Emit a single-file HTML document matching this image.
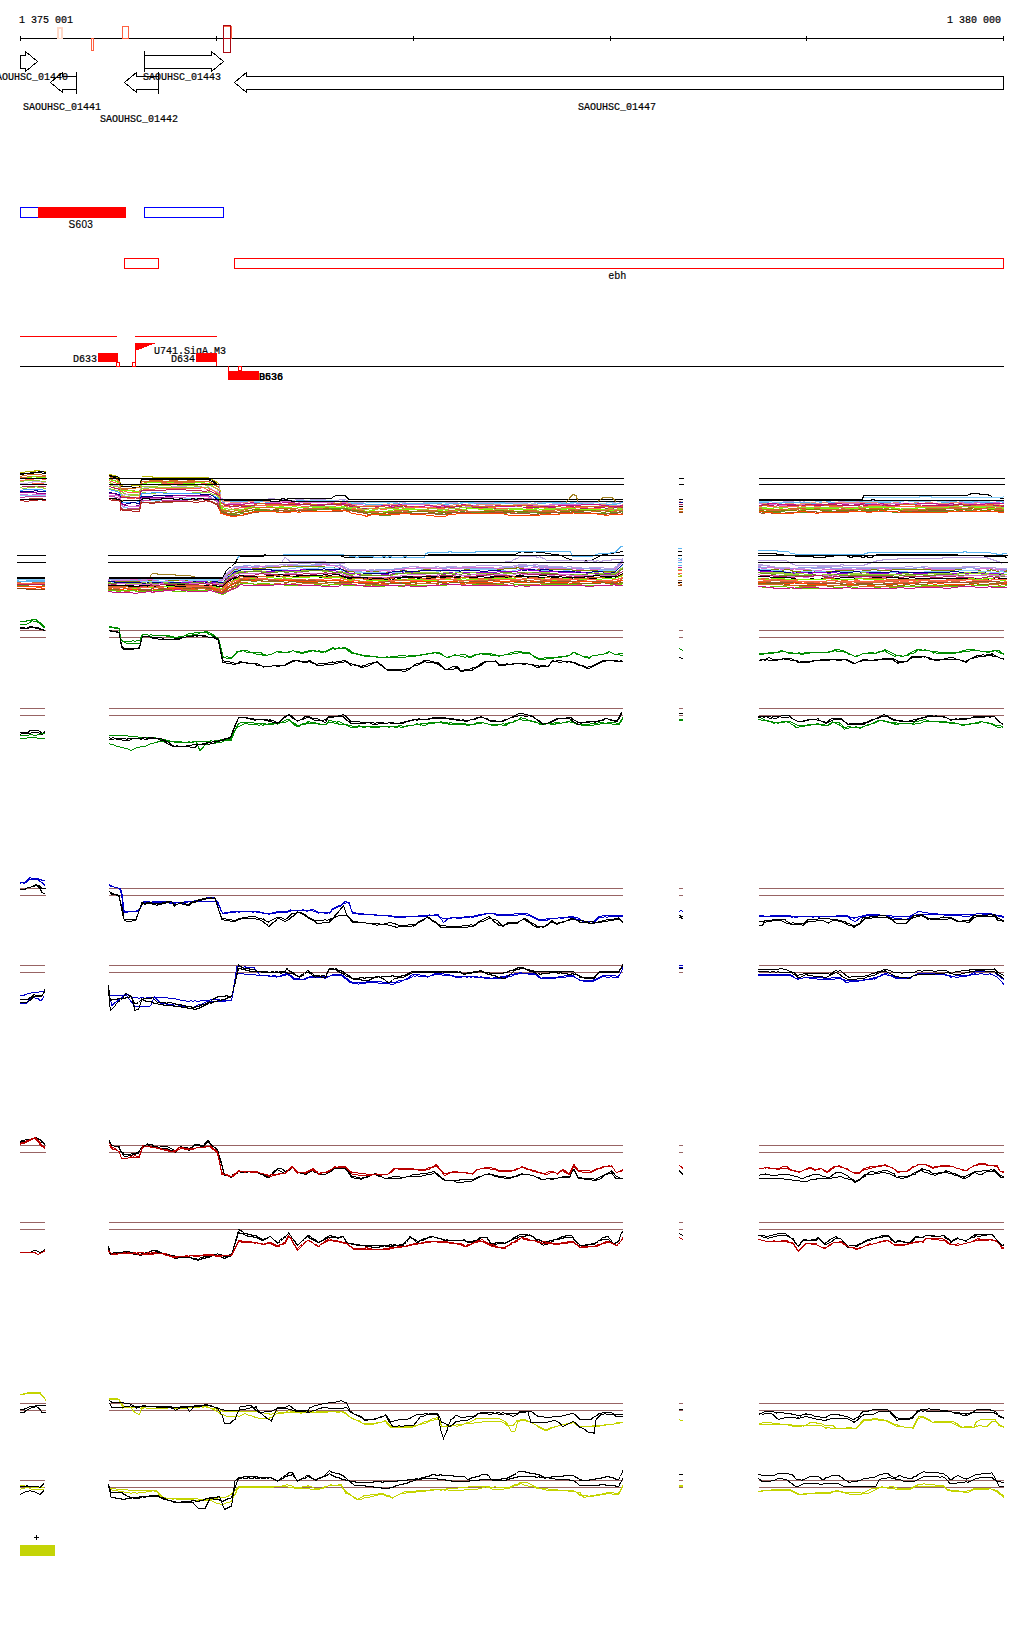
<!DOCTYPE html>
<html><head><meta charset="utf-8"><title>Genome browser</title>
<style>html,body{margin:0;padding:0;background:#fff;overflow:hidden;width:1024px;height:1640px;}svg{display:block;}</style></head>
<body><svg width="1024" height="1640" viewBox="0 0 1024 1640" shape-rendering="crispEdges">
<text x="19" y="23" font-family="Liberation Mono, monospace" font-size="10" stroke="#000" stroke-width="0.2" >1 375 001</text>
<text x="947" y="23" font-family="Liberation Mono, monospace" font-size="10" stroke="#000" stroke-width="0.2" >1 380 000</text>
<line x1="20" y1="38.5" x2="1004" y2="38.5" stroke="#000" stroke-width="1"/>
<line x1="20.5" y1="36" x2="20.5" y2="41" stroke="#000" stroke-width="1"/>
<line x1="216.5" y1="36" x2="216.5" y2="41" stroke="#000" stroke-width="1"/>
<line x1="413.5" y1="36" x2="413.5" y2="41" stroke="#000" stroke-width="1"/>
<line x1="610.5" y1="36" x2="610.5" y2="41" stroke="#000" stroke-width="1"/>
<line x1="806.5" y1="36" x2="806.5" y2="41" stroke="#000" stroke-width="1"/>
<line x1="1003.5" y1="36" x2="1003.5" y2="41" stroke="#000" stroke-width="1"/>
<rect x="57.5" y="27.5" width="5" height="11" fill="none" stroke="#ffd9c8" stroke-width="1"/>
<rect x="58.5" y="28.5" width="3" height="10" fill="none" stroke="#ffd9c8" stroke-width="1"/>
<rect x="91.5" y="38.5" width="2" height="12" fill="none" stroke="#ff6040" stroke-width="1"/>
<rect x="122.5" y="26.5" width="6" height="12" fill="none" stroke="#ff6040" stroke-width="1"/>
<rect x="223.5" y="26.5" width="8" height="12" fill="none" stroke="#ff6040" stroke-width="1"/>
<rect x="223.5" y="25.5" width="7" height="27" fill="none" stroke="#a80812" stroke-width="1"/>
<line x1="223.5" y1="38.5" x2="230.5" y2="38.5" stroke="#a80812" stroke-width="1"/>
<polygon points="20.5,55.5 25.5,55.5 25.5,51.5 37.5,61.5 25.5,71.5 25.5,68.5 20.5,68.5" fill="none" stroke="#000" stroke-width="1"/>
<polygon points="50.5,82.5 62.5,72.5 62.5,76.5 76.5,76.5 76.5,89.5 62.5,89.5 62.5,92.5" fill="none" stroke="#000" stroke-width="1"/>
<line x1="76.5" y1="72" x2="76.5" y2="94" stroke="#000" stroke-width="1"/>
<polygon points="124.5,82.5 136.5,72.5 136.5,76.5 158.5,76.5 158.5,89.5 136.5,89.5 136.5,92.5" fill="none" stroke="#000" stroke-width="1"/>
<line x1="158.5" y1="72" x2="158.5" y2="94" stroke="#000" stroke-width="1"/>
<polygon points="144.5,55.5 211.5,55.5 211.5,51.5 223.5,61.5 211.5,71.5 211.5,68.5 144.5,68.5" fill="none" stroke="#000" stroke-width="1"/>
<line x1="144.5" y1="51" x2="144.5" y2="72" stroke="#000" stroke-width="1"/>
<polygon points="234.5,82.5 246.5,72.5 246.5,76.5 1003.5,76.5 1003.5,89.5 246.5,89.5 246.5,92.5" fill="none" stroke="#000" stroke-width="1"/>
<text x="-10" y="80" font-family="Liberation Mono, monospace" font-size="10" stroke="#000" stroke-width="0.2" >SAOUHSC_01440</text>
<text x="23" y="110" font-family="Liberation Mono, monospace" font-size="10" stroke="#000" stroke-width="0.2" >SAOUHSC_01441</text>
<text x="100" y="122" font-family="Liberation Mono, monospace" font-size="10" stroke="#000" stroke-width="0.2" >SAOUHSC_01442</text>
<text x="143" y="80" font-family="Liberation Mono, monospace" font-size="10" stroke="#000" stroke-width="0.2" >SAOUHSC_01443</text>
<text x="578" y="110" font-family="Liberation Mono, monospace" font-size="10" stroke="#000" stroke-width="0.2" >SAOUHSC_01447</text>
<rect x="20.5" y="207.5" width="105" height="10" fill="none" stroke="#0000ff" stroke-width="1"/>
<rect x="38" y="207" width="88" height="11" fill="#ff0000"/>
<rect x="144.5" y="207.5" width="79" height="10" fill="none" stroke="#0000ff" stroke-width="1"/>
<text x="68.5" y="228" letter-spacing="0.35" font-family="Liberation Sans, Arial, sans-serif" font-size="10" stroke="#000" stroke-width="0.15">S603</text>
<rect x="124.5" y="258.5" width="34" height="10" fill="none" stroke="#ff0000" stroke-width="1"/>
<rect x="234.5" y="258.5" width="769" height="10" fill="none" stroke="#ff0000" stroke-width="1"/>
<text x="608.5" y="279" letter-spacing="0.4" font-family="Liberation Sans, Arial, sans-serif" font-size="10" stroke="#000" stroke-width="0.15">ebh</text>
<line x1="20" y1="336.5" x2="117" y2="336.5" stroke="#ff0000" stroke-width="1"/>
<line x1="135" y1="336.5" x2="217" y2="336.5" stroke="#ff0000" stroke-width="1"/>
<line x1="20" y1="366.5" x2="1004" y2="366.5" stroke="#000" stroke-width="1"/>
<rect x="98" y="353" width="20" height="9" fill="#ff0000"/>
<text x="73" y="362" font-family="Liberation Mono, monospace" font-size="10" stroke="#000" stroke-width="0.2" >D633</text>
<rect x="116.5" y="362.5" width="3" height="4" fill="none" stroke="#ff0000" stroke-width="1"/>
<rect x="132.5" y="362.5" width="3" height="4" fill="none" stroke="#ff0000" stroke-width="1"/>
<line x1="135.5" y1="343" x2="135.5" y2="362" stroke="#ff0000" stroke-width="1"/>
<polygon points="135,343 156,343 135,351" fill="#ff0000"/>
<text x="154" y="354" font-family="Liberation Mono, monospace" font-size="10" stroke="#000" stroke-width="0.2" >U741.SigA.M3</text>
<text x="171" y="362" font-family="Liberation Mono, monospace" font-size="10" stroke="#000" stroke-width="0.2" >D634</text>
<rect x="196" y="353" width="21" height="9" fill="#ff0000"/>
<line x1="216.5" y1="353" x2="216.5" y2="366" stroke="#ff0000" stroke-width="1"/>
<line x1="228.5" y1="366" x2="228.5" y2="371" stroke="#ff0000" stroke-width="1"/>
<rect x="228" y="371" width="31" height="9" fill="#ff0000"/>
<rect x="238.5" y="366.5" width="3" height="4" fill="none" stroke="#ff0000" stroke-width="1"/>
<text x="259" y="380" font-family="Liberation Mono, monospace" font-size="10" stroke="#000" stroke-width="0.2" >D636</text>
<text x="259" y="380" font-family="Liberation Mono, monospace" font-size="10" stroke="#000" stroke-width="0.2" >B536</text>
<path d="M34,1537.5H39M36.5,1535V1540" stroke="#000" stroke-width="1.2" fill="none"/>
<rect x="20" y="1545" width="35" height="11" fill="#c4d406"/>
<polyline points="109,474.5 117,477.5 117.2,477.5 119,477.5 120,482.5 120.5,484.5 121,485.5 124,484.5 125.8,484.5 135.4,485.5 139.5,485.5 140,484.5 141,480.5 141.5,478.5 143.5,478.5 153.0,478.5 156.2,478.5 162.5,478.5 172.1,477.5 179.6,478.5 188.9,478.5 192.7,479.5 199.0,479.5 203.7,478.5 208.7,478.5 210.5,478.5 210.5,478.5 217.5,482.5 217.5,482.5 219,483.5 220.6,494.5 221,497.5" fill="none" stroke="#b4b400" stroke-width="1"/>
<polyline points="109,475.5 114.2,477.5 117,478.5 119,479.5 120,483.5 120.5,485.5 121,486.5 122.9,486.5 124,486.5 129.3,486.5 134.5,487.5 139.5,487.5 140,486.5 140.8,482.5 141,481.5 141.5,478.5 148.8,479.5 152.2,479.5 162.0,479.5 165.2,479.5 173.4,479.5 182.3,479.5 185.5,478.5 194.0,478.5 199.5,477.5 206.6,477.5 208.7,478.5 209.6,480.5 210.5,479.5 213.0,480.5 217.2,484.5 217.5,484.5 219,484.5 221,498.5" fill="none" stroke="#000000" stroke-width="1"/>
<polyline points="109,476.5 117,479.5 117.8,480.5 119,481.5 120,485.5 120.5,487.5 121,488.5 124.0,488.5 124,488.5 129.9,488.5 133.3,488.5 139.5,487.5 140,487.5 141,483.5 141.5,481.5 142.7,481.5 146.0,481.5 152.4,480.5 161.3,480.5 165.2,479.5 173.3,480.5 183.0,481.5 190.4,480.5 198.9,481.5 202.6,481.5 208.7,481.5 208.7,481.5 210.5,482.5 212.7,483.5 217.5,486.5 219,486.5 221,499.5" fill="none" stroke="#d2691e" stroke-width="1"/>
<polyline points="109,478.5 116.8,481.5 117,481.5 119,482.5 120,486.5 120.5,489.5 121,490.5 121.9,489.5 124,489.5 131.5,490.5 139.1,491.5 139.5,490.5 140,490.5 141,485.5 141.5,483.5 146.1,482.5 149.2,482.5 156.0,482.5 160.8,482.5 168.5,482.5 174.7,482.5 183.4,482.5 191.0,482.5 199.6,482.5 205.0,481.5 208.7,481.5 210.5,482.5 212.5,484.5 217.5,486.5 219,487.5 220.7,498.5 221,499.5" fill="none" stroke="#cd6839" stroke-width="1"/>
<polyline points="109,479.5 113.6,480.5 117.0,481.5 117,481.5 119,483.5 120,487.5 120.5,489.5 120.9,490.5 121,490.5 124,490.5 126.1,490.5 130.4,490.5 134.7,491.5 138.0,491.5 139.5,492.5 140,491.5 141,485.5 141.5,484.5 144.3,483.5 149.9,482.5 157.2,482.5 164.3,483.5 169.0,482.5 178.3,483.5 181.3,483.5 187.2,483.5 192.1,483.5 198.0,482.5 201.8,482.5 208.7,483.5 210.5,483.5 210.6,484.5 216.2,488.5 217.5,488.5 219,489.5 219.5,492.5 221,501.5" fill="none" stroke="#7cfc00" stroke-width="1"/>
<polyline points="109,480.5 114.2,482.5 117,483.5 119,483.5 120,487.5 120.5,490.5 121,491.5 124,492.5 124.1,491.5 130.6,492.5 135.6,492.5 139.5,492.5 140,491.5 141,486.5 141.5,484.5 141.9,484.5 145.8,484.5 153.1,484.5 159.2,484.5 164.3,483.5 172.7,483.5 181.5,483.5 184.6,484.5 191.4,485.5 196.3,484.5 205.8,483.5 208.7,484.5 210.5,485.5 214.3,487.5 217.5,489.5 219,490.5 219.0,490.5 221,502.5" fill="none" stroke="#ff6347" stroke-width="1"/>
<polyline points="109,482.5 114.7,484.5 117,484.5 119,484.5 120,488.5 120.5,491.5 121,493.5 123.7,492.5 124,493.5 128.1,494.5 133.2,494.5 139.5,494.5 140,492.5 141,488.5 141.5,485.5 142.0,486.5 145.4,486.5 154.3,486.5 162.1,485.5 168.2,485.5 173.2,486.5 181.6,485.5 191.0,485.5 195.0,485.5 201.4,484.5 208.2,485.5 208.7,484.5 210.5,485.5 214.7,487.5 217.5,488.5 219,490.5 220.0,496.5 221,502.5" fill="none" stroke="#9acd32" stroke-width="1"/>
<polyline points="109,484.5 112.9,485.5 117,485.5 119.0,486.5 119,486.5 120,489.5 120.5,492.5 121,494.5 124,495.5 124.2,494.5 131.4,495.5 137.8,495.5 139.5,494.5 140,494.5 141,488.5 141.5,488.5 147.4,487.5 153.0,487.5 156.4,488.5 164.3,487.5 168.3,487.5 175.7,486.5 182.3,486.5 191.6,487.5 198.5,487.5 205.9,487.5 208.7,486.5 210.5,488.5 210.7,488.5 217.5,492.5 217.6,491.5 219,493.5 221,503.5" fill="none" stroke="#c8a8e8" stroke-width="1"/>
<polyline points="109,484.5 114.3,486.5 117,486.5 119,487.5 120,489.5 120.5,493.5 121,495.5 121.6,495.5 124,496.5 127.1,496.5 132.8,495.5 136.7,495.5 139.5,495.5 140,494.5 141,489.5 141.5,488.5 145.5,488.5 153.1,487.5 161.7,487.5 167.7,487.5 176.7,487.5 183.3,487.5 190.5,487.5 197.5,486.5 205.7,487.5 208.7,487.5 210.5,489.5 211.4,489.5 215.1,491.5 217.5,492.5 218.3,494.5 219,493.5 221,504.5" fill="none" stroke="#9acd32" stroke-width="1"/>
<polyline points="109,486.5 116.7,488.5 117,488.5 119,488.5 120,490.5 120.5,494.5 121,496.5 124,496.5 124.8,497.5 129.0,498.5 133.4,498.5 136.6,497.5 139.5,497.5 140,495.5 141,491.5 141.2,490.5 141.5,490.5 144.7,489.5 150.5,489.5 160.3,488.5 165.9,488.5 171.1,488.5 177.3,488.5 182.3,488.5 190.5,488.5 198.5,488.5 202.6,487.5 207.3,489.5 208.7,488.5 210.5,489.5 215.0,491.5 217.5,493.5 219,494.5 221,504.5" fill="none" stroke="#ff6347" stroke-width="1"/>
<polyline points="109,486.5 115.8,488.5 117,488.5 119,489.5 120,492.5 120.5,495.5 121,497.5 124,497.5 125.2,497.5 132.4,497.5 139.5,498.5 140,497.5 141,491.5 141.4,490.5 141.5,490.5 145.9,490.5 149.1,490.5 155.8,490.5 162.2,490.5 169.2,489.5 174.9,489.5 182.2,489.5 190.3,490.5 199.7,490.5 204.9,491.5 208.7,490.5 210.5,491.5 211.0,491.5 217.5,494.5 219,497.5 219.8,500.5 221,507.5" fill="none" stroke="#b0205a" stroke-width="1"/>
<polyline points="109,488.5 116.9,490.5 117,490.5 119,490.5 120,492.5 120.5,496.5 121,500.5 121.8,500.5 124,500.5 130.5,500.5 136.1,500.5 139.5,501.5 140,499.5 140.1,499.5 141,495.5 141.5,493.5 143.5,492.5 147.7,493.5 152.5,493.5 160.3,492.5 165.3,492.5 168.7,493.5 177.1,493.5 184.0,493.5 187.2,493.5 190.5,493.5 194.4,492.5 199.9,492.5 208.7,492.5 208.9,491.5 210.5,493.5 217.5,495.5 218.6,497.5 219,498.5 221,507.5" fill="none" stroke="#9acd32" stroke-width="1"/>
<polyline points="109,489.5 113.5,490.5 117,491.5 118.4,492.5 119,492.5 120,494.5 120.5,498.5 121,501.5 122.9,502.5 124,502.5 129.8,502.5 135.3,502.5 139.5,501.5 140,500.5 141,495.5 141.5,493.5 143.6,493.5 148.2,493.5 153.7,492.5 158.4,492.5 168.3,493.5 177.2,493.5 186.1,493.5 193.5,493.5 199.3,493.5 203.3,494.5 208.7,494.5 210.5,494.5 212.1,495.5 217.5,497.5 218.5,499.5 219,499.5 221,508.5" fill="none" stroke="#3c9cff" stroke-width="1"/>
<polyline points="109,492.5 115.7,493.5 117,494.5 119,494.5 120,495.5 120.5,499.5 120.6,500.5 121,502.5 124,504.5 124.2,504.5 127.8,503.5 133.3,502.5 139.5,503.5 140,501.5 140.4,499.5 141,497.5 141.5,496.5 148.7,496.5 156.7,495.5 161.8,495.5 171.3,495.5 176.2,495.5 184.3,495.5 187.8,495.5 196.0,495.5 203.7,494.5 208.7,494.5 210.5,494.5 213.4,496.5 217.5,499.5 219,500.5 221,508.5" fill="none" stroke="#000080" stroke-width="1"/>
<polyline points="109,493.5 113.6,493.5 117,494.5 117.0,494.5 119,495.5 120,497.5 120.5,501.5 121,503.5 124.0,504.5 124,505.5 132.8,506.5 139.5,505.5 140,504.5 141,498.5 141.5,498.5 141.9,497.5 150.0,497.5 155.9,497.5 161.9,497.5 168.6,496.5 178.0,495.5 183.1,495.5 188.0,495.5 195.3,495.5 205.0,495.5 208.7,495.5 209.4,496.5 210.5,496.5 212.6,498.5 216.4,500.5 217.5,500.5 219,503.5 221,511.5" fill="none" stroke="#8b008b" stroke-width="1"/>
<polyline points="109,495.5 117,495.5 118.8,496.5 119,496.5 120,497.5 120.5,500.5 121,504.5 122.5,505.5 124,506.5 126.2,507.5 129.7,506.5 134.1,506.5 139.5,506.5 139.7,505.5 140,505.5 141,499.5 141.5,498.5 145.9,498.5 153.7,498.5 161.9,498.5 165.5,497.5 171.3,497.5 178.1,497.5 183.7,497.5 187.6,496.5 194.7,496.5 200.4,496.5 208.1,496.5 208.7,497.5 210.5,497.5 214.6,499.5 217.5,501.5 219,503.5 221,509.5" fill="none" stroke="#da70d6" stroke-width="1"/>
<polyline points="109,496.5 112.0,496.5 117,497.5 119,498.5 120,499.5 120.4,502.5 120.5,502.5 121,505.5 124,507.5 125.9,507.5 129.0,508.5 133.8,508.5 139.5,509.5 140,506.5 140.0,506.5 141,501.5 141.5,501.5 145.7,500.5 152.3,500.5 155.7,500.5 160.2,500.5 170.0,500.5 176.1,499.5 182.4,499.5 186.0,498.5 191.0,498.5 200.7,498.5 208.5,498.5 208.7,498.5 210.5,497.5 215.0,500.5 217.5,501.5 218.4,503.5 219,505.5 221,512.5" fill="none" stroke="#87cefa" stroke-width="1"/>
<polyline points="109,496.5 112.1,496.5 117,497.5 119,498.5 120,498.5 120.5,503.5 120.9,506.5 121,507.5 124,509.5 130.7,508.5 137.8,508.5 139.5,508.5 140,506.5 141,501.5 141.5,500.5 141.8,500.5 146.5,500.5 155.9,499.5 165.5,500.5 168.7,500.5 173.0,500.5 179.0,500.5 183.8,500.5 192.1,499.5 197.7,499.5 206.2,498.5 208.7,498.5 210.2,498.5 210.5,498.5 216.8,501.5 217.5,502.5 219,505.5 221,512.5" fill="none" stroke="#c040a0" stroke-width="1"/>
<polyline points="109,498.5 115.7,499.5 117,499.5 119,499.5 120,500.5 120.5,504.5 121,508.5 123.7,509.5 124,509.5 133.3,509.5 139.5,509.5 140,507.5 141,502.5 141.5,501.5 142.9,502.5 152.8,502.5 157.9,501.5 162.1,502.5 171.6,502.5 175.2,501.5 181.3,501.5 189.5,501.5 196.2,500.5 201.9,501.5 208.7,500.5 210.5,501.5 211.4,501.5 216.5,503.5 217.5,503.5 219,507.5 221,512.5" fill="none" stroke="#a0522d" stroke-width="1"/>
<polyline points="109,499.5 112.3,500.5 117,500.5 119,500.5 120,501.5 120.5,505.5 121,510.5 121.1,509.5 124,510.5 127.5,510.5 136.6,511.5 139.5,511.5 139.9,509.5 140,509.5 141,503.5 141.5,502.5 147.0,502.5 150.9,503.5 158.9,502.5 166.2,501.5 173.5,501.5 178.0,501.5 187.7,501.5 191.4,501.5 194.9,502.5 202.7,501.5 206.3,500.5 208.7,501.5 209.8,501.5 210.5,501.5 216.0,504.5 217.5,505.5 219,508.5 221,512.5" fill="none" stroke="#b22222" stroke-width="1"/>
<polyline points="219,484.5 221,498.5 224.5,499.5 225.8,499.5 231.6,500.5 235.1,499.5 241.9,500.5 242.1,500.5 249.6,499.5 254.4,500.5 255.5,499.5 264.0,499.5 272.9,498.5 277.9,499.5 281.7,499.5 285,499.5 286.5,500.5 292.0,500.5 297.6,499.5 301.2,499.5 306.1,500.5 313.5,499.5 321.0,499.5 330.6,500.5 334.5,500.5 342.9,499.5 345,499.5 346.8,500.5 348.2,501.5 350,501.5 351.9,502.5 359.4,502.5 367.9,501.5 368.3,501.5 375.3,501.5 378.7,502.5 388.5,502.5 389,502.5 394.2,502.5 401.6,501.5 403,502.5 409.7,501.5 414.5,501.5 420.4,501.5 425.7,502.5 429.4,501.5 432.8,502.5 440.8,502.5 445.2,502.5 446.7,502.5 455.8,502.5 459.2,503.5 460,503.5 464.3,502.5 468.6,502.5 478.2,502.5 486.7,502.5 496.0,502.5 502.6,502.5 506.3,502.5 512.2,502.5 516.8,502.5 520.0,502.5 526.9,503.5 532.0,501.5 535.7,502.5 537.9,502.5 542.3,502.5 551.8,502.5 561.4,502.5 567.7,503.5 571.4,503.5 573,502.5 579.8,502.5 583.6,502.5 590.4,502.5 594.0,502.5 603.9,503.5 610.7,502.5 615.2,502.5 616.7,501.5 621.6,502.5 623,502.5" fill="none" stroke="#b8a0e0" stroke-width="1"/>
<polyline points="219,486.5 221,499.5 222.3,499.5 224.5,500.5 229.0,500.5 231.6,500.5 235.4,500.5 239.2,500.5 242.1,501.5 243.7,501.5 253.5,501.5 254.4,501.5 262.4,501.5 267.1,501.5 275.9,501.5 283.5,501.5 285,501.5 289.2,501.5 296.7,501.5 297.6,501.5 301.3,501.5 306.2,501.5 309.3,500.5 316.9,500.5 323.9,500.5 332.1,500.5 338.7,501.5 344.7,500.5 345,501.5 346.8,502.5 349.9,503.5 350,502.5 358.0,503.5 363.6,503.5 367.9,502.5 370.8,502.5 379.1,502.5 385.2,502.5 389,502.5 393.0,502.5 396.4,501.5 401.3,502.5 403,503.5 410.1,503.5 414.2,503.5 417.6,504.5 420.7,503.5 429.0,502.5 432.8,502.5 439.0,502.5 445.1,502.5 445.2,503.5 453.7,503.5 460,503.5 460.0,503.5 466.7,504.5 469.8,503.5 478.4,503.5 486.8,503.5 494.1,503.5 503.0,503.5 510.3,503.5 518.3,503.5 527.3,502.5 534.6,503.5 537.7,502.5 537.9,503.5 546.9,502.5 556.8,503.5 561.2,503.5 564.7,502.5 570.1,503.5 573,503.5 573.8,502.5 579.4,503.5 583.0,503.5 587.5,503.5 590.6,503.5 596.6,502.5 601.7,503.5 609.8,502.5 615.2,503.5 615.5,503.5 619.6,503.5 623,502.5" fill="none" stroke="#87cefa" stroke-width="1"/>
<polyline points="219,487.5 221,500.5 224.5,502.5 225.3,501.5 231.4,501.5 231.6,501.5 235.4,501.5 240.4,501.5 242.1,501.5 246.5,501.5 250.0,501.5 254.4,502.5 257.8,502.5 262.5,501.5 267.5,502.5 271.1,502.5 276.2,501.5 285,501.5 285.8,501.5 290.8,501.5 294.5,501.5 297.6,500.5 299.9,500.5 309.5,501.5 313.1,501.5 318.5,501.5 323.0,501.5 330.8,501.5 337.0,501.5 340.7,501.5 345,501.5 346.8,501.5 349.7,503.5 350,503.5 355.0,503.5 362.8,503.5 367.9,504.5 369.0,504.5 378.1,504.5 381.5,504.5 386.1,504.5 389,503.5 391.1,504.5 395.9,503.5 403,504.5 404.7,503.5 411.2,503.5 416.6,503.5 423.2,503.5 432.1,503.5 439.1,503.5 445.2,504.5 445.3,504.5 452.9,503.5 460,503.5 460.2,502.5 466.0,502.5 472.0,502.5 475.9,503.5 482.0,503.5 491.1,503.5 496.3,502.5 501.8,502.5 509.1,503.5 516.2,504.5 520.4,504.5 526.5,505.5 534.7,505.5 537.9,504.5 538.0,503.5 541.7,503.5 550.0,502.5 559.4,502.5 562.8,503.5 566.4,503.5 573,502.5 573.8,502.5 578.8,503.5 586.4,504.5 589.6,504.5 595.8,504.5 599.9,504.5 605.3,504.5 613.1,504.5 615.2,504.5 619.7,503.5 623,502.5" fill="none" stroke="#5ab4f0" stroke-width="1"/>
<polyline points="219,487.5 221,499.5 224.5,501.5 225.2,501.5 229.0,501.5 231.6,502.5 232.6,502.5 237.3,502.5 242.1,502.5 242.9,502.5 252.6,501.5 254.4,500.5 259.0,500.5 267.9,501.5 276.1,501.5 283.2,501.5 285,501.5 288.5,501.5 294.2,501.5 297.6,501.5 299.5,502.5 306.9,502.5 315.9,502.5 324.4,502.5 329.5,503.5 333.5,502.5 336.6,501.5 343.7,502.5 345,502.5 346.8,502.5 348.3,503.5 350,503.5 351.3,504.5 356.4,504.5 361.0,504.5 365.5,505.5 367.9,505.5 373.1,505.5 380.2,505.5 385.2,504.5 389,504.5 393.3,504.5 397.8,504.5 403,504.5 407.2,504.5 411.0,504.5 418.2,504.5 426.1,504.5 434.2,505.5 440.6,504.5 445.2,505.5 449.7,505.5 457.2,504.5 460,505.5 465.0,504.5 468.5,504.5 472.8,505.5 479.1,504.5 485.9,504.5 489.6,504.5 497.8,504.5 503.2,505.5 509.5,505.5 516.2,504.5 525.1,504.5 530.2,504.5 537.1,504.5 537.9,505.5 544.3,505.5 551.9,505.5 557.1,504.5 562.1,504.5 568.4,504.5 573,505.5 575.6,505.5 583.1,504.5 587.0,504.5 593.1,504.5 600.1,504.5 604.4,504.5 608.1,505.5 615.2,505.5 617.6,505.5 620.8,505.5 623,504.5" fill="none" stroke="#e9967a" stroke-width="1"/>
<polyline points="219,490.5 221,502.5 224.5,503.5 225.9,504.5 229.3,503.5 231.6,503.5 239.0,503.5 242.1,502.5 244.2,503.5 250.7,503.5 254.0,503.5 254.4,503.5 258.3,503.5 267.8,503.5 272.8,502.5 277.9,502.5 285,501.5 286.6,501.5 291.3,501.5 297.6,501.5 298.9,502.5 305.9,502.5 315.2,502.5 321.5,502.5 326.8,502.5 331.6,502.5 337.2,503.5 340.2,503.5 344.0,502.5 345,502.5 346.8,503.5 348.1,504.5 350,504.5 353.3,505.5 361.6,504.5 367.9,506.5 371.2,506.5 376.7,506.5 381.5,505.5 386.5,505.5 389,506.5 393.9,506.5 400.3,505.5 403,504.5 404.1,504.5 410.8,504.5 415.6,504.5 419.6,504.5 428.1,505.5 431.9,506.5 438.0,506.5 445.2,506.5 446.3,505.5 453.1,506.5 460,506.5 462.2,505.5 467.5,506.5 477.1,505.5 480.4,506.5 489.6,505.5 495.6,506.5 498.6,506.5 503.5,506.5 513.4,506.5 521.4,505.5 529.6,505.5 537.9,505.5 538.2,506.5 541.3,506.5 546.4,505.5 552.7,504.5 562.0,504.5 571.4,504.5 573,504.5 575.5,504.5 585.4,504.5 592.2,504.5 597.4,504.5 601.0,505.5 606.9,505.5 613.6,506.5 615.2,506.5 619.8,505.5 623,505.5" fill="none" stroke="#da70d6" stroke-width="1"/>
<polyline points="219,491.5 221,502.5 223.4,503.5 224.5,504.5 231.5,504.5 231.6,504.5 239.8,504.5 242.1,504.5 247.1,503.5 253.5,502.5 254.4,503.5 261.5,503.5 267.5,503.5 271.9,503.5 276.4,503.5 280.2,503.5 283.5,502.5 285,502.5 293.1,502.5 297.6,503.5 302.8,504.5 308.2,503.5 314.1,504.5 319.0,504.5 327.5,504.5 334.0,503.5 338.2,503.5 345,503.5 346.8,504.5 347.3,504.5 350,504.5 356.8,506.5 360.2,506.5 366.4,506.5 367.9,506.5 370.9,506.5 378.4,506.5 383.9,505.5 389.0,505.5 389,506.5 394.1,505.5 401.4,504.5 403,505.5 407.9,506.5 414.3,506.5 422.1,506.5 428.4,505.5 438.0,506.5 444.1,505.5 445.2,506.5 452.6,506.5 460,505.5 462.1,504.5 469.5,505.5 476.6,506.5 485.1,506.5 493.1,506.5 497.5,505.5 503.4,506.5 507.5,506.5 510.6,506.5 518.5,505.5 523.8,505.5 528.5,505.5 531.7,505.5 534.9,506.5 537.9,506.5 542.6,506.5 548.1,506.5 554.1,506.5 561.9,505.5 571.2,505.5 573,505.5 579.1,505.5 583.7,504.5 593.6,504.5 597.9,504.5 604.9,505.5 612.4,506.5 615.2,506.5 617.5,506.5 623,505.5" fill="none" stroke="#c71585" stroke-width="1"/>
<polyline points="219,493.5 221,503.5 224.5,504.5 227.3,505.5 231.6,506.5 235.0,505.5 241.0,505.5 242.1,505.5 250.2,505.5 253.4,505.5 254.4,504.5 260.2,503.5 269.2,504.5 278.3,504.5 282.7,504.5 285,504.5 291.3,503.5 297.6,504.5 298.1,504.5 307.6,503.5 312.9,504.5 320.6,505.5 328.0,504.5 338.0,503.5 343.4,504.5 345,504.5 346.8,504.5 349.1,505.5 350,505.5 353.0,506.5 360.7,506.5 364.2,506.5 367.9,506.5 373.2,506.5 377.2,507.5 381.5,506.5 389,507.5 391.2,507.5 397.7,506.5 403,505.5 406.0,505.5 411.4,507.5 416.1,506.5 421.7,507.5 431.5,508.5 435.9,508.5 445.2,507.5 445.2,507.5 454.4,506.5 460,505.5 462.2,505.5 467.0,505.5 475.1,506.5 484.5,506.5 491.6,506.5 496.2,506.5 503.4,505.5 513.1,505.5 520.3,506.5 524.3,505.5 528.7,506.5 536.1,506.5 537.9,506.5 539.5,506.5 542.5,507.5 548.1,507.5 552.9,507.5 559.3,506.5 562.9,507.5 569.8,506.5 573,507.5 577.5,506.5 582.7,506.5 589.8,506.5 596.5,506.5 605.0,506.5 612.0,507.5 615.2,507.5 619.5,507.5 623,506.5" fill="none" stroke="#d2691e" stroke-width="1"/>
<polyline points="219,495.5 221,505.5 224.5,506.5 224.9,505.5 230.5,506.5 231.6,506.5 237.6,506.5 240.6,505.5 242.1,506.5 246.9,506.5 254.4,505.5 256.1,505.5 265.8,505.5 273.6,505.5 281.4,505.5 285,504.5 288.7,504.5 297.6,504.5 298.7,504.5 307.2,504.5 313.4,505.5 319.9,505.5 329.5,504.5 336.3,504.5 343.5,504.5 345,505.5 346.8,505.5 348.7,505.5 350,506.5 356.3,507.5 362.7,508.5 367.9,508.5 372.3,508.5 382.3,508.5 389,508.5 392.3,507.5 402.0,506.5 403,507.5 405.3,506.5 408.8,507.5 414.1,507.5 422.9,507.5 429.8,507.5 434.6,507.5 438.3,507.5 443.1,508.5 445.2,507.5 447.0,506.5 451.0,507.5 459.2,506.5 460,506.5 463.6,507.5 467.7,508.5 475.1,507.5 479.0,507.5 487.8,507.5 495.4,508.5 504.5,508.5 512.6,508.5 520.7,508.5 525.6,507.5 531.5,507.5 537.2,507.5 537.9,507.5 542.9,506.5 552.3,507.5 558.4,508.5 567.0,507.5 573,506.5 574.4,507.5 578.0,507.5 582.4,508.5 589.5,508.5 598.0,507.5 602.6,507.5 607.4,508.5 613.0,508.5 615.2,507.5 619.2,506.5 623,507.5" fill="none" stroke="#b0205a" stroke-width="1"/>
<polyline points="219,496.5 221,505.5 224.5,506.5 228.5,506.5 231.6,508.5 232.6,509.5 236.3,508.5 242.1,507.5 244.1,507.5 250.1,507.5 254.4,506.5 256.3,505.5 261.0,505.5 269.3,505.5 277.8,505.5 285,505.5 285.9,505.5 291.9,505.5 297.6,505.5 298.3,505.5 304.1,506.5 310.3,506.5 315.6,506.5 321.9,506.5 331.6,506.5 340.2,505.5 344.2,506.5 345,506.5 346.8,506.5 350,507.5 351.9,508.5 360.6,509.5 366.0,509.5 367.9,508.5 375.3,508.5 384.8,509.5 388.3,508.5 389,508.5 395.7,508.5 401.4,507.5 403,508.5 407.6,507.5 414.5,507.5 423.5,507.5 430.9,507.5 440.1,508.5 444.9,508.5 445.2,509.5 453.5,508.5 459.2,508.5 460,507.5 463.5,507.5 472.1,508.5 479.1,508.5 483.7,508.5 493.0,507.5 499.4,508.5 507.1,508.5 517.0,508.5 522.3,509.5 529.1,508.5 535.9,509.5 537.9,508.5 540.9,507.5 547.7,508.5 557.4,508.5 565.3,507.5 570.2,507.5 573,508.5 578.0,507.5 585.3,507.5 590.9,508.5 598.6,508.5 604.2,509.5 612.7,509.5 615.2,510.5 618.4,508.5 623,508.5" fill="none" stroke="#ff6347" stroke-width="1"/>
<polyline points="219,497.5 221,505.5 223.2,507.5 224.5,508.5 231.6,509.5 232.7,509.5 239.7,509.5 242.1,509.5 248.6,507.5 254.4,506.5 255.0,507.5 261.5,507.5 271.2,506.5 275.1,507.5 279.6,507.5 285,507.5 288.6,507.5 295.8,506.5 297.6,507.5 304.2,507.5 314.2,506.5 322.6,506.5 329.9,506.5 338.1,507.5 344.9,507.5 345,506.5 346.8,507.5 349.4,507.5 350,507.5 354.7,507.5 364.1,509.5 367.9,509.5 370.8,508.5 374.0,509.5 381.5,508.5 389,508.5 391.5,508.5 398.9,507.5 403,507.5 405.3,508.5 411.5,508.5 418.9,509.5 426.2,509.5 432.6,508.5 442.0,509.5 445.2,509.5 451.2,508.5 459.7,508.5 460,507.5 467.7,507.5 475.8,508.5 480.1,509.5 486.6,508.5 491.4,508.5 495.9,509.5 505.5,509.5 510.1,508.5 518.9,508.5 527.7,509.5 533.5,509.5 536.7,509.5 537.9,510.5 540.9,509.5 548.5,508.5 556.4,508.5 561.9,508.5 569.1,508.5 573,508.5 573.2,509.5 580.8,509.5 589.3,509.5 597.8,509.5 604.7,509.5 611.7,508.5 614.8,509.5 615.2,509.5 619.6,508.5 623,508.5" fill="none" stroke="#9acd32" stroke-width="1"/>
<polyline points="219,499.5 221,507.5 222.2,508.5 224.5,509.5 227.8,510.5 231.6,511.5 237.5,510.5 242.1,510.5 244.0,509.5 249.6,507.5 254.4,507.5 255.8,508.5 263.7,507.5 270.2,506.5 276.1,507.5 283.1,506.5 285,507.5 288.1,507.5 295.8,506.5 297.6,507.5 301.8,507.5 309.7,508.5 315.2,507.5 322.6,507.5 327.0,507.5 333.4,507.5 339.9,507.5 343.0,506.5 345,506.5 346.8,507.5 346.9,508.5 350,508.5 353.1,509.5 361.4,510.5 367.9,511.5 370.1,510.5 379.0,511.5 387.7,511.5 389,510.5 397.4,509.5 401.8,509.5 403,509.5 405.9,509.5 409.8,509.5 418.4,509.5 422.7,510.5 427.9,510.5 431.9,510.5 441.3,510.5 445.2,511.5 445.7,510.5 450.4,510.5 457.5,510.5 460,509.5 465.4,509.5 468.7,508.5 475.8,508.5 482.5,509.5 489.4,509.5 496.0,510.5 504.6,510.5 513.3,509.5 522.3,509.5 527.7,509.5 530.9,509.5 537.2,508.5 537.9,508.5 540.4,509.5 547.9,509.5 554.2,509.5 562.5,509.5 571.3,508.5 573,508.5 579.4,509.5 587.3,509.5 592.6,509.5 600.7,509.5 608.2,510.5 612.7,510.5 615.2,510.5 621.8,509.5 623,509.5" fill="none" stroke="#7cfc00" stroke-width="1"/>
<polyline points="219,501.5 221,509.5 224.5,510.5 226.0,510.5 230.9,511.5 231.6,511.5 236.7,510.5 240.1,511.5 242.1,510.5 246.0,509.5 254.4,507.5 254.7,507.5 260.4,507.5 266.7,507.5 270.9,507.5 278.9,508.5 284.8,508.5 285,508.5 290.5,508.5 297.6,508.5 298.9,509.5 304.0,509.5 307.5,509.5 315.0,508.5 323.2,508.5 326.5,507.5 332.0,508.5 341.2,508.5 345,508.5 346.8,509.5 347.7,509.5 350,510.5 353.6,509.5 357.5,510.5 362.5,510.5 367.9,512.5 369.6,511.5 379.0,511.5 386.7,512.5 389,512.5 396.4,510.5 402.3,510.5 403,510.5 405.8,510.5 411.2,511.5 416.7,511.5 420.1,510.5 423.7,510.5 433.1,510.5 442.3,511.5 445.2,511.5 446.3,511.5 449.8,510.5 459.7,509.5 460,509.5 463.9,510.5 469.0,511.5 473.6,511.5 478.0,511.5 481.2,511.5 487.5,510.5 495.9,510.5 499.4,511.5 505.8,510.5 509.8,510.5 518.3,511.5 527.6,510.5 536.7,510.5 537.9,511.5 543.5,511.5 547.5,511.5 555.5,511.5 559.0,510.5 567.4,510.5 572.5,510.5 573,510.5 581.7,510.5 586.7,510.5 594.9,511.5 601.4,510.5 606.1,510.5 612.5,511.5 615.2,511.5 618.5,510.5 622.6,510.5 623,510.5" fill="none" stroke="#d2691e" stroke-width="1"/>
<polyline points="219,501.5 221,509.5 224.5,511.5 227.9,511.5 231.6,512.5 232.9,513.5 241.3,512.5 242.1,511.5 247.2,510.5 251.2,510.5 254.4,509.5 261.0,509.5 265.0,509.5 268.7,509.5 271.9,510.5 277.4,510.5 280.6,510.5 284.7,510.5 285,510.5 294.2,509.5 297.6,508.5 299.0,509.5 307.0,508.5 311.5,508.5 314.6,508.5 317.7,508.5 321.5,508.5 331.2,509.5 337.4,509.5 342.1,508.5 345,509.5 345.5,508.5 346.8,508.5 350,509.5 353.0,510.5 358.2,511.5 362.4,512.5 367.9,513.5 368.5,512.5 376.5,512.5 381.9,513.5 388.8,511.5 389,511.5 393.1,511.5 400.0,511.5 403,510.5 403.3,511.5 412.8,511.5 422.3,510.5 429.3,511.5 435.6,511.5 441.4,512.5 445.2,512.5 449.7,511.5 456.7,511.5 460,510.5 464.7,510.5 470.8,511.5 476.6,511.5 484.6,511.5 488.9,511.5 494.3,511.5 499.0,511.5 503.4,511.5 512.5,512.5 517.6,511.5 525.8,511.5 529.1,511.5 537.9,511.5 538.6,511.5 544.9,510.5 553.1,510.5 556.8,509.5 564.1,510.5 572.8,509.5 573,509.5 577.8,509.5 581.4,510.5 587.1,510.5 595.5,510.5 603.8,510.5 607.3,511.5 612.5,511.5 615.2,510.5 622.0,510.5 623,509.5" fill="none" stroke="#cd6839" stroke-width="1"/>
<polyline points="219,503.5 221,510.5 224.5,512.5 228.7,513.5 231.6,513.5 238.5,512.5 241.7,512.5 242.1,512.5 250.6,510.5 254.4,509.5 257.6,509.5 262.1,509.5 271.2,510.5 275.1,509.5 282.5,510.5 285,509.5 290.2,510.5 297.6,510.5 298.1,511.5 302.8,510.5 306.8,510.5 314.3,510.5 319.3,509.5 326.6,508.5 334.7,509.5 338.0,509.5 345,508.5 346.0,509.5 346.8,509.5 350,510.5 355.9,510.5 361.7,511.5 367.9,512.5 368.7,512.5 374.0,513.5 383.2,513.5 387.8,512.5 389,512.5 391.5,512.5 398.0,512.5 403,512.5 404.1,512.5 411.1,511.5 415.5,511.5 425.0,511.5 431.7,512.5 437.5,511.5 445.2,512.5 445.7,513.5 449.0,512.5 458.4,512.5 460,512.5 467.3,512.5 472.1,512.5 478.2,512.5 481.5,511.5 490.0,511.5 499.9,510.5 507.0,511.5 516.9,511.5 523.2,511.5 532.3,512.5 537.9,512.5 541.2,512.5 550.7,512.5 556.9,512.5 563.4,511.5 566.7,511.5 573,510.5 576.3,511.5 579.9,510.5 587.0,510.5 594.2,510.5 598.5,511.5 603.9,512.5 609.0,511.5 612.1,512.5 615.2,512.5 617.9,512.5 623,511.5" fill="none" stroke="#808000" stroke-width="1"/>
<polyline points="219,505.5 221,512.5 224.5,513.5 228.7,515.5 231.6,514.5 237.9,514.5 241.7,513.5 242.1,513.5 245.6,513.5 254.4,511.5 254.6,510.5 260.7,510.5 268.2,510.5 275.4,511.5 282.7,512.5 285,511.5 292.0,511.5 296.1,511.5 297.6,510.5 305.1,510.5 309.9,509.5 313.5,509.5 318.5,509.5 325.1,509.5 333.8,508.5 340.8,508.5 345,508.5 346.8,508.5 350,509.5 350.6,510.5 354.9,511.5 360.6,512.5 367.6,513.5 367.9,514.5 374.7,514.5 382.6,515.5 389,515.5 389.2,515.5 392.9,514.5 401.3,513.5 403,512.5 409.9,512.5 413.4,513.5 422.1,513.5 425.1,513.5 432.9,513.5 440.3,513.5 445.2,514.5 445.4,514.5 449.0,513.5 453.8,512.5 460,512.5 461.2,511.5 467.9,512.5 476.6,512.5 480.8,512.5 488.1,512.5 493.3,512.5 496.6,513.5 500.9,513.5 504.7,513.5 508.8,512.5 512.0,513.5 521.9,512.5 527.4,512.5 535.7,512.5 537.9,513.5 541.6,513.5 548.2,513.5 553.0,512.5 562.6,513.5 567.1,512.5 573,512.5 576.8,512.5 585.2,512.5 594.3,513.5 598.0,513.5 607.9,513.5 615.2,512.5 615.5,512.5 622.5,511.5 623,512.5" fill="none" stroke="#6b8e23" stroke-width="1"/>
<polyline points="219,506.5 221,511.5 224.5,513.5 226.2,513.5 231.6,515.5 232.3,515.5 241.5,515.5 242.1,515.5 249.6,513.5 254.4,512.5 255.2,512.5 262.7,511.5 267.2,511.5 276.8,510.5 280.9,510.5 285,511.5 290.3,511.5 297.1,510.5 297.6,510.5 301.1,510.5 311.0,510.5 315.4,511.5 323.1,511.5 327.9,511.5 331.9,511.5 340.4,511.5 345,510.5 346.8,510.5 349.7,511.5 350,510.5 358.9,512.5 366.6,513.5 367.9,514.5 374.1,514.5 378.2,514.5 388.2,514.5 389,513.5 393.5,513.5 401.0,513.5 403,513.5 404.1,512.5 409.3,513.5 416.0,513.5 422.3,513.5 428.2,513.5 433.9,513.5 437.0,514.5 444.6,514.5 445.2,513.5 450.0,513.5 453.8,512.5 459.4,512.5 460,512.5 467.1,512.5 475.3,513.5 481.2,513.5 485.0,513.5 492.4,512.5 499.6,512.5 506.0,512.5 515.8,513.5 521.3,513.5 528.0,513.5 531.2,514.5 535.1,514.5 537.9,514.5 539.5,513.5 543.8,512.5 548.0,513.5 551.8,512.5 561.2,512.5 568.3,512.5 573,511.5 574.8,511.5 581.7,511.5 586.7,512.5 595.7,513.5 603.9,514.5 609.9,513.5 613.0,513.5 615.2,513.5 616.0,513.5 619.3,512.5 623,513.5" fill="none" stroke="#a0522d" stroke-width="1"/>
<polyline points="219,508.5 221,513.5 224.5,514.5 224.8,514.5 231.6,516.5 232.5,516.5 242.0,515.5 242.1,515.5 245.4,513.5 252.6,512.5 254.4,511.5 260.2,511.5 264.1,511.5 267.8,511.5 273.1,511.5 278.5,512.5 285,512.5 286.4,512.5 296.2,511.5 297.6,512.5 303.8,511.5 309.8,511.5 319.8,511.5 329.3,511.5 335.4,510.5 341.7,510.5 345,510.5 346.8,511.5 348.3,511.5 350,512.5 352.1,513.5 359.6,514.5 367.5,516.5 367.9,515.5 373.9,514.5 381.0,514.5 389,514.5 390.3,514.5 397.7,514.5 403,513.5 405.5,513.5 414.7,514.5 422.8,514.5 429.0,515.5 438.7,516.5 445.2,516.5 448.4,514.5 451.9,514.5 460,513.5 461.9,513.5 466.1,513.5 475.2,513.5 482.7,513.5 491.2,513.5 496.6,513.5 501.6,513.5 505.9,514.5 509.7,515.5 513.5,515.5 517.7,515.5 526.4,515.5 533.2,515.5 537.9,515.5 542.2,514.5 552.1,514.5 558.2,514.5 562.4,513.5 571.7,513.5 573,512.5 575.5,513.5 582.1,513.5 591.0,513.5 594.9,513.5 599.8,514.5 607.3,515.5 611.0,514.5 615.2,514.5 620.1,514.5 623,514.5" fill="none" stroke="#ff4500" stroke-width="1"/>
<polyline points="109,474.5 111,474.5 113,475.5 115,475.5 117,476.5 119,477.5" fill="none" stroke="#b4b400" stroke-width="1"/>
<polyline points="109,475.5 111,475.5 113,476.5 115,476.5 117,476.5 119,477.5" fill="none" stroke="#000000" stroke-width="1"/>
<polyline points="142,476.5 144,476.5 146,476.5 148,476.5 150,476.5 152,476.5 153,477.5 154,477.5 156,477.5 158,477.5 160,477.5 162,477.5 164,477.5 166,477.5 168,477.5 170,477.5 172,477.5 174,477.5 176,477.5 178,477.5 180,477.5 182,477.5 184,477.5 186,477.5 188,477.5 190,477.5 192,477.5 194,477.5 196,477.5 198,477.5 200,477.5 202,477.5 204,477.5 206,477.5 208,477.5 210,478.5 212,479.5 214,480.5 216,481.5 217,482.5" fill="none" stroke="#b4b400" stroke-width="1"/>
<polyline points="142,479.5 144,479.5 146,479.5 148,479.5 150,479.5 152,479.5 154,479.5 156,479.5 158,479.5 160,479.5 162,479.5 164,479.5 166,479.5 168,479.5 170,479.5 172,479.5 174,479.5 176,479.5 178,479.5 180,479.5 182,479.5 184,479.5 186,479.5 188,479.5 190,479.5 192,479.5 194,479.5 196,479.5 198,479.5 200,479.5 202,479.5 204,479.5 206,479.5 208,479.5 210,480.5 212,481.5 214,482.5 216,484.5 217,484.5" fill="none" stroke="#000000" stroke-width="1"/>
<polyline points="142,481.5 144,481.5 146,481.5 148,481.5 150,481.5 152,481.5 154,481.5 156,481.5 158,481.5 160,481.5 162,481.5 164,481.5 166,481.5 168,481.5 170,481.5 172,481.5 174,481.5 176,481.5 178,481.5 180,481.5 182,481.5 184,481.5 186,481.5 188,481.5 190,481.5 192,481.5 194,481.5 196,481.5 198,481.5 200,481.5 202,481.5 204,481.5 206,481.5 208,481.5 210,482.5 212,483.5 214,484.5 216,485.5 217,486.5" fill="none" stroke="#d2691e" stroke-width="1"/>
<polyline points="109,498.5 112,498.5 115,498.5 118,499.5 119,499.5 121,500.5 122,501.5 124,500.5 127,500.5 130,500.5 133,500.5 136,500.5 139,500.5 140,500.5 142,499.5 143,498.5 145,498.5 148,498.5 151,499.5 154,499.5 157,499.5 160,499.5 163,498.5 166,498.5 169,498.5 172,498.5 175,499.5 178,499.5 181,498.5 184,499.5 187,499.5 190,499.5 193,498.5 196,499.5 199,498.5 202,498.5 205,499.5 208,499.5 211,499.5 214,499.5 217,499.5 218,499.5 220,499.5 222,499.5 223,499.5 226,499.5 229,499.5 232,499.5 235,499.5 238,499.5 241,499.5 244,499.5 247,499.5 250,499.5 253,499.5 256,499.5 259,499.5 262,499.5 265,499.5 268,499.5 271,499.5 274,499.5 277,499.5 280,499.5 283,498.5 286,499.5 289,498.5 292,498.5 295,498.5 298,498.5 301,498.5 304,498.5 307,498.5 310,498.5 313,498.5 316,498.5 319,498.5 322,498.5 325,498.5 328,498.5 330,498.5 331,498.5 334,496.5 336,495.5 337,495.5 340,495.5 343,495.5 345,495.5 346,496.5 349,499.5 352,499.5 355,499.5 358,499.5 361,499.5 364,499.5 367,499.5 370,499.5 373,499.5 376,499.5 379,499.5 382,499.5 385,499.5 388,499.5 391,499.5 394,499.5 397,499.5 400,499.5 403,499.5 406,499.5 409,499.5 412,499.5 415,499.5 418,499.5 421,499.5 424,499.5 427,499.5 430,499.5 433,499.5 436,499.5 439,499.5 442,499.5 445,499.5 448,499.5 451,499.5 454,499.5 457,499.5 460,499.5 463,499.5 466,499.5 469,499.5 472,499.5 475,499.5 478,499.5 481,499.5 484,499.5 487,499.5 490,499.5 493,499.5 496,499.5 499,499.5 502,499.5 505,499.5 508,499.5 511,499.5 514,499.5 517,499.5 520,499.5 523,499.5 526,499.5 529,499.5 532,499.5 535,499.5 538,499.5 541,499.5 544,499.5 547,499.5 550,499.5 553,499.5 556,499.5 559,499.5 562,499.5 565,499.5 568,499.5 571,499.5 574,499.5 577,499.5 580,499.5 583,499.5 586,499.5 589,499.5 592,499.5 595,499.5 598,499.5 601,499.5 604,499.5 607,499.5 610,499.5 613,499.5 616,499.5 619,499.5 622,499.5 623,499.5" fill="none" stroke="#000000" stroke-width="1"/>
<polyline points="224,500.5 227,500.5 230,500.5 233,500.5 236,500.5 239,500.5 242,500.5 245,500.5 248,500.5 251,500.5 254,500.5 257,500.5 260,500.5 263,500.5 266,500.5 269,500.5 272,501.5 275,501.5 278,501.5 281,500.5 284,500.5 287,500.5 290,500.5 293,501.5 296,501.5 299,501.5 302,501.5 305,501.5 308,501.5 311,501.5 314,501.5 317,501.5 320,501.5 323,501.5 326,501.5 329,501.5 332,501.5 335,501.5 338,501.5 341,501.5 344,501.5 347,501.5 349,501.5 350,501.5 353,501.5 356,501.5 359,501.5 362,501.5 365,501.5 368,501.5 371,501.5 374,501.5 377,501.5 380,501.5 383,501.5 386,501.5 389,501.5 392,501.5 395,501.5 398,501.5 401,501.5 404,501.5 407,501.5 410,501.5 413,501.5 416,501.5 419,501.5 422,501.5 425,501.5 428,501.5 431,501.5 434,501.5 437,501.5 440,501.5 443,501.5 446,501.5 449,501.5 452,501.5 455,501.5 458,501.5 461,501.5 464,501.5 467,501.5 470,501.5 473,501.5 476,501.5 479,501.5 482,501.5 485,501.5 488,501.5 491,501.5 494,501.5 497,501.5 500,501.5 503,501.5 506,501.5 509,501.5 512,501.5 515,501.5 518,501.5 521,501.5 524,501.5 527,501.5 530,501.5 533,501.5 536,501.5 539,501.5 542,501.5 545,501.5 548,501.5 551,501.5 554,501.5 557,501.5 560,501.5 563,501.5 566,501.5 569,501.5 572,501.5 575,501.5 578,501.5 581,501.5 584,501.5 587,501.5 590,501.5 593,501.5 596,501.5 599,501.5 602,501.5 605,501.5 608,501.5 611,501.5 614,501.5 617,501.5 620,501.5 623,501.5" fill="none" stroke="#000000" stroke-width="1"/>
<polyline points="566,502.5 570,497.5 573,494.5 576,495.5 578,501.5" fill="none" stroke="#a08020" stroke-width="1"/>
<polyline points="598,501.5 603,497.5 612,497.5 616,501.5" fill="none" stroke="#a08020" stroke-width="1"/>
<polyline points="759,500.5 767.9,500.5 771.0,500.5 777.6,500.5 778,500.5 787.4,501.5 790.5,501.5 797.9,502.5 802,500.5 803.5,501.5 807.3,500.5 812.5,500.5 822.2,500.5 826.7,500.5 833.0,500.5 842.1,501.5 845.8,501.5 849.0,501.5 856.2,501.5 862,501.5 863.6,502.5 864,501.5 866.9,501.5 875.7,500.5 884.1,501.5 885,501.5 891.3,500.5 896.0,501.5 901.6,500.5 905.4,500.5 910.0,500.5 920.0,500.5 926.8,500.5 936.2,500.5 943.0,501.5 950.2,501.5 959.8,502.5 960,501.5 965.9,501.5 971.1,501.5 980.9,501.5 990.8,500.5 994.7,500.5 1003.7,501.5 1004,500.5" fill="none" stroke="#b8a0e0" stroke-width="1"/>
<polyline points="759,501.5 768.6,501.5 774.6,502.5 778,502.5 781.3,502.5 784.8,502.5 788.3,502.5 797.3,502.5 802,502.5 804.6,502.5 809.4,502.5 813.8,502.5 817.3,501.5 825.7,502.5 830.6,502.5 834.0,502.5 842.7,502.5 847.9,501.5 852.1,501.5 859.1,502.5 862,501.5 864,501.5 864.6,501.5 871.3,501.5 877.5,501.5 884.3,501.5 885,501.5 889.2,501.5 895.7,501.5 901.6,501.5 905.4,500.5 909.9,501.5 915.8,501.5 922.0,501.5 928.2,501.5 933.6,500.5 941.0,501.5 950.5,502.5 954.6,502.5 960,502.5 960.7,501.5 970.5,501.5 973.5,502.5 981.4,501.5 987.0,501.5 993.5,500.5 1001.6,501.5 1004,502.5" fill="none" stroke="#87cefa" stroke-width="1"/>
<polyline points="759,502.5 764.3,502.5 773.7,503.5 777.4,503.5 778,503.5 785.8,502.5 791.0,502.5 800.4,502.5 802,502.5 805.2,502.5 814.3,503.5 823.2,502.5 828.4,501.5 832.8,502.5 840.3,502.5 843.8,502.5 850.8,502.5 856.0,502.5 862,501.5 863.7,502.5 864,503.5 867.4,503.5 875.2,502.5 880.1,502.5 885,502.5 887.1,502.5 895.2,503.5 899.3,502.5 901.6,503.5 904.6,503.5 912.6,503.5 920.5,503.5 929.7,503.5 932.9,503.5 938.6,503.5 944.1,502.5 953.3,501.5 959.8,502.5 960,501.5 965.1,502.5 969.2,502.5 975.3,501.5 980.7,502.5 983.8,502.5 991.2,502.5 1000.4,501.5 1004,502.5" fill="none" stroke="#5ab4f0" stroke-width="1"/>
<polyline points="759,503.5 766.1,503.5 775.1,503.5 778,503.5 780.3,504.5 789.3,503.5 799.0,504.5 802,503.5 808.0,503.5 814.0,502.5 818.8,503.5 825.3,502.5 831.0,503.5 838.7,502.5 842.3,502.5 847.4,502.5 851.0,502.5 854.9,502.5 860.1,502.5 862,502.5 864,502.5 866.8,502.5 875.4,502.5 881.0,503.5 885,503.5 890.2,503.5 896.7,502.5 901.6,503.5 906.4,503.5 911.7,503.5 917.0,502.5 921.1,503.5 929.7,502.5 936.8,503.5 946.5,503.5 952.9,502.5 960,502.5 961.3,503.5 965.4,503.5 975.0,503.5 978.5,504.5 982.8,504.5 992.7,504.5 996.2,504.5 1004,503.5" fill="none" stroke="#e9967a" stroke-width="1"/>
<polyline points="759,503.5 764.0,504.5 773.6,504.5 778,505.5 783.5,505.5 792.2,505.5 801.9,505.5 802,504.5 809.7,504.5 817.5,504.5 821.2,504.5 829.3,504.5 832.9,503.5 842.2,503.5 850.9,503.5 860.0,503.5 862,504.5 864,504.5 868.2,504.5 873.1,503.5 880.3,504.5 885,504.5 886.8,504.5 895.9,503.5 901.6,503.5 903.1,503.5 909.0,503.5 917.0,504.5 925.4,503.5 932.9,503.5 938.5,504.5 946.1,504.5 953.1,504.5 956.9,504.5 960,503.5 961.8,502.5 965.8,503.5 972.4,503.5 976.2,502.5 984.5,503.5 991.6,503.5 995.6,502.5 1003.5,503.5 1004,503.5" fill="none" stroke="#da70d6" stroke-width="1"/>
<polyline points="759,505.5 764.6,504.5 769.3,503.5 775.9,503.5 778,504.5 785.1,504.5 792.2,504.5 800.5,505.5 802,505.5 809.2,504.5 812.3,504.5 816.0,504.5 824.7,504.5 831.2,503.5 837.1,503.5 846.1,504.5 850.9,505.5 857.3,504.5 862,503.5 864,503.5 865.9,504.5 873.8,504.5 877.3,504.5 882.1,503.5 885,504.5 891.2,505.5 898.4,504.5 901.6,504.5 904.2,503.5 913.5,504.5 920.2,503.5 929.4,503.5 934.3,503.5 941.6,504.5 947.2,504.5 950.2,503.5 957.8,504.5 960,503.5 964.5,504.5 969.7,504.5 974.9,504.5 980.9,504.5 988.3,503.5 998.1,503.5 1004,503.5" fill="none" stroke="#c71585" stroke-width="1"/>
<polyline points="759,505.5 765.4,505.5 769.9,505.5 775.4,506.5 778,507.5 778.5,507.5 788.1,506.5 797.2,505.5 802,505.5 802.3,505.5 812.3,505.5 820.4,505.5 827.0,505.5 832.1,505.5 840.0,505.5 848.8,505.5 857.3,505.5 862,504.5 863.5,504.5 864,505.5 872.6,505.5 877.1,505.5 885,505.5 885.7,505.5 895.5,505.5 898.8,505.5 901.6,504.5 903.0,504.5 910.7,504.5 918.4,505.5 922.4,506.5 925.6,505.5 935.1,506.5 945.0,505.5 954.4,505.5 957.8,505.5 960,504.5 966.0,504.5 972.2,505.5 977.7,505.5 982.8,505.5 990.8,504.5 996.6,505.5 1000.8,505.5 1004.0,505.5 1004,505.5" fill="none" stroke="#d2691e" stroke-width="1"/>
<polyline points="759,505.5 766.4,504.5 771.8,505.5 775.9,506.5 778,505.5 780.0,506.5 783.7,506.5 790.9,505.5 799.3,505.5 802,505.5 803.0,505.5 807.3,504.5 816.1,505.5 820.8,505.5 827.9,504.5 832.2,504.5 840.9,505.5 848.0,505.5 851.6,505.5 857.0,505.5 862,504.5 864,505.5 864.7,505.5 869.4,505.5 873.3,505.5 879.1,506.5 882.2,505.5 885,506.5 885.6,505.5 889.4,505.5 894.5,505.5 901.6,506.5 903.2,506.5 912.5,506.5 918.2,506.5 926.4,505.5 935.2,505.5 945.0,505.5 949.6,505.5 957.5,504.5 960,504.5 966.8,505.5 975.0,506.5 978.3,505.5 987.1,506.5 995.5,505.5 1002.7,506.5 1004,505.5" fill="none" stroke="#b0205a" stroke-width="1"/>
<polyline points="759,506.5 765.0,507.5 768.2,506.5 774.9,506.5 778,507.5 779.6,506.5 789.1,506.5 796.5,506.5 801.5,505.5 802,506.5 810.3,505.5 817.4,506.5 824.8,507.5 833.0,506.5 841.1,506.5 845.6,507.5 854.7,507.5 862,507.5 862.9,507.5 864,506.5 871.2,505.5 879.4,505.5 884.1,506.5 885,506.5 893.9,506.5 901.6,506.5 902.0,506.5 911.4,506.5 916.4,506.5 921.6,506.5 930.7,506.5 940.7,506.5 948.6,506.5 952.6,507.5 957.7,506.5 960,507.5 964.5,506.5 967.5,506.5 972.9,506.5 979.9,505.5 989.3,505.5 997.2,506.5 1004,507.5" fill="none" stroke="#ff6347" stroke-width="1"/>
<polyline points="759,507.5 764.5,507.5 769.8,508.5 776.7,507.5 778,507.5 782.9,507.5 792.9,508.5 800.7,507.5 802,507.5 806.2,507.5 813.2,507.5 819.4,507.5 829.1,507.5 833.4,507.5 842.1,507.5 847.0,508.5 852.8,508.5 856.1,507.5 860.8,506.5 862,507.5 864,507.5 866.1,507.5 870.9,506.5 878.3,506.5 882.2,506.5 885,506.5 887.3,507.5 894.1,508.5 900.9,509.5 901.6,508.5 908.0,508.5 912.2,508.5 917.0,507.5 925.4,507.5 935.3,507.5 939.5,507.5 943.1,507.5 952.3,506.5 960,506.5 962.3,506.5 968.1,506.5 977.8,506.5 985.0,506.5 994.3,506.5 997.6,507.5 1000.7,507.5 1004,507.5" fill="none" stroke="#9acd32" stroke-width="1"/>
<polyline points="759,508.5 763.1,508.5 767.5,508.5 772.1,508.5 775.1,509.5 778,509.5 779.6,508.5 786.9,509.5 794.8,508.5 799.1,508.5 802,509.5 805.7,508.5 813.2,508.5 821.3,508.5 829.1,508.5 837.4,508.5 841.0,509.5 844.9,508.5 853.0,508.5 859.1,508.5 862,508.5 864,508.5 867.1,507.5 875.2,507.5 883.6,507.5 885,507.5 891.6,507.5 897.5,508.5 901.6,509.5 906.8,509.5 914.5,508.5 920.9,507.5 929.7,508.5 935.1,508.5 940.5,508.5 947.6,507.5 957.5,507.5 960,508.5 961.8,508.5 966.9,508.5 970.6,507.5 978.2,507.5 984.5,507.5 990.8,508.5 996.3,508.5 1001.9,508.5 1004,508.5" fill="none" stroke="#7cfc00" stroke-width="1"/>
<polyline points="759,508.5 768.8,510.5 772.1,509.5 778,509.5 779.0,509.5 784.2,509.5 792.8,508.5 802,508.5 802.6,508.5 809.7,509.5 817.7,508.5 822.2,509.5 832.1,509.5 838.3,509.5 847.4,509.5 850.6,509.5 855.9,509.5 862,509.5 863.8,508.5 864,508.5 868.0,509.5 871.0,508.5 876.3,508.5 884.2,509.5 885,508.5 893.2,509.5 897.5,509.5 901.6,510.5 904.7,509.5 913.8,509.5 922.1,509.5 929.6,508.5 936.0,508.5 940.6,508.5 945.5,508.5 952.5,507.5 957.6,507.5 960,508.5 965.5,508.5 970.3,507.5 977.6,508.5 982.1,508.5 989.9,507.5 999.1,508.5 1004,509.5" fill="none" stroke="#d2691e" stroke-width="1"/>
<polyline points="759,509.5 767.5,509.5 773.3,510.5 778,510.5 778.1,510.5 785.8,510.5 794.9,509.5 802,510.5 803.1,509.5 807.1,509.5 817.1,509.5 826.5,509.5 834.3,509.5 838.8,509.5 843.0,508.5 846.8,509.5 855.3,509.5 862,508.5 862.2,508.5 864,509.5 872.1,509.5 876.3,509.5 881.8,508.5 885,509.5 886.8,509.5 895.7,509.5 901.6,510.5 904.1,510.5 912.2,510.5 918.7,510.5 923.5,509.5 929.3,510.5 933.1,509.5 941.1,508.5 948.3,508.5 955.1,508.5 960,508.5 964.2,508.5 968.2,509.5 975.6,510.5 979.3,509.5 984.1,508.5 991.7,509.5 998.2,509.5 1004,509.5" fill="none" stroke="#cd6839" stroke-width="1"/>
<polyline points="759,510.5 768.9,511.5 778,511.5 778.4,511.5 784.0,510.5 791.9,510.5 801.7,511.5 802,510.5 809.3,509.5 815.2,509.5 824.8,510.5 831.9,511.5 839.6,510.5 848.9,510.5 852.3,509.5 856.0,510.5 859.5,509.5 862,510.5 864,510.5 864.4,509.5 874.2,509.5 882.3,509.5 885,509.5 887.8,509.5 895.0,509.5 901.1,510.5 901.6,511.5 907.5,511.5 912.9,511.5 922.4,510.5 930.6,509.5 934.0,509.5 941.3,509.5 950.9,510.5 956.6,509.5 960,509.5 960.5,509.5 963.8,509.5 970.6,508.5 976.2,509.5 983.0,510.5 990.8,509.5 996.8,510.5 1004,510.5" fill="none" stroke="#808000" stroke-width="1"/>
<polyline points="759,511.5 764.2,512.5 767.6,512.5 777.5,512.5 778,512.5 783.0,511.5 786.3,512.5 790.8,512.5 796.2,512.5 802,512.5 805.0,512.5 814.8,511.5 819.7,512.5 823.5,511.5 827.4,510.5 837.3,511.5 843.6,511.5 847.5,511.5 852.7,511.5 859.3,511.5 862,511.5 864,510.5 866.7,510.5 873.4,510.5 881.8,511.5 885,510.5 887.9,511.5 896.8,512.5 901.6,512.5 904.6,512.5 911.9,511.5 915.5,511.5 920.8,511.5 925.7,511.5 934.8,511.5 943.9,511.5 951.8,511.5 959.6,510.5 960,510.5 963.6,509.5 966.7,510.5 970.2,510.5 976.4,511.5 981.4,511.5 991.3,511.5 995.0,511.5 1002.4,511.5 1004,511.5" fill="none" stroke="#6b8e23" stroke-width="1"/>
<polyline points="759,512.5 762.1,513.5 767.6,512.5 774.9,513.5 778,513.5 779.8,513.5 783.7,513.5 790.0,512.5 793.9,512.5 798.4,512.5 802,511.5 804.9,511.5 813.0,511.5 818.4,512.5 826.2,511.5 831.4,512.5 835.4,511.5 843.9,511.5 851.5,510.5 859.1,511.5 862,511.5 864,511.5 867.3,511.5 873.9,511.5 877.3,511.5 881.4,510.5 885,511.5 888.2,511.5 895.8,511.5 899.0,512.5 901.6,511.5 907.2,512.5 916.6,511.5 923.8,511.5 933.0,510.5 939.4,510.5 947.7,510.5 950.8,511.5 957.6,511.5 960,511.5 965.8,511.5 974.3,511.5 983.8,511.5 989.6,511.5 993.0,511.5 1001.2,511.5 1004,511.5" fill="none" stroke="#a0522d" stroke-width="1"/>
<polyline points="759,511.5 768.8,512.5 777.7,513.5 778,513.5 786.2,513.5 789.2,513.5 798.6,512.5 802,511.5 802.5,511.5 811.8,512.5 817.4,513.5 820.6,512.5 828.9,512.5 832.0,512.5 840.8,512.5 844.7,512.5 853.5,511.5 856.9,511.5 860.7,511.5 862,511.5 864,511.5 868.5,512.5 875.8,511.5 883.9,510.5 885,511.5 887.7,511.5 894.7,511.5 901.6,512.5 903.6,512.5 912.3,512.5 921.3,512.5 929.2,512.5 937.9,512.5 944.4,512.5 950.8,511.5 958.0,511.5 960,510.5 966.7,511.5 971.0,511.5 975.9,511.5 984.8,511.5 989.4,510.5 993.3,511.5 1001.9,512.5 1004,512.5" fill="none" stroke="#ff4500" stroke-width="1"/>
<polyline points="759,499.5 762,499.5 765,499.5 768,499.5 771,499.5 774,499.5 777,499.5 780,499.5 783,499.5 786,499.5 789,499.5 792,499.5 795,499.5 798,499.5 801,499.5 804,499.5 807,499.5 810,499.5 813,499.5 816,499.5 819,499.5 822,499.5 825,499.5 828,499.5 831,499.5 834,499.5 837,499.5 840,499.5 843,499.5 846,499.5 849,499.5 852,499.5 855,499.5 858,499.5 861,499.5 862,499.5 864,495.5 867,495.5 870,495.5 873,495.5 876,495.5 879,495.5 882,495.5 885,495.5 888,495.5 891,495.5 894,495.5 897,495.5 900,495.5 903,495.5 906,495.5 909,495.5 912,495.5 915,495.5 918,495.5 921,495.5 924,495.5 927,495.5 930,495.5 933,495.5 936,495.5 939,495.5 942,495.5 945,495.5 948,495.5 951,495.5 954,495.5 957,495.5 960,495.5 963,495.5 966,495.5 967,495.5 969,494.5 972,493.5 975,493.5 978,493.5 981,494.5 984,494.5 985,494.5 987,494.5 990,495.5 993,497.5 995,497.5 996,497.5 999,497.5 1002,498.5 1004,498.5" fill="none" stroke="#000000" stroke-width="1"/>
<polyline points="864,497.5 867,497.5 870,497.5 873,497.5 876,497.5 879,497.5 882,497.5 885,497.5 888,497.5 891,497.5 894,497.5 897,497.5 900,497.5 903,497.5 906,497.5 909,497.5 912,497.5 915,497.5 918,497.5 921,496.5 924,496.5 927,496.5 930,496.5 933,497.5 936,497.5 939,497.5 942,497.5 945,497.5 948,497.5 951,497.5 954,497.5 957,497.5 960,497.5 963,497.5 966,497.5 969,497.5 972,497.5 975,497.5 978,497.5 981,497.5 984,497.5 987,497.5 990,497.5 993,497.5 996,497.5 999,497.5 1002,497.5 1004,496.5" fill="none" stroke="#87cefa" stroke-width="1"/>
<polyline points="759,500.5 762,500.5 765,500.5 768,500.5 771,500.5 774,500.5 777,500.5 780,500.5 783,500.5 786,500.5 789,500.5 792,500.5 795,500.5 798,500.5 801,500.5 804,500.5 807,500.5 810,500.5 813,500.5 816,500.5 819,500.5 822,500.5 825,500.5 828,500.5 831,500.5 834,500.5 837,500.5 840,500.5 843,500.5 846,500.5 849,500.5 852,500.5 855,500.5 858,500.5 861,500.5 864,500.5 867,500.5 870,500.5 873,499.5 876,500.5 879,500.5 882,500.5 885,500.5 888,500.5 891,500.5 894,500.5 897,500.5 900,500.5 903,500.5 906,500.5 909,500.5 912,500.5 915,500.5 918,500.5 921,500.5 924,500.5 927,500.5 930,500.5 933,500.5 936,500.5 939,500.5 942,500.5 945,500.5 948,500.5 951,500.5 954,500.5 957,500.5 960,500.5 963,500.5 966,500.5 969,500.5 972,500.5 975,500.5 978,500.5 981,500.5 984,500.5 987,500.5 990,500.5 993,500.5 996,500.5 999,500.5 1002,500.5 1004,500.5" fill="none" stroke="#000000" stroke-width="1"/>
<polyline points="20,472.5 29.8,471.5 30,471.5 34.3,471.5 38,470.5 40.4,471.5 46,471.5" fill="none" stroke="#b4b400" stroke-width="1"/>
<polyline points="20,474.5 28.1,473.5 30,473.5 38,472.5 38.0,472.5 46,473.5" fill="none" stroke="#000000" stroke-width="1"/>
<polyline points="20,476.5 23.7,475.5 30,474.5 30.9,474.5 38,474.5 38.4,474.5 46,475.5" fill="none" stroke="#d2691e" stroke-width="1"/>
<polyline points="20,477.5 24.3,477.5 29.6,476.5 30,476.5 37.2,476.5 38,476.5 42.6,476.5 46,476.5" fill="none" stroke="#cd6839" stroke-width="1"/>
<polyline points="20,478.5 24.6,478.5 28.7,477.5 30,477.5 34.7,476.5 38,477.5 41.8,477.5 46,477.5" fill="none" stroke="#7cfc00" stroke-width="1"/>
<polyline points="20,480.5 29.1,479.5 30,479.5 38,478.5 38.1,478.5 46,479.5" fill="none" stroke="#ff6347" stroke-width="1"/>
<polyline points="20,481.5 28.9,480.5 30,480.5 32.4,480.5 36.6,480.5 38,480.5 41.3,481.5 46,481.5" fill="none" stroke="#9acd32" stroke-width="1"/>
<polyline points="20,483.5 26.0,483.5 30,482.5 35.0,481.5 38,481.5 44.6,482.5 46,482.5" fill="none" stroke="#c8a8e8" stroke-width="1"/>
<polyline points="20,484.5 26.9,484.5 30,484.5 35.4,483.5 38,483.5 40.9,483.5 46,484.5" fill="none" stroke="#9acd32" stroke-width="1"/>
<polyline points="20,484.5 26.6,484.5 30,484.5 34.1,483.5 38,483.5 42.1,483.5 46,484.5" fill="none" stroke="#ff6347" stroke-width="1"/>
<polyline points="20,487.5 23.7,486.5 27.8,486.5 30,486.5 33.1,486.5 38,486.5 38.3,486.5 44.7,486.5 46,486.5" fill="none" stroke="#b0205a" stroke-width="1"/>
<polyline points="20,487.5 24.7,488.5 30,487.5 31.9,487.5 37.4,486.5 38,487.5 41.0,487.5 46,488.5" fill="none" stroke="#9acd32" stroke-width="1"/>
<polyline points="20,490.5 25.8,489.5 30,489.5 32.6,489.5 38,489.5 39.3,489.5 46,490.5" fill="none" stroke="#3c9cff" stroke-width="1"/>
<polyline points="20,491.5 29.6,491.5 30,491.5 37.8,490.5 38,491.5 44.9,491.5 46,491.5" fill="none" stroke="#000080" stroke-width="1"/>
<polyline points="20,492.5 24.1,492.5 28.4,492.5 30,492.5 34.9,492.5 38,493.5 44.4,493.5 46,493.5" fill="none" stroke="#8b008b" stroke-width="1"/>
<polyline points="20,494.5 25.6,494.5 30,495.5 34.3,494.5 38,494.5 41.4,494.5 45.1,494.5 46,494.5" fill="none" stroke="#da70d6" stroke-width="1"/>
<polyline points="20,495.5 24.5,495.5 28.1,495.5 30,495.5 35.2,495.5 38,495.5 42.9,495.5 46,495.5" fill="none" stroke="#87cefa" stroke-width="1"/>
<polyline points="20,497.5 29.9,496.5 30,496.5 34.8,496.5 38,496.5 40.8,496.5 44.9,496.5 46,496.5" fill="none" stroke="#c040a0" stroke-width="1"/>
<polyline points="20,499.5 29.3,499.5 30,498.5 38,498.5 39.1,498.5 46,499.5" fill="none" stroke="#a0522d" stroke-width="1"/>
<polyline points="20,500.5 28.2,501.5 30,500.5 36.8,500.5 38,499.5 45.6,500.5 46,499.5" fill="none" stroke="#b22222" stroke-width="1"/>
<polyline points="20,473.5 30,473.5 31,472.5 38,472.5 39,471.5 42,471.5 46,472.5" fill="none" stroke="#000000" stroke-width="1"/>
<polyline points="20,472.5 30,471.5 38,470.5 40,470.5" fill="none" stroke="#b4b400" stroke-width="1"/>
<polyline points="20,499.5 46,499.5" fill="none" stroke="#000000" stroke-width="1"/>
<polyline points="679,499.5 683,499.5" fill="none" stroke="#b8a0e0" stroke-width="1"/>
<polyline points="679,501.5 682.5,502.5 683,502.5" fill="none" stroke="#e9967a" stroke-width="1"/>
<polyline points="679,502.5 683,502.5" fill="none" stroke="#000080" stroke-width="1"/>
<polyline points="679,504.5 683,504.5" fill="none" stroke="#b0205a" stroke-width="1"/>
<polyline points="679,506.5 683,506.5" fill="none" stroke="#000000" stroke-width="1"/>
<polyline points="679,508.5 683,508.5" fill="none" stroke="#ff6347" stroke-width="1"/>
<polyline points="679,509.5 683,509.5" fill="none" stroke="#808000" stroke-width="1"/>
<polyline points="679,511.5 683,511.5" fill="none" stroke="#d2691e" stroke-width="1"/>
<polyline points="679,512.5 683,512.5" fill="none" stroke="#8b4513" stroke-width="1"/>
<polyline points="679,499.5 683,499.5" fill="none" stroke="#000000" stroke-width="1"/>
<polyline points="108,579.5 108.5,579.5 116.5,578.5 119.6,578.5 126.7,578.5 132.1,578.5 140.2,579.5 141.4,579.5 150.1,578.5 150.7,578.5 152.5,578.5 155.8,578.5 160.6,578.5 163.8,578.5 169.8,578.5 174.0,578.5 182.4,578.5 189.0,578.5 195.5,579.5 199.2,578.5 203.1,578.5 207.4,578.5 210.5,579.5 211.6,578.5 215.4,579.5 220.7,578.5 222.8,578.5 227.5,572.5 228,572.5 234.1,567.5 235.1,566.5 236.8,566.5 240.0,566.5 240.3,566.5 246.5,566.5 249.9,567.5 255.8,565.5 263.4,566.5 266.5,565.5 274.2,565.5 283.6,564.5 285,564.5 293.4,564.5 303.2,563.5 308.4,563.5 313.6,564.5 317.1,563.5 320.6,563.5 325.7,563.5 328.2,563.5 334.6,563.5 337.9,563.5 340,564.5 346.0,567.5 350.3,569.5 354.9,569.5 362.3,569.5 367.9,570.5 368.1,570.5 373.5,570.5 376.8,569.5 381.6,570.5 389,570.5 391.5,569.5 400.5,568.5 403,567.5 404.6,567.5 413.7,566.5 416.8,566.5 421.1,567.5 426.7,567.5 431.0,567.5 438.2,566.5 439.7,567.5 448.2,567.5 456.6,567.5 460,567.5 463.9,566.5 471.4,566.5 480.8,565.5 489.5,565.5 497.1,565.5 507.1,566.5 510.2,566.5 515,565.5 516.2,565.5 520.3,564.5 522.8,564.5 531.1,565.5 535.0,564.5 541.2,565.5 547.9,565.5 548,566.5 555.3,567.5 563.8,567.5 570.1,566.5 573,567.5 579.8,567.5 584.1,568.5 593.1,567.5 600.2,567.5 608.6,568.5 615,568.5 617.9,564.5 623,558.5" fill="none" stroke="#b8a0e0" stroke-width="1"/>
<polyline points="108,579.5 108.5,579.5 113.1,580.5 122.6,579.5 131.5,579.5 137.6,578.5 140.2,579.5 142.1,580.5 145.3,579.5 150.7,578.5 152.0,579.5 152.5,579.5 160.1,579.5 163.7,578.5 169.7,579.5 175.3,579.5 181.6,580.5 188.8,580.5 194.9,579.5 202.8,579.5 207.4,579.5 210.5,580.5 215.5,579.5 221.9,579.5 222.8,579.5 228,573.5 229.0,571.5 235.1,566.5 236.3,567.5 236.8,567.5 240.3,566.5 245.6,565.5 255.5,566.5 258.6,566.5 266.5,566.5 273.3,565.5 280.7,566.5 285,565.5 285.4,566.5 291.5,566.5 297.4,566.5 303.2,565.5 312.7,565.5 317.8,565.5 323.9,564.5 325.7,564.5 327.2,564.5 332.5,565.5 337.3,565.5 340,565.5 343.0,567.5 347.1,569.5 350.3,569.5 352.2,570.5 357.6,569.5 363.8,569.5 367.9,570.5 370.1,569.5 377.5,570.5 385.0,569.5 389,570.5 391.4,569.5 397.3,568.5 403,568.5 403.9,567.5 411.5,568.5 417.0,568.5 426.9,568.5 435.5,567.5 438.2,568.5 444.4,567.5 448.4,566.5 453.0,566.5 460,567.5 460.3,568.5 469.4,568.5 475.5,567.5 484.2,567.5 491.4,568.5 494.5,568.5 504.3,567.5 513.7,567.5 515,566.5 519.3,565.5 520.3,565.5 528.0,565.5 532.4,565.5 540.0,566.5 547.4,566.5 548,566.5 553.2,566.5 562.1,566.5 566.0,568.5 570.3,569.5 573,568.5 577.3,567.5 585.4,568.5 588.5,568.5 596.3,568.5 600.8,569.5 607.5,568.5 614.0,568.5 615,567.5 622.1,561.5 623,559.5" fill="none" stroke="#b8a0e0" stroke-width="1"/>
<polyline points="108,579.5 108.5,579.5 117.4,579.5 121.6,580.5 126.9,580.5 136.0,580.5 140.2,579.5 140.8,580.5 145.3,580.5 150.7,581.5 152.5,580.5 154.5,580.5 163.9,579.5 169.4,580.5 177.1,579.5 184.4,579.5 192.8,579.5 200.5,579.5 204.4,579.5 210.5,578.5 212.3,579.5 216.4,580.5 222.8,580.5 225.2,577.5 228,573.5 228.7,573.5 233.0,569.5 235.1,567.5 236.8,566.5 239.5,566.5 240.3,566.5 248.3,565.5 253.8,566.5 259.5,566.5 263.6,567.5 271.4,566.5 276.6,566.5 281.8,566.5 284.9,566.5 285,566.5 289.7,565.5 293.8,565.5 297.6,565.5 302.1,565.5 310.9,565.5 317.5,564.5 325.7,564.5 326.9,564.5 333.8,565.5 340,565.5 340.2,565.5 347.2,569.5 350.3,570.5 355.1,571.5 359.6,571.5 364.4,570.5 367.9,571.5 371.9,570.5 379.5,569.5 386.0,569.5 389,569.5 392.1,569.5 400.9,568.5 403,567.5 404.9,567.5 408.7,568.5 416.3,568.5 424.8,569.5 430.1,568.5 438.2,568.5 439.9,568.5 444.9,568.5 449.7,567.5 457.3,568.5 460,568.5 464.3,567.5 467.5,568.5 471.0,568.5 474.8,568.5 480.3,568.5 483.4,568.5 491.7,568.5 499.2,568.5 506.1,567.5 511.0,567.5 515,567.5 515.1,567.5 520.3,566.5 524.6,566.5 530.8,565.5 535.9,566.5 542.1,567.5 548,568.5 548.9,567.5 558.1,567.5 564.8,567.5 569.7,568.5 573,568.5 573.3,568.5 582.3,568.5 591.0,568.5 598.9,568.5 603.4,569.5 612.6,569.5 615,569.5 619.1,564.5 623,560.5" fill="none" stroke="#8fa0e8" stroke-width="1"/>
<polyline points="108,579.5 108.5,580.5 111.2,581.5 115.4,580.5 120.1,580.5 125.9,580.5 134.7,579.5 140.2,580.5 143.8,580.5 150.7,579.5 152.5,579.5 152.8,580.5 160.3,579.5 170.1,580.5 179.8,580.5 184.7,580.5 190.4,581.5 200.3,581.5 210.2,580.5 210.5,580.5 215.6,580.5 220.4,580.5 222.8,580.5 228,574.5 229.0,573.5 232.5,570.5 235.1,569.5 236.8,568.5 240.3,567.5 242.3,567.5 246.8,567.5 255.3,567.5 262.6,566.5 268.8,567.5 277.9,566.5 282.6,566.5 285,566.5 290.6,565.5 295.2,566.5 303.6,566.5 311.0,566.5 318.6,565.5 325.7,564.5 327.2,565.5 333.4,565.5 340,567.5 341.0,566.5 349.7,571.5 350.3,571.5 359.1,570.5 366.5,570.5 367.9,570.5 369.9,571.5 376.2,571.5 385.4,570.5 389,571.5 393.3,570.5 397.5,569.5 403,569.5 405.9,568.5 414.1,568.5 417.9,567.5 421.9,567.5 428.9,568.5 433.5,568.5 436.6,568.5 438.2,568.5 445.5,569.5 455.0,568.5 460,568.5 464.7,567.5 469.5,567.5 479.2,567.5 482.7,567.5 491.1,567.5 496.5,568.5 503.1,568.5 512.9,568.5 515,567.5 520.3,567.5 521.0,567.5 526.5,568.5 534.7,567.5 540.6,568.5 547.3,567.5 548,568.5 550.7,568.5 560.6,568.5 564.0,568.5 567.0,569.5 571.7,569.5 573,568.5 579.6,569.5 587.8,570.5 591.6,569.5 596.7,569.5 603.3,570.5 612.7,570.5 615,569.5 617.3,567.5 621.4,563.5 623,561.5" fill="none" stroke="#da70d6" stroke-width="1"/>
<polyline points="108,581.5 108.5,581.5 116.9,581.5 123.1,581.5 132.2,581.5 135.3,581.5 140.2,581.5 144.7,581.5 150.7,580.5 152.5,581.5 152.8,582.5 162.3,582.5 166.5,581.5 170.4,580.5 176.8,580.5 181.2,579.5 188.9,580.5 196.5,580.5 206.2,581.5 210.5,580.5 210.9,581.5 217.8,582.5 222.8,582.5 227.6,576.5 228,575.5 235.1,569.5 235.3,570.5 236.8,569.5 240.0,569.5 240.3,569.5 249.1,569.5 255.2,568.5 263.2,568.5 268.4,567.5 276.5,567.5 285,566.5 286.4,566.5 295.4,566.5 302.5,566.5 307.8,566.5 311.9,566.5 318.8,566.5 323.6,566.5 325.7,567.5 332.7,567.5 337.3,568.5 340,568.5 342.7,569.5 348.4,571.5 350.3,571.5 357.5,572.5 364.4,572.5 367.9,571.5 368.3,571.5 371.4,572.5 375.8,571.5 382.8,572.5 389,572.5 390.1,572.5 396.9,571.5 403,570.5 404.6,570.5 409.7,571.5 416.0,571.5 425.7,569.5 435.1,570.5 438.2,571.5 443.9,570.5 448.8,570.5 458.6,570.5 460,570.5 468.3,569.5 471.3,570.5 474.7,569.5 479.5,569.5 488.6,569.5 494.9,569.5 501.9,569.5 506.6,568.5 510.6,568.5 515,568.5 518.0,567.5 520.3,568.5 526.9,569.5 534.7,569.5 543.1,569.5 546.2,569.5 548,569.5 551.6,569.5 561.3,569.5 570.7,569.5 573,570.5 577.4,570.5 583.8,570.5 592.7,570.5 596.9,570.5 606.9,571.5 615,571.5 615.2,571.5 622.7,564.5 623,564.5" fill="none" stroke="#808000" stroke-width="1"/>
<polyline points="108,581.5 108.5,581.5 114.6,582.5 119.5,582.5 127.9,583.5 133.6,582.5 137.2,582.5 140.2,582.5 140.8,581.5 150.3,581.5 150.7,582.5 152.5,581.5 153.5,581.5 163.0,581.5 169.3,581.5 178.9,582.5 184.6,581.5 191.0,580.5 196.9,580.5 201.6,580.5 209.0,580.5 210.5,580.5 214.5,580.5 220.8,581.5 222.8,582.5 224.6,580.5 228,576.5 233.0,572.5 235.1,570.5 236.1,570.5 236.8,570.5 240.3,568.5 244.2,568.5 248.9,568.5 252.2,569.5 258.6,569.5 267.9,569.5 274.1,569.5 277.6,569.5 283.3,569.5 285,569.5 291.3,568.5 301.3,567.5 304.9,568.5 311.9,568.5 315.5,568.5 321.5,567.5 325.7,567.5 330.5,567.5 337.9,568.5 340,569.5 345.4,571.5 350.3,573.5 351.1,573.5 359.1,572.5 366.3,572.5 367.9,572.5 373.2,572.5 382.7,572.5 389,573.5 389.5,572.5 394.8,572.5 399.7,572.5 403,571.5 405.4,571.5 414.9,572.5 420.8,572.5 424.1,572.5 433.6,572.5 438.2,571.5 441.9,570.5 450.9,570.5 458.9,571.5 460,570.5 468.2,570.5 472.2,569.5 481.2,569.5 484.4,569.5 494.2,569.5 498.8,570.5 502.8,570.5 509.2,571.5 515,570.5 516.8,569.5 520.3,569.5 525.7,569.5 532.3,569.5 541.5,570.5 546.3,570.5 548,570.5 549.6,571.5 554.6,571.5 559.2,571.5 566.2,570.5 573,571.5 575.6,571.5 584.3,572.5 591.4,572.5 594.9,571.5 602.1,570.5 610.0,570.5 615,570.5 618.0,568.5 621.3,566.5 623,565.5" fill="none" stroke="#87cefa" stroke-width="1"/>
<polyline points="108,582.5 108.5,581.5 112.1,581.5 116.8,582.5 121.4,582.5 125.2,582.5 128.6,582.5 137.8,582.5 140.2,582.5 143.5,583.5 150.7,582.5 150.9,582.5 152.5,582.5 160.1,582.5 169.8,582.5 178.0,582.5 184.3,582.5 190.7,582.5 195.0,581.5 200.4,581.5 210.2,582.5 210.5,582.5 213.6,581.5 222.8,582.5 223.4,582.5 227.8,577.5 228,577.5 235.1,571.5 236.1,571.5 236.8,571.5 240.3,570.5 241.7,569.5 251.3,569.5 257.0,569.5 264.0,569.5 268.2,569.5 274.7,570.5 278.8,570.5 285,570.5 286.7,570.5 293.9,570.5 297.2,570.5 300.9,570.5 310.2,569.5 317.3,569.5 321.2,569.5 324.6,568.5 325.7,569.5 329.6,569.5 339.1,569.5 340,568.5 343.6,570.5 350.3,573.5 352.7,573.5 361.5,574.5 364.9,573.5 367.9,573.5 371.5,573.5 375.9,573.5 379.0,573.5 388.0,573.5 389,572.5 394.7,571.5 397.9,571.5 402.0,571.5 403,570.5 407.3,571.5 415.8,571.5 424.4,570.5 430.0,570.5 435.6,570.5 438.2,570.5 441.4,570.5 447.0,570.5 452.1,570.5 458.9,570.5 460,571.5 462.8,570.5 471.2,570.5 474.7,570.5 484.7,571.5 491.2,570.5 497.8,570.5 503.9,571.5 508.3,571.5 512.4,571.5 515,571.5 515.9,571.5 520.3,570.5 520.6,569.5 524.2,570.5 530.8,569.5 538.9,570.5 542.1,569.5 548,569.5 550.5,570.5 555.8,571.5 565.7,571.5 572.0,571.5 573,571.5 577.5,572.5 580.7,572.5 589.3,572.5 594.4,571.5 601.1,571.5 604.2,572.5 612.0,572.5 615,572.5 615.8,571.5 619.8,567.5 622.8,564.5 623,564.5" fill="none" stroke="#000080" stroke-width="1"/>
<polyline points="108,583.5 108.5,583.5 116.3,583.5 124.9,583.5 132.2,583.5 140.2,583.5 141.6,582.5 150.5,583.5 150.7,582.5 152.5,583.5 155.5,583.5 159.4,583.5 162.5,582.5 167.8,582.5 171.9,583.5 178.7,583.5 183.4,582.5 190.5,582.5 194.1,582.5 198.8,581.5 204.0,581.5 210.5,582.5 212.6,582.5 220.0,583.5 222.8,583.5 228,577.5 229.5,576.5 235.1,572.5 236.8,573.5 237.6,573.5 240.3,572.5 247.2,571.5 253.5,571.5 258.0,571.5 262.5,571.5 272.1,571.5 280.1,571.5 285,570.5 287.0,570.5 295.4,570.5 304.0,569.5 307.3,570.5 311.3,570.5 314.8,570.5 320.7,570.5 324.7,571.5 325.7,570.5 332.7,570.5 338.6,571.5 340,571.5 346.8,572.5 350.3,573.5 354.7,573.5 359.9,574.5 367.9,575.5 369.2,574.5 375.4,575.5 378.6,575.5 384.3,574.5 388.0,574.5 389,575.5 392.8,573.5 400.9,573.5 403,572.5 404.1,573.5 413.3,572.5 422.5,573.5 429.0,573.5 436.7,573.5 438.2,573.5 444.5,573.5 450.9,572.5 455.0,573.5 460,572.5 464.1,572.5 472.1,572.5 477.4,572.5 487.3,572.5 495.5,572.5 498.9,571.5 503.1,571.5 512.2,571.5 515,571.5 520.3,570.5 520.3,569.5 525.7,569.5 530.2,570.5 536.2,570.5 541.3,571.5 547.9,571.5 548,571.5 552.2,571.5 556.1,571.5 559.5,572.5 567.6,572.5 573,572.5 574.1,572.5 578.0,571.5 583.7,572.5 588.3,573.5 593.6,573.5 601.8,573.5 607.3,573.5 615,573.5 615.8,573.5 622.5,567.5 623,567.5" fill="none" stroke="#9400d3" stroke-width="1"/>
<polyline points="108,582.5 108.5,582.5 113.8,583.5 121.8,583.5 130.2,583.5 137.3,583.5 140.2,583.5 144.4,582.5 147.8,583.5 150.7,582.5 151.4,582.5 152.5,583.5 154.5,583.5 160.3,583.5 165.3,582.5 169.6,583.5 174.4,583.5 177.9,583.5 181.7,584.5 188.2,583.5 197.6,583.5 205.3,583.5 210.5,583.5 213.5,583.5 216.7,583.5 222.8,583.5 223.3,583.5 228,578.5 233.1,574.5 235.1,573.5 236.8,572.5 240.3,571.5 242.2,571.5 245.5,572.5 250.6,571.5 255.4,570.5 259.7,570.5 263.9,571.5 268.5,572.5 272.4,572.5 277.7,571.5 285,571.5 287.4,571.5 296.6,571.5 305.0,570.5 314.1,570.5 318.9,570.5 325.7,571.5 325.8,571.5 330.7,571.5 336.0,572.5 339.3,571.5 340,571.5 347.3,573.5 350.3,574.5 353.0,574.5 357.4,573.5 364.0,574.5 367.9,574.5 369.6,574.5 374.0,575.5 383.9,575.5 389,575.5 391.3,575.5 395.5,574.5 399.5,573.5 403,573.5 408.4,573.5 418.3,572.5 422.5,572.5 429.3,572.5 434.7,572.5 438.2,572.5 438.9,573.5 446.4,572.5 451.4,573.5 458.9,572.5 460,572.5 466.2,573.5 473.2,572.5 479.2,573.5 482.7,573.5 492.4,573.5 495.7,573.5 499.7,574.5 505.6,573.5 515,573.5 515.1,573.5 520.3,573.5 521.9,572.5 527.2,572.5 530.8,572.5 535.4,573.5 542.9,572.5 548,572.5 552.8,573.5 562.5,574.5 571.9,574.5 573,574.5 581.6,574.5 586.6,574.5 590.0,573.5 597.7,572.5 600.8,573.5 607.3,572.5 615,573.5 616.1,572.5 621.0,568.5 623,567.5" fill="none" stroke="#9acd32" stroke-width="1"/>
<polyline points="108,583.5 108.5,583.5 115.7,583.5 121.8,583.5 129.2,584.5 137.9,584.5 140.2,584.5 143.3,584.5 150.7,583.5 151.7,584.5 152.5,583.5 158.2,583.5 167.3,583.5 171.6,583.5 178.2,583.5 187.9,583.5 195.2,582.5 201.7,582.5 206.2,583.5 210.5,582.5 211.4,583.5 215.4,583.5 221.3,584.5 222.8,584.5 228,578.5 228.0,579.5 232.3,576.5 235.1,574.5 235.4,574.5 236.8,573.5 240.3,572.5 242.6,572.5 249.4,571.5 255.2,571.5 258.9,571.5 262.6,572.5 267.5,572.5 276.6,572.5 280.3,571.5 284.0,571.5 285,572.5 287.6,572.5 290.9,571.5 297.8,572.5 304.6,571.5 313.4,570.5 322.3,570.5 325.7,570.5 327.0,570.5 333.2,572.5 340,572.5 341.7,572.5 347.9,574.5 350.3,575.5 354.8,576.5 357.9,576.5 361.1,575.5 366.6,575.5 367.9,575.5 370.9,575.5 377.0,575.5 381.7,575.5 388.7,575.5 389,575.5 393.2,574.5 397.3,573.5 403,573.5 406.4,572.5 415.5,573.5 422.2,573.5 427.7,573.5 434.0,573.5 438.2,573.5 443.1,574.5 449.2,573.5 454.3,574.5 460,574.5 464.3,573.5 469.5,574.5 473.1,574.5 476.1,574.5 482.6,574.5 490.4,574.5 495.4,573.5 505.3,572.5 509.4,572.5 515,573.5 519.3,572.5 520.3,572.5 529.2,573.5 534.4,572.5 544.3,573.5 548.0,573.5 548,573.5 553.5,573.5 559.9,574.5 567.7,574.5 573,574.5 574.7,575.5 578.2,575.5 585.5,574.5 590.9,575.5 599.5,574.5 605.8,574.5 615,574.5 615.4,574.5 623,568.5" fill="none" stroke="#6b8e23" stroke-width="1"/>
<polyline points="108,584.5 108.5,584.5 112.1,584.5 121.8,583.5 130.6,584.5 133.6,584.5 138.5,584.5 140.2,584.5 141.9,584.5 149.4,584.5 150.7,583.5 152.5,584.5 157.2,584.5 160.9,583.5 167.6,584.5 173.8,584.5 178.0,584.5 184.0,584.5 193.9,583.5 198.4,583.5 202.1,583.5 209.7,583.5 210.5,583.5 215.1,583.5 222.2,584.5 222.8,585.5 225.3,582.5 228,579.5 233.3,576.5 235.1,574.5 236.8,575.5 240.3,573.5 241.2,573.5 247.8,573.5 257.2,573.5 266.6,573.5 275.9,574.5 285,574.5 285.9,573.5 295.2,573.5 298.7,572.5 306.9,573.5 316.5,573.5 325.7,573.5 326.4,573.5 331.3,573.5 340,573.5 340.7,573.5 350.3,576.5 350.3,576.5 357.7,576.5 365.0,577.5 367.9,577.5 371.1,577.5 376.6,577.5 382.0,577.5 389,577.5 390.6,576.5 398.1,576.5 403,575.5 403.6,575.5 411.4,574.5 419.5,574.5 423.9,574.5 428.0,575.5 437.0,575.5 438.2,574.5 440.9,575.5 445.3,575.5 453.7,575.5 458.2,574.5 460,575.5 466.1,575.5 475.6,574.5 482.3,574.5 488.7,575.5 493.2,574.5 502.7,574.5 511.2,575.5 515,574.5 516.5,573.5 520.3,573.5 523.3,574.5 532.5,573.5 538.5,573.5 543.9,574.5 548,574.5 550.5,575.5 559.2,574.5 567.5,574.5 571.5,575.5 573,575.5 577.9,575.5 586.9,575.5 594.6,575.5 604.4,575.5 612.2,575.5 615,575.5 618.4,573.5 622.8,571.5 623,571.5" fill="none" stroke="#da70d6" stroke-width="1"/>
<polyline points="108,584.5 108.5,585.5 112.8,584.5 119.1,585.5 126.8,585.5 134.7,586.5 140.2,586.5 142.1,586.5 150.3,585.5 150.7,584.5 152.5,585.5 157.0,585.5 163.1,584.5 166.1,584.5 170.5,584.5 177.3,584.5 186.0,584.5 195.4,584.5 202.4,583.5 209.3,584.5 210.5,583.5 214.5,584.5 222.8,585.5 223.2,584.5 228,580.5 228.4,579.5 235.1,576.5 236.4,576.5 236.8,577.5 240.3,575.5 242.1,575.5 246.0,575.5 252.6,575.5 257.2,574.5 260.2,573.5 267.3,574.5 274.4,574.5 279.7,574.5 285,574.5 289.2,574.5 298.1,574.5 307.6,573.5 312.8,574.5 322.0,573.5 325.7,572.5 327.7,573.5 333.1,573.5 337.9,574.5 340,575.5 346.9,576.5 350.3,577.5 351.6,576.5 357.2,577.5 365.7,578.5 367.9,578.5 369.0,577.5 378.4,577.5 385.8,578.5 389,577.5 392.6,577.5 398.5,577.5 403.0,577.5 403,576.5 412.6,576.5 417.3,576.5 423.9,576.5 429.0,575.5 433.2,576.5 438.2,576.5 439.8,575.5 447.8,575.5 451.6,575.5 455.5,576.5 460,576.5 462.3,577.5 466.5,576.5 473.7,576.5 479.3,575.5 482.9,575.5 491.5,574.5 496.4,575.5 505.9,575.5 514.7,576.5 515,576.5 520.3,574.5 521.8,573.5 531.3,574.5 536.5,574.5 544.6,574.5 548,574.5 550.4,574.5 555.9,574.5 561.5,575.5 570.4,576.5 573,577.5 574.6,576.5 582.5,576.5 591.8,577.5 599.6,577.5 608.7,577.5 615,576.5 615.9,575.5 623,571.5" fill="none" stroke="#b0205a" stroke-width="1"/>
<polyline points="108,585.5 108.5,585.5 116.9,585.5 123.8,585.5 130.7,585.5 138.1,586.5 140.2,585.5 144.4,585.5 149.0,585.5 150.7,586.5 152.1,586.5 152.5,586.5 161.2,586.5 170.7,585.5 173.9,585.5 180.9,584.5 188.6,585.5 196.4,585.5 205.2,585.5 210.5,585.5 211.6,586.5 216.7,586.5 222.8,586.5 223.6,585.5 228,581.5 233.2,578.5 235.1,577.5 236.8,577.5 237.5,577.5 240.3,575.5 242.5,575.5 245.8,576.5 251.1,576.5 260.5,576.5 264.1,576.5 268.6,575.5 273.9,575.5 281.4,574.5 285,575.5 286.2,575.5 293.8,576.5 298.2,575.5 302.7,575.5 311.3,575.5 320.6,575.5 325.7,574.5 330.2,575.5 334.1,574.5 339.4,574.5 340,575.5 343.5,576.5 347.9,577.5 350.3,577.5 356.6,577.5 362.4,577.5 367.6,577.5 367.9,578.5 376.7,578.5 382.6,579.5 389,579.5 392.2,578.5 397.0,577.5 402.6,577.5 403,576.5 409.5,576.5 417.3,577.5 426.3,576.5 434.7,576.5 438.2,577.5 438.8,577.5 444.3,577.5 452.6,577.5 460,576.5 462.3,577.5 467.9,577.5 475.9,577.5 480.5,578.5 490.1,577.5 495.7,577.5 505.2,577.5 512.0,576.5 515,576.5 520.3,576.5 521.2,576.5 525.5,576.5 535.5,576.5 541.8,575.5 545.4,575.5 548,576.5 551.2,576.5 557.2,576.5 566.2,577.5 573,577.5 575.0,577.5 580.2,577.5 587.6,576.5 590.9,576.5 596.1,575.5 604.2,576.5 609.5,576.5 615,576.5 615.6,577.5 618.7,575.5 623,573.5" fill="none" stroke="#000000" stroke-width="1"/>
<polyline points="108,586.5 108.5,585.5 117.5,586.5 125.2,586.5 130.1,586.5 139.3,586.5 140.2,587.5 147.2,586.5 150.7,586.5 152.5,586.5 155.7,586.5 160.6,586.5 164.7,586.5 170.1,587.5 174.2,586.5 183.5,586.5 187.9,585.5 194.5,585.5 203.1,585.5 209.9,585.5 210.5,585.5 213.4,585.5 220.2,586.5 222.8,586.5 223.4,585.5 228,582.5 231.4,581.5 235.1,578.5 236.8,577.5 237.6,577.5 240.3,575.5 245.5,576.5 255.1,577.5 261.5,576.5 267.1,576.5 271.6,575.5 280.4,576.5 285,576.5 288.9,576.5 298.1,576.5 306.7,576.5 311.6,576.5 316.2,576.5 322.4,577.5 325.7,576.5 331.0,577.5 336.6,576.5 340,576.5 344.9,577.5 349.2,578.5 350.3,578.5 355.5,578.5 360.9,578.5 367.9,579.5 369.4,579.5 374.7,579.5 383.7,578.5 387.9,578.5 389,578.5 394.6,579.5 403,577.5 404.5,577.5 408.7,577.5 414.2,577.5 420.1,578.5 426.1,578.5 435.0,577.5 438.2,577.5 442.4,576.5 449.8,576.5 455.4,577.5 459.4,577.5 460,577.5 465.5,577.5 473.9,577.5 480.5,576.5 487.9,577.5 491.6,576.5 500.4,576.5 509.5,576.5 514.7,576.5 515,576.5 517.8,575.5 520.3,575.5 521.7,575.5 525.7,576.5 529.4,577.5 538.9,577.5 548,577.5 548.3,576.5 554.0,577.5 563.4,578.5 571.7,578.5 573,577.5 576.9,578.5 583.1,577.5 586.6,578.5 594.9,578.5 599.5,577.5 605.6,577.5 609.6,577.5 615,578.5 618.3,576.5 623,574.5" fill="none" stroke="#000000" stroke-width="1"/>
<polyline points="108,586.5 108.5,586.5 116.8,586.5 122.7,586.5 132.6,587.5 140.2,587.5 141.0,587.5 144.9,586.5 148.8,587.5 150.7,586.5 152.5,586.5 153.7,585.5 157.7,586.5 166.6,586.5 171.1,586.5 179.3,585.5 188.8,585.5 195.1,585.5 200.5,585.5 207.6,586.5 210.5,585.5 217.6,587.5 222.8,588.5 223.0,587.5 228,582.5 228.8,582.5 235.1,579.5 236.6,578.5 236.8,578.5 240.3,576.5 245.9,577.5 254.3,577.5 258.9,576.5 262.8,576.5 272.0,576.5 275.9,575.5 283.7,576.5 285,576.5 288.1,576.5 297.3,577.5 301.5,576.5 311.3,576.5 317.5,576.5 322.6,576.5 325.7,576.5 325.7,575.5 331.1,576.5 338.7,576.5 340,576.5 342.5,577.5 346.3,579.5 350.3,579.5 354.2,578.5 358.9,578.5 366.1,579.5 367.9,579.5 369.4,578.5 375.2,579.5 380.0,579.5 388.0,578.5 389,579.5 391.5,578.5 396.5,579.5 403,579.5 405.2,579.5 411.8,578.5 417.6,579.5 422.4,578.5 429.2,577.5 433.1,578.5 438.2,577.5 438.4,577.5 441.5,578.5 449.9,577.5 457.4,578.5 460,578.5 460.5,577.5 465.0,577.5 473.1,578.5 478.2,578.5 483.7,578.5 492.1,578.5 496.3,577.5 503.4,577.5 506.7,576.5 510.2,577.5 514.8,576.5 515,577.5 520.3,577.5 524.5,578.5 534.2,577.5 541.9,578.5 548,577.5 551.5,578.5 558.6,578.5 561.8,578.5 565.5,578.5 570.1,578.5 573,579.5 575.8,578.5 581.4,578.5 584.9,578.5 592.8,577.5 601.7,577.5 608.0,578.5 615,579.5 615.5,578.5 619.0,576.5 623,574.5" fill="none" stroke="#d2691e" stroke-width="1"/>
<polyline points="108,587.5 108.5,587.5 117.9,588.5 122.8,587.5 126.7,588.5 131.2,588.5 136.7,588.5 140.0,588.5 140.2,587.5 147.3,587.5 150.7,587.5 152.5,587.5 156.0,587.5 159.5,587.5 168.9,586.5 178.2,587.5 185.1,587.5 190.1,586.5 195.4,586.5 200.2,586.5 206.3,586.5 210.5,586.5 214.6,586.5 220.8,588.5 222.8,589.5 226.2,586.5 228,584.5 230.8,583.5 235.1,579.5 236.8,579.5 239.5,578.5 240.3,578.5 247.8,578.5 256.1,578.5 263.4,578.5 269.5,577.5 278.9,578.5 285,577.5 285.5,578.5 289.8,578.5 294.7,577.5 299.4,577.5 306.1,577.5 313.7,576.5 318.4,576.5 325.7,577.5 326.1,577.5 334.9,577.5 340,577.5 344.8,578.5 350.3,580.5 353.8,579.5 356.8,580.5 363.6,581.5 367.9,580.5 372.3,580.5 375.8,580.5 384.9,580.5 389,580.5 391.7,580.5 401.6,579.5 403,580.5 410.2,579.5 419.2,579.5 426.9,580.5 435.4,580.5 438.2,579.5 439.4,579.5 448.1,579.5 457.4,579.5 460,579.5 463.7,578.5 467.8,579.5 476.2,579.5 482.8,579.5 488.3,579.5 495.7,578.5 498.9,578.5 506.5,578.5 513.9,578.5 515,578.5 517.4,579.5 520.3,579.5 522.1,579.5 531.7,578.5 539.3,578.5 548,579.5 549.0,580.5 555.0,580.5 560.5,579.5 565.4,578.5 573,579.5 575.3,579.5 583.8,579.5 587.6,579.5 593.5,579.5 599.2,579.5 604.4,578.5 613.7,578.5 615,578.5 620.6,576.5 623,575.5" fill="none" stroke="#7cfc00" stroke-width="1"/>
<polyline points="108,587.5 108.5,587.5 115.0,587.5 124.2,587.5 128.6,588.5 134.5,589.5 139.0,588.5 140.2,587.5 146.4,587.5 150.7,586.5 150.7,586.5 152.5,586.5 156.0,587.5 161.6,587.5 165.9,588.5 171.0,587.5 178.9,587.5 182.6,587.5 190.0,586.5 194.0,586.5 197.2,586.5 204.1,586.5 210.5,586.5 211.6,586.5 217.4,588.5 221.9,589.5 222.8,590.5 225.0,587.5 228,584.5 233.9,581.5 235.1,580.5 236.8,580.5 237.8,580.5 240.3,578.5 241.7,578.5 247.3,578.5 252.6,579.5 257.0,578.5 265.3,578.5 270.4,579.5 273.8,579.5 280.6,579.5 285,578.5 285.1,579.5 289.1,579.5 296.7,579.5 301.3,579.5 311.3,580.5 317.9,579.5 322.5,579.5 325.7,578.5 327.9,578.5 335.7,579.5 340,579.5 340.3,578.5 345.7,579.5 350.3,581.5 353.9,580.5 363.6,581.5 367.9,581.5 371.1,581.5 375.2,582.5 380.0,581.5 384.5,581.5 388.2,581.5 389,580.5 396.8,580.5 403,580.5 405.9,580.5 413.1,580.5 418.3,580.5 427.1,579.5 433.9,579.5 438.2,579.5 441.9,579.5 447.5,578.5 455.0,579.5 458.8,580.5 460,581.5 467.2,580.5 470.4,580.5 476.3,580.5 480.7,579.5 487.6,580.5 495.9,579.5 505.3,579.5 514.0,579.5 515,579.5 520.3,579.5 522.0,579.5 530.6,578.5 539.2,578.5 543.6,579.5 548,579.5 549.6,579.5 555.9,579.5 565.2,579.5 573,579.5 574.1,579.5 584.0,580.5 590.6,579.5 600.6,580.5 607.1,580.5 611.3,580.5 615,579.5 617.0,579.5 623,577.5" fill="none" stroke="#ff6347" stroke-width="1"/>
<polyline points="108,587.5 108.5,587.5 116.7,588.5 123.0,587.5 127.5,588.5 132.9,589.5 138.0,589.5 140.2,589.5 145.0,589.5 150.7,589.5 152.5,588.5 154.5,587.5 161.3,588.5 170.7,588.5 175.2,588.5 183.7,587.5 191.3,587.5 198.5,587.5 201.5,588.5 210.5,588.5 211.0,587.5 214.3,588.5 222.1,589.5 222.8,590.5 225.4,588.5 228,586.5 228.4,586.5 232.4,583.5 235.1,582.5 236.8,581.5 237.8,581.5 240.3,578.5 241.9,578.5 248.2,579.5 253.2,579.5 258.8,579.5 263.1,579.5 272.0,579.5 280.0,580.5 285,579.5 289.2,580.5 295.3,579.5 300.9,579.5 304.3,580.5 311.6,579.5 319.1,580.5 325.7,580.5 326.1,580.5 335.1,580.5 340,580.5 342.7,581.5 350.3,582.5 350.5,581.5 356.2,582.5 360.1,581.5 367.1,582.5 367.9,583.5 376.4,582.5 381.4,581.5 389,581.5 391.4,581.5 399.4,580.5 403,580.5 407.1,580.5 412.6,581.5 421.2,581.5 431.2,581.5 435.2,581.5 438.2,580.5 438.6,581.5 443.3,581.5 450.2,581.5 456.0,580.5 460,580.5 464.2,580.5 472.8,581.5 475.8,580.5 483.9,580.5 491.4,579.5 496.0,580.5 504.1,581.5 507.7,581.5 512.9,580.5 515,580.5 520.0,580.5 520.3,581.5 523.7,581.5 531.1,580.5 536.5,579.5 544.4,580.5 548,580.5 548.2,580.5 555.5,581.5 559.3,580.5 565.3,580.5 569.5,580.5 573,581.5 575.5,582.5 584.0,581.5 588.2,581.5 593.5,581.5 601.5,581.5 606.6,581.5 611.5,581.5 615,581.5 618.6,580.5 623,578.5" fill="none" stroke="#cd6839" stroke-width="1"/>
<polyline points="108,589.5 108.5,589.5 113.5,590.5 120.7,590.5 130.4,590.5 139.1,589.5 140.2,589.5 144.1,589.5 148.6,589.5 150.7,589.5 152.5,588.5 156.3,589.5 161.3,588.5 171.1,589.5 174.2,589.5 183.3,588.5 187.6,588.5 195.7,587.5 203.5,587.5 208.1,587.5 210.5,587.5 214.3,589.5 222.8,591.5 224.3,590.5 228,586.5 228.4,586.5 235.1,582.5 235.2,583.5 236.8,583.5 240.3,579.5 240.8,579.5 247.7,579.5 251.1,579.5 259.2,580.5 263.7,581.5 271.6,580.5 276.1,580.5 282.4,580.5 285,580.5 291.0,580.5 296.5,580.5 305.9,580.5 313.5,580.5 319.0,581.5 323.5,581.5 325.7,581.5 329.0,580.5 337.3,580.5 340,581.5 341.6,582.5 349.2,582.5 350.3,582.5 354.9,582.5 360.7,583.5 367.9,583.5 369.6,583.5 377.1,583.5 381.6,582.5 389,581.5 391.0,582.5 398.5,582.5 403,582.5 404.8,583.5 412.7,582.5 421.1,581.5 430.6,581.5 436.1,581.5 438.2,581.5 439.7,581.5 443.8,582.5 450.6,581.5 455.9,581.5 460,582.5 460.3,582.5 464.9,582.5 472.9,581.5 480.9,581.5 484.9,581.5 491.2,580.5 497.9,581.5 502.6,582.5 510.1,581.5 515,581.5 518.5,581.5 520.3,581.5 527.1,580.5 534.6,581.5 540.7,581.5 546.0,580.5 548,581.5 555.4,581.5 562.3,581.5 571.8,581.5 573,581.5 581.0,580.5 587.8,581.5 591.0,581.5 595.0,581.5 599.6,581.5 606.0,582.5 613.1,582.5 615,582.5 616.5,582.5 619.9,581.5 623,580.5" fill="none" stroke="#a0522d" stroke-width="1"/>
<polyline points="108,589.5 108.5,588.5 114.5,589.5 121.9,589.5 125.2,588.5 128.8,589.5 135.4,589.5 140.2,590.5 142.6,590.5 148.7,590.5 150.7,590.5 152.5,590.5 154.6,589.5 164.4,589.5 168.9,588.5 177.7,588.5 180.8,588.5 187.8,588.5 193.0,588.5 196.4,588.5 202.9,588.5 209.7,588.5 210.5,587.5 215.9,589.5 222.8,591.5 223.4,590.5 228,587.5 232.6,584.5 235.1,583.5 236.8,582.5 237.8,582.5 240.3,580.5 245.1,579.5 250.2,580.5 257.6,580.5 267.1,581.5 274.8,581.5 283.0,580.5 285,580.5 286.3,580.5 291.2,580.5 300.2,581.5 306.8,581.5 310.8,581.5 317.1,581.5 325.7,580.5 326.9,580.5 334.9,580.5 338.3,580.5 340,580.5 347.8,581.5 350.3,581.5 357.8,582.5 362.1,582.5 367.9,582.5 369.0,582.5 377.9,582.5 385.0,583.5 389,583.5 394.2,582.5 402.9,583.5 403,582.5 408.7,582.5 413.1,581.5 417.7,581.5 423.3,581.5 429.7,581.5 436.3,581.5 438.2,582.5 443.4,582.5 450.7,581.5 456.2,581.5 460,582.5 461.2,583.5 469.6,582.5 473.9,582.5 478.5,582.5 488.0,582.5 497.7,581.5 505.0,581.5 513.5,581.5 515,581.5 519.4,582.5 520.3,582.5 526.3,582.5 534.2,581.5 538.9,582.5 547.7,581.5 548,581.5 552.4,582.5 561.6,582.5 564.7,582.5 572.8,583.5 573,582.5 579.7,581.5 589.7,581.5 594.5,582.5 599.1,582.5 605.0,582.5 608.1,582.5 613.2,583.5 615,582.5 616.9,581.5 623,580.5" fill="none" stroke="#ff4500" stroke-width="1"/>
<polyline points="108,588.5 108.5,589.5 115.9,589.5 122.9,590.5 129.1,590.5 134.3,590.5 140.2,591.5 141.1,590.5 150.2,590.5 150.7,589.5 152.5,590.5 153.8,590.5 161.0,589.5 170.5,589.5 178.5,589.5 188.4,588.5 192.6,589.5 198.3,588.5 201.8,587.5 210.5,588.5 211.2,589.5 216.9,591.5 222.8,592.5 226.1,590.5 228,588.5 235.1,585.5 235.3,584.5 236.8,583.5 240.0,581.5 240.3,580.5 247.9,580.5 253.7,581.5 261.1,580.5 264.2,581.5 273.7,581.5 282.5,581.5 285,582.5 292.2,581.5 299.1,582.5 307.9,582.5 316.4,582.5 319.4,581.5 323.8,581.5 325.7,582.5 331.7,582.5 340,582.5 341.1,583.5 344.2,582.5 350.1,583.5 350.3,584.5 359.8,585.5 367.0,585.5 367.9,584.5 376.1,584.5 383.0,584.5 389,583.5 389.3,583.5 398.3,583.5 403,583.5 408.1,583.5 412.9,582.5 417.4,583.5 422.8,583.5 429.6,582.5 433.2,583.5 438.2,583.5 438.2,582.5 445.8,583.5 451.5,582.5 458.0,582.5 460,582.5 464.9,582.5 472.0,583.5 481.0,583.5 487.8,583.5 495.9,583.5 501.0,583.5 506.5,582.5 513.6,583.5 515,582.5 520.3,581.5 523.6,581.5 529.8,582.5 537.0,582.5 541.1,582.5 548,583.5 548.1,583.5 556.8,583.5 560.0,583.5 564.8,583.5 570.7,584.5 573,583.5 579.6,583.5 586.1,583.5 592.8,583.5 598.3,583.5 602.9,582.5 606.7,583.5 615,583.5 616.0,583.5 623,582.5" fill="none" stroke="#8b6914" stroke-width="1"/>
<polyline points="108,589.5 108.5,590.5 113.8,590.5 118.0,590.5 121.4,590.5 126.6,591.5 134.3,590.5 140.0,592.5 140.2,591.5 149.9,591.5 150.7,591.5 152.5,592.5 157.8,591.5 161.3,591.5 167.4,590.5 176.2,589.5 183.8,589.5 190.3,589.5 193.6,589.5 202.9,588.5 208.1,589.5 210.5,589.5 212.5,589.5 215.8,590.5 218.8,590.5 222.8,593.5 228.0,590.5 228,590.5 235.1,586.5 236.8,585.5 236.8,585.5 240.3,581.5 240.7,582.5 246.2,582.5 250.2,583.5 258.3,584.5 265.8,584.5 270.8,584.5 277.5,583.5 284.2,584.5 285,583.5 287.9,584.5 293.7,583.5 298.8,584.5 305.5,583.5 314.5,583.5 322.6,583.5 325.7,583.5 330.1,584.5 338.4,583.5 340,583.5 342.0,583.5 345.8,583.5 350.3,583.5 353.4,584.5 361.4,585.5 367.9,584.5 369.6,584.5 373.7,585.5 380.6,584.5 388.3,584.5 389,585.5 391.7,585.5 399.1,585.5 403,585.5 403.1,585.5 407.9,584.5 414.8,584.5 418.5,583.5 424.9,583.5 433.5,583.5 438.2,584.5 439.5,585.5 445.1,584.5 450.1,584.5 459.7,584.5 460,584.5 464.6,584.5 467.7,583.5 473.2,583.5 478.4,584.5 488.3,584.5 492.8,584.5 501.7,583.5 504.8,584.5 510.6,585.5 515,584.5 517.5,584.5 520.3,584.5 526.4,584.5 529.9,584.5 536.2,584.5 544.3,583.5 548,584.5 553.2,584.5 563.1,584.5 567.1,584.5 573,584.5 574.9,584.5 579.6,584.5 583.9,585.5 593.5,585.5 600.6,585.5 608.6,585.5 613.5,584.5 615,584.5 622.2,583.5 623,583.5" fill="none" stroke="#d2691e" stroke-width="1"/>
<polyline points="108,590.5 108.5,590.5 113.1,590.5 118.2,591.5 122.8,590.5 129.3,590.5 133.6,590.5 137.2,591.5 140.2,591.5 147.0,591.5 150.7,591.5 151.3,591.5 152.5,590.5 158.1,590.5 162.0,590.5 168.9,590.5 174.5,591.5 181.9,591.5 191.0,590.5 197.3,590.5 205.6,590.5 210.2,590.5 210.5,590.5 216.9,592.5 222.6,594.5 222.8,594.5 228,591.5 230.2,590.5 234.5,588.5 235.1,587.5 236.8,586.5 238.1,585.5 240.3,583.5 247.2,583.5 251.6,583.5 255.1,584.5 258.1,583.5 265.7,583.5 273.9,584.5 283.5,584.5 285,585.5 291.7,585.5 300.5,585.5 308.8,585.5 318.5,584.5 325.7,585.5 328.1,585.5 331.3,584.5 339.8,584.5 340,584.5 345.8,585.5 350.3,585.5 352.9,585.5 361.4,585.5 365.3,586.5 367.9,585.5 373.6,586.5 376.9,585.5 382.1,586.5 387.6,585.5 389,585.5 394.5,585.5 400.8,586.5 403,585.5 410.7,585.5 418.8,585.5 427.7,585.5 436.8,585.5 438.2,585.5 442.3,585.5 451.6,584.5 458.5,584.5 460,584.5 463.4,585.5 468.1,585.5 476.7,584.5 480.7,585.5 488.8,585.5 492.3,585.5 499.2,584.5 506.8,585.5 514.0,585.5 515,584.5 517.7,584.5 520.3,584.5 526.0,585.5 534.4,585.5 538.8,585.5 543.6,584.5 548,584.5 549.5,584.5 557.9,584.5 562.6,584.5 571.6,584.5 573,584.5 580.8,585.5 590.1,585.5 595.0,585.5 600.7,585.5 605.8,585.5 615,584.5 615.4,585.5 620.0,584.5 623,583.5" fill="none" stroke="#66cd00" stroke-width="1"/>
<polyline points="108,591.5 108.5,591.5 115.1,592.5 123.9,592.5 130.9,592.5 135.9,593.5 140.2,592.5 141.2,592.5 150.7,591.5 150.7,591.5 152.5,592.5 154.7,591.5 159.9,591.5 166.0,590.5 171.9,590.5 177.2,589.5 184.1,590.5 189.2,591.5 194.9,591.5 204.8,591.5 210.5,590.5 213.2,591.5 222.6,593.5 222.8,593.5 227.5,591.5 228,591.5 233.5,588.5 235.1,588.5 236.8,587.5 237.9,586.5 240.3,584.5 241.5,584.5 245.3,585.5 255.1,585.5 264.7,585.5 269.8,585.5 277.7,584.5 285,584.5 285.8,584.5 290.2,584.5 295.9,584.5 300.9,585.5 308.9,585.5 317.1,585.5 324.8,586.5 325.7,586.5 329.9,586.5 337.6,586.5 340,585.5 341.5,584.5 350.3,584.5 350.8,584.5 359.8,585.5 367.9,586.5 368.8,586.5 375.5,586.5 383.7,585.5 389,585.5 392.6,585.5 401.4,585.5 403,586.5 407.4,585.5 413.3,586.5 422.9,586.5 430.9,585.5 436.6,585.5 438.2,585.5 442.1,584.5 448.8,584.5 457.1,584.5 460,584.5 462.4,585.5 468.3,585.5 474.1,585.5 478.8,585.5 486.4,585.5 492.0,585.5 498.4,585.5 508.0,585.5 512.4,585.5 515,586.5 520.3,585.5 522.2,585.5 525.9,586.5 534.0,585.5 540.1,585.5 544.6,585.5 548,585.5 553.3,585.5 557.5,585.5 563.9,585.5 568.5,585.5 573,585.5 574.0,585.5 579.6,585.5 589.6,586.5 598.6,585.5 606.9,585.5 611.5,585.5 615,584.5 615.5,585.5 623,585.5" fill="none" stroke="#c71585" stroke-width="1"/>
<polyline points="108.5,577.5 111.5,577.5 114.5,577.5 117.5,577.5 120.5,577.5 123.5,577.5 126.5,577.5 129.5,577.5 132.5,577.5 135.5,577.5 138.5,577.5 141.5,577.5 144.5,577.5 147.5,577.5 150.5,577.5 153.5,577.5 156.5,577.5 159.5,577.5 162.5,577.5 165.5,577.5 168.5,577.5 171.5,577.5 174.5,577.5 177.5,577.5 180.5,577.5 183.5,577.5 186.5,577.5 189.5,577.5 192.5,577.5 195.5,577.5 198.5,577.5 201.5,577.5 204.5,577.5 207.5,577.5 210.5,577.5 213.5,577.5 216.5,577.5 219.5,577.5 222.5,577.5 222.8,577.5 225.5,572.5 226.3,570.5 228.5,568.5 231.5,566.5 234.5,563.5 235.1,563.5 237.5,558.5 238.6,556.5 240.5,556.5 243.5,556.5 246.5,556.5 249.5,556.5 252.5,556.5 255.5,556.5 258.5,556.5 261.5,556.5 263.2,556.5 264.5,555.5 265,554.5 267.5,555.5 270.5,555.5 273.5,555.5 276.5,555.5 279.5,555.5 282.5,555.5 285.5,555.5 288.5,555.5 291.5,555.5 294.5,555.5 297.5,555.5 300.5,555.5 303.5,555.5 306.5,555.5 309.5,555.5 312.5,555.5 315.5,555.5 318.5,555.5 321.5,555.5 324.5,555.5 327.5,555.5 330.5,555.5 333.5,555.5 336.5,555.5 339.5,555.5 339.8,555.5 342.5,556.5 345,557.5 345.5,557.5 348.5,557.5 351.5,557.5 354.5,557.5 357.5,557.5 360.5,557.5 363.5,557.5 366.5,557.5 369.5,557.5 372.5,557.5 375.5,557.5 378.5,557.5 381.5,557.5 384.5,557.5 387.5,557.5 390.5,557.5 393.5,557.5 396.5,557.5 399.5,557.5 402.5,557.5 405.5,557.5 408.5,557.5 411.5,557.5 414.5,557.5 417.5,557.5 420.5,557.5 423.5,557.5 424,557.5 426,553.5 426.5,553.5 429.5,554.5 432.5,554.5 435.5,554.5 438.5,554.5 441.5,554.5 444.5,554.5 447.5,554.5 450.5,554.5 453.5,554.5 456.5,554.5 459.5,554.5 460,554.5 462.5,554.5 465.5,554.5 468.5,554.5 471.5,554.5 474.5,554.5 477.5,554.5 480.5,554.5 483.5,554.5 486.5,554.5 489.5,554.5 492.5,554.5 495.5,554.5 498.5,554.5 501.5,554.5 504.5,554.5 507.5,554.5 510.5,554.5 513.5,554.5 515,554.5 516.5,553.5 519.5,552.5 520,552.5 522.5,551.5 525.5,552.5 528.5,552.5 531.5,552.5 534.5,551.5 535,551.5 537.5,552.5 540.5,552.5 543.5,552.5 546.5,553.5 549.5,553.5 552.5,554.5 555.5,554.5 558.5,554.5 560,555.5 561.5,555.5 564.5,557.5 567.5,558.5 570.5,559.5 573,560.5 573.5,560.5 576.5,560.5 579.5,560.5 582.5,560.5 585.5,560.5 588.5,560.5 591.5,560.5 592,560.5 594.5,558.5 597.5,557.5 600.5,555.5 601.2,555.5 603.5,554.5 606.5,554.5 609.5,553.5 612.5,553.5 615.5,552.5 618.5,552.5 621.5,551.5 623,551.5" fill="none" stroke="#000000" stroke-width="1"/>
<polyline points="108.5,578.5 111.5,578.5 114.5,578.5 117.5,578.5 120.5,578.5 123.5,578.5 126.5,578.5 129.5,578.5 132.5,578.5 135.5,578.5 138.5,578.5 141.5,578.5 144.5,578.5 147.5,578.5 150.5,578.5 153.5,578.5 156.5,578.5 159.5,578.5 162.5,578.5 165.5,578.5 168.5,578.5 171.5,578.5 174.5,578.5 177.5,578.5 180.5,578.5 183.5,578.5 186.5,578.5 189.5,578.5 192.5,578.5 195.5,578.5 198.5,578.5 201.5,578.5 204.5,578.5 207.5,578.5 210.5,578.5 213.5,578.5 216.5,578.5 219.5,578.5 222.5,578.5 222.8,578.5" fill="none" stroke="#000000" stroke-width="1"/>
<polyline points="237,558.5 240,555.5 243,555.5 246,555.5 249,555.5 252,555.5 255,555.5 258,555.5 261,555.5 264,555.5 267,555.5 270,555.5 273,555.5 276,555.5 279,555.5 282,555.5 285,554.5 288,554.5 291,554.5 294,554.5 297,554.5 300,554.5 303,554.5 306,554.5 309,554.5 312,554.5 315,554.5 318,554.5 321,554.5 324,554.5 327,554.5 330,554.5 333,554.5 336,554.5 339,554.5 339.8,554.5 342,554.5 345,555.5 348,555.5 351,556.5 354,556.5 357,557.5 360,556.5 363,556.5 366,556.5 369,556.5 372,556.5 375,557.5 378,557.5 381,557.5 384,556.5 387,557.5 390,556.5 393,557.5 396,557.5 399,557.5 402,557.5 405,556.5 408,557.5 411,557.5 414,557.5 417,557.5 420,557.5 423,557.5 424,557.5 426,553.5 429,552.5 432,552.5 435,552.5 438,552.5 441,552.5 444,552.5 447,552.5 450,551.5 453,552.5 456,552.5 459,552.5 460,552.5 462,552.5 465,552.5 468,552.5 471,552.5 474,552.5 477,551.5 480,551.5 483,551.5 486,551.5 489,551.5 492,551.5 495,551.5 498,551.5 501,551.5 504,551.5 507,551.5 510,551.5 513,551.5 515,551.5 516,551.5 519,551.5 520,551.5 522,551.5 525,551.5 528,551.5 531,551.5 534,551.5 537,551.5 540,551.5 543,551.5 546,551.5 549,551.5 552,551.5 555,551.5 558,551.5 561,551.5 564,551.5 567,551.5 570,551.5 573,556.5 576,556.5 579,556.5 582,556.5 585,556.5 588,556.5 590.6,556.5 591,556.5 594,555.5 597,554.5 599.4,553.5 600,553.5 603,553.5 606,553.5 609,553.5 612,552.5 615,552.5 618,549.5 621,546.5 621.4,546.5 623,546.5" fill="none" stroke="#5ab4f0" stroke-width="1"/>
<polyline points="150,576.5 152.5,573.5 153,573.5 156,573.5 159,574.5 162,574.5 165,574.5 168,574.5 171,574.5 174,574.5 177,575.5 180,575.5 183,575.5 186,575.5 189,575.5 189.4,575.5 192,576.5 195,576.5" fill="none" stroke="#a08020" stroke-width="1"/>
<polyline points="152.5,579.5 155.5,579.5 158.5,579.5 161.5,579.5 164.5,579.5 167.5,579.5 170.5,579.5 173.5,579.5 176.5,579.5 179.5,579.5 182.5,579.5 185.5,579.5 188.5,579.5 191.5,579.5 194.5,579.5 197.5,579.5 200.5,579.5 203.5,579.5 206.5,579.5 209.5,579.5 212.5,579.5 215.5,579.5 218.5,579.5 219,579.5" fill="none" stroke="#87cefa" stroke-width="1"/>
<polyline points="282,561.5 285,557.5 288,559.5 290,561.5 291,561.5 294,561.5 297,561.5 300,561.5 303,561.5 306,561.5 309,561.5 312,561.5 315,561.5 318,561.5 321,561.5 324,561.5 325,561.5 327,562.5 330,562.5 333,562.5 336,562.5 339,563.5 342,563.5 345,563.5" fill="none" stroke="#b8a0e0" stroke-width="1"/>
<polyline points="505,561.5 508,561.5 509.8,561.5 511,561.5 514,559.5 517,558.5 520,556.5 520.3,556.5 523,556.5 526,556.5 529,556.5 532,556.5 535,556.5 538,557.5 540,556.5 541,557.5 544,558.5 547,560.5 548.4,560.5 550,560.5 553,560.5 556,560.5 559,560.5 562,560.5 565,560.5 568,560.5 571,560.5 573,560.5 574,560.5 577,560.5 580,560.5 583,560.5 586,561.5 589,560.5 592,560.5 595,561.5 598,560.5 600,561.5 601,561.5 604,560.5 607,560.5 610,560.5 613,559.5 616,559.5 619,559.5 622,559.5 623,559.5" fill="none" stroke="#b8a0e0" stroke-width="1"/>
<polyline points="758,565.5 761.8,565.5 771.4,566.5 779.1,567.5 787.1,567.5 793,568.5 793.9,568.5 801.8,568.5 808.8,567.5 812.4,567.5 813,567.5 821.8,566.5 827.4,566.5 832.7,566.5 840.5,566.5 846.2,567.5 852.4,567.5 858.1,567.5 864.9,567.5 874.6,567.5 878.2,567.5 881.9,567.5 886.5,568.5 894.6,568.5 900.5,567.5 909.7,566.5 916.2,567.5 925.2,566.5 931.3,567.5 941.2,567.5 948.8,567.5 958.3,567.5 965.9,566.5 975.1,566.5 984.1,567.5 990,567.5 991.7,567.5 999,568.5 999.8,568.5 1007,568.5" fill="none" stroke="#b8a0e0" stroke-width="1"/>
<polyline points="758,564.5 767.5,565.5 777.2,567.5 785.9,567.5 790.6,568.5 793,568.5 797.5,569.5 801.1,569.5 808.2,569.5 813,568.5 813.2,568.5 818.6,568.5 822.4,568.5 827.8,567.5 832.2,568.5 837.2,568.5 841.5,568.5 847.2,568.5 856.5,567.5 863.2,567.5 869.5,567.5 878.3,568.5 887.1,567.5 894.3,567.5 899.2,567.5 909.0,568.5 918.8,567.5 927.8,568.5 934.4,568.5 943.6,567.5 948.7,568.5 956.7,567.5 963.9,567.5 970.1,567.5 979.0,568.5 986.2,567.5 990,567.5 993.4,567.5 999,568.5 1002.4,568.5 1007,569.5" fill="none" stroke="#b8a0e0" stroke-width="1"/>
<polyline points="758,566.5 764.2,567.5 771.6,567.5 778.3,568.5 782.1,568.5 785.4,568.5 789.2,568.5 792.9,568.5 793,568.5 802.2,567.5 806.3,567.5 813,567.5 813.9,568.5 819.6,567.5 827.5,567.5 837.2,568.5 846.6,567.5 851.8,567.5 859.4,568.5 865.8,568.5 875.7,568.5 884.2,567.5 893.9,568.5 898.9,568.5 903.0,568.5 911.9,568.5 921.9,567.5 927.3,568.5 935.5,568.5 938.9,568.5 943.6,568.5 953.2,568.5 960.8,568.5 970.5,567.5 974.7,568.5 979.1,568.5 983.9,568.5 988.1,569.5 990,568.5 991.3,569.5 999,569.5 1000.8,570.5 1004.6,569.5 1007,569.5" fill="none" stroke="#8fa0e8" stroke-width="1"/>
<polyline points="758,567.5 763.2,568.5 771.1,567.5 777.3,568.5 783.2,569.5 787.4,568.5 793,569.5 793.9,568.5 797.9,569.5 806.7,569.5 811.5,570.5 813,570.5 817.9,570.5 826.7,569.5 834.5,569.5 842.6,569.5 846.7,569.5 856.2,569.5 862.7,569.5 865.8,569.5 875.6,569.5 881.9,568.5 888.9,569.5 894.5,569.5 904.0,569.5 912.2,569.5 921.4,569.5 928.1,568.5 934.8,569.5 943.4,569.5 947.4,569.5 955.3,569.5 964.1,570.5 972.8,570.5 978.2,569.5 982.4,568.5 990,568.5 991.5,568.5 998.6,570.5 999,569.5 1007,570.5" fill="none" stroke="#da70d6" stroke-width="1"/>
<polyline points="758,568.5 762.2,569.5 769.2,569.5 777.1,569.5 781.2,570.5 787.6,569.5 792.6,570.5 793,571.5 800.2,571.5 806.7,570.5 813,570.5 814.8,571.5 820.1,571.5 823.9,571.5 831.0,571.5 839.4,570.5 844.7,570.5 850.1,570.5 858.2,571.5 866.9,570.5 874.4,569.5 879.1,570.5 888.7,570.5 894.9,569.5 900.4,569.5 908.1,569.5 916.7,569.5 922.5,569.5 927.0,569.5 935.6,570.5 938.9,570.5 942.7,570.5 951.1,570.5 959.8,569.5 964.1,570.5 967.5,570.5 976.1,570.5 985.1,571.5 990,570.5 990.6,569.5 997.3,571.5 999,571.5 1006.9,571.5 1007,570.5" fill="none" stroke="#808000" stroke-width="1"/>
<polyline points="758,568.5 761.0,569.5 766.6,569.5 775.7,570.5 779.6,570.5 788.5,572.5 793,572.5 798.1,572.5 803.6,571.5 810.7,571.5 813,570.5 816.3,571.5 822.6,571.5 828.8,572.5 834.6,571.5 843.6,571.5 849.5,571.5 853.7,571.5 863.3,571.5 869.5,571.5 877.9,571.5 883.4,572.5 888.2,572.5 893.9,572.5 900.3,571.5 904.5,571.5 911.8,572.5 920.2,572.5 928.4,571.5 932.3,571.5 942.2,571.5 948.6,571.5 954.4,571.5 962.7,570.5 968.3,570.5 973.6,570.5 983.3,571.5 987.4,571.5 990,571.5 990.9,572.5 999,572.5 999.9,571.5 1007,572.5" fill="none" stroke="#87cefa" stroke-width="1"/>
<polyline points="758,569.5 761.9,570.5 768.3,570.5 773.3,571.5 779.7,571.5 788.6,572.5 793,573.5 798.3,572.5 802.9,572.5 811.4,572.5 813,572.5 820.8,572.5 828.4,572.5 835.5,571.5 843.5,572.5 849.6,572.5 856.7,571.5 863.6,572.5 872.3,572.5 876.7,572.5 885.9,572.5 894.1,571.5 902.8,572.5 906.9,572.5 911.1,572.5 918.4,572.5 923.4,572.5 931.8,572.5 936.7,572.5 945.4,572.5 953.9,571.5 963.9,572.5 972.8,572.5 979.2,572.5 982.6,572.5 989.3,573.5 990,573.5 997.6,573.5 999,574.5 1007,574.5" fill="none" stroke="#000080" stroke-width="1"/>
<polyline points="758,570.5 762.1,571.5 769.0,571.5 776.0,572.5 780.8,573.5 790.3,573.5 793,572.5 793.5,573.5 800.0,572.5 803.4,572.5 812.7,573.5 813,572.5 818.7,572.5 824.9,572.5 829.2,573.5 833.7,572.5 839.9,573.5 849.7,573.5 859.1,573.5 864.4,572.5 873.6,573.5 881.5,573.5 885.7,573.5 891.5,574.5 901.4,573.5 908.9,574.5 917.4,573.5 925.8,573.5 931.6,573.5 938.4,573.5 941.6,574.5 950.1,573.5 954.4,573.5 961.7,573.5 968.9,573.5 977.6,573.5 984.0,573.5 987.8,573.5 990,573.5 995.3,573.5 999,573.5 1000.4,573.5 1007,574.5" fill="none" stroke="#9400d3" stroke-width="1"/>
<polyline points="758,572.5 761.6,572.5 766.5,572.5 771.4,572.5 781.3,572.5 787.2,573.5 792.0,573.5 793,574.5 797.7,573.5 800.7,573.5 807.9,574.5 813,574.5 815.4,575.5 819.6,575.5 824.0,575.5 831.6,574.5 834.8,574.5 837.9,574.5 846.3,574.5 849.7,573.5 858.7,573.5 863.9,572.5 870.7,574.5 877.2,574.5 886.8,574.5 893.9,574.5 897.9,574.5 906.3,573.5 910.8,574.5 920.6,574.5 925.7,574.5 931.1,573.5 937.3,573.5 944.8,573.5 950.1,573.5 954.4,574.5 959.5,573.5 968.2,572.5 973.8,573.5 982.5,572.5 986.9,573.5 990,574.5 991.2,574.5 999,574.5 999.1,573.5 1003.4,574.5 1007,574.5" fill="none" stroke="#9acd32" stroke-width="1"/>
<polyline points="758,572.5 761.7,573.5 765.1,572.5 772.6,573.5 779.1,573.5 788.9,574.5 793,574.5 797.1,574.5 800.3,575.5 807.3,576.5 812.3,576.5 813,575.5 818.6,575.5 826.3,574.5 829.7,574.5 839.7,574.5 847.0,575.5 853.4,574.5 859.7,574.5 867.9,574.5 874.6,574.5 878.8,574.5 884.1,575.5 894.0,574.5 903.8,575.5 911.1,575.5 920.5,574.5 926.0,575.5 931.4,575.5 936.6,574.5 946.0,574.5 955.4,574.5 963.0,573.5 966.3,574.5 971.2,573.5 977.4,573.5 985.3,574.5 990,574.5 994.9,575.5 999,575.5 1003.6,575.5 1007,574.5" fill="none" stroke="#9acd32" stroke-width="1"/>
<polyline points="758,572.5 763.5,573.5 768.6,573.5 778.5,575.5 784.4,575.5 792.7,575.5 793,575.5 802.6,575.5 811.0,575.5 813,574.5 819.0,575.5 825.0,576.5 830.6,575.5 837.6,574.5 840.9,575.5 848.0,575.5 854.0,575.5 858.5,575.5 864.6,575.5 872.6,575.5 881.3,575.5 890.8,575.5 896.9,576.5 901.4,575.5 909.7,574.5 918.9,574.5 928.0,575.5 934.0,575.5 938.2,574.5 947.9,574.5 952.0,574.5 955.5,575.5 963.9,575.5 967.3,575.5 975.8,575.5 984.6,575.5 990,576.5 990.4,575.5 999,576.5 999.1,576.5 1006.6,576.5 1007,576.5" fill="none" stroke="#6b8e23" stroke-width="1"/>
<polyline points="758,574.5 761.6,575.5 764.9,575.5 774.1,575.5 784.0,576.5 791.2,576.5 793,576.5 799.2,576.5 807.1,577.5 811.7,576.5 813,575.5 817.4,575.5 826.5,575.5 830.5,576.5 833.8,575.5 841.0,576.5 847.1,576.5 852.6,577.5 859.2,577.5 865.2,576.5 873.1,577.5 881.2,577.5 886.3,577.5 895.1,577.5 899.1,577.5 906.6,576.5 913.0,576.5 922.7,576.5 926.0,576.5 931.6,576.5 939.7,575.5 948.7,575.5 955.8,575.5 960.3,576.5 968.1,575.5 978.0,575.5 985.4,575.5 988.7,574.5 990,575.5 993.2,575.5 999.0,575.5 999,576.5 1002.8,575.5 1007,576.5" fill="none" stroke="#da70d6" stroke-width="1"/>
<polyline points="758,576.5 761.2,575.5 770.8,575.5 775.7,576.5 783.8,576.5 790.3,577.5 793,577.5 796.2,576.5 799.2,576.5 805.2,576.5 813,576.5 813.7,575.5 818.0,575.5 821.8,575.5 825.5,577.5 831.6,577.5 835.5,576.5 845.0,577.5 851.1,576.5 859.7,576.5 864.3,576.5 870.9,576.5 880.8,576.5 884.1,576.5 891.3,576.5 894.7,577.5 901.2,577.5 906.5,576.5 916.3,576.5 925.2,576.5 933.9,577.5 940.4,577.5 944.8,576.5 951.9,576.5 960.8,577.5 970.4,577.5 977.7,578.5 986.1,577.5 989.2,576.5 990,576.5 995.8,577.5 999,577.5 1001.8,578.5 1007,578.5" fill="none" stroke="#b0205a" stroke-width="1"/>
<polyline points="758,576.5 765.2,576.5 774.4,577.5 781.8,577.5 789.8,577.5 793,578.5 798.9,579.5 808.0,579.5 813,578.5 815.2,579.5 818.5,579.5 824.0,578.5 832.0,578.5 837.4,578.5 843.5,577.5 850.5,577.5 858.2,578.5 862.5,578.5 868.1,578.5 875.3,577.5 879.2,577.5 884.4,578.5 887.9,577.5 895.2,577.5 901.7,578.5 906.5,578.5 912.1,577.5 917.6,578.5 925.2,578.5 931.3,578.5 936.4,578.5 943.8,578.5 949.8,578.5 953.7,578.5 961.5,578.5 967.4,578.5 972.3,578.5 979.7,579.5 988.5,579.5 990,578.5 992.6,578.5 997.1,579.5 999,578.5 1004.6,578.5 1007,578.5" fill="none" stroke="#000000" stroke-width="1"/>
<polyline points="758,578.5 766.6,578.5 771.6,579.5 781.1,579.5 790.5,579.5 793,579.5 796.5,579.5 805.9,579.5 813,579.5 814.8,579.5 821.7,579.5 825.4,578.5 832.8,578.5 837.2,579.5 845.5,580.5 849.8,579.5 855.2,579.5 861.7,578.5 865.1,578.5 869.3,578.5 878.3,578.5 884.2,578.5 888.7,579.5 898.2,579.5 905.6,579.5 915.4,579.5 925.3,579.5 934.3,580.5 942.1,580.5 949.3,579.5 953.0,579.5 959.1,579.5 964.4,579.5 971.3,579.5 975.7,579.5 985.6,579.5 990,578.5 990.3,578.5 998.0,579.5 999,579.5 1002.4,579.5 1007,579.5" fill="none" stroke="#d2691e" stroke-width="1"/>
<polyline points="758,578.5 762.9,579.5 768.5,579.5 773.2,578.5 782.1,578.5 787.4,579.5 793,579.5 795.0,580.5 801.0,579.5 807.9,579.5 813,579.5 815.4,579.5 823.9,579.5 827.4,580.5 834.4,579.5 842.2,579.5 847.5,579.5 852.1,579.5 858.2,578.5 867.5,579.5 874.3,579.5 879.1,579.5 888.0,580.5 897.9,580.5 901.1,580.5 907.9,580.5 913.0,580.5 916.8,580.5 921.2,580.5 924.5,580.5 928.0,580.5 933.4,580.5 943.2,580.5 949.3,580.5 957.8,580.5 961.8,580.5 965.3,579.5 970.5,578.5 979.3,579.5 985.9,578.5 990,578.5 995.9,579.5 999,579.5 1000.9,580.5 1004.2,580.5 1007,579.5" fill="none" stroke="#7cfc00" stroke-width="1"/>
<polyline points="758,579.5 761.9,579.5 767.1,580.5 771.2,580.5 780.3,580.5 787.2,580.5 791.8,580.5 793,580.5 801.8,581.5 806.6,582.5 811.9,581.5 813,581.5 818.0,581.5 823.8,581.5 830.5,580.5 836.5,580.5 840.2,581.5 843.8,581.5 847.9,581.5 851.3,581.5 857.0,580.5 863.5,581.5 872.4,581.5 875.6,580.5 883.6,580.5 891.6,580.5 901.0,580.5 910.8,580.5 916.0,581.5 920.4,580.5 930.1,580.5 938.4,580.5 945.7,580.5 952.2,579.5 960.3,580.5 967.7,579.5 977.0,580.5 980.6,580.5 987.1,580.5 990,580.5 991.9,579.5 999,579.5 999.6,579.5 1003.0,579.5 1007,579.5" fill="none" stroke="#ff6347" stroke-width="1"/>
<polyline points="758,579.5 767.4,580.5 770.9,579.5 775.0,579.5 778.8,580.5 786.3,580.5 791.8,581.5 793,581.5 796.7,581.5 805.8,581.5 813,582.5 813.3,582.5 817.6,582.5 821.7,581.5 830.3,582.5 839.8,581.5 849.0,582.5 855.9,581.5 862.7,581.5 866.4,582.5 872.3,581.5 876.7,581.5 882.5,581.5 889.8,581.5 895.3,582.5 904.8,581.5 913.7,580.5 917.4,581.5 924.7,580.5 928.3,580.5 934.4,581.5 944.3,581.5 952.2,580.5 958.1,580.5 963.0,580.5 969.2,581.5 974.4,581.5 984.1,582.5 990,580.5 993.3,581.5 999,581.5 1001.2,582.5 1006.6,581.5 1007,582.5" fill="none" stroke="#ff6347" stroke-width="1"/>
<polyline points="758,581.5 767.1,581.5 775.3,580.5 785.2,581.5 791.4,581.5 793,581.5 799.7,582.5 804.2,583.5 807.8,582.5 811.2,582.5 813,582.5 815.0,583.5 819.1,583.5 825.9,582.5 833.9,582.5 837.4,581.5 841.7,582.5 849.5,583.5 858.6,582.5 865.8,582.5 873.2,582.5 881.1,582.5 888.1,581.5 897.0,581.5 900.1,582.5 906.8,582.5 913.8,582.5 923.2,582.5 932.8,581.5 938.2,582.5 941.5,582.5 947.3,582.5 955.5,581.5 964.9,582.5 968.6,582.5 976.8,582.5 981.8,582.5 987.5,582.5 990,581.5 992.3,581.5 999,582.5 1000.2,582.5 1006.5,582.5 1007,582.5" fill="none" stroke="#cd6839" stroke-width="1"/>
<polyline points="758,582.5 761.0,582.5 769.0,582.5 776.4,582.5 779.8,582.5 789.2,582.5 793,582.5 797.9,583.5 802.3,583.5 810.8,583.5 813,583.5 818.8,583.5 823.0,583.5 833.0,583.5 839.1,583.5 847.6,584.5 852.3,584.5 859.6,583.5 868.4,583.5 877.9,584.5 887.6,583.5 895.0,583.5 903.2,583.5 910.3,583.5 915.5,583.5 923.2,582.5 930.1,582.5 933.6,582.5 941.0,582.5 946.3,582.5 953.3,582.5 961.4,582.5 968.6,582.5 976.3,581.5 984.1,581.5 987.2,581.5 990,581.5 991.5,581.5 999,581.5 1001.5,582.5 1006.5,583.5 1007,582.5" fill="none" stroke="#a0522d" stroke-width="1"/>
<polyline points="758,582.5 761.1,582.5 770.2,583.5 778.8,583.5 781.8,583.5 789.9,583.5 793,583.5 794.3,582.5 803.6,583.5 810.7,584.5 813,584.5 816.8,584.5 822.3,584.5 831.4,585.5 837.2,585.5 842.3,585.5 850.8,584.5 856.1,584.5 863.7,584.5 870.1,585.5 879.6,584.5 885.5,584.5 893.9,584.5 901.4,583.5 905.0,584.5 911.2,583.5 917.9,584.5 922.3,584.5 931.0,583.5 935.6,584.5 938.9,583.5 948.7,584.5 957.9,584.5 963.6,584.5 971.8,584.5 976.9,583.5 980.2,584.5 984.8,584.5 990,584.5 990.1,583.5 993.9,584.5 998.8,583.5 999,583.5 1003.3,583.5 1007,583.5" fill="none" stroke="#ff4500" stroke-width="1"/>
<polyline points="758,583.5 768.0,583.5 773.6,583.5 778.4,583.5 781.8,583.5 786.8,584.5 793,585.5 793.8,585.5 802.9,585.5 811.4,585.5 813,585.5 815.4,585.5 822.9,585.5 831.1,586.5 837.3,585.5 843.7,584.5 850.6,585.5 857.0,584.5 866.9,584.5 874.6,584.5 883.4,584.5 889.4,585.5 895.8,584.5 899.0,585.5 902.8,585.5 907.4,584.5 912.3,585.5 918.4,584.5 923.3,584.5 932.1,585.5 935.2,585.5 940.1,585.5 947.9,585.5 957.5,585.5 963.7,585.5 967.0,584.5 972.1,583.5 982.0,584.5 989.9,584.5 990,583.5 999,583.5 999.1,583.5 1007,584.5" fill="none" stroke="#8b6914" stroke-width="1"/>
<polyline points="758,584.5 763.8,584.5 768.1,584.5 773.4,584.5 777.6,584.5 787.6,585.5 793,585.5 797.3,585.5 800.3,586.5 809.9,586.5 813,586.5 819.2,585.5 825.4,585.5 831.5,585.5 840.3,585.5 846.8,585.5 854.8,585.5 862.8,586.5 871.3,586.5 879.4,586.5 886.7,586.5 890.0,586.5 900.0,586.5 908.3,586.5 915.7,586.5 922.0,586.5 931.9,586.5 935.0,586.5 941.2,586.5 949.6,586.5 958.5,586.5 967.9,586.5 975.9,585.5 982.1,585.5 985.3,585.5 990,584.5 990.8,584.5 997.7,584.5 999,585.5 1002.9,584.5 1007,585.5" fill="none" stroke="#d2691e" stroke-width="1"/>
<polyline points="758,586.5 765.3,587.5 775.0,586.5 782.5,586.5 792.1,587.5 793,588.5 797.9,587.5 806.7,588.5 813,588.5 813.9,588.5 820.6,588.5 829.4,588.5 837.4,587.5 844.5,587.5 850.6,586.5 853.9,587.5 862.1,588.5 871.2,588.5 876.7,587.5 886.1,588.5 892.9,587.5 900.4,586.5 903.5,586.5 909.2,586.5 919.1,586.5 923.9,585.5 930.2,585.5 937.6,585.5 940.7,586.5 944.8,585.5 952.6,586.5 955.6,586.5 959.6,586.5 966.4,586.5 974.8,585.5 984.7,585.5 987.9,585.5 990,586.5 997.3,586.5 999,586.5 1003.0,586.5 1007,585.5" fill="none" stroke="#66cd00" stroke-width="1"/>
<polyline points="758,586.5 762.8,586.5 770.0,587.5 776.9,588.5 784.5,588.5 787.6,588.5 793.0,587.5 793,588.5 798.4,588.5 806.0,587.5 813,587.5 813.2,587.5 816.5,587.5 822.1,588.5 829.8,588.5 838.5,588.5 847.4,587.5 854.4,588.5 861.5,588.5 869.3,588.5 875.1,588.5 880.5,588.5 888.8,588.5 895.1,588.5 898.2,587.5 902.0,587.5 905.9,588.5 910.7,588.5 920.1,587.5 930.0,587.5 933.1,587.5 938.7,587.5 947.3,588.5 955.0,587.5 961.4,586.5 966.2,586.5 972.2,586.5 977.2,587.5 985.7,587.5 990,586.5 993.0,587.5 996.3,587.5 999,587.5 1003.2,587.5 1007,587.5" fill="none" stroke="#c71585" stroke-width="1"/>
<polyline points="758,550.5 761,550.5 764,550.5 767,550.5 770,550.5 773,550.5 776,550.5 779,551.5 782,551.5 785,551.5 786.7,551.5 788,551.5 791,553.5 794,553.5 795.6,554.5 797,554.5 800,554.5 803,554.5 806,554.5 809,554.5 812,554.5 815,554.5 818,554.5 821,554.5 824,554.5 827,554.5 830,554.5 833,554.5 836,554.5 839,554.5 842,554.5 845,554.5 848,554.5 851,554.5 854,554.5 857,554.5 860,554.5 862.9,554.5 863,554.5 866,553.5 869,552.5 872,552.5 873.1,552.5 875,552.5 878,552.5 881,552.5 884,552.5 887,552.5 890,552.5 893,552.5 896,552.5 899,552.5 902,552.5 905,552.5 908,552.5 911,552.5 914,552.5 917,552.5 920,552.5 923,552.5 926,552.5 929,552.5 932,552.5 935,552.5 938,552.5 941,552.5 944,552.5 947,552.5 950,552.5 953,552.5 956,552.5 959,552.5 962,552.5 965,551.5 968,552.5 971,552.5 974,552.5 977,552.5 980,552.5 983,552.5 986,552.5 989,552.5 990,552.5 992,553.5 995,553.5 998,554.5 1001,554.5 1004,553.5 1007,553.5" fill="none" stroke="#5ab4f0" stroke-width="1"/>
<polyline points="758,553.5 761,553.5 764,553.5 767,553.5 770,553.5 773,553.5 776,553.5 777,554.5 779,554.5 782,554.5 785,555.5 788,555.5 791,555.5 793,555.5 794,555.5 795.6,556.5 797,556.5 800,556.5 803,556.5 806,556.5 809,556.5 812,556.5 815,557.5 818,557.5 821,557.5 824,557.5 827,556.5 830,556.5 833,556.5 835,555.5 836,555.5 839,555.5 842,555.5 845,555.5 846,555.5 848,556.5 851,557.5 854,556.5 857,556.5 860,556.5 863,557.5 866,556.5 869,557.5 872,557.5 874.3,555.5 875,555.5 878,554.5 881,554.5 884,554.5 887,554.5 890,554.5 893,554.5 896,554.5 899,554.5 902,554.5 905,554.5 908,554.5 911,554.5 914,554.5 917,554.5 920,554.5 923,554.5 926,554.5 929,554.5 932,554.5 935,554.5 938,554.5 940,554.5 941,554.5 944,554.5 947,554.5 950,554.5 953,554.5 956,554.5 959,555.5 962,555.5 965,555.5 968,555.5 971,555.5 974,555.5 977,555.5 980,555.5 983,555.5 986,556.5 989,556.5 992,556.5 995,556.5 998,556.5 999,556.5 1001,556.5 1004,556.5 1007,557.5" fill="none" stroke="#000000" stroke-width="1"/>
<polyline points="758,560.5 761,560.5 764,560.5 767,560.5 770,560.5 773,560.5 776,560.5 779,560.5 782,560.5 785,560.5 786,560.5 788,561.5 791,563.5 794,564.5 795.6,565.5 797,565.5 800,565.5 803,565.5 806,565.5 809,565.5 812,565.5 815,565.5 818,565.5 821,565.5 824,565.5 827,565.5 830,565.5 833,565.5 836,565.5 839,565.5 842,564.5 845,565.5 848,565.5 851,565.5 854,565.5 857,565.5 860,565.5 862.9,565.5 863,565.5 866,564.5 869,563.5 872,562.5 875,561.5 878,560.5 881,560.5 884,559.5 885,559.5 887,559.5 890,559.5 893,559.5 896,559.5 899,558.5 902,558.5 905,558.5 908,558.5 911,558.5 914,558.5 917,558.5 920,558.5 923,558.5 926,558.5 929,558.5 932,558.5 935,558.5 938,558.5 941,558.5 944,557.5 947,557.5 950,557.5 953,557.5 956,557.5 959,557.5 962,557.5 965,557.5 968,557.5 971,557.5 974,557.5 977,557.5 980,557.5 983,557.5 985,557.5 986,557.5 989,558.5 992,559.5 995,560.5 998,561.5 999.3,561.5 1001,562.5 1002,563.5" fill="none" stroke="#b8a0e0" stroke-width="1"/>
<polyline points="17,579.5 25.6,579.5 35.6,579.5 44.7,579.5 45,580.5" fill="none" stroke="#87cefa" stroke-width="1"/>
<polyline points="17,580.5 21.6,581.5 30.4,580.5 38.1,580.5 45,580.5" fill="none" stroke="#5ab4f0" stroke-width="1"/>
<polyline points="17,581.5 26.8,581.5 35.9,581.5 42.4,581.5 45,581.5" fill="none" stroke="#5ab4f0" stroke-width="1"/>
<polyline points="17,582.5 24.5,583.5 28.8,583.5 35.0,582.5 43.1,582.5 45,582.5" fill="none" stroke="#cd6839" stroke-width="1"/>
<polyline points="17,583.5 21.9,583.5 31.9,583.5 39.2,583.5 45,583.5" fill="none" stroke="#ff6347" stroke-width="1"/>
<polyline points="17,584.5 26.3,584.5 32.3,584.5 37.5,584.5 42.7,584.5 45,584.5" fill="none" stroke="#b0205a" stroke-width="1"/>
<polyline points="17,585.5 26.7,585.5 30.5,586.5 36.4,586.5 39.5,586.5 43.9,585.5 45,585.5" fill="none" stroke="#6b8e23" stroke-width="1"/>
<polyline points="17,586.5 20.2,586.5 30.0,586.5 39.3,586.5 45,586.5" fill="none" stroke="#ff4500" stroke-width="1"/>
<polyline points="17,588.5 25.8,588.5 32.8,588.5 38.4,587.5 44.6,588.5 45,588.5" fill="none" stroke="#ff4500" stroke-width="1"/>
<polyline points="17,588.5 21.7,588.5 30.1,589.5 39.9,589.5 45,589.5" fill="none" stroke="#8b4513" stroke-width="1"/>
<polyline points="17,577.5 45,577.5" fill="none" stroke="#000000" stroke-width="1"/>
<polyline points="17,578.5 45,578.5" fill="none" stroke="#000000" stroke-width="1"/>
<polyline points="678,558.5 681.4,559.5 682,558.5" fill="none" stroke="#5ab4f0" stroke-width="1"/>
<polyline points="678,560.5 682.0,560.5 682,560.5" fill="none" stroke="#b8a0e0" stroke-width="1"/>
<polyline points="678,562.5 682,562.5" fill="none" stroke="#5ab4f0" stroke-width="1"/>
<polyline points="678,565.5 682,565.5" fill="none" stroke="#5ab4f0" stroke-width="1"/>
<polyline points="678,567.5 682,567.5" fill="none" stroke="#c71585" stroke-width="1"/>
<polyline points="678,569.5 682,569.5" fill="none" stroke="#9acd32" stroke-width="1"/>
<polyline points="678,570.5 681.5,570.5 682,570.5" fill="none" stroke="#ff6347" stroke-width="1"/>
<polyline points="678,573.5 682,573.5" fill="none" stroke="#ff6347" stroke-width="1"/>
<polyline points="678,574.5 682,575.5" fill="none" stroke="#9acd32" stroke-width="1"/>
<polyline points="678,576.5 682,576.5" fill="none" stroke="#b4b400" stroke-width="1"/>
<polyline points="678,580.5 682,580.5" fill="none" stroke="#a0522d" stroke-width="1"/>
<polyline points="678,582.5 682,582.5" fill="none" stroke="#000000" stroke-width="1"/>
<polyline points="678,583.5 682,584.5" fill="none" stroke="#d2691e" stroke-width="1"/>
<polyline points="678,585.5 682,585.5" fill="none" stroke="#8b4513" stroke-width="1"/>
<polyline points="678,548.5 682,548.5" fill="none" stroke="#5ab4f0" stroke-width="1"/>
<polyline points="678,551.5 682,551.5" fill="none" stroke="#000000" stroke-width="1"/>
<polyline points="678,555.5 682,555.5" fill="none" stroke="#000000" stroke-width="1"/>
<line x1="20" y1="478.5" x2="47" y2="478.5" stroke="#000000" stroke-width="1"/>
<line x1="109" y1="478.5" x2="624" y2="478.5" stroke="#000000" stroke-width="1"/>
<line x1="679" y1="478.5" x2="684" y2="478.5" stroke="#000000" stroke-width="1"/>
<line x1="759" y1="478.5" x2="1005" y2="478.5" stroke="#000000" stroke-width="1"/>
<line x1="20" y1="484.5" x2="47" y2="484.5" stroke="#000000" stroke-width="1"/>
<line x1="109" y1="484.5" x2="624" y2="484.5" stroke="#000000" stroke-width="1"/>
<line x1="679" y1="484.5" x2="684" y2="484.5" stroke="#000000" stroke-width="1"/>
<line x1="759" y1="484.5" x2="1005" y2="484.5" stroke="#000000" stroke-width="1"/>
<line x1="17" y1="555.5" x2="46" y2="555.5" stroke="#000000" stroke-width="1"/>
<line x1="108" y1="555.5" x2="624" y2="555.5" stroke="#000000" stroke-width="1"/>
<line x1="758" y1="555.5" x2="1008" y2="555.5" stroke="#000000" stroke-width="1"/>
<line x1="17" y1="562.5" x2="46" y2="562.5" stroke="#000000" stroke-width="1"/>
<line x1="108" y1="562.5" x2="624" y2="562.5" stroke="#000000" stroke-width="1"/>
<line x1="758" y1="562.5" x2="1008" y2="562.5" stroke="#000000" stroke-width="1"/>
<line x1="20" y1="630.5" x2="46" y2="630.5" stroke="#986464" stroke-width="1"/>
<line x1="20" y1="637.5" x2="46" y2="637.5" stroke="#986464" stroke-width="1"/>
<line x1="109" y1="630.5" x2="623" y2="630.5" stroke="#986464" stroke-width="1"/>
<line x1="109" y1="637.5" x2="623" y2="637.5" stroke="#986464" stroke-width="1"/>
<line x1="679" y1="630.5" x2="683" y2="630.5" stroke="#986464" stroke-width="1"/>
<line x1="679" y1="637.5" x2="683" y2="637.5" stroke="#986464" stroke-width="1"/>
<line x1="759" y1="630.5" x2="1004" y2="630.5" stroke="#986464" stroke-width="1"/>
<line x1="759" y1="637.5" x2="1004" y2="637.5" stroke="#986464" stroke-width="1"/>
<line x1="20" y1="708.5" x2="45" y2="708.5" stroke="#986464" stroke-width="1"/>
<line x1="20" y1="715.5" x2="45" y2="715.5" stroke="#986464" stroke-width="1"/>
<line x1="109" y1="708.5" x2="623" y2="708.5" stroke="#986464" stroke-width="1"/>
<line x1="109" y1="715.5" x2="623" y2="715.5" stroke="#986464" stroke-width="1"/>
<line x1="679" y1="708.5" x2="683" y2="708.5" stroke="#986464" stroke-width="1"/>
<line x1="679" y1="715.5" x2="683" y2="715.5" stroke="#986464" stroke-width="1"/>
<line x1="759" y1="708.5" x2="1004" y2="708.5" stroke="#986464" stroke-width="1"/>
<line x1="759" y1="715.5" x2="1004" y2="715.5" stroke="#986464" stroke-width="1"/>
<polyline points="109,626.5 111,626.5 113,627.5 115,628.5 117,628.5 119,628.5 121,639.5 123,641.5 125,641.5 127,641.5 129,641.5 131,641.5 133,640.5 135,641.5 137,640.5 139,640.5 140,640.5 141,637.5 142.5,634.5 143,634.5 145,634.5 147,634.5 149,635.5 151,634.5 153,635.5 155,635.5 157,635.5 159,635.5 161,635.5 163,635.5 165,635.5 167,635.5 168,635.5 169,635.5 171,636.5 173,636.5 175,637.5 177,637.5 179,637.5 181,636.5 183,636.5 185,635.5 187,635.5 189,635.5 191,635.5 193,634.5 195,634.5 197,634.5 199,633.5 201,632.5 203,632.5 205,632.5 207,632.5 209,634.5 211,634.5 213,636.5 214,636.5 215,637.5 217,638.5 218.5,639.5 219,642.5 221,649.5 223,657.5 225,657.5 227,656.5 229,657.5 231,657.5 231.5,658.5 233,656.5 235,654.5 237,652.5 239,651.5 241,651.5 242,650.5 243,650.5 245,651.5 247,652.5 249,652.5 251,652.5 253,652.5 254,653.5 255,653.5 257,654.5 259,654.5 261,654.5 263,655.5 265,655.5 267,655.5 269,654.5 271,654.5 273,653.5 275,652.5 277,651.5 279,651.5 281,651.5 283,652.5 285,652.5 287,652.5 289,651.5 291,651.5 293,650.5 295,651.5 297,651.5 299,651.5 301,652.5 303,652.5 305,651.5 307,651.5 309,650.5 311,650.5 311.6,651.5 313,650.5 315,651.5 317,651.5 319,651.5 321,652.5 323,652.5 325,651.5 325.7,652.5 327,651.5 329,650.5 331,649.5 332.7,648.5 333,648.5 335,649.5 337,648.5 339,648.5 341,648.5 343,647.5 345,647.5 347,648.5 349,649.5 351,651.5 352,652.5 353,652.5 355,653.5 357,653.5 359,654.5 361,654.5 363,655.5 365,655.5 367,655.5 369,655.5 371,656.5 373,656.5 375,656.5 377,656.5 379,657.5 381,657.5 383,657.5 385,657.5 385.5,657.5 387,657.5 389,657.5 391,656.5 393,656.5 395,656.5 397,656.5 399,655.5 401,655.5 403,655.5 405,655.5 407,656.5 409,655.5 411,655.5 413,655.5 415,655.5 417,655.5 419,655.5 420.6,655.5 421,654.5 423,654.5 425,654.5 427,654.5 429,653.5 431,653.5 433,652.5 435,652.5 437,652.5 439,652.5 440,653.5 441,653.5 443,655.5 445,656.5 447,657.5 449,657.5 451,656.5 453,655.5 455,655.5 455.8,655.5 457,655.5 459,655.5 461,656.5 463,656.5 465,657.5 467,656.5 469,657.5 471,657.5 473,656.5 475,655.5 477,654.5 479,654.5 480,653.5 481,653.5 483,653.5 485,653.5 487,653.5 489,653.5 490,653.5 491,653.5 493,654.5 495,654.5 497,655.5 499,655.5 501,655.5 503,655.5 505,654.5 507,654.5 509,654.5 511,654.5 513,653.5 515,653.5 517,653.5 519,652.5 520,652.5 521,652.5 523,653.5 525,653.5 527,653.5 529,653.5 531,654.5 533,655.5 535,657.5 537,658.5 539,659.5 539.6,659.5 541,659.5 543,659.5 545,659.5 547,658.5 549,658.5 551,658.5 553,658.5 555,657.5 555.5,657.5 557,657.5 559,656.5 561,656.5 563,656.5 565,656.5 567,655.5 569,655.5 569.5,655.5 571,654.5 573,652.5 574,652.5 575,652.5 577,653.5 578,654.5 579,654.5 581,655.5 583,656.5 585,656.5 587,656.5 589,657.5 591,656.5 593,655.5 595,655.5 597,655.5 599,654.5 601,654.5 603,654.5 605,653.5 607,652.5 609,651.5 611,652.5 613,653.5 615,654.5 617,654.5 619,653.5 621,653.5 623,653.5" fill="none" stroke="#008c00" stroke-width="1"/>
<polyline points="109,627.5 111,627.5 113,627.5 115,627.5 117,627.5 119,628.5 121,639.5 123,641.5 125,642.5 127,643.5 129,643.5 131,643.5 133,643.5 135,643.5 137,643.5 139,643.5 140,643.5 141,640.5 142.5,636.5 143,636.5 145,636.5 147,636.5 149,636.5 151,636.5 153,635.5 155,635.5 157,635.5 159,635.5 161,635.5 163,635.5 165,635.5 167,636.5 168,636.5 169,636.5 171,637.5 173,637.5 175,637.5 177,637.5 179,636.5 181,636.5 183,636.5 185,635.5 187,634.5 189,633.5 191,633.5 193,633.5 195,632.5 197,632.5 199,632.5 201,632.5 203,632.5 205,631.5 207,631.5 209,632.5 211,633.5 213,634.5 214,635.5 215,636.5 217,637.5 218.5,638.5 219,640.5 221,648.5 223,656.5 225,657.5 227,658.5 229,658.5 231,658.5 231.5,657.5 233,656.5 235,654.5 237,651.5 239,651.5 241,650.5 242,650.5 243,650.5 245,650.5 247,650.5 249,651.5 251,652.5 253,652.5 254,652.5 255,652.5 257,652.5 259,652.5 261,652.5 263,654.5 265,654.5 267,655.5 269,654.5 271,654.5 273,653.5 275,652.5 277,651.5 279,652.5 281,652.5 283,652.5 285,652.5 287,652.5 289,652.5 291,651.5 293,650.5 295,651.5 297,652.5 299,652.5 301,653.5 303,653.5 305,652.5 307,652.5 309,651.5 311,651.5 311.6,650.5 313,650.5 315,650.5 317,651.5 319,650.5 321,651.5 323,651.5 325,651.5 325.7,651.5 327,650.5 329,649.5 331,648.5 332.7,648.5 333,647.5 335,648.5 337,648.5 339,647.5 341,648.5 343,648.5 345,648.5 347,649.5 349,651.5 351,652.5 352,653.5 353,653.5 355,653.5 357,654.5 359,654.5 361,655.5 363,655.5 365,656.5 367,656.5 369,656.5 371,656.5 373,656.5 375,656.5 377,657.5 379,657.5 381,657.5 383,657.5 385,657.5 385.5,657.5 387,656.5 389,657.5 391,657.5 393,657.5 395,657.5 397,657.5 399,657.5 401,657.5 403,657.5 405,657.5 407,656.5 409,656.5 411,656.5 413,656.5 415,656.5 417,655.5 419,655.5 420.6,655.5 421,655.5 423,654.5 425,654.5 427,653.5 429,653.5 431,653.5 433,653.5 435,652.5 437,653.5 439,653.5 440,653.5 441,654.5 443,655.5 445,656.5 447,657.5 449,656.5 451,656.5 453,655.5 455,654.5 455.8,655.5 457,655.5 459,655.5 461,654.5 463,654.5 465,654.5 467,655.5 469,656.5 471,656.5 473,655.5 475,654.5 477,654.5 479,654.5 480,653.5 481,653.5 483,654.5 485,654.5 487,654.5 489,654.5 490,654.5 491,655.5 493,655.5 495,655.5 497,655.5 499,656.5 501,655.5 503,655.5 505,654.5 507,654.5 509,653.5 511,652.5 513,652.5 515,651.5 517,651.5 519,651.5 520,651.5 521,651.5 523,652.5 525,652.5 527,652.5 529,652.5 531,654.5 533,655.5 535,656.5 537,657.5 539,658.5 539.6,659.5 541,658.5 543,658.5 545,657.5 547,657.5 549,657.5 551,657.5 553,657.5 555,657.5 555.5,657.5 557,657.5 559,657.5 561,657.5 563,656.5 565,656.5 567,656.5 569,655.5 569.5,655.5 571,654.5 573,652.5 574,652.5 575,652.5 577,654.5 578,654.5 579,654.5 581,655.5 583,656.5 585,657.5 587,657.5 589,658.5 591,656.5 593,655.5 595,655.5 597,655.5 599,654.5 601,654.5 603,654.5 605,653.5 607,653.5 609,651.5 611,652.5 613,653.5 615,654.5 617,654.5 619,654.5 621,655.5 623,655.5" fill="none" stroke="#008c00" stroke-width="1"/>
<polyline points="109,630.5 111,630.5 113,631.5 115,631.5 117,631.5 119,632.5 121,642.5 121.7,646.5 123,647.5 124.3,648.5 125,648.5 127,648.5 129,648.5 131,648.5 133,648.5 135,648.5 137,648.5 139,648.5 139.3,648.5 141,641.5 142.3,636.5 143,636.5 145,636.5 147,636.5 149,636.5 151,637.5 153,637.5 155,637.5 157,637.5 159,637.5 161,637.5 163,638.5 165,639.5 167,639.5 169,639.5 171,639.5 171.8,639.5 173,639.5 175,638.5 177,638.5 179,638.5 181,637.5 183,637.5 185,637.5 187,636.5 189,636.5 191,636.5 192.9,635.5 193,636.5 195,635.5 197,636.5 199,635.5 201,635.5 203,636.5 205,636.5 207,636.5 209,637.5 211,637.5 213,637.5 214,636.5 215,637.5 217,638.5 218.4,639.5 219,642.5 221,652.5 222.8,660.5 223,660.5 225,661.5 227,661.5 229,661.5 231,662.5 233,662.5 235,663.5 237,663.5 239,662.5 240.3,661.5 241,661.5 243,662.5 245,662.5 247,663.5 249,663.5 251,663.5 253,663.5 254.4,663.5 255,663.5 257,663.5 259,664.5 261,665.5 263,666.5 263.2,666.5 265,666.5 267,666.5 269,666.5 271,666.5 273,665.5 275,665.5 277,666.5 279,666.5 281,665.5 283,665.5 285,665.5 287,664.5 289,663.5 291,662.5 293,661.5 294,661.5 295,660.5 297,660.5 299,660.5 301,661.5 303,661.5 305,661.5 307,661.5 309,660.5 310,660.5 311,661.5 313,662.5 315,663.5 317,664.5 319,663.5 321,663.5 323,663.5 325,663.5 327,663.5 329,662.5 331,662.5 332.7,661.5 333,662.5 335,662.5 337,661.5 339,661.5 341,661.5 343,660.5 345,660.5 347,661.5 349,663.5 350.3,663.5 351,663.5 353,664.5 355,664.5 357,665.5 359,665.5 361,666.5 362.6,666.5 363,665.5 365,665.5 367,664.5 369,663.5 371,663.5 373,662.5 375,662.5 376.7,661.5 377,662.5 379,663.5 381,665.5 383,666.5 385,668.5 387,669.5 387.2,669.5 389,669.5 391,669.5 393,669.5 395,669.5 397,669.5 399,669.5 401,669.5 403,669.5 405,669.5 406.6,669.5 407,668.5 409,668.5 411,667.5 413,666.5 415,665.5 417,665.5 419,664.5 421,663.5 423,662.5 424.1,661.5 425,661.5 427,662.5 429,662.5 431,662.5 433,662.5 435,663.5 437,663.5 438.2,664.5 439,664.5 441,666.5 443,667.5 445,669.5 445.2,669.5 447,669.5 449,668.5 451,667.5 453,666.5 455,666.5 455.8,666.5 457,666.5 459,668.5 460.5,670.5 461,670.5 463,670.5 465,669.5 467,669.5 469,669.5 471,668.5 472.9,668.5 473,667.5 475,667.5 477,666.5 479,665.5 481,663.5 483,662.5 485,661.5 485.2,661.5 487,661.5 489,661.5 491,661.5 493,661.5 495,661.5 495.7,661.5 497,662.5 499,665.5 499.2,665.5 501,665.5 503,665.5 505,665.5 507,664.5 509,664.5 511,664.5 511.5,664.5 513,664.5 515,663.5 517,663.5 519,663.5 521,663.5 522.1,663.5 523,664.5 525,664.5 527,663.5 529,664.5 531,664.5 533,664.5 535,665.5 537,665.5 537.9,665.5 539,666.5 541,665.5 543,665.5 545,666.5 547,666.5 548.4,666.5 549,665.5 551,662.5 552,661.5 553,661.5 555,661.5 557,661.5 559,662.5 561,662.5 563,661.5 565,661.5 567,662.5 569,661.5 571,661.5 571.3,661.5 573,662.5 575,662.5 577,663.5 579,664.5 581,665.5 583,665.5 585,666.5 587,667.5 587.1,667.5 589,666.5 591,666.5 593,665.5 595,664.5 597,663.5 599,662.5 601,661.5 602.9,660.5 603,660.5 605,660.5 607,660.5 609,660.5 611,660.5 613,660.5 615,661.5 617,661.5 619,661.5 621,660.5 623,661.5" fill="none" stroke="#000000" stroke-width="1"/>
<polyline points="109,630.5 111,631.5 113,631.5 115,631.5 117,632.5 119,632.5 121,643.5 121.7,647.5 123,648.5 124.3,649.5 125,649.5 127,649.5 129,649.5 131,649.5 133,649.5 135,648.5 137,648.5 139,647.5 139.3,647.5 141,641.5 142.3,636.5 143,636.5 145,636.5 147,636.5 149,636.5 151,637.5 153,638.5 155,638.5 157,638.5 159,639.5 161,639.5 163,639.5 165,639.5 167,639.5 169,639.5 171,639.5 171.8,639.5 173,639.5 175,639.5 177,639.5 179,639.5 181,638.5 183,637.5 185,637.5 187,636.5 189,636.5 191,636.5 192.9,635.5 193,635.5 195,635.5 197,635.5 199,635.5 201,635.5 203,635.5 205,635.5 207,636.5 209,637.5 211,637.5 213,637.5 214,637.5 215,638.5 217,639.5 218.4,640.5 219,643.5 221,653.5 222.8,662.5 223,662.5 225,662.5 227,663.5 229,663.5 231,663.5 233,664.5 235,664.5 237,663.5 239,663.5 240.3,662.5 241,662.5 243,662.5 245,662.5 247,662.5 249,663.5 251,663.5 253,663.5 254.4,663.5 255,663.5 257,665.5 259,665.5 261,665.5 263,666.5 263.2,667.5 265,666.5 267,666.5 269,666.5 271,666.5 273,665.5 275,665.5 277,665.5 279,665.5 281,665.5 283,665.5 285,665.5 287,663.5 289,662.5 291,661.5 293,660.5 294,660.5 295,660.5 297,660.5 299,661.5 301,661.5 303,662.5 305,662.5 307,662.5 309,661.5 310,661.5 311,662.5 313,663.5 315,663.5 317,665.5 319,665.5 321,665.5 323,665.5 325,664.5 327,664.5 329,664.5 331,664.5 332.7,664.5 333,664.5 335,663.5 337,663.5 339,662.5 341,662.5 343,662.5 345,661.5 347,662.5 349,663.5 350.3,664.5 351,665.5 353,664.5 355,665.5 357,665.5 359,666.5 361,667.5 362.6,667.5 363,667.5 365,666.5 367,666.5 369,665.5 371,664.5 373,663.5 375,662.5 376.7,661.5 377,661.5 379,663.5 381,664.5 383,666.5 385,668.5 387,669.5 387.2,670.5 389,670.5 391,670.5 393,670.5 395,670.5 397,670.5 399,670.5 401,670.5 403,671.5 405,671.5 406.6,670.5 407,670.5 409,669.5 411,667.5 413,666.5 415,664.5 417,663.5 419,663.5 421,662.5 423,661.5 424.1,660.5 425,660.5 427,660.5 429,660.5 431,661.5 433,661.5 435,662.5 437,662.5 438.2,662.5 439,663.5 441,665.5 443,667.5 445,669.5 445.2,669.5 447,669.5 449,669.5 451,669.5 453,669.5 455,668.5 455.8,667.5 457,668.5 459,669.5 460.5,671.5 461,671.5 463,671.5 465,670.5 467,670.5 469,670.5 471,670.5 472.9,670.5 473,669.5 475,668.5 477,667.5 479,666.5 481,665.5 483,663.5 485,662.5 485.2,661.5 487,661.5 489,661.5 491,661.5 493,661.5 495,661.5 495.7,660.5 497,662.5 499,664.5 499.2,664.5 501,664.5 503,664.5 505,664.5 507,663.5 509,664.5 511,664.5 511.5,664.5 513,663.5 515,663.5 517,663.5 519,663.5 521,663.5 522.1,663.5 523,663.5 525,663.5 527,663.5 529,664.5 531,664.5 533,665.5 535,666.5 537,667.5 537.9,667.5 539,667.5 541,666.5 543,666.5 545,665.5 547,666.5 548.4,666.5 549,665.5 551,662.5 552,661.5 553,660.5 555,661.5 557,660.5 559,660.5 561,660.5 563,661.5 565,661.5 567,661.5 569,661.5 571,662.5 571.3,661.5 573,662.5 575,663.5 577,664.5 579,665.5 581,665.5 583,666.5 585,667.5 587,668.5 587.1,668.5 589,668.5 591,667.5 593,666.5 595,665.5 597,664.5 599,663.5 601,662.5 602.9,661.5 603,661.5 605,661.5 607,660.5 609,660.5 611,660.5 613,660.5 615,660.5 617,660.5 619,661.5 621,661.5 623,661.5" fill="none" stroke="#000000" stroke-width="1"/>
<polyline points="109,735.5 111,735.5 113,735.5 115,735.5 117,735.5 119,735.5 121,735.5 123,735.5 125,735.5 126,735.5 127,735.5 129,736.5 131,736.5 133,736.5 135,736.5 137,736.5 139,737.5 141,737.5 143,737.5 145,737.5 147,737.5 149,737.5 151,737.5 153,737.5 155,737.5 156,738.5 157,738.5 159,739.5 161,739.5 163,740.5 165,739.5 167,740.5 169,740.5 171,741.5 173,741.5 175,742.5 175.3,742.5 177,742.5 179,742.5 181,742.5 183,742.5 185,742.5 187,742.5 189,742.5 191,742.5 193,741.5 195,741.5 197,741.5 199,741.5 201,741.5 203,741.5 205,741.5 207,741.5 209,741.5 210.5,741.5 211,740.5 213,741.5 215,740.5 217,740.5 219,740.5 221,739.5 223,739.5 225,739.5 227,739.5 229,739.5 230.7,739.5 231,738.5 233,734.5 235,730.5 237,726.5 238.6,723.5 239,723.5 241,722.5 243,722.5 245,722.5 245.6,722.5 247,722.5 249,722.5 251,722.5 253,722.5 255,723.5 257,723.5 259,723.5 261,723.5 263,723.5 263.2,724.5 265,723.5 267,724.5 269,723.5 271,723.5 273,724.5 275,723.5 277,723.5 277.3,724.5 279,723.5 281,722.5 283,721.5 285,720.5 287,719.5 288.8,719.5 289,719.5 291,721.5 293,723.5 295,725.5 297,726.5 297.6,726.5 299,726.5 301,724.5 303,724.5 305,723.5 307,722.5 308.1,721.5 309,721.5 311,722.5 313,722.5 315,722.5 317,723.5 319,723.5 321,724.5 323,724.5 325,724.5 325.7,724.5 327,723.5 329,720.5 329.2,720.5 331,720.5 333,721.5 335,721.5 337,722.5 338,721.5 339,721.5 341,722.5 343,723.5 345,724.5 347,725.5 349,726.5 351,727.5 353,727.5 353.8,727.5 355,727.5 357,727.5 359,726.5 361,726.5 363,727.5 365,727.5 367,726.5 369,726.5 371,727.5 373,727.5 375,727.5 377,727.5 379,727.5 381,726.5 383,726.5 385,726.5 387,726.5 389,727.5 391,726.5 393,726.5 395,727.5 397,727.5 399,726.5 401,727.5 403,727.5 405,726.5 407,726.5 409,725.5 411,725.5 413,725.5 415,724.5 417,723.5 419,724.5 420.6,723.5 421,723.5 423,723.5 425,723.5 427,723.5 429,722.5 431,722.5 433,722.5 434.7,722.5 435,722.5 437,722.5 439,722.5 441,721.5 443,722.5 445,722.5 447,722.5 449,723.5 450,722.5 451,722.5 453,723.5 455,723.5 457,723.5 459,724.5 461,724.5 463,724.5 465,724.5 467,725.5 467.6,725.5 469,725.5 471,724.5 473,724.5 475,724.5 477,723.5 479,723.5 481,723.5 481.6,722.5 483,722.5 485,723.5 487,723.5 489,724.5 491,724.5 492.2,725.5 493,725.5 495,725.5 497,725.5 499,724.5 501,724.5 503,725.5 505,725.5 506.2,725.5 507,724.5 509,723.5 511,722.5 513,722.5 515,720.5 517,720.5 519,719.5 520.3,718.5 521,717.5 523,718.5 525,718.5 527,719.5 529,720.5 530.9,720.5 531,720.5 533,721.5 535,721.5 537,722.5 539,723.5 539.6,724.5 541,724.5 543,724.5 545,724.5 547,723.5 549,723.5 551,724.5 553,724.5 555,724.5 555.5,723.5 557,723.5 559,723.5 561,723.5 563,722.5 565,722.5 567,721.5 569,721.5 571,720.5 571.3,721.5 573,721.5 575,722.5 577,724.5 579,724.5 581,724.5 581.8,725.5 583,725.5 585,725.5 587,725.5 589,725.5 591,725.5 593,725.5 595,724.5 597,724.5 599,724.5 601,723.5 603,723.5 605,723.5 607,723.5 608.2,723.5 609,723.5 611,723.5 613,724.5 615,724.5 617,724.5 618.7,724.5 619,724.5 621,721.5 623,717.5" fill="none" stroke="#008c00" stroke-width="1"/>
<polyline points="109,743.5 111,744.5 113,744.5 115,745.5 117,746.5 119,746.5 121,747.5 123,747.5 125,748.5 127,748.5 129,749.5 131,750.5 131.4,750.5 133,749.5 135,748.5 137,747.5 139,747.5 141,746.5 143,746.5 145,746.5 147,745.5 149,744.5 151,743.5 153,743.5 155,742.5 157,742.5 157.7,741.5 159,741.5 161,741.5 163,741.5 165,742.5 167,741.5 169,741.5 171,741.5 173,741.5 175,741.5 177,741.5 179,741.5 181,741.5 183,742.5 185,742.5 187,742.5 189,741.5 191,742.5 193,742.5 195,741.5 196.4,742.5 197,743.5 199,748.5 199.9,750.5 201,749.5 203,747.5 205,744.5 205.2,744.5 207,744.5 209,744.5 211,743.5 213,743.5 215,743.5 217,742.5 219,742.5 221,742.5 223,741.5 225,740.5 227,740.5 229,740.5 230.7,740.5 231,740.5 233,735.5 235,730.5 236.8,727.5 237,727.5 239,726.5 241,725.5 243,724.5 245,723.5 245.6,722.5 247,723.5 249,724.5 251,724.5 253,724.5 255,724.5 257,724.5 259,725.5 261,724.5 263,725.5 263.2,724.5 265,724.5 267,724.5 269,724.5 271,724.5 273,723.5 275,723.5 277,722.5 277.3,722.5 279,723.5 281,722.5 283,722.5 285,722.5 287,721.5 288.8,720.5 289,720.5 291,721.5 293,722.5 295,723.5 297,725.5 297.6,725.5 299,725.5 301,724.5 303,723.5 305,724.5 307,723.5 308.1,722.5 309,723.5 311,723.5 313,723.5 315,723.5 317,723.5 319,724.5 321,724.5 323,724.5 325,724.5 325.7,724.5 327,723.5 329,722.5 329.2,722.5 331,722.5 333,722.5 335,723.5 337,723.5 338,723.5 339,724.5 341,724.5 343,724.5 345,724.5 347,724.5 349,725.5 351,725.5 353,726.5 353.8,726.5 355,726.5 357,726.5 359,725.5 361,726.5 363,726.5 365,726.5 367,726.5 369,726.5 371,726.5 373,726.5 375,726.5 377,726.5 379,726.5 381,726.5 383,726.5 385,726.5 387,726.5 389,726.5 391,726.5 393,726.5 395,726.5 397,726.5 399,725.5 401,725.5 403,726.5 405,726.5 407,725.5 409,725.5 411,725.5 413,725.5 415,724.5 417,724.5 419,724.5 420.6,725.5 421,724.5 423,725.5 425,725.5 427,724.5 429,723.5 431,723.5 433,723.5 434.7,723.5 435,722.5 437,722.5 439,722.5 441,722.5 443,723.5 445,723.5 447,723.5 449,724.5 450,724.5 451,724.5 453,724.5 455,724.5 457,724.5 459,723.5 461,723.5 463,723.5 465,723.5 467,724.5 467.6,724.5 469,724.5 471,724.5 473,724.5 475,723.5 477,722.5 479,722.5 481,722.5 481.6,722.5 483,722.5 485,723.5 487,723.5 489,724.5 491,724.5 492.2,724.5 493,724.5 495,724.5 497,724.5 499,724.5 501,724.5 503,723.5 505,724.5 506.2,723.5 507,723.5 509,722.5 511,722.5 513,722.5 515,721.5 517,720.5 519,719.5 520.3,719.5 521,719.5 523,720.5 525,720.5 527,720.5 529,720.5 530.9,721.5 531,721.5 533,721.5 535,722.5 537,722.5 539,723.5 539.6,722.5 541,723.5 543,723.5 545,723.5 547,723.5 549,723.5 551,723.5 553,723.5 555,722.5 555.5,722.5 557,722.5 559,722.5 561,723.5 563,722.5 565,722.5 567,722.5 569,721.5 571,722.5 571.3,722.5 573,722.5 575,723.5 577,723.5 579,724.5 581,724.5 581.8,724.5 583,724.5 585,724.5 587,724.5 589,724.5 591,723.5 593,723.5 595,723.5 597,723.5 599,722.5 601,722.5 603,722.5 605,723.5 607,723.5 608.2,722.5 609,722.5 611,722.5 613,722.5 615,722.5 617,723.5 618.7,723.5 619,723.5 621,720.5 623,717.5" fill="none" stroke="#008c00" stroke-width="1"/>
<polyline points="109,737.5 111,738.5 113,737.5 115,738.5 117,738.5 119,738.5 121,738.5 123,738.5 125,738.5 127,739.5 128,738.5 129,738.5 131,738.5 133,738.5 135,738.5 137,738.5 139,738.5 141,739.5 143,738.5 145,739.5 147,739.5 149,738.5 151,738.5 153,738.5 154.2,738.5 155,738.5 157,738.5 159,739.5 161,740.5 163,740.5 165,741.5 167,743.5 169,744.5 171,745.5 173,746.5 173.6,746.5 175,746.5 177,746.5 179,746.5 181,746.5 183,746.5 185,746.5 187,745.5 187.6,746.5 189,745.5 191,745.5 193,744.5 195,744.5 197,744.5 199,744.5 201,744.5 203,744.5 205,744.5 207,743.5 209,744.5 210.5,743.5 211,743.5 213,743.5 215,742.5 217,741.5 219,740.5 221,740.5 223,739.5 225,738.5 227,738.5 229,737.5 230.7,737.5 231,736.5 233,731.5 235,726.5 237,721.5 238.6,717.5 239,717.5 241,717.5 243,717.5 245,717.5 247,718.5 249,718.5 251,718.5 253,718.5 255,719.5 257,719.5 257.9,719.5 259,719.5 261,719.5 263,719.5 265,719.5 267,719.5 269,720.5 270.2,719.5 271,720.5 273,720.5 275,721.5 277,722.5 279,722.5 281,720.5 283,718.5 285,717.5 287,715.5 288.8,715.5 289,715.5 291,716.5 293,718.5 295,719.5 297,720.5 297.6,721.5 299,720.5 301,719.5 303,719.5 305,718.5 307,717.5 308.1,717.5 309,717.5 311,718.5 313,719.5 315,720.5 315.2,720.5 317,720.5 319,720.5 321,720.5 323,720.5 325,719.5 325.7,720.5 327,718.5 328.3,716.5 329,716.5 331,716.5 333,716.5 335,716.5 337,716.5 339,716.5 341,716.5 343,716.5 343.3,716.5 345,718.5 347,720.5 349,721.5 351,723.5 352.1,723.5 353,723.5 355,723.5 357,723.5 359,723.5 361,723.5 363,723.5 365,723.5 367,722.5 369,722.5 371,722.5 373,722.5 375,723.5 377,722.5 379,722.5 381,722.5 383,722.5 385,723.5 387,723.5 389,722.5 391,723.5 393,723.5 395,723.5 397,723.5 399,723.5 401,723.5 403,723.5 405,722.5 407,721.5 409,720.5 410,720.5 411,720.5 413,719.5 415,719.5 417,719.5 419,718.5 421,719.5 423,719.5 425,719.5 427,719.5 429,718.5 431,718.5 431.2,718.5 433,717.5 435,718.5 437,718.5 439,718.5 441,718.5 443,718.5 445,718.5 447,718.5 449,718.5 450,719.5 451,719.5 453,719.5 455,719.5 457,719.5 459,719.5 461,720.5 463,719.5 465,720.5 467,720.5 467.6,721.5 469,720.5 471,719.5 473,719.5 475,719.5 477,718.5 479,717.5 481,716.5 481.6,716.5 483,717.5 485,718.5 487,719.5 489,720.5 490.4,721.5 491,721.5 493,721.5 495,721.5 497,721.5 499,721.5 501,721.5 502.7,721.5 503,721.5 505,720.5 507,719.5 509,718.5 511,717.5 513,717.5 515,716.5 517,716.5 519,715.5 520.3,715.5 521,715.5 523,715.5 525,716.5 527,716.5 529,715.5 531,716.5 532.6,716.5 533,716.5 535,718.5 537,719.5 539,720.5 541,722.5 543,724.5 543.2,724.5 545,723.5 547,723.5 549,722.5 551,722.5 553,721.5 555,720.5 555.5,720.5 557,719.5 559,718.5 561,718.5 563,718.5 565,718.5 567,717.5 569,717.5 569.5,717.5 571,717.5 573,719.5 575,720.5 577,721.5 578.3,722.5 579,722.5 581,722.5 583,722.5 585,722.5 587,722.5 589,722.5 591,721.5 593,721.5 595,722.5 595.9,721.5 597,721.5 599,721.5 601,720.5 603,719.5 605,718.5 606.4,718.5 607,718.5 609,719.5 611,720.5 613,720.5 615,721.5 617,721.5 619,718.5 621,714.5 622.3,712.5" fill="none" stroke="#000000" stroke-width="1"/>
<polyline points="109,739.5 111,739.5 113,739.5 115,738.5 117,739.5 119,739.5 121,739.5 123,740.5 125,740.5 127,740.5 128,740.5 129,740.5 131,739.5 133,738.5 135,738.5 137,738.5 139,738.5 141,738.5 143,737.5 145,737.5 147,738.5 149,737.5 151,737.5 153,737.5 154.2,738.5 155,738.5 157,738.5 159,738.5 161,738.5 163,739.5 165,740.5 167,741.5 169,742.5 171,744.5 173,745.5 173.6,745.5 175,746.5 177,745.5 179,746.5 181,746.5 183,746.5 185,746.5 187,746.5 187.6,746.5 189,746.5 191,747.5 193,747.5 195,747.5 197,745.5 199,744.5 201,744.5 203,743.5 205,743.5 207,742.5 209,742.5 210.5,742.5 211,742.5 213,741.5 215,741.5 217,741.5 219,741.5 221,740.5 223,740.5 225,739.5 227,738.5 229,738.5 230.7,737.5 231,736.5 233,730.5 235,725.5 237,721.5 238.6,717.5 239,717.5 241,717.5 243,717.5 245,717.5 247,717.5 249,718.5 251,719.5 253,719.5 255,720.5 257,719.5 257.9,719.5 259,719.5 261,719.5 263,719.5 265,720.5 267,720.5 269,721.5 270.2,721.5 271,721.5 273,722.5 275,722.5 277,723.5 279,722.5 281,720.5 283,718.5 285,716.5 287,715.5 288.8,714.5 289,714.5 291,715.5 293,717.5 295,719.5 297,720.5 297.6,721.5 299,720.5 301,719.5 303,718.5 305,716.5 307,716.5 308.1,716.5 309,716.5 311,717.5 313,718.5 315,718.5 315.2,718.5 317,718.5 319,719.5 321,720.5 323,721.5 325,722.5 325.7,722.5 327,719.5 328.3,717.5 329,717.5 331,717.5 333,717.5 335,716.5 337,716.5 339,715.5 341,715.5 343,714.5 343.3,714.5 345,715.5 347,717.5 349,719.5 351,721.5 352.1,721.5 353,721.5 355,721.5 357,721.5 359,721.5 361,722.5 363,722.5 365,722.5 367,722.5 369,722.5 371,723.5 373,724.5 375,724.5 377,724.5 379,723.5 381,723.5 383,723.5 385,723.5 387,723.5 389,722.5 391,722.5 393,722.5 395,723.5 397,723.5 399,723.5 401,722.5 403,722.5 405,721.5 407,721.5 409,721.5 410,720.5 411,720.5 413,720.5 415,719.5 417,720.5 419,719.5 421,719.5 423,719.5 425,719.5 427,719.5 429,719.5 431,718.5 431.2,718.5 433,718.5 435,717.5 437,717.5 439,717.5 441,717.5 443,717.5 445,717.5 447,718.5 449,718.5 450,718.5 451,718.5 453,718.5 455,719.5 457,720.5 459,720.5 461,720.5 463,720.5 465,721.5 467,721.5 467.6,721.5 469,720.5 471,719.5 473,719.5 475,718.5 477,717.5 479,717.5 481,717.5 481.6,716.5 483,717.5 485,718.5 487,718.5 489,720.5 490.4,720.5 491,720.5 493,720.5 495,720.5 497,721.5 499,721.5 501,721.5 502.7,720.5 503,720.5 505,719.5 507,719.5 509,718.5 511,717.5 513,716.5 515,715.5 517,714.5 519,713.5 520.3,713.5 521,713.5 523,713.5 525,714.5 527,714.5 529,715.5 531,715.5 532.6,716.5 533,716.5 535,718.5 537,719.5 539,721.5 541,722.5 543,724.5 543.2,724.5 545,723.5 547,723.5 549,722.5 551,721.5 553,720.5 555,719.5 555.5,719.5 557,718.5 559,718.5 561,718.5 563,718.5 565,718.5 567,718.5 569,718.5 569.5,718.5 571,719.5 573,721.5 575,722.5 577,723.5 578.3,724.5 579,724.5 581,723.5 583,722.5 585,722.5 587,721.5 589,721.5 591,721.5 593,721.5 595,721.5 595.9,721.5 597,721.5 599,720.5 601,720.5 603,720.5 605,718.5 606.4,718.5 607,718.5 609,719.5 611,719.5 613,720.5 615,720.5 617,720.5 619,717.5 621,713.5 622.3,712.5" fill="none" stroke="#000000" stroke-width="1"/>
<polyline points="759,653.5 761,653.5 763,653.5 765,653.5 767,653.5 769,652.5 771,652.5 771.5,652.5 773,652.5 775,652.5 777,652.5 779,652.5 781,651.5 781.7,651.5 783,651.5 785,651.5 787,652.5 789,652.5 791,652.5 791.8,652.5 793,653.5 795,653.5 797,653.5 799,652.5 801,653.5 803,653.5 805,652.5 805.8,652.5 807,652.5 809,652.5 811,652.5 813,652.5 815,652.5 817,652.5 819,652.5 821,652.5 823,652.5 824.8,652.5 825,652.5 827,652.5 829,652.5 831,651.5 833,651.5 835,650.5 836.2,650.5 837,651.5 839,651.5 841,651.5 843,651.5 843.9,651.5 845,652.5 847,652.5 849,654.5 851,654.5 853,655.5 855,656.5 855.3,656.5 857,655.5 859,655.5 861,654.5 863,653.5 864.2,653.5 865,653.5 867,653.5 869,653.5 871,652.5 873,652.5 875,653.5 876.9,652.5 877,652.5 879,651.5 881,651.5 883,650.5 885,649.5 887,650.5 889,651.5 891,652.5 893,653.5 895,654.5 895.2,655.5 897,655.5 899,655.5 901,655.5 903,656.5 905,655.5 907,655.5 907.9,655.5 909,654.5 911,653.5 913,653.5 915,652.5 917,650.5 919,649.5 919.4,650.5 921,650.5 923,650.5 925,650.5 927,650.5 929,650.5 931,651.5 933,651.5 933.3,651.5 935,651.5 937,651.5 939,652.5 941,652.5 943,652.5 945,652.5 947,652.5 949,652.5 951,652.5 953,652.5 955,652.5 957,652.5 959,652.5 960,651.5 961,652.5 963,651.5 965,651.5 967,651.5 969,651.5 971,650.5 973,650.5 974,650.5 975,650.5 977,650.5 979,650.5 981,651.5 983,651.5 985,651.5 987,651.5 989,651.5 991,651.5 993,650.5 994.3,650.5 995,650.5 997,651.5 999,652.5 1001,653.5 1003,653.5 1003.8,654.5" fill="none" stroke="#008c00" stroke-width="1"/>
<polyline points="759,654.5 761,654.5 763,654.5 765,653.5 767,653.5 769,653.5 771,653.5 771.5,653.5 773,653.5 775,652.5 777,652.5 779,651.5 781,650.5 781.7,650.5 783,651.5 785,651.5 787,652.5 789,653.5 791,653.5 791.8,653.5 793,653.5 795,653.5 797,653.5 799,653.5 801,654.5 803,654.5 805,653.5 805.8,653.5 807,653.5 809,653.5 811,652.5 813,652.5 815,652.5 817,652.5 819,652.5 821,652.5 823,652.5 824.8,652.5 825,652.5 827,652.5 829,651.5 831,651.5 833,650.5 835,649.5 836.2,649.5 837,649.5 839,649.5 841,650.5 843,650.5 843.9,651.5 845,651.5 847,652.5 849,653.5 851,654.5 853,655.5 855,656.5 855.3,656.5 857,656.5 859,655.5 861,654.5 863,653.5 864.2,653.5 865,653.5 867,653.5 869,652.5 871,653.5 873,653.5 875,653.5 876.9,653.5 877,652.5 879,652.5 881,651.5 883,651.5 885,650.5 887,652.5 889,653.5 891,654.5 893,655.5 895,656.5 895.2,655.5 897,655.5 899,655.5 901,656.5 903,656.5 905,655.5 907,655.5 907.9,654.5 909,653.5 911,652.5 913,651.5 915,650.5 917,649.5 919,649.5 919.4,649.5 921,649.5 923,650.5 925,649.5 927,650.5 929,650.5 931,651.5 933,652.5 933.3,653.5 935,652.5 937,653.5 939,653.5 941,653.5 943,653.5 945,653.5 947,653.5 949,653.5 951,653.5 953,653.5 955,653.5 957,652.5 959,652.5 960,652.5 961,651.5 963,650.5 965,650.5 967,649.5 969,649.5 971,649.5 973,649.5 974,649.5 975,650.5 977,650.5 979,650.5 981,651.5 983,651.5 985,651.5 987,652.5 989,652.5 991,651.5 993,651.5 994.3,650.5 995,650.5 997,650.5 999,650.5 1001,652.5 1003,653.5 1003.8,653.5" fill="none" stroke="#008c00" stroke-width="1"/>
<polyline points="759,660.5 761,660.5 763,659.5 765,660.5 767,659.5 769,660.5 771,660.5 771.5,660.5 773,660.5 775,660.5 777,660.5 779,659.5 781,659.5 782.9,658.5 783,658.5 785,658.5 787,659.5 789,659.5 791,660.5 793,660.5 795,660.5 797,661.5 798.2,662.5 799,662.5 801,661.5 803,661.5 805,661.5 807,661.5 809,661.5 811,661.5 813,661.5 815,660.5 817,660.5 819,660.5 821,660.5 823,660.5 825,660.5 827,660.5 829,660.5 831,659.5 831.2,659.5 833,659.5 835,659.5 837,660.5 839,660.5 841,659.5 843,659.5 845,659.5 846.4,659.5 847,659.5 849,660.5 851,661.5 853,662.5 854,663.5 855,663.5 857,662.5 859,661.5 861,661.5 863,660.5 865,660.5 866,659.5 867,659.5 869,660.5 871,660.5 873,660.5 875,659.5 877,659.5 879,659.5 881,659.5 883,659.5 885,659.5 887,659.5 889,659.5 891,659.5 892.7,659.5 893,659.5 895,661.5 897,662.5 897.8,663.5 899,662.5 901,662.5 903,662.5 905,661.5 906.7,661.5 907,661.5 909,659.5 911,657.5 911.7,656.5 913,656.5 915,656.5 917,656.5 919,656.5 921,656.5 923,656.5 924.4,656.5 925,656.5 927,657.5 929,657.5 929.5,657.5 931,658.5 933,659.5 935,659.5 937,659.5 939,659.5 941,659.5 943,659.5 945,659.5 947,659.5 949,659.5 951,659.5 953,659.5 955,659.5 956.2,659.5 957,659.5 959,659.5 961,660.5 963,660.5 965,661.5 966,661.5 967,660.5 969,659.5 971,658.5 971.4,658.5 973,658.5 975,657.5 976.5,657.5 977,657.5 979,656.5 981,656.5 983,656.5 985,656.5 987,655.5 989,655.5 991,655.5 991.7,655.5 993,656.5 995,656.5 997,656.5 999,657.5 1001,658.5 1003,658.5 1003.8,659.5" fill="none" stroke="#000000" stroke-width="1"/>
<polyline points="759,660.5 761,659.5 763,659.5 765,659.5 767,658.5 769,657.5 771,658.5 771.5,658.5 773,659.5 775,659.5 777,659.5 779,659.5 781,659.5 782.9,659.5 783,658.5 785,659.5 787,658.5 789,658.5 791,658.5 793,659.5 795,660.5 797,660.5 798.2,661.5 799,662.5 801,662.5 803,662.5 805,662.5 807,662.5 809,662.5 811,661.5 813,660.5 815,660.5 817,660.5 819,660.5 821,659.5 823,659.5 825,659.5 827,659.5 829,659.5 831,659.5 831.2,659.5 833,659.5 835,659.5 837,659.5 839,659.5 841,660.5 843,659.5 845,659.5 846.4,659.5 847,660.5 849,661.5 851,662.5 853,663.5 854,663.5 855,663.5 857,662.5 859,661.5 861,660.5 863,659.5 865,659.5 866,660.5 867,660.5 869,660.5 871,660.5 873,660.5 875,660.5 877,660.5 879,659.5 881,659.5 883,658.5 885,658.5 887,658.5 889,658.5 891,658.5 892.7,658.5 893,658.5 895,659.5 897,660.5 897.8,661.5 899,661.5 901,661.5 903,661.5 905,661.5 906.7,661.5 907,661.5 909,659.5 911,658.5 911.7,657.5 913,657.5 915,657.5 917,657.5 919,657.5 921,657.5 923,656.5 924.4,657.5 925,656.5 927,657.5 929,658.5 929.5,659.5 931,659.5 933,659.5 935,660.5 937,660.5 939,660.5 941,659.5 943,659.5 945,658.5 947,658.5 949,657.5 951,657.5 953,657.5 955,658.5 956.2,659.5 957,659.5 959,659.5 961,660.5 963,661.5 965,661.5 966,662.5 967,661.5 969,659.5 971,658.5 971.4,658.5 973,657.5 975,656.5 976.5,656.5 977,655.5 979,655.5 981,655.5 983,654.5 985,655.5 987,654.5 989,654.5 991,654.5 991.7,653.5 993,654.5 995,655.5 997,656.5 999,657.5 1001,658.5 1003,658.5 1003.8,659.5" fill="none" stroke="#000000" stroke-width="1"/>
<polyline points="758.2,719.5 760.2,719.5 762.2,720.5 764.2,720.5 766.2,720.5 768.2,721.5 770.2,721.5 772.2,721.5 774,722.5 774.2,722.5 776.2,722.5 778.2,722.5 780.2,722.5 782.2,721.5 784.2,721.5 786.2,721.5 788.2,721.5 789.3,721.5 790.2,721.5 792.2,722.5 794.2,723.5 796.2,724.5 798.2,725.5 800.2,725.5 802.2,725.5 804.2,725.5 806.2,725.5 808.2,724.5 810.2,725.5 812.2,724.5 814.2,724.5 816.2,724.5 817.2,723.5 818.2,724.5 820.2,724.5 822.2,724.5 824.2,724.5 826.2,725.5 827.4,725.5 828.2,725.5 830.2,723.5 832.2,722.5 832.4,721.5 834.2,722.5 836.2,722.5 838.2,722.5 838.8,722.5 840.2,723.5 842.2,725.5 843.9,727.5 844.2,727.5 846.2,727.5 848.2,726.5 850.2,726.5 852.2,727.5 854.2,727.5 856.2,726.5 858.2,727.5 860.2,727.5 861.6,727.5 862.2,726.5 864.2,726.5 866.2,725.5 868.2,724.5 870.2,724.5 872.2,723.5 874.2,723.5 876.2,722.5 878.2,721.5 880.2,720.5 882,720.5 882.2,720.5 884.2,721.5 886.2,721.5 888.2,721.5 890.2,722.5 892.2,722.5 894.2,722.5 895.2,723.5 896.2,722.5 898.2,723.5 900.2,723.5 902.2,723.5 904.2,723.5 906.2,723.5 908.2,723.5 910.2,723.5 912.2,723.5 913,723.5 914.2,722.5 916.2,721.5 918.2,721.5 920.2,720.5 922.2,720.5 924.2,719.5 925.7,719.5 926.2,720.5 928.2,720.5 930.2,721.5 932.2,721.5 934.2,721.5 936.2,721.5 938.2,721.5 940.2,722.5 942.2,722.5 944.2,722.5 946.2,722.5 948.2,722.5 950.2,723.5 951.1,723.5 952.2,723.5 954.2,723.5 956.2,723.5 958.2,723.5 960.2,724.5 962.2,724.5 964.2,724.5 966.2,724.5 968.2,724.5 968.9,724.5 970.2,723.5 972.2,723.5 974.2,723.5 976.2,722.5 978.2,722.5 980.2,721.5 981.6,721.5 982.2,721.5 984.2,722.5 986.2,722.5 988.2,722.5 990.2,723.5 992.2,723.5 994.2,724.5 996.2,725.5 998.2,725.5 1000.2,725.5 1002.2,726.5 1003.1,727.5" fill="none" stroke="#008c00" stroke-width="1"/>
<polyline points="758.2,717.5 760.2,717.5 762.2,718.5 764.2,719.5 766.2,720.5 768.2,720.5 770.2,721.5 772.2,722.5 774,723.5 774.2,722.5 776.2,722.5 778.2,723.5 780.2,722.5 782.2,722.5 784.2,722.5 786.2,721.5 788.2,722.5 789.3,722.5 790.2,723.5 792.2,724.5 794.2,725.5 796.2,727.5 798.2,727.5 800.2,726.5 802.2,726.5 804.2,726.5 806.2,725.5 808.2,725.5 810.2,724.5 812.2,724.5 814.2,724.5 816.2,724.5 817.2,723.5 818.2,723.5 820.2,724.5 822.2,725.5 824.2,725.5 826.2,725.5 827.4,725.5 828.2,725.5 830.2,724.5 832.2,722.5 832.4,722.5 834.2,722.5 836.2,723.5 838.2,724.5 838.8,724.5 840.2,725.5 842.2,727.5 843.9,728.5 844.2,729.5 846.2,728.5 848.2,728.5 850.2,727.5 852.2,727.5 854.2,727.5 856.2,727.5 858.2,727.5 860.2,728.5 861.6,727.5 862.2,727.5 864.2,726.5 866.2,725.5 868.2,725.5 870.2,724.5 872.2,723.5 874.2,722.5 876.2,721.5 878.2,720.5 880.2,720.5 882,720.5 882.2,720.5 884.2,720.5 886.2,721.5 888.2,722.5 890.2,722.5 892.2,723.5 894.2,723.5 895.2,724.5 896.2,724.5 898.2,724.5 900.2,723.5 902.2,723.5 904.2,723.5 906.2,723.5 908.2,723.5 910.2,723.5 912.2,723.5 913,724.5 914.2,724.5 916.2,723.5 918.2,723.5 920.2,723.5 922.2,722.5 924.2,721.5 925.7,721.5 926.2,721.5 928.2,721.5 930.2,721.5 932.2,721.5 934.2,721.5 936.2,721.5 938.2,721.5 940.2,721.5 942.2,721.5 944.2,721.5 946.2,721.5 948.2,722.5 950.2,722.5 951.1,723.5 952.2,722.5 954.2,722.5 956.2,723.5 958.2,723.5 960.2,724.5 962.2,725.5 964.2,725.5 966.2,724.5 968.2,724.5 968.9,724.5 970.2,724.5 972.2,723.5 974.2,723.5 976.2,723.5 978.2,723.5 980.2,722.5 981.6,721.5 982.2,721.5 984.2,722.5 986.2,722.5 988.2,723.5 990.2,723.5 992.2,724.5 994.2,725.5 996.2,726.5 998.2,727.5 1000.2,727.5 1002.2,726.5 1003.1,726.5" fill="none" stroke="#008c00" stroke-width="1"/>
<polyline points="758.2,716.5 760.2,716.5 762.2,716.5 764.2,716.5 766.2,716.5 768.2,717.5 770.2,718.5 771.5,718.5 772.2,717.5 774.2,718.5 776.2,718.5 778.2,717.5 780.2,716.5 782.2,717.5 784.2,717.5 786.2,717.5 788.2,717.5 789.3,716.5 790.2,717.5 792.2,718.5 794.2,719.5 796.2,720.5 798.2,721.5 800.2,721.5 802.2,721.5 804.2,721.5 806.2,720.5 808.2,720.5 808.3,719.5 810.2,719.5 812.2,719.5 814.2,719.5 816.2,719.5 818.2,718.5 818.5,719.5 820.2,720.5 822.2,721.5 824.2,721.5 826.1,722.5 826.2,722.5 828.2,721.5 830.2,719.5 832.2,718.5 832.4,718.5 834.2,718.5 836.2,718.5 838.2,718.5 840.2,718.5 841.3,718.5 842.2,719.5 844.2,721.5 846.2,722.5 847.7,723.5 848.2,724.5 850.2,723.5 852.2,723.5 854.2,723.5 856.2,723.5 858.2,723.5 860.2,723.5 862.2,723.5 862.9,723.5 864.2,722.5 866.2,722.5 868.2,721.5 870.2,720.5 872.2,719.5 874.2,719.5 876.2,718.5 878.2,718.5 880.2,717.5 882,716.5 882.2,716.5 884.2,716.5 886.2,716.5 887.6,716.5 888.2,717.5 890.2,718.5 892.2,719.5 894.2,720.5 895.2,720.5 896.2,720.5 898.2,720.5 900.2,720.5 902.2,720.5 904.2,721.5 906.2,721.5 908.2,721.5 910.2,720.5 911.7,720.5 912.2,720.5 914.2,719.5 916.2,719.5 918.2,718.5 920.2,718.5 922.2,717.5 923.2,717.5 924.2,717.5 926.2,717.5 928.2,716.5 930.2,716.5 932.2,716.5 934.2,716.5 936.2,716.5 938.2,716.5 940.2,716.5 942.2,716.5 944.2,716.5 946.2,717.5 948.2,718.5 950.2,719.5 951.1,719.5 952.2,719.5 954.2,719.5 956.2,719.5 958.2,719.5 960.2,719.5 962.2,719.5 964.2,719.5 966.2,719.5 968.2,718.5 968.9,718.5 970.2,718.5 972.2,717.5 974.2,716.5 975.2,716.5 976.2,716.5 978.2,716.5 980.2,716.5 982.2,716.5 984.2,716.5 986.2,716.5 988.2,716.5 990.2,716.5 992.2,716.5 994.2,716.5 994.3,716.5 996.2,718.5 998.2,720.5 1000.2,722.5 1002.2,723.5 1003.1,724.5" fill="none" stroke="#000000" stroke-width="1"/>
<polyline points="758.2,717.5 760.2,717.5 762.2,716.5 764.2,717.5 766.2,716.5 768.2,716.5 770.2,716.5 771.5,717.5 772.2,716.5 774.2,716.5 776.2,716.5 778.2,716.5 780.2,716.5 782.2,715.5 784.2,715.5 786.2,715.5 788.2,715.5 789.3,715.5 790.2,716.5 792.2,718.5 794.2,719.5 796.2,720.5 798.2,721.5 800.2,721.5 802.2,721.5 804.2,720.5 806.2,720.5 808.2,719.5 808.3,719.5 810.2,719.5 812.2,719.5 814.2,719.5 816.2,719.5 818.2,720.5 818.5,720.5 820.2,720.5 822.2,721.5 824.2,722.5 826.1,723.5 826.2,723.5 828.2,722.5 830.2,721.5 832.2,720.5 832.4,720.5 834.2,719.5 836.2,719.5 838.2,719.5 840.2,719.5 841.3,719.5 842.2,719.5 844.2,721.5 846.2,723.5 847.7,724.5 848.2,724.5 850.2,724.5 852.2,724.5 854.2,724.5 856.2,724.5 858.2,724.5 860.2,724.5 862.2,724.5 862.9,724.5 864.2,724.5 866.2,722.5 868.2,722.5 870.2,721.5 872.2,720.5 874.2,719.5 876.2,718.5 878.2,717.5 880.2,716.5 882,715.5 882.2,715.5 884.2,714.5 886.2,715.5 887.6,715.5 888.2,716.5 890.2,717.5 892.2,718.5 894.2,719.5 895.2,719.5 896.2,720.5 898.2,720.5 900.2,721.5 902.2,721.5 904.2,721.5 906.2,721.5 908.2,721.5 910.2,721.5 911.7,721.5 912.2,721.5 914.2,721.5 916.2,720.5 918.2,719.5 920.2,718.5 922.2,718.5 923.2,717.5 924.2,717.5 926.2,716.5 928.2,715.5 930.2,715.5 932.2,715.5 934.2,716.5 936.2,715.5 938.2,716.5 940.2,716.5 942.2,716.5 944.2,717.5 946.2,717.5 948.2,718.5 950.2,719.5 951.1,720.5 952.2,719.5 954.2,719.5 956.2,718.5 958.2,719.5 960.2,718.5 962.2,718.5 964.2,718.5 966.2,718.5 968.2,718.5 968.9,718.5 970.2,718.5 972.2,717.5 974.2,717.5 975.2,717.5 976.2,717.5 978.2,717.5 980.2,717.5 982.2,717.5 984.2,717.5 986.2,716.5 988.2,716.5 990.2,717.5 992.2,716.5 994.2,716.5 994.3,716.5 996.2,718.5 998.2,720.5 1000.2,722.5 1002.2,723.5 1003.1,724.5" fill="none" stroke="#000000" stroke-width="1"/>
<polyline points="20,621.5 22,621.5 24,621.5 26,621.5 27,620.5 28,620.5 30,620.5 32,619.5 34,619.5 36,619.5 38,621.5 40,622.5 42,624.5 44,626.5 45.5,627.5" fill="none" stroke="#008c00" stroke-width="1"/>
<polyline points="20,624.5 22,624.5 24,624.5 26,624.5 28,623.5 30,622.5 32,620.5 34,621.5 36,621.5 38,622.5 40,623.5 42,625.5 44,627.5 45.5,628.5" fill="none" stroke="#008c00" stroke-width="1"/>
<polyline points="20,627.5 22,627.5 24,627.5 26,628.5 27,628.5 28,627.5 30,626.5 32,626.5 34,627.5 36,627.5 38,627.5 40,628.5 42,629.5 43,629.5 44,630.5 45.5,631.5" fill="none" stroke="#000000" stroke-width="1"/>
<polyline points="20,628.5 22,628.5 24,628.5 26,628.5 27,628.5 28,628.5 30,627.5 32,627.5 34,627.5 36,628.5 38,628.5 40,629.5 42,629.5 43,629.5 44,630.5 45.5,631.5" fill="none" stroke="#000000" stroke-width="1"/>
<polyline points="20,732.5 22,732.5 24,732.5 26,732.5 28,732.5 30,730.5 32,730.5 34,730.5 36,730.5 38,730.5 40,731.5 42,733.5 44,732.5 45,732.5" fill="none" stroke="#000000" stroke-width="1"/>
<polyline points="20,734.5 22,733.5 24,733.5 26,733.5 28,733.5 30,733.5 32,732.5 34,732.5 36,732.5 38,732.5 40,733.5 42,734.5 44,732.5 45,731.5" fill="none" stroke="#000000" stroke-width="1"/>
<polyline points="20,735.5 22,735.5 24,735.5 26,735.5 28,735.5 30,734.5 32,734.5 34,735.5 35,735.5 36,735.5 38,734.5 40,734.5 42,733.5 44,733.5 45,733.5" fill="none" stroke="#008c00" stroke-width="1"/>
<polyline points="20,738.5 22,738.5 24,738.5 26,738.5 28,737.5 30,737.5 32,737.5 33,737.5 34,737.5 36,737.5 38,738.5 40,738.5 42,738.5 44,738.5 45,738.5" fill="none" stroke="#008c00" stroke-width="1"/>
<polyline points="679,648.5 681,649.5 683,650.5" fill="none" stroke="#008c00" stroke-width="1"/>
<polyline points="679,657.5 683,658.5" fill="none" stroke="#000000" stroke-width="1"/>
<polyline points="679,713.5 683,713.5" fill="none" stroke="#000000" stroke-width="1"/>
<polyline points="679,719.5 683,719.5" fill="none" stroke="#008c00" stroke-width="1"/>
<polyline points="679,720.5 683,720.5" fill="none" stroke="#008c00" stroke-width="1"/>
<line x1="20" y1="888.5" x2="46" y2="888.5" stroke="#986464" stroke-width="1"/>
<line x1="20" y1="895.5" x2="46" y2="895.5" stroke="#986464" stroke-width="1"/>
<line x1="109" y1="888.5" x2="623" y2="888.5" stroke="#986464" stroke-width="1"/>
<line x1="109" y1="895.5" x2="623" y2="895.5" stroke="#986464" stroke-width="1"/>
<line x1="679" y1="888.5" x2="683" y2="888.5" stroke="#986464" stroke-width="1"/>
<line x1="679" y1="895.5" x2="683" y2="895.5" stroke="#986464" stroke-width="1"/>
<line x1="759" y1="888.5" x2="1004" y2="888.5" stroke="#986464" stroke-width="1"/>
<line x1="759" y1="895.5" x2="1004" y2="895.5" stroke="#986464" stroke-width="1"/>
<line x1="20" y1="965.5" x2="45" y2="965.5" stroke="#986464" stroke-width="1"/>
<line x1="20" y1="972.5" x2="45" y2="972.5" stroke="#986464" stroke-width="1"/>
<line x1="109" y1="965.5" x2="623" y2="965.5" stroke="#986464" stroke-width="1"/>
<line x1="109" y1="972.5" x2="623" y2="972.5" stroke="#986464" stroke-width="1"/>
<line x1="679" y1="965.5" x2="683" y2="965.5" stroke="#986464" stroke-width="1"/>
<line x1="679" y1="972.5" x2="683" y2="972.5" stroke="#986464" stroke-width="1"/>
<line x1="759" y1="965.5" x2="1004" y2="965.5" stroke="#986464" stroke-width="1"/>
<line x1="759" y1="972.5" x2="1004" y2="972.5" stroke="#986464" stroke-width="1"/>
<polyline points="108.9,884.5 110.9,885.5 112.9,886.5 114.9,887.5 116.4,887.5 116.9,887.5 118.9,888.5 120,889.5 120.9,892.5 121.7,895.5 122.9,906.5 123.5,911.5 124.9,911.5 126.9,911.5 128.9,911.5 130.9,911.5 132.9,911.5 134.9,911.5 136.6,911.5 136.9,911.5 138.9,909.5 140.2,908.5 140.9,907.5 142.9,903.5 143.7,901.5 144.9,901.5 146.9,901.5 148.9,901.5 150.9,902.5 152.9,901.5 154.9,901.5 156.9,901.5 158.9,901.5 160.9,901.5 162.9,901.5 163,901.5 164.9,901.5 166.9,901.5 168.9,902.5 170,902.5 170.9,902.5 172.9,902.5 174.9,902.5 176.9,902.5 178.9,902.5 180.9,902.5 182.9,902.5 184.1,902.5 184.9,901.5 186.9,901.5 188.9,901.5 190.9,901.5 192.9,901.5 194.9,900.5 196.9,900.5 198.9,899.5 200.9,899.5 202.9,898.5 204.9,898.5 206.9,897.5 207,897.5 208.9,897.5 210.9,897.5 212.9,897.5 214.9,897.5 216.9,901.5 218.9,905.5 220.9,910.5 222.8,913.5 222.9,913.5 224.9,913.5 226.9,913.5 228.9,912.5 230.9,912.5 232.9,912.5 234.9,912.5 236.9,911.5 238.6,911.5 238.9,912.5 240.9,911.5 242.9,911.5 244.9,911.5 246.9,911.5 248.9,911.5 250.9,911.5 252.9,911.5 254.9,911.5 256.9,911.5 258.9,911.5 259.7,911.5 260.9,912.5 262.9,912.5 264.9,913.5 266.9,913.5 268.5,913.5 268.9,913.5 270.9,913.5 272.9,912.5 274.9,912.5 276.9,911.5 277.3,911.5 278.9,911.5 280.9,911.5 282.9,911.5 284.9,911.5 285,911.5 286.9,911.5 288.9,910.5 290.5,909.5 290.9,910.5 292.9,910.5 294.9,910.5 296.9,910.5 298.9,910.5 300.9,910.5 302.9,909.5 304.9,910.5 306.9,910.5 308.9,910.5 310.9,909.5 312.9,909.5 313.4,909.5 314.9,910.5 316.9,911.5 318.7,912.5 318.9,912.5 320.9,912.5 322.9,912.5 324.9,912.5 326.9,912.5 328.9,912.5 329.2,913.5 330.9,911.5 332.7,908.5 332.9,908.5 334.9,907.5 336.9,907.5 338.9,906.5 339.8,906.5 340.9,905.5 342.9,903.5 344.9,901.5 345.9,901.5 346.9,902.5 348.9,903.5 349.4,903.5 350.9,908.5 352.1,912.5 352.9,913.5 354.9,913.5 356.9,913.5 358.9,914.5 360.9,914.5 362.9,914.5 364.9,914.5 366.9,914.5 368.9,914.5 370.9,914.5 372.9,914.5 374.9,914.5 376.7,914.5 376.9,915.5 378.9,915.5 380.9,915.5 382.9,915.5 384.9,915.5 386.9,915.5 388.9,915.5 390.9,915.5 392.9,916.5 394.9,916.5 396.9,916.5 398.9,916.5 400.9,916.5 402.9,916.5 403,916.5 404.9,916.5 406.9,916.5 408.9,916.5 410.9,916.5 412.9,916.5 414.9,916.5 416.9,916.5 418.9,915.5 420.9,915.5 422.9,915.5 424.9,915.5 426.9,915.5 428.9,915.5 429.4,914.5 430.9,915.5 432.9,915.5 434.9,914.5 436.9,914.5 438.2,914.5 438.9,916.5 440.9,918.5 442.9,921.5 443.5,922.5 444.9,921.5 446.9,919.5 448.9,918.5 450.5,917.5 450.9,917.5 452.9,917.5 454.9,917.5 456.9,917.5 458.8,917.5 458.9,917.5 460.9,917.5 462.9,917.5 464.9,916.5 466.9,916.5 468.9,916.5 470.9,916.5 471.1,916.5 472.9,916.5 474.9,915.5 476.9,915.5 478.9,914.5 480.9,914.5 482.9,914.5 484.9,913.5 486.9,913.5 488.7,913.5 488.9,913.5 490.9,913.5 492.9,913.5 494.9,913.5 496.9,914.5 498.9,914.5 500.9,914.5 502.7,914.5 502.9,914.5 504.9,914.5 506.9,914.5 508.9,914.5 510.9,914.5 512.9,914.5 514.9,913.5 516.9,913.5 518.9,913.5 520.3,913.5 520.9,913.5 522.9,913.5 524.9,913.5 526.9,913.5 527.3,913.5 528.9,914.5 530.9,915.5 532.9,916.5 534.9,917.5 536.9,918.5 538.9,919.5 539.6,919.5 540.9,919.5 542.9,919.5 544.9,919.5 546.9,918.5 548.4,918.5 548.9,918.5 550.9,918.5 552.9,918.5 554.9,918.5 556.9,918.5 558.9,917.5 560.9,917.5 562.9,917.5 564.9,917.5 566.9,917.5 568.9,916.5 570.9,916.5 572.9,916.5 573,916.5 574.9,917.5 576.9,917.5 578.9,918.5 580.9,920.5 582.9,921.5 583.6,921.5 584.9,921.5 586.9,921.5 588.9,921.5 590.9,921.5 592.4,921.5 592.9,921.5 594.9,920.5 596.9,918.5 598.9,916.5 599.4,916.5 600.9,916.5 602.9,915.5 604.9,915.5 606.9,915.5 608.9,915.5 610.9,915.5 612.9,915.5 614.9,915.5 616.9,915.5 618.9,915.5 620.9,915.5 622.9,915.5 623,915.5" fill="none" stroke="#0000c8" stroke-width="1"/>
<polyline points="108.9,885.5 110.9,886.5 112.9,886.5 114.9,887.5 116.4,887.5 116.9,887.5 118.9,888.5 120,888.5 120.9,890.5 121.7,891.5 122.9,901.5 124.3,912.5 124.9,912.5 126.9,912.5 128.9,911.5 130.9,911.5 132.9,911.5 134.9,911.5 136.9,910.5 138.4,910.5 138.9,909.5 140.9,906.5 142.9,903.5 143.7,902.5 144.9,902.5 146.9,902.5 148.9,901.5 150.9,902.5 152.9,902.5 154.9,902.5 156.9,902.5 158.9,902.5 160.9,902.5 162.9,902.5 163,901.5 164.9,901.5 166.9,902.5 168.9,902.5 170,903.5 170.9,903.5 172.9,903.5 174.9,903.5 176.9,902.5 178.9,903.5 180.9,903.5 182.9,903.5 184.1,902.5 184.9,902.5 186.9,902.5 188.9,901.5 190.9,901.5 192.9,901.5 194.9,901.5 196.9,901.5 198.9,901.5 200.9,901.5 202.9,901.5 204.9,901.5 206.9,901.5 208.9,901.5 210.5,901.5 210.9,901.5 212.9,901.5 214.9,901.5 216.9,900.5 217.5,901.5 218.9,904.5 220.9,909.5 222.8,913.5 222.9,913.5 224.9,912.5 226.9,912.5 228.9,912.5 230.9,911.5 232.9,911.5 234.9,911.5 236.9,911.5 238.6,911.5 238.9,911.5 240.9,911.5 242.9,911.5 244.9,911.5 246.9,911.5 248.9,911.5 250.9,911.5 252.9,912.5 254.9,911.5 256.9,912.5 258.9,912.5 259.7,912.5 260.9,912.5 262.9,913.5 264.9,913.5 266.9,913.5 268.5,914.5 268.9,914.5 270.9,913.5 272.9,913.5 274.9,913.5 276.9,912.5 277.3,912.5 278.9,912.5 280.9,912.5 282.9,912.5 284.9,912.5 285,912.5 286.9,912.5 288.9,911.5 290.5,911.5 290.9,910.5 292.9,910.5 294.9,910.5 296.9,910.5 298.9,910.5 300.9,910.5 302.9,910.5 304.9,910.5 306.9,911.5 308.9,910.5 310.9,910.5 312.9,910.5 313.4,911.5 314.9,911.5 316.9,912.5 318.7,913.5 318.9,912.5 320.9,912.5 322.9,912.5 324.9,913.5 326.9,913.5 328.9,912.5 329.2,912.5 330.9,911.5 332.7,909.5 332.9,909.5 334.9,908.5 336.9,906.5 338.9,905.5 340.9,905.5 342.9,904.5 343.3,903.5 344.9,903.5 346.9,902.5 348.9,902.5 349,902.5 350.9,908.5 352.1,911.5 352.9,912.5 354.9,912.5 356.9,913.5 358.9,913.5 360.9,913.5 362.9,913.5 364.9,914.5 366.9,914.5 368.9,914.5 370.9,914.5 372.9,914.5 374.9,915.5 376.7,915.5 376.9,915.5 378.9,915.5 380.9,915.5 382.9,915.5 384.9,915.5 386.9,915.5 388.9,916.5 390.9,916.5 392.9,916.5 394.9,917.5 396.9,917.5 398.9,917.5 400.9,917.5 402.9,917.5 403,917.5 404.9,917.5 406.9,916.5 408.9,916.5 410.9,916.5 412.9,916.5 414.9,916.5 416.9,916.5 418.9,916.5 420.9,916.5 422.9,916.5 424.9,916.5 426.9,916.5 428.9,915.5 429.4,915.5 430.9,915.5 432.9,915.5 434.9,915.5 436.9,915.5 438.2,915.5 438.9,916.5 440.9,917.5 442.9,918.5 443.5,918.5 444.9,918.5 446.9,918.5 448.9,918.5 450.5,917.5 450.9,918.5 452.9,917.5 454.9,917.5 456.9,918.5 458.8,918.5 458.9,918.5 460.9,918.5 462.9,917.5 464.9,917.5 466.9,917.5 468.9,917.5 470.9,916.5 471.1,917.5 472.9,917.5 474.9,916.5 476.9,916.5 478.9,915.5 480.9,915.5 482.9,914.5 484.9,914.5 486.9,913.5 488.7,913.5 488.9,913.5 490.9,913.5 492.9,913.5 494.9,914.5 496.9,915.5 498.9,915.5 500.9,915.5 502.7,915.5 502.9,915.5 504.9,915.5 506.9,915.5 508.9,915.5 510.9,915.5 512.9,915.5 514.9,915.5 516.9,915.5 518.9,914.5 520.3,914.5 520.9,914.5 522.9,914.5 524.9,914.5 526.9,915.5 527.3,915.5 528.9,915.5 530.9,916.5 532.9,917.5 534.9,918.5 536.9,919.5 538.9,920.5 539.6,920.5 540.9,920.5 542.9,920.5 544.9,920.5 546.9,920.5 548.4,919.5 548.9,919.5 550.9,918.5 552.9,918.5 554.9,918.5 556.9,918.5 558.9,917.5 560.9,918.5 562.9,918.5 564.9,917.5 566.9,917.5 568.9,917.5 570.9,917.5 572.9,916.5 573,917.5 574.9,918.5 576.9,919.5 578.9,919.5 580.9,920.5 582.9,921.5 583.6,922.5 584.9,922.5 586.9,922.5 588.9,922.5 590.9,923.5 592.4,923.5 592.9,922.5 594.9,921.5 596.9,919.5 598.9,917.5 599.4,917.5 600.9,917.5 602.9,917.5 604.9,916.5 606.9,917.5 608.9,916.5 610.9,916.5 612.9,916.5 614.9,916.5 616.9,916.5 618.9,916.5 620.9,916.5 622.9,916.5 623,916.5" fill="none" stroke="#0000c8" stroke-width="1"/>
<polyline points="108.9,890.5 110.9,893.5 112,894.5 112.9,894.5 114.9,894.5 116.9,895.5 118.9,896.5 119,895.5 120.9,903.5 122.6,909.5 122.9,911.5 124.3,920.5 124.9,920.5 126.9,921.5 128.9,921.5 130.9,921.5 132.9,920.5 134.9,920.5 135.8,920.5 136.9,917.5 138.9,911.5 140.9,905.5 141.9,902.5 142.9,902.5 144.9,903.5 146.9,902.5 148.9,902.5 150.7,902.5 150.9,902.5 152.9,903.5 154.9,903.5 156.9,903.5 157.7,903.5 158.9,903.5 160.9,903.5 162.9,902.5 164.9,902.5 166.9,901.5 168.9,901.5 170.9,901.5 171.8,901.5 172.9,903.5 174.4,906.5 174.9,905.5 176.9,904.5 178.9,903.5 180.6,902.5 180.9,902.5 182.9,902.5 184.9,903.5 186.9,904.5 188.5,904.5 188.9,904.5 190.9,902.5 192.9,901.5 194.9,901.5 196.9,900.5 198.9,899.5 200.9,899.5 202.9,898.5 204.9,898.5 206.9,897.5 207,898.5 208.9,898.5 210.9,897.5 212.9,898.5 214.9,897.5 216.9,903.5 218.9,910.5 220.9,916.5 221.9,919.5 222.9,919.5 224.9,920.5 226.9,920.5 228.9,920.5 230.9,921.5 232.9,921.5 233.3,921.5 234.9,921.5 236.9,920.5 238.9,919.5 240.3,919.5 240.9,918.5 242.9,918.5 244.9,918.5 246.9,918.5 248.9,918.5 250.9,918.5 252.7,918.5 252.9,918.5 254.9,918.5 256.9,919.5 258.9,919.5 260.9,920.5 262.9,921.5 263.2,921.5 264.9,923.5 266.9,924.5 268.5,926.5 268.9,926.5 270.9,924.5 272.9,922.5 274.9,921.5 276.9,919.5 277.3,918.5 278.9,918.5 280.9,919.5 282.9,920.5 284.9,921.5 285,921.5 286.9,920.5 287,920.5 288.9,919.5 290.9,917.5 292.3,916.5 292.9,916.5 294.9,914.5 296.9,912.5 297.6,911.5 298.9,912.5 300.9,912.5 302.9,913.5 304.9,914.5 306.4,915.5 306.9,916.5 308.9,917.5 310.9,918.5 312.9,919.5 314.9,920.5 315.2,920.5 316.9,920.5 318.9,920.5 320.9,920.5 322.9,920.5 324.9,919.5 326.9,920.5 328.9,919.5 329.2,920.5 330.9,918.5 332.9,918.5 334.9,917.5 336.2,916.5 336.9,916.5 338.9,915.5 340.9,915.5 342.9,915.5 344.9,915.5 346.8,915.5 346.9,915.5 348.9,917.5 350.9,920.5 352.1,922.5 352.9,922.5 354.9,922.5 356.9,922.5 358.9,922.5 360.9,922.5 362.9,922.5 364.9,922.5 366.9,923.5 368.9,923.5 370.9,923.5 372.9,923.5 374.9,923.5 376.9,923.5 378.9,923.5 380.9,924.5 382.9,924.5 384.9,924.5 386.9,924.5 388.9,925.5 390.9,925.5 392.9,926.5 394.9,926.5 396,927.5 396.9,927.5 398.9,926.5 400.9,926.5 402.9,926.5 404.9,926.5 406.9,926.5 408.9,926.5 410.9,926.5 412.9,925.5 413.6,926.5 414.9,925.5 416.9,923.5 418.9,922.5 420.9,921.5 422.9,920.5 424.9,918.5 426.9,917.5 427.7,916.5 428.9,917.5 430.9,919.5 432.9,921.5 434.7,922.5 434.9,922.5 436.9,923.5 438.9,925.5 440.9,927.5 441.7,927.5 442.9,927.5 444.9,927.5 446.9,927.5 448.9,927.5 450.9,927.5 452.9,927.5 454.9,927.5 456.9,927.5 458.9,927.5 460,927.5 460.9,927.5 462.9,927.5 464.9,927.5 466.9,927.5 468.9,926.5 470.9,926.5 472.9,926.5 474.6,925.5 474.9,925.5 476.9,923.5 478.1,922.5 478.9,921.5 480.9,920.5 482.9,919.5 484.9,918.5 486.9,917.5 488.7,916.5 488.9,916.5 490.9,918.5 492.9,919.5 494.9,919.5 496.9,920.5 497.5,920.5 498.9,922.5 500.9,924.5 502.7,926.5 502.9,926.5 504.9,924.5 506.9,923.5 508,922.5 508.9,922.5 510.9,922.5 512.9,922.5 514.9,922.5 516.8,922.5 516.9,922.5 518.9,921.5 520.9,920.5 522.9,919.5 523.8,918.5 524.9,918.5 526.9,919.5 528.9,921.5 530.9,922.5 532.9,923.5 534.9,924.5 536.9,926.5 537.9,926.5 538.9,926.5 540.9,926.5 542.9,927.5 544.9,926.5 546.9,925.5 548.9,923.5 550.9,921.5 552,920.5 552.9,921.5 554.9,922.5 556.9,923.5 557.2,923.5 558.9,922.5 560.9,922.5 562.9,921.5 564.9,921.5 566.9,920.5 568.9,919.5 570.9,918.5 572.9,918.5 573,918.5 574.9,919.5 576.9,920.5 578.9,921.5 580.1,922.5 580.9,922.5 582.9,922.5 584.9,922.5 586.9,922.5 588.9,923.5 590.9,923.5 592.9,923.5 594.1,923.5 594.9,922.5 596.9,922.5 598.9,921.5 600.9,921.5 602.9,920.5 604.9,920.5 606.9,919.5 608.9,919.5 610.9,919.5 612.9,919.5 614.9,918.5 616.9,918.5 618.7,917.5 618.9,918.5 620.9,920.5 622.9,922.5 623.1,922.5" fill="none" stroke="#000000" stroke-width="1"/>
<polyline points="108.9,891.5 110.9,892.5 112,893.5 112.9,893.5 114.9,894.5 116.9,894.5 118.9,895.5 119,895.5 120.9,905.5 122.6,914.5 122.9,915.5 124.3,919.5 124.9,919.5 126.9,919.5 128.9,919.5 130.9,919.5 132.9,919.5 134.9,919.5 135.8,919.5 136.9,916.5 138.9,911.5 140.9,906.5 141.9,904.5 142.9,903.5 144.9,904.5 146.9,903.5 148.9,903.5 150.7,903.5 150.9,903.5 152.9,904.5 154.9,904.5 156.9,905.5 157.7,904.5 158.9,904.5 160.9,904.5 162.9,903.5 164.9,903.5 166.9,902.5 168.9,902.5 170.9,901.5 171.8,901.5 172.9,903.5 174.4,905.5 174.9,904.5 176.9,904.5 178.9,903.5 180.6,903.5 180.9,903.5 182.9,904.5 184.9,904.5 186.9,905.5 188.5,905.5 188.9,905.5 190.9,903.5 192.9,902.5 194.9,902.5 196.9,901.5 198.9,900.5 200.9,900.5 202.9,899.5 204.9,899.5 206.9,898.5 207,898.5 208.9,898.5 210.9,898.5 212.9,898.5 214.9,898.5 216.9,904.5 218.9,910.5 220.9,915.5 221.9,918.5 222.9,918.5 224.9,918.5 226.9,919.5 228.9,919.5 230.9,919.5 232.9,920.5 233.3,920.5 234.9,920.5 236.9,919.5 238.9,918.5 240.3,918.5 240.9,918.5 242.9,917.5 244.9,917.5 246.9,917.5 248.9,916.5 250.9,916.5 252.7,916.5 252.9,916.5 254.9,916.5 256.9,917.5 258.9,918.5 260.9,918.5 262.9,919.5 263.2,918.5 264.9,920.5 266.9,921.5 268.5,922.5 268.9,921.5 270.9,920.5 272.9,919.5 274.9,918.5 276.9,917.5 277.3,917.5 278.9,917.5 280.9,917.5 282.9,918.5 284.9,919.5 285,919.5 286.9,918.5 288.9,916.5 290.9,914.5 292.3,913.5 292.9,913.5 294.9,913.5 296.9,912.5 297.6,912.5 298.9,912.5 300.9,913.5 302.9,914.5 304.9,915.5 306.4,916.5 306.9,916.5 308.9,918.5 310.9,919.5 312.9,920.5 314.9,921.5 316.9,923.5 318.9,923.5 320.9,923.5 322.9,922.5 324.9,922.5 326.9,922.5 328.9,922.5 329.2,922.5 330.9,920.5 332.9,918.5 334.9,915.5 336.9,913.5 338.9,911.5 340.9,908.5 342.9,906.5 343.3,905.5 344.9,909.5 346.8,915.5 346.9,915.5 348.9,917.5 350.9,919.5 352.1,920.5 352.9,921.5 354.9,921.5 356.9,921.5 358.9,922.5 360.9,922.5 362.9,922.5 364.9,922.5 366.9,923.5 368.9,923.5 370.9,923.5 372.9,924.5 374.9,924.5 376.7,925.5 376.9,925.5 378.9,924.5 380.9,924.5 382.9,924.5 384.9,923.5 386.9,923.5 388.9,922.5 390.7,922.5 390.9,922.5 392.9,923.5 394.9,923.5 396,924.5 396.9,924.5 398.9,925.5 400.9,925.5 402.9,925.5 404.9,925.5 406.9,925.5 408.9,924.5 410.9,924.5 412.9,924.5 413.6,924.5 414.9,924.5 416.9,923.5 418.9,921.5 420.9,920.5 422.9,919.5 424.9,918.5 426.9,917.5 427.7,917.5 428.9,918.5 430.9,919.5 432.9,920.5 434.7,921.5 434.9,921.5 436.9,923.5 438.9,924.5 440.9,925.5 441.7,925.5 442.9,925.5 444.9,925.5 446.9,926.5 448.9,926.5 450.9,926.5 452.9,926.5 454.9,926.5 456.9,926.5 458.9,926.5 460,926.5 460.9,926.5 462.9,925.5 464.9,925.5 466.9,925.5 468.9,925.5 470.9,924.5 472.9,925.5 474.6,924.5 474.9,924.5 476.9,923.5 478.9,922.5 480.9,921.5 481.6,921.5 482.9,921.5 484.9,920.5 486.9,919.5 488.9,918.5 490.4,917.5 490.9,917.5 492.9,920.5 494.9,922.5 496.9,923.5 498.9,925.5 499.2,925.5 500.9,925.5 502.9,925.5 504.9,924.5 506.9,924.5 508,923.5 508.9,923.5 510.9,923.5 512.9,923.5 514.9,923.5 516.8,923.5 516.9,923.5 518.9,921.5 520.9,920.5 522.9,919.5 523.8,918.5 524.9,919.5 526.9,921.5 528.9,922.5 530.9,923.5 532.9,925.5 534.9,926.5 536.9,927.5 537.9,927.5 538.9,927.5 540.9,926.5 542.9,926.5 544.9,926.5 546.9,924.5 548.9,923.5 550.9,922.5 552,922.5 552.9,922.5 554.9,923.5 556.9,924.5 557.2,924.5 558.9,923.5 560.9,922.5 562.9,922.5 564.9,921.5 566.9,920.5 568.9,920.5 570.9,919.5 572.9,919.5 573,919.5 574.9,919.5 576.9,920.5 578.9,920.5 580.1,920.5 580.9,920.5 582.9,920.5 584.9,921.5 586.9,921.5 588.9,922.5 590.9,921.5 592.9,921.5 594.1,922.5 594.9,922.5 596.9,922.5 598.9,922.5 600.9,922.5 602.9,921.5 604.9,921.5 606.9,921.5 608.9,920.5 610.9,920.5 612.9,920.5 614.9,919.5 616.9,919.5 618.7,918.5 618.9,919.5 620.9,920.5 622.9,921.5 623.1,921.5" fill="none" stroke="#000000" stroke-width="1"/>
<polyline points="108.9,995.5 110.9,995.5 112.9,995.5 114.9,995.5 116.9,995.5 118.9,995.5 120.9,995.5 122.6,995.5 122.9,995.5 124.9,994.5 126.9,994.5 127.9,994.5 128.9,995.5 130.9,996.5 132.9,997.5 133.1,997.5 134.9,997.5 136.9,997.5 138.9,998.5 140.9,997.5 142.9,997.5 144.9,998.5 146.9,997.5 148.9,997.5 150.9,997.5 152.9,997.5 154.2,997.5 154.9,997.5 156.9,997.5 158.9,997.5 160.9,997.5 162.9,997.5 164.9,997.5 166.5,997.5 166.9,997.5 168.9,998.5 170.9,998.5 172.9,998.5 174.9,998.5 176.9,999.5 178.9,999.5 180.9,1000.5 182.9,1000.5 184.1,1000.5 184.9,1000.5 186.9,1001.5 188.9,1001.5 190.9,1000.5 192.9,1001.5 194.9,1000.5 196.9,1001.5 198.9,1001.5 200.9,1000.5 202.9,1000.5 203.4,1000.5 204.9,1000.5 206.9,1000.5 208.9,1000.5 210.9,999.5 212.9,999.5 214.9,999.5 216.9,999.5 217.5,999.5 218.9,999.5 220.9,1000.5 222.9,1000.5 224.9,1000.5 226.9,1000.5 228.9,1000.5 230.9,1000.5 231.6,1000.5 232.9,993.5 234.9,982.5 236.8,973.5 236.9,973.5 238.9,973.5 240.9,973.5 242.9,973.5 244.9,974.5 246.9,974.5 248.9,974.5 250.9,974.5 252.9,974.5 254.9,974.5 256.9,975.5 257.9,975.5 258.9,975.5 260.9,975.5 262.9,975.5 264.9,975.5 266.9,975.5 268.9,975.5 270.9,976.5 272.9,975.5 274.9,975.5 276.9,976.5 278.9,976.5 279,976.5 280.9,975.5 282.9,974.5 284.9,974.5 285,974.5 286.9,972.5 287,972.5 288.9,974.5 290.9,975.5 292.9,977.5 294.1,978.5 294.9,978.5 296.9,978.5 298.9,978.5 300.9,979.5 302.9,979.5 304.6,979.5 304.9,978.5 306.9,977.5 308.9,977.5 309.9,976.5 310.9,976.5 312.9,976.5 314.9,976.5 316.9,977.5 318.9,976.5 320.9,976.5 322.9,976.5 324.9,976.5 325.7,976.5 326.9,976.5 328.9,976.5 330.9,975.5 332.7,974.5 332.9,974.5 334.9,974.5 336.9,974.5 338.9,974.5 340.9,974.5 341.5,974.5 342.9,975.5 344.9,977.5 346.9,978.5 348.9,980.5 350.3,981.5 350.9,981.5 352.9,982.5 354.9,982.5 356.9,982.5 357.3,982.5 358.9,982.5 360.9,982.5 362.9,982.5 364.9,982.5 366.9,981.5 368.9,981.5 370.9,981.5 371.4,981.5 372.9,981.5 374.9,981.5 376.9,981.5 378.9,981.5 380.9,981.5 382.9,982.5 384.9,982.5 386.9,982.5 388.9,982.5 390.9,982.5 392.5,982.5 392.9,982.5 394.9,982.5 396.9,981.5 398.9,980.5 400.9,980.5 402.9,980.5 404.9,979.5 406.6,979.5 406.9,978.5 408.9,977.5 410.9,975.5 412.9,974.5 413.6,974.5 414.9,974.5 416.9,974.5 418.9,974.5 420.9,975.5 422.9,975.5 424.9,975.5 426.9,976.5 427.7,976.5 428.9,976.5 430.9,975.5 432.9,974.5 434.7,973.5 434.9,973.5 436.9,973.5 438.9,973.5 440.9,973.5 442.9,973.5 444.9,974.5 446.9,974.5 448.7,974.5 448.9,974.5 450.9,975.5 452.9,975.5 454.9,976.5 455.8,976.5 456.9,976.5 458.9,976.5 460.9,976.5 462.9,976.5 464.9,976.5 466.9,976.5 468.9,976.5 470.9,976.5 471.1,976.5 472.9,976.5 474.9,976.5 476.9,976.5 478.9,977.5 480.9,976.5 482.9,977.5 484.9,977.5 486.9,977.5 488.9,977.5 490.9,978.5 492.9,978.5 494,977.5 494.9,977.5 496.9,977.5 498.9,977.5 500.9,976.5 502.9,976.5 504.9,976.5 506.2,976.5 506.9,975.5 508.9,975.5 510.9,974.5 512.9,974.5 514.9,973.5 516.9,973.5 518.9,973.5 520.3,972.5 520.9,972.5 522.9,973.5 524.9,973.5 526.9,973.5 528.9,973.5 530.9,973.5 532.9,973.5 534.4,973.5 534.9,973.5 536.9,974.5 538.9,976.5 540.9,977.5 541.4,978.5 542.9,977.5 544.9,977.5 546.9,977.5 548.9,977.5 550.9,977.5 552.9,977.5 554.9,977.5 555.5,977.5 556.9,977.5 558.9,976.5 560.9,976.5 562.9,976.5 564.9,975.5 566.9,975.5 568.9,975.5 570.9,975.5 572.9,975.5 573,975.5 574.9,977.5 576.9,978.5 578.9,979.5 580.1,980.5 580.9,980.5 582.9,980.5 584.9,980.5 586.9,980.5 588.9,980.5 590.9,980.5 592.9,980.5 594.1,979.5 594.9,979.5 596.9,978.5 598.9,977.5 600.9,976.5 602.9,975.5 604.9,975.5 606.9,975.5 608.9,975.5 610.9,975.5 612.9,975.5 614.9,975.5 616.9,976.5 618.7,976.5 618.9,975.5 620.9,972.5 622.9,968.5 623.1,968.5" fill="none" stroke="#0000c8" stroke-width="1"/>
<polyline points="108.9,996.5 110.9,1001.5 112,1005.5 112.9,1004.5 114.9,1002.5 116.9,1001.5 118.9,999.5 120.9,998.5 122.9,996.5 124.9,995.5 126.1,994.5 126.9,995.5 128.9,998.5 130.9,1001.5 132.9,1003.5 134.9,1006.5 136.9,1006.5 138.9,1006.5 140.9,1006.5 142.9,1006.5 144.9,1006.5 146.9,1006.5 148.9,1006.5 150.7,1005.5 150.9,1005.5 152.9,1000.5 154.2,996.5 154.9,997.5 156.9,999.5 158.9,1001.5 160.9,1003.5 161.2,1003.5 162.9,1003.5 164.9,1003.5 166.9,1004.5 168.9,1004.5 170.9,1004.5 172.9,1004.5 174.9,1005.5 175.3,1004.5 176.9,1004.5 178.9,1005.5 180.9,1005.5 182.9,1006.5 184.9,1006.5 186.9,1006.5 188.9,1006.5 190.9,1006.5 192.9,1007.5 194.9,1006.5 196.9,1005.5 198.9,1004.5 200.9,1004.5 202.9,1003.5 204.9,1002.5 206.9,1001.5 207,1001.5 208.9,1001.5 210.9,1001.5 212.9,1001.5 214.9,1001.5 216.9,1001.5 218.9,1001.5 220.9,1001.5 222.9,1001.5 224.9,1001.5 226.9,1000.5 228.9,1000.5 230.9,1000.5 231.6,1000.5 232.9,991.5 234.9,979.5 236.8,966.5 236.9,966.5 238.9,966.5 240.9,966.5 242.9,967.5 244.9,966.5 245.6,967.5 246.9,967.5 248.9,967.5 250.9,967.5 252.9,967.5 254.4,967.5 254.9,968.5 256.9,971.5 258.9,973.5 259.7,975.5 260.9,975.5 262.9,975.5 264.9,975.5 266.9,975.5 268.9,976.5 270.9,976.5 272.9,976.5 274.9,976.5 276.9,977.5 277.3,976.5 278.9,976.5 280.9,976.5 282.9,975.5 284.9,974.5 285,975.5 286.9,973.5 287,973.5 288.9,975.5 290.9,976.5 292.9,978.5 294.1,979.5 294.9,979.5 296.9,979.5 298.9,979.5 300.9,979.5 302.9,979.5 304.6,979.5 304.9,979.5 306.9,978.5 308.9,977.5 309.9,976.5 310.9,977.5 312.9,977.5 314.9,977.5 316.9,977.5 318.9,977.5 320.9,977.5 322.9,977.5 324.9,978.5 325.7,978.5 326.9,977.5 328.9,976.5 330.9,975.5 332.7,975.5 332.9,975.5 334.9,975.5 336.9,975.5 338.9,975.5 340.9,975.5 341.5,975.5 342.9,976.5 344.9,978.5 346.9,979.5 348.9,981.5 350.3,982.5 350.9,982.5 352.9,983.5 354.9,983.5 356.9,983.5 358.9,984.5 359.1,983.5 360.9,983.5 362.9,983.5 364.9,983.5 366.9,982.5 368.9,982.5 370.9,982.5 371.4,982.5 372.9,982.5 374.9,982.5 376.9,982.5 378.9,983.5 380.9,983.5 382.9,983.5 384.9,983.5 386.9,983.5 388.9,983.5 390.9,984.5 392.5,984.5 392.9,984.5 394.9,983.5 396.9,982.5 398.9,982.5 400.9,981.5 402.9,980.5 404.9,979.5 406.6,979.5 406.9,979.5 408.9,978.5 410.9,977.5 412.9,976.5 413.6,975.5 414.9,976.5 416.9,975.5 418.9,976.5 420.9,976.5 422.9,976.5 424.9,976.5 426.9,976.5 427.7,977.5 428.9,976.5 430.9,975.5 432.9,975.5 434.7,974.5 434.9,974.5 436.9,974.5 438.9,974.5 440.9,974.5 442.9,975.5 444.9,975.5 446.9,975.5 448.7,975.5 448.9,975.5 450.9,975.5 452.9,976.5 454.9,976.5 455.8,977.5 456.9,977.5 458.9,977.5 460.9,977.5 462.9,976.5 464.9,976.5 466.9,977.5 468.9,976.5 470.9,977.5 471.1,977.5 472.9,976.5 474.9,977.5 476.9,977.5 478.9,977.5 480.9,977.5 482.9,977.5 484.9,978.5 486.9,978.5 488.9,978.5 490.9,978.5 492.9,978.5 494,978.5 494.9,978.5 496.9,978.5 498.9,978.5 500.9,978.5 502.9,977.5 504.9,977.5 506.2,977.5 506.9,977.5 508.9,976.5 510.9,976.5 512.9,975.5 514.9,974.5 516.9,974.5 518.9,973.5 520.3,973.5 520.9,973.5 522.9,973.5 524.9,973.5 526.9,973.5 528.9,974.5 530.9,974.5 532.9,974.5 534.4,974.5 534.9,974.5 536.9,975.5 538.9,977.5 540.9,978.5 541.4,978.5 542.9,978.5 544.9,978.5 546.9,978.5 548.9,978.5 550.9,978.5 552.9,978.5 554.9,978.5 555.5,978.5 556.9,977.5 558.9,977.5 560.9,977.5 562.9,977.5 564.9,977.5 566.9,976.5 568.9,976.5 570.9,976.5 572.9,976.5 573,976.5 574.9,977.5 576.9,978.5 578.9,979.5 580.9,980.5 582.9,980.5 583.6,981.5 584.9,981.5 586.9,981.5 588.9,981.5 590.9,981.5 592.9,981.5 594.1,980.5 594.9,980.5 596.9,979.5 598.9,978.5 600.9,977.5 602.9,976.5 604.9,976.5 606.9,977.5 608.9,977.5 610.9,976.5 612.9,977.5 614.9,977.5 616.9,977.5 618.7,977.5 618.9,976.5 620.9,972.5 622.9,967.5 623.1,967.5" fill="none" stroke="#0000c8" stroke-width="1"/>
<polyline points="108.5,985.5 110.3,1000.5 110.5,1000.5 112.5,999.5 114.5,999.5 116.5,999.5 118.5,998.5 120.5,998.5 122.5,998.5 122.6,998.5 124.5,995.5 126.1,993.5 126.5,993.5 128.5,995.5 130.5,995.5 131.4,996.5 132.5,1000.5 134.5,1008.5 134.9,1010.5 136.5,1009.5 138.4,1009.5 138.5,1009.5 140.5,1003.5 141.9,998.5 142.5,999.5 144.5,998.5 146.5,998.5 148.5,998.5 150.5,998.5 152.5,997.5 154.5,999.5 156.5,1001.5 157.7,1002.5 158.5,1002.5 160.5,1002.5 162.5,1002.5 164.5,1002.5 166.5,1003.5 168.5,1002.5 170.5,1002.5 171.8,1002.5 172.5,1003.5 174.5,1003.5 176.5,1004.5 178.5,1004.5 178.8,1004.5 180.5,1004.5 182.5,1005.5 184.5,1005.5 186.5,1006.5 188.5,1006.5 190.5,1006.5 192.5,1007.5 192.9,1007.5 194.5,1007.5 196.5,1006.5 198.5,1006.5 200.5,1005.5 202.5,1004.5 203.4,1004.5 204.5,1004.5 206.5,1003.5 208.5,1002.5 210.5,1001.5 212.5,999.5 214.5,998.5 216.5,997.5 218.5,996.5 219.3,996.5 220.5,996.5 222.5,996.5 224.5,996.5 226.5,995.5 228.5,996.5 230.5,996.5 231.6,996.5 232.5,993.5 234.5,985.5 235.1,983.5 236.5,975.5 238.5,964.5 238.6,964.5 240.5,966.5 242.5,967.5 243.9,968.5 244.5,968.5 246.5,968.5 248.5,968.5 250.5,969.5 252.5,969.5 254.5,969.5 256.2,970.5 256.5,971.5 258.5,971.5 260.5,971.5 262.5,972.5 263.2,972.5 264.5,972.5 266.5,972.5 268.5,972.5 270.5,972.5 272.5,972.5 274.5,972.5 276.5,971.5 278.5,972.5 280.5,971.5 282.5,971.5 284.5,971.5 285,971.5 286.5,969.5 287,968.5 288.5,970.5 290.5,971.5 292.3,972.5 292.5,972.5 294.5,973.5 296.5,975.5 298.5,976.5 299.3,976.5 300.5,975.5 302.5,974.5 304.5,973.5 306.5,971.5 308.1,970.5 308.5,971.5 310.5,972.5 312.5,973.5 314.5,975.5 315.2,975.5 316.5,975.5 318.5,975.5 320.5,976.5 322.5,975.5 324.5,975.5 325.7,976.5 326.5,974.5 328.5,970.5 329.2,968.5 330.5,968.5 332.5,968.5 334.5,969.5 336.2,968.5 336.5,968.5 338.5,970.5 340.5,970.5 342.5,971.5 344.5,972.5 345,973.5 346.5,974.5 348.5,975.5 350.5,976.5 352.5,978.5 353.8,978.5 354.5,978.5 356.5,978.5 358.5,978.5 360.5,977.5 362.5,977.5 364.5,978.5 366.5,977.5 367.9,977.5 368.5,977.5 370.5,977.5 372.5,977.5 374.5,977.5 376.5,977.5 378.5,976.5 380.5,977.5 382.5,976.5 384.5,976.5 385.5,976.5 386.5,976.5 388.5,976.5 390.5,976.5 392.5,975.5 394.5,976.5 396.5,976.5 398.5,976.5 400.5,976.5 402.5,975.5 403,975.5 404.5,975.5 406.5,974.5 408.5,973.5 410.5,972.5 411.8,971.5 412.5,971.5 414.5,971.5 416.5,971.5 418.5,971.5 420.5,971.5 422.5,971.5 424.5,971.5 426.5,971.5 428.5,971.5 430.5,971.5 431.2,971.5 432.5,971.5 434.5,971.5 436.5,971.5 438.5,971.5 440.5,971.5 442.5,971.5 444.5,971.5 445.2,971.5 446.5,971.5 448.5,971.5 450.5,971.5 452.5,971.5 454.5,971.5 456.5,971.5 458.5,972.5 460,971.5 460.5,972.5 462.5,973.5 464.1,973.5 464.5,973.5 466.5,973.5 468.5,972.5 470.5,972.5 472.5,972.5 474.5,971.5 476.5,971.5 478.5,971.5 480.5,970.5 481.6,970.5 482.5,971.5 484.5,972.5 486.5,972.5 488.5,972.5 490.5,973.5 492.2,973.5 492.5,973.5 494.5,973.5 496.5,973.5 498.5,973.5 500.5,973.5 502.5,973.5 502.7,973.5 504.5,972.5 506.5,972.5 508.5,971.5 510.5,970.5 512.5,970.5 514.5,969.5 516.5,968.5 518.5,967.5 520.3,967.5 520.5,967.5 522.5,967.5 524.5,968.5 526.5,969.5 528.5,969.5 530.5,970.5 532.5,970.5 534.4,971.5 534.5,971.5 536.5,971.5 538.5,971.5 540.5,971.5 542.5,971.5 544.5,971.5 546.5,971.5 548.5,971.5 550.5,971.5 552.5,971.5 554.5,971.5 555.5,971.5 556.5,971.5 558.5,971.5 560.5,971.5 562.5,971.5 564.5,971.5 566.5,971.5 568.5,971.5 570.5,971.5 572.5,971.5 573,971.5 574.5,972.5 576.5,974.5 578.5,975.5 580.1,977.5 580.5,976.5 582.5,977.5 584.5,977.5 586.5,977.5 588.5,977.5 590.5,977.5 592.5,977.5 594.1,977.5 594.5,976.5 596.5,974.5 598.5,972.5 599.4,971.5 600.5,971.5 602.5,971.5 604.5,971.5 606.5,971.5 608.5,971.5 610.5,971.5 612.5,971.5 614.5,971.5 616.5,971.5 618.5,971.5 618.7,971.5 620.5,968.5 622.5,965.5 623.1,964.5" fill="none" stroke="#000000" stroke-width="1"/>
<polyline points="108.5,990.5 110.3,1010.5 110.5,1010.5 112.5,1008.5 114.5,1006.5 116.5,1003.5 118.5,1001.5 120.5,1000.5 122.5,998.5 122.6,998.5 124.5,998.5 126.5,997.5 128.5,997.5 130.5,996.5 131.4,997.5 132.5,999.5 134.5,1003.5 134.9,1003.5 136.5,1003.5 138.5,1002.5 140.5,1000.5 141.9,999.5 142.5,999.5 144.5,1000.5 146.5,1001.5 148.5,1001.5 150.5,1001.5 152.5,1002.5 154.5,1003.5 156.5,1003.5 157.7,1003.5 158.5,1004.5 160.5,1004.5 162.5,1004.5 164.5,1005.5 166.5,1005.5 168.5,1005.5 170.5,1005.5 172.5,1005.5 174.5,1006.5 175.3,1006.5 176.5,1006.5 178.5,1006.5 180.5,1006.5 182.5,1007.5 184.5,1007.5 186.5,1007.5 188.5,1008.5 190.5,1008.5 192.5,1008.5 194.5,1009.5 196.4,1009.5 196.5,1008.5 198.5,1008.5 200.5,1007.5 202.5,1006.5 204.5,1005.5 206.5,1004.5 208.5,1003.5 210,1002.5 210.5,1003.5 212.5,1002.5 214.5,1001.5 216.5,1001.5 218.5,1000.5 220.5,1000.5 222.5,999.5 224.5,999.5 226.5,998.5 228.5,997.5 230.5,997.5 231.6,996.5 232.5,993.5 234.5,985.5 236.5,976.5 238.5,968.5 238.6,968.5 240.5,968.5 242.5,969.5 244.5,969.5 246.5,970.5 248.5,970.5 250.5,971.5 252.5,971.5 254.4,971.5 254.5,971.5 256.5,971.5 258.5,971.5 260.5,971.5 262.5,971.5 264.5,971.5 266.5,971.5 268.5,972.5 270.5,972.5 272.5,971.5 274.5,972.5 276.5,972.5 278.5,972.5 280.5,972.5 280.8,973.5 282.5,972.5 284.5,972.5 285,972.5 286.5,972.5 288.5,973.5 290.5,973.5 292.3,973.5 292.5,973.5 294.5,974.5 296.5,975.5 298.5,976.5 299.3,977.5 300.5,976.5 302.5,975.5 304.5,974.5 306.5,972.5 308.1,972.5 308.5,972.5 310.5,973.5 312.5,975.5 314.5,976.5 315.2,977.5 316.5,976.5 318.5,976.5 320.5,976.5 322.5,977.5 324.5,977.5 325.7,977.5 326.5,975.5 328.5,970.5 329.2,969.5 330.5,969.5 332.5,969.5 334.5,969.5 336.2,969.5 336.5,970.5 338.5,971.5 340.5,972.5 342.5,973.5 344.5,974.5 346.5,976.5 346.8,976.5 348.5,976.5 350.5,977.5 352.5,978.5 353.8,979.5 354.5,979.5 356.5,979.5 358.5,979.5 360.5,979.5 362.5,980.5 364.5,980.5 366.5,980.5 367.9,980.5 368.5,980.5 370.5,979.5 372.5,978.5 374.5,977.5 376.5,976.5 378.4,976.5 378.5,976.5 380.5,977.5 382.5,978.5 384.5,979.5 386.5,981.5 388.5,982.5 389,982.5 390.5,981.5 392.5,980.5 394.5,978.5 395,978.5 396.5,978.5 398.5,977.5 400.5,977.5 402.5,977.5 403,977.5 404.5,976.5 406.5,975.5 408.5,974.5 410.5,973.5 411.8,973.5 412.5,972.5 414.5,972.5 416.5,972.5 418.5,972.5 420.5,972.5 422.5,972.5 424.5,972.5 426.5,972.5 428.5,972.5 430.5,972.5 431.2,972.5 432.5,972.5 434.5,972.5 436.5,972.5 438.5,972.5 440.5,972.5 442.5,971.5 444.5,972.5 445.2,972.5 446.5,972.5 448.5,972.5 450.5,972.5 452.5,972.5 454.5,972.5 456.5,972.5 458.5,972.5 460,972.5 460.5,972.5 462.5,973.5 464.1,974.5 464.5,974.5 466.5,973.5 468.5,973.5 470.5,973.5 472.5,972.5 474.5,972.5 476.5,972.5 478.5,971.5 480.5,971.5 481.6,971.5 482.5,972.5 484.5,972.5 486.5,973.5 488.5,974.5 490.5,974.5 492.5,975.5 494,975.5 494.5,975.5 496.5,976.5 498.5,977.5 500.5,977.5 502.5,978.5 504.5,978.5 506.5,977.5 508.5,975.5 510.5,974.5 512.5,972.5 514.5,970.5 516.5,969.5 516.8,969.5 518.5,969.5 520.5,968.5 522.5,968.5 524,968.5 524.5,968.5 526.5,969.5 528.5,970.5 530.5,971.5 532.5,971.5 534.5,972.5 536.5,973.5 537.9,974.5 538.5,973.5 540.5,974.5 542.5,973.5 544.5,973.5 546.5,973.5 548.5,973.5 550.5,972.5 552.5,972.5 554.5,972.5 555.5,972.5 556.5,972.5 558.5,973.5 560.5,972.5 562.5,973.5 564.5,973.5 566.5,973.5 568.5,974.5 570.5,974.5 572.5,973.5 574.5,974.5 576.5,974.5 576.6,974.5 578.5,975.5 580.5,976.5 582.5,977.5 583.6,977.5 584.5,978.5 586.5,978.5 588.5,978.5 590.5,978.5 592.5,978.5 594.1,978.5 594.5,978.5 596.5,975.5 598.5,973.5 599.4,972.5 600.5,972.5 602.5,972.5 604.5,972.5 606.5,972.5 608.5,972.5 610.5,972.5 612.5,972.5 614.5,972.5 616.5,972.5 618.5,972.5 618.7,972.5 620.5,969.5 622.5,966.5 623.1,965.5" fill="none" stroke="#000000" stroke-width="1"/>
<polyline points="759,915.5 761,915.5 763,915.5 765,916.5 767,916.5 769,916.5 771,915.5 773,915.5 775,915.5 777,915.5 779,915.5 781,915.5 783,915.5 785,915.5 787,915.5 789,915.5 790.5,915.5 791,916.5 791.8,917.5 793,916.5 795,917.5 797,917.5 799,916.5 801,916.5 803,916.5 805,916.5 807,916.5 809,916.5 811,916.5 813,917.5 815,916.5 817,916.5 819,917.5 821,916.5 823,916.5 824.8,916.5 825,916.5 827,916.5 829,916.5 831,916.5 831.2,916.5 833,916.5 835,916.5 837,915.5 839,915.5 841,915.5 843,915.5 845,915.5 846.4,915.5 847,915.5 849,916.5 851,917.5 853,917.5 854,918.5 855,917.5 857,917.5 859,916.5 860.4,916.5 861,916.5 863,915.5 865,915.5 867,914.5 869,914.5 869.3,914.5 871,914.5 873,914.5 875,914.5 877,914.5 879,914.5 881,915.5 883,915.5 885,915.5 887,915.5 889,915.5 891,915.5 893,916.5 895,916.5 895.2,916.5 897,916.5 899,916.5 901,916.5 903,916.5 905,916.5 907,916.5 907.9,916.5 909,916.5 911,915.5 913,914.5 915,913.5 917,912.5 918.1,911.5 919,911.5 921,911.5 923,912.5 925,912.5 925.7,912.5 927,912.5 929,913.5 930.8,913.5 931,913.5 933,913.5 935,913.5 937,913.5 939,914.5 941,914.5 943,914.5 945,914.5 947,914.5 949,914.5 951,914.5 953,914.5 955,914.5 957,914.5 959,914.5 961,914.5 963,914.5 965,914.5 967,914.5 968.9,914.5 969,914.5 971,914.5 973,914.5 975,914.5 976.5,913.5 977,913.5 979,913.5 981,913.5 983,913.5 985,913.5 987,913.5 989,913.5 990.4,913.5 991,913.5 993,914.5 995,914.5 997,915.5 999,915.5 1001,915.5 1003,916.5 1003.8,916.5" fill="none" stroke="#0000c8" stroke-width="1"/>
<polyline points="759,916.5 761,916.5 763,916.5 765,916.5 767,916.5 769,916.5 771,916.5 773,916.5 775,916.5 777,916.5 779,916.5 781,916.5 783,916.5 785,916.5 787,916.5 789,916.5 791,916.5 793,916.5 795,916.5 797,916.5 799,916.5 801,916.5 803,916.5 805,916.5 807,916.5 809,916.5 811,916.5 813,916.5 815,916.5 817,916.5 819,916.5 821,916.5 823,916.5 825,916.5 827,916.5 829,916.5 831,916.5 831.2,916.5 833,916.5 835,916.5 837,916.5 839,916.5 841,916.5 843,916.5 845,916.5 847,916.5 847.7,916.5 849,917.5 851,919.5 853,920.5 855,921.5 855.3,921.5 857,920.5 859,918.5 860.4,917.5 861,917.5 863,916.5 865,916.5 867,915.5 869,915.5 869.3,915.5 871,915.5 873,915.5 875,915.5 877,915.5 879,915.5 881,915.5 883,915.5 885,915.5 887,916.5 889,916.5 891,917.5 893,917.5 895,918.5 895.2,918.5 897,918.5 899,918.5 901,918.5 903,919.5 905,919.5 907,919.5 907.9,918.5 909,918.5 911,916.5 913,915.5 915,915.5 917,914.5 919,914.5 921,914.5 923,914.5 923.2,914.5 925,914.5 927,914.5 929,914.5 931,914.5 933,914.5 935,914.5 937,914.5 939,914.5 941,914.5 943,914.5 945,915.5 947,915.5 949,915.5 951,915.5 953,915.5 955,915.5 956.2,915.5 957,915.5 959,915.5 961,915.5 963,916.5 965,916.5 967,916.5 968.9,916.5 969,916.5 971,915.5 973,915.5 975,915.5 977,915.5 979,915.5 981,915.5 983,914.5 985,914.5 987,914.5 989,914.5 990.4,914.5 991,914.5 993,915.5 995,915.5 997,915.5 999,916.5 1001,916.5 1003,917.5 1003.8,917.5" fill="none" stroke="#0000c8" stroke-width="1"/>
<polyline points="759,921.5 761,921.5 763,921.5 763.9,921.5 765,920.5 765.2,920.5 767,920.5 769,920.5 771,920.5 773,919.5 775,919.5 777,919.5 779,919.5 780.4,919.5 781,919.5 783,919.5 785,919.5 785.5,920.5 787,921.5 789,922.5 790.5,923.5 791,923.5 793,922.5 795,923.5 797,923.5 799,923.5 801,923.5 803,923.5 803.2,923.5 805,922.5 807,920.5 808.3,919.5 809,919.5 811,919.5 813,919.5 815,919.5 817,919.5 819,918.5 821,918.5 823,918.5 825,918.5 827,918.5 829,918.5 831,919.5 833,919.5 833.7,919.5 835,919.5 837,919.5 839,920.5 841,920.5 841.3,920.5 843,921.5 845,921.5 847,923.5 849,923.5 851,924.5 851.5,925.5 853,925.5 855,925.5 856.6,925.5 857,924.5 859,923.5 860.4,922.5 861,921.5 862.9,917.5 863,917.5 865,917.5 867,917.5 869,917.5 869.3,916.5 871,916.5 873,916.5 875,916.5 877,916.5 879,915.5 881,915.5 883,915.5 885,915.5 887,916.5 887.6,917.5 889,917.5 891,918.5 893,919.5 895,919.5 896.5,919.5 897,919.5 899,919.5 901,919.5 903,919.5 905,919.5 907,919.5 907.9,919.5 909,919.5 911,918.5 913,916.5 914.3,915.5 915,915.5 917,915.5 919,915.5 921,914.5 921.9,914.5 923,915.5 925,916.5 927,917.5 928.2,918.5 929,918.5 931,918.5 933,918.5 935,918.5 937,918.5 938.4,918.5 939,918.5 941,917.5 943,917.5 943.5,916.5 945,917.5 947,917.5 949,917.5 951,917.5 951.1,917.5 953,918.5 955,919.5 957,920.5 958.7,921.5 959,921.5 961,921.5 963,920.5 965,920.5 967,920.5 968.9,920.5 969,920.5 971,918.5 973,916.5 973.9,915.5 975,915.5 977,915.5 979,915.5 981,915.5 983,915.5 985,915.5 987,915.5 989,914.5 991,914.5 993,915.5 994.3,914.5 995,915.5 997,917.5 998.1,918.5 999,918.5 1001,919.5 1003,920.5 1003.8,920.5" fill="none" stroke="#000000" stroke-width="1"/>
<polyline points="759,925.5 761,925.5 762.6,925.5 763,924.5 763.9,922.5 765,922.5 767,921.5 769,921.5 771,921.5 773,920.5 775,920.5 777,920.5 779,920.5 780.4,920.5 781,920.5 783,921.5 785,922.5 787,923.5 789,923.5 790.5,923.5 791,924.5 793,924.5 795,924.5 797,924.5 799,924.5 801,924.5 803,925.5 803.2,925.5 805,923.5 807,922.5 808.3,921.5 809,921.5 811,921.5 813,921.5 815,921.5 817,920.5 819,920.5 821,920.5 823,920.5 823.6,920.5 825,921.5 827,922.5 828.6,923.5 829,922.5 831,921.5 833,920.5 833.7,920.5 835,920.5 837,920.5 839,921.5 841,921.5 841.3,921.5 843,922.5 845,923.5 847,924.5 849,925.5 851,925.5 853,926.5 854,927.5 855,926.5 857,925.5 859,924.5 860.4,923.5 861,922.5 863,920.5 865,918.5 867,918.5 869,918.5 871,918.5 873,917.5 875,917.5 876.9,917.5 877,917.5 879,917.5 881,917.5 883,917.5 885,917.5 887,917.5 887.6,917.5 889,918.5 891,919.5 893,920.5 895,922.5 896.5,923.5 897,923.5 899,923.5 901,923.5 903,923.5 905,923.5 906.7,923.5 907,922.5 909,920.5 911,918.5 911.7,918.5 913,917.5 915,917.5 917,916.5 919,916.5 921,915.5 921.9,915.5 923,916.5 925,917.5 927,918.5 928.2,919.5 929,918.5 931,919.5 933,919.5 935,919.5 937,919.5 938.4,919.5 939,919.5 941,919.5 943,919.5 945,919.5 947,919.5 949,918.5 951,918.5 951.1,918.5 953,919.5 955,920.5 957,921.5 958.7,921.5 959,921.5 961,921.5 963,921.5 965,921.5 967,922.5 968.9,922.5 969,922.5 971,920.5 973,918.5 973.9,917.5 975,917.5 977,916.5 979,916.5 981,916.5 983,916.5 985,916.5 987,916.5 989,916.5 991,916.5 993,916.5 994.3,916.5 995,916.5 997,919.5 998.1,920.5 999,920.5 1001,920.5 1003,921.5 1003.8,921.5" fill="none" stroke="#000000" stroke-width="1"/>
<polyline points="758.2,974.5 760.2,974.5 762.2,974.5 764.2,974.5 766.2,974.5 768.2,974.5 770.2,974.5 772.2,974.5 774.2,974.5 776.2,974.5 778.2,974.5 780.2,974.5 782.2,974.5 784.2,974.5 786.2,974.5 788.2,974.5 789.3,974.5 790.2,974.5 792.2,975.5 794.2,977.5 796.2,978.5 798.2,979.5 800.2,978.5 802.2,978.5 804.2,977.5 806.2,977.5 807.1,977.5 808.2,977.5 810.2,977.5 812.2,977.5 814.2,977.5 816.2,977.5 818.2,977.5 818.5,977.5 820.2,977.5 822.2,977.5 824.2,978.5 826.2,978.5 827.4,978.5 828.2,978.5 830.2,978.5 832.2,977.5 833.7,977.5 834.2,977.5 836.2,977.5 838.2,977.5 840.1,977.5 840.2,977.5 842.2,979.5 844.2,980.5 846.2,982.5 846.4,982.5 848.2,982.5 850.2,981.5 852.2,981.5 854.2,981.5 856.2,981.5 856.6,981.5 858.2,981.5 860.2,980.5 862.2,980.5 864.2,980.5 866.2,979.5 868.2,979.5 870.2,979.5 872.2,979.5 874.2,978.5 874.3,979.5 876.2,978.5 878.2,976.5 880.2,976.5 882.2,974.5 884.2,974.5 885,973.5 886.2,973.5 887.6,973.5 888.2,974.5 890.2,975.5 892.2,975.5 894.2,976.5 895.2,977.5 896.2,977.5 898.2,977.5 900.2,977.5 902.2,977.5 904.2,977.5 906.2,977.5 908.2,977.5 909.2,977.5 910.2,977.5 912.2,976.5 914.2,975.5 916.2,974.5 916.8,974.5 918.2,973.5 920.2,973.5 922.2,973.5 924.2,973.5 926.2,973.5 928.2,973.5 930.2,973.5 932.2,973.5 934.2,973.5 936.2,973.5 938.2,973.5 940.2,973.5 942.2,973.5 943.5,973.5 944.2,973.5 946.2,974.5 948.2,975.5 950.2,975.5 951.1,976.5 952.2,976.5 954.2,976.5 956.2,975.5 958.2,975.5 960.2,975.5 962.2,975.5 964.2,975.5 966.2,975.5 968.2,975.5 968.9,975.5 970.2,975.5 972.2,974.5 974.2,974.5 975.2,973.5 976.2,974.5 978.2,974.5 980.2,973.5 982.2,973.5 984.2,974.5 986.2,974.5 988.2,974.5 990.2,973.5 990.4,974.5 992.2,974.5 994.2,975.5 996.2,976.5 996.8,976.5 998.2,978.5 1000.2,980.5 1002.2,982.5 1003.8,984.5" fill="none" stroke="#0000c8" stroke-width="1"/>
<polyline points="758.2,975.5 760.2,975.5 762.2,975.5 764.2,975.5 766.2,975.5 768.2,975.5 770.2,975.5 772.2,975.5 774.2,975.5 776.2,975.5 778.2,975.5 780.2,975.5 782.2,975.5 784.2,975.5 786.2,975.5 788.2,975.5 789.3,975.5 790.2,975.5 792.2,976.5 794.2,977.5 796.2,978.5 798.2,978.5 800.2,978.5 802.2,978.5 804.2,977.5 806.2,977.5 807.1,977.5 808.2,977.5 810.2,978.5 812.2,978.5 814.2,978.5 816.2,978.5 818.2,979.5 820.2,979.5 822.2,979.5 824.2,979.5 826.2,979.5 827.4,979.5 828.2,979.5 830.2,979.5 832.2,979.5 834.2,979.5 836.2,978.5 838.2,978.5 840.1,978.5 840.2,978.5 842.2,979.5 844.2,979.5 846.2,980.5 846.4,980.5 848.2,980.5 850.2,980.5 852.2,980.5 854.2,980.5 856.2,980.5 856.6,980.5 858.2,980.5 860.2,980.5 862.2,980.5 864.2,979.5 866.2,979.5 868.2,979.5 870.2,978.5 872.2,978.5 874.2,977.5 874.3,977.5 876.2,977.5 878.2,976.5 880.2,976.5 882.2,975.5 884.2,974.5 885,974.5 886.2,974.5 888.2,975.5 890.2,975.5 892.2,976.5 894.2,977.5 895.2,977.5 896.2,978.5 898.2,978.5 900.2,978.5 902.2,978.5 904.2,978.5 906.2,978.5 908.2,978.5 909.2,978.5 910.2,978.5 912.2,976.5 914.2,975.5 916.2,974.5 916.8,974.5 918.2,974.5 920.2,974.5 922.2,974.5 924.2,974.5 926.2,974.5 928.2,974.5 930.2,974.5 932.2,974.5 934.2,974.5 936.2,974.5 938.2,974.5 940.2,974.5 942.2,974.5 943.5,974.5 944.2,974.5 946.2,975.5 948.2,975.5 950.2,976.5 951.1,977.5 952.2,976.5 954.2,976.5 956.2,977.5 958.2,977.5 960.2,976.5 962.2,976.5 963.8,976.5 964.2,976.5 966.2,976.5 968.2,975.5 970.2,974.5 972.2,973.5 974.2,972.5 976.2,971.5 976.5,971.5 978.2,971.5 980.2,971.5 982.2,971.5 984.2,971.5 986.2,971.5 988.2,971.5 990.2,971.5 992.2,971.5 994.2,971.5 994.3,971.5 996.2,973.5 998.2,975.5 1000.2,976.5 1002.2,978.5 1003.8,979.5" fill="none" stroke="#0000c8" stroke-width="1"/>
<polyline points="758.2,969.5 760.2,969.5 762.2,969.5 764.2,969.5 766.2,969.5 768.2,969.5 770.2,969.5 772.2,969.5 774.2,969.5 775.3,969.5 776.2,969.5 778.2,969.5 780.2,968.5 781.7,968.5 782.2,968.5 784.2,969.5 786.2,969.5 788.2,970.5 790.2,971.5 791.8,971.5 792.2,972.5 794.2,972.5 796.2,974.5 798.2,975.5 800.2,974.5 802.2,974.5 804.2,973.5 806.2,973.5 807.1,973.5 808.2,973.5 810.2,973.5 812.2,973.5 814.2,973.5 816.2,973.5 818.2,973.5 820.2,973.5 822.2,973.5 823.6,973.5 824.2,973.5 826.2,973.5 828.2,973.5 830.2,974.5 831.2,973.5 832.2,973.5 834.2,971.5 836.2,970.5 838.2,971.5 840.2,970.5 841.3,971.5 842.2,972.5 844.2,973.5 846.2,975.5 848.2,976.5 849,977.5 850.2,977.5 852.2,976.5 854.2,976.5 856.2,976.5 858.2,976.5 860.2,976.5 862.2,976.5 862.9,976.5 864.2,976.5 866.2,975.5 868.2,975.5 870.2,974.5 872.2,973.5 874.2,973.5 876.2,972.5 876.9,972.5 878.2,971.5 880.2,971.5 882.2,970.5 884.2,969.5 885,969.5 886.2,969.5 887.6,969.5 888.2,970.5 890.2,970.5 892.2,971.5 894.2,972.5 895.2,972.5 896.2,972.5 898.2,972.5 900.2,972.5 902.2,973.5 904.2,972.5 906.2,972.5 908.2,972.5 910.2,972.5 911.7,972.5 912.2,972.5 914.2,972.5 916.2,971.5 918.1,970.5 918.2,970.5 920.2,970.5 922.2,971.5 924.2,970.5 926.2,970.5 928.2,970.5 930.2,970.5 932.2,970.5 934.2,971.5 936.2,971.5 938.2,970.5 940.2,970.5 942.2,970.5 944.2,970.5 946,970.5 946.2,970.5 948.2,971.5 950.2,972.5 951.1,973.5 952.2,973.5 954.2,972.5 956.2,971.5 958.2,971.5 960.2,971.5 962.2,970.5 964.2,970.5 966.2,970.5 968.2,970.5 968.9,970.5 970.2,969.5 972.2,969.5 974.2,969.5 976.2,969.5 976.5,969.5 978.2,969.5 980.2,969.5 982.2,969.5 984.2,969.5 986.2,969.5 988.2,969.5 990.2,969.5 992.2,969.5 994.2,969.5 994.3,968.5 996.2,970.5 998.1,972.5 998.2,972.5 1000.2,973.5 1002.2,974.5 1003.8,975.5" fill="none" stroke="#000000" stroke-width="1"/>
<polyline points="758.2,971.5 760.2,971.5 762.2,971.5 764.2,971.5 766.2,971.5 768.2,971.5 770.2,972.5 772.2,971.5 774.2,971.5 776.2,972.5 778.2,971.5 780.2,972.5 782.2,972.5 784.2,972.5 786.2,972.5 788.2,972.5 790.2,972.5 791.8,972.5 792.2,973.5 794.2,974.5 796.2,975.5 798.2,977.5 800.2,977.5 802.2,976.5 804.2,975.5 806.2,974.5 807.1,974.5 808.2,975.5 810.2,975.5 812.2,975.5 814.2,976.5 816.2,976.5 818.2,976.5 820.2,976.5 822.2,976.5 824.2,977.5 826.1,977.5 826.2,977.5 828.2,976.5 830.2,975.5 832.2,974.5 834.2,973.5 836.2,972.5 838.2,973.5 840.2,974.5 842.2,976.5 844.2,977.5 846.2,978.5 848.2,979.5 849,979.5 850.2,979.5 852.2,979.5 854.2,979.5 856.2,979.5 858.2,978.5 860.2,978.5 862.2,978.5 862.9,978.5 864.2,978.5 866.2,977.5 868.2,976.5 870.2,976.5 872.2,975.5 874.2,975.5 876.2,974.5 876.9,973.5 878.2,973.5 880.2,972.5 882.2,971.5 884.2,971.5 885,970.5 886.2,971.5 888.2,972.5 890.2,973.5 892.2,974.5 894.2,975.5 895.2,976.5 896.2,976.5 898.2,976.5 900.2,977.5 902.2,977.5 904.2,977.5 906.2,977.5 908.2,978.5 909.2,978.5 910.2,977.5 912.2,976.5 914.2,975.5 915.5,975.5 916.2,975.5 918.2,974.5 920.2,974.5 922.2,974.5 924.2,974.5 926.2,974.5 928.2,974.5 930.2,974.5 932.2,974.5 934.2,974.5 936.2,973.5 938.2,973.5 940.2,973.5 942.2,973.5 944.2,973.5 946.2,972.5 948.2,972.5 948.6,972.5 950.2,973.5 952.2,973.5 954.2,974.5 956.2,974.5 958.2,974.5 960.2,974.5 962.2,973.5 964.2,973.5 966.2,972.5 968.2,972.5 968.9,972.5 970.2,971.5 972.2,971.5 974.2,971.5 976.2,970.5 976.5,970.5 978.2,970.5 980.2,970.5 982.2,970.5 984.2,970.5 986.2,971.5 988.2,971.5 990.2,971.5 992.2,971.5 994.2,971.5 994.3,971.5 996.2,972.5 998.2,974.5 1000.2,975.5 1002.2,977.5 1003.8,978.5" fill="none" stroke="#000000" stroke-width="1"/>
<polyline points="20,882.5 22,882.5 24,883.5 26,881.5 28,879.5 30,877.5 32,878.5 34,878.5 36,878.5 38,878.5 40,879.5 41,879.5 42,880.5 44,880.5 45.5,881.5" fill="none" stroke="#0000c8" stroke-width="1"/>
<polyline points="20,883.5 22,882.5 24,882.5 26,882.5 28,880.5 30,879.5 32,879.5 34,879.5 36,879.5 38,879.5 40,881.5 42,882.5 44,884.5 45.5,886.5" fill="none" stroke="#0000c8" stroke-width="1"/>
<polyline points="20,889.5 22,889.5 24,889.5 25,889.5 26,888.5 28,887.5 30,887.5 32,886.5 33,886.5 34,885.5 36,884.5 38,886.5 40,888.5 42,892.5 44,893.5 45.5,894.5" fill="none" stroke="#000000" stroke-width="1"/>
<polyline points="20,889.5 22,889.5 24,889.5 25,889.5 26,888.5 28,887.5 30,887.5 32,886.5 33,886.5 34,886.5 36,885.5 38,885.5 39,885.5 40,886.5 42,888.5 44,888.5 45.5,888.5" fill="none" stroke="#000000" stroke-width="1"/>
<polyline points="20,995.5 22,995.5 24,995.5 25,994.5 26,994.5 28,993.5 30,993.5 32,992.5 33,992.5 34,992.5 36,992.5 38,992.5 40,991.5 42,991.5 44,991.5 45,991.5" fill="none" stroke="#0000c8" stroke-width="1"/>
<polyline points="20,1003.5 22,1003.5 24,1003.5 26,1003.5 28,1001.5 30,999.5 32,997.5 33,996.5 34,997.5 36,998.5 38,998.5 40,1000.5 41,1000.5 42,999.5 44,996.5" fill="none" stroke="#0000c8" stroke-width="1"/>
<polyline points="20,999.5 22,999.5 24,999.5 26,999.5 28,999.5 30,997.5 31,997.5 32,996.5 34,994.5 36,995.5 37,995.5 38,995.5 40,995.5 42,995.5 44,992.5 45,989.5" fill="none" stroke="#000000" stroke-width="1"/>
<polyline points="20,1002.5 22,1002.5 24,1002.5 26,1002.5 28,1001.5 30,1000.5 31,999.5 32,998.5 34,996.5 36,996.5 38,996.5 40,996.5 42,996.5" fill="none" stroke="#000000" stroke-width="1"/>
<polyline points="679,911.5 681,910.5 683,911.5" fill="none" stroke="#0000c8" stroke-width="1"/>
<polyline points="679,915.5 682,916.5 680,917.5 683,918.5" fill="none" stroke="#000000" stroke-width="1"/>
<polyline points="679,965.5 683,965.5" fill="none" stroke="#0000c8" stroke-width="1"/>
<polyline points="679,967.5 683,967.5" fill="none" stroke="#0000c8" stroke-width="1"/>
<polyline points="679,968.5 683,968.5" fill="none" stroke="#000000" stroke-width="1"/>
<line x1="20" y1="1145.5" x2="46" y2="1145.5" stroke="#986464" stroke-width="1"/>
<line x1="20" y1="1152.5" x2="46" y2="1152.5" stroke="#986464" stroke-width="1"/>
<line x1="109" y1="1145.5" x2="623" y2="1145.5" stroke="#986464" stroke-width="1"/>
<line x1="109" y1="1152.5" x2="623" y2="1152.5" stroke="#986464" stroke-width="1"/>
<line x1="679" y1="1145.5" x2="683" y2="1145.5" stroke="#986464" stroke-width="1"/>
<line x1="679" y1="1152.5" x2="683" y2="1152.5" stroke="#986464" stroke-width="1"/>
<line x1="759" y1="1145.5" x2="1004" y2="1145.5" stroke="#986464" stroke-width="1"/>
<line x1="759" y1="1152.5" x2="1004" y2="1152.5" stroke="#986464" stroke-width="1"/>
<line x1="20" y1="1222.5" x2="45" y2="1222.5" stroke="#986464" stroke-width="1"/>
<line x1="20" y1="1229.5" x2="45" y2="1229.5" stroke="#986464" stroke-width="1"/>
<line x1="109" y1="1222.5" x2="623" y2="1222.5" stroke="#986464" stroke-width="1"/>
<line x1="109" y1="1229.5" x2="623" y2="1229.5" stroke="#986464" stroke-width="1"/>
<line x1="679" y1="1222.5" x2="683" y2="1222.5" stroke="#986464" stroke-width="1"/>
<line x1="679" y1="1229.5" x2="683" y2="1229.5" stroke="#986464" stroke-width="1"/>
<line x1="759" y1="1222.5" x2="1004" y2="1222.5" stroke="#986464" stroke-width="1"/>
<line x1="759" y1="1229.5" x2="1004" y2="1229.5" stroke="#986464" stroke-width="1"/>
<polyline points="108.9,1139.5 110.9,1144.5 111.2,1144.5 112.9,1145.5 114.9,1146.5 115.5,1146.5 116.9,1146.5 118.9,1147.5 119.1,1147.5 120.8,1151.5 120.9,1151.5 122.9,1154.5 124.3,1156.5 124.9,1156.5 126.9,1156.5 128.9,1155.5 130.9,1155.5 131.4,1155.5 132.9,1154.5 134.9,1154.5 136.9,1153.5 138.4,1153.5 138.9,1152.5 140.9,1148.5 142.8,1145.5 142.9,1146.5 144.9,1145.5 146.9,1144.5 147.2,1143.5 148.9,1144.5 150.9,1144.5 152.5,1144.5 152.9,1145.5 154.9,1146.5 156.9,1146.5 157.7,1147.5 158.9,1147.5 160.9,1146.5 162.9,1146.5 164.9,1146.5 166.5,1146.5 166.9,1146.5 168.9,1147.5 170.9,1148.5 172.9,1149.5 174.9,1150.5 175.3,1150.5 176.9,1149.5 178.9,1147.5 180.6,1146.5 180.9,1146.5 182.9,1147.5 184.9,1147.5 186.9,1147.5 188.9,1148.5 189.4,1148.5 190.9,1147.5 192.9,1146.5 194.6,1145.5 194.9,1145.5 196.9,1145.5 198.9,1145.5 200.9,1146.5 202.9,1146.5 203.4,1146.5 204.9,1144.5 206.9,1142.5 207.8,1141.5 208.9,1142.5 210.9,1144.5 212.2,1145.5 212.9,1146.5 214.9,1147.5 216.9,1148.5 217.5,1149.5 218.9,1154.5 220.9,1161.5 221,1161.5 222.9,1168.5 224.5,1175.5 224.9,1175.5 226.9,1175.5 228.9,1176.5 230.9,1177.5 231.6,1177.5 232.9,1176.5 234.9,1174.5 236.9,1173.5 238.6,1171.5 238.9,1171.5 240.9,1171.5 242.9,1171.5 244.9,1171.5 246.9,1171.5 248.9,1171.5 250.9,1171.5 252.9,1171.5 254.4,1171.5 254.9,1171.5 256.9,1172.5 258.9,1173.5 260.9,1174.5 262.9,1174.5 264.9,1175.5 266.9,1176.5 268.5,1176.5 268.9,1176.5 270.9,1174.5 272.9,1173.5 274.9,1171.5 276.9,1169.5 277.3,1169.5 278.9,1170.5 280.9,1171.5 282.9,1172.5 284.9,1173.5 285,1173.5 286.9,1171.5 288.9,1170.5 290.9,1168.5 292.3,1167.5 292.9,1167.5 294.9,1169.5 296.9,1171.5 297.6,1172.5 298.9,1172.5 300.9,1172.5 302.9,1172.5 304.9,1173.5 306.4,1173.5 306.9,1172.5 308.9,1171.5 310.9,1170.5 312.5,1169.5 312.9,1170.5 314.9,1171.5 316.9,1172.5 318.9,1174.5 319.6,1174.5 320.9,1174.5 322.9,1174.5 324.9,1174.5 326.9,1173.5 327.5,1173.5 328.9,1172.5 330.9,1170.5 332.9,1169.5 334.5,1167.5 334.9,1167.5 336.9,1167.5 338.9,1167.5 340.9,1167.5 342.9,1168.5 344.9,1168.5 345,1168.5 346.9,1170.5 348.9,1173.5 350.9,1176.5 352.1,1177.5 352.9,1177.5 354.9,1178.5 356.9,1178.5 358.9,1178.5 360.9,1179.5 362.9,1178.5 364.9,1177.5 366.9,1177.5 368.9,1176.5 370.9,1175.5 372.9,1174.5 374.9,1173.5 376.9,1174.5 378.9,1175.5 380.9,1176.5 382.9,1177.5 384.9,1178.5 385.5,1178.5 386.9,1178.5 388.9,1178.5 390.9,1178.5 392.9,1178.5 394.9,1178.5 396.9,1178.5 398.9,1178.5 400.9,1178.5 402.9,1177.5 403,1177.5 404.9,1177.5 406.9,1176.5 408.9,1176.5 410.9,1176.5 412.9,1176.5 414.9,1176.5 416.9,1176.5 418.9,1176.5 420.9,1176.5 422.9,1175.5 424.1,1175.5 424.9,1175.5 426.9,1174.5 428.9,1174.5 430.9,1174.5 432.9,1173.5 434.7,1172.5 434.9,1172.5 436.9,1174.5 438.9,1176.5 440.9,1177.5 442.9,1179.5 444.9,1180.5 445.2,1180.5 446.9,1180.5 448.9,1180.5 450.9,1180.5 452.9,1180.5 454.9,1180.5 456.9,1180.5 458.9,1180.5 460,1179.5 460.9,1179.5 462.9,1179.5 464.9,1179.5 466.9,1179.5 468.9,1179.5 470.9,1179.5 472.9,1179.5 474.9,1178.5 476.9,1177.5 478.9,1176.5 479.9,1176.5 480.9,1176.5 482.9,1175.5 484.9,1174.5 486.9,1174.5 488.7,1173.5 488.9,1173.5 490.9,1174.5 492.9,1174.5 494.9,1175.5 496.9,1175.5 498.9,1176.5 500.9,1176.5 501,1176.5 502.9,1176.5 504.9,1176.5 506.9,1177.5 508.9,1177.5 510.9,1177.5 511.5,1177.5 512.9,1176.5 514.9,1176.5 516.9,1175.5 518.9,1174.5 520.9,1174.5 522.1,1173.5 522.9,1174.5 524.9,1174.5 526.9,1174.5 528.9,1174.5 530.9,1175.5 532.6,1175.5 532.9,1175.5 534.9,1176.5 536.9,1177.5 538.9,1177.5 540.9,1179.5 541.4,1179.5 542.9,1179.5 544.9,1179.5 546.9,1178.5 548.9,1178.5 550.9,1178.5 552.9,1178.5 553.7,1178.5 554.9,1178.5 556.9,1178.5 558.9,1177.5 560.9,1177.5 562.9,1177.5 564.9,1177.5 566.9,1177.5 568.9,1177.5 569.5,1177.5 570.9,1174.5 572.9,1170.5 573.9,1169.5 574.9,1171.5 576.9,1175.5 578.3,1178.5 578.9,1178.5 580.9,1178.5 582.9,1178.5 584.9,1178.5 586.9,1178.5 588.9,1178.5 590.9,1178.5 592.9,1178.5 594.9,1179.5 595.9,1179.5 596.9,1178.5 598.9,1177.5 600.9,1176.5 602.9,1175.5 604.9,1174.5 606.9,1174.5 608.9,1173.5 610.9,1173.5 611.7,1172.5 612.9,1174.5 614.9,1177.5 616.1,1178.5 616.9,1178.5 618.9,1178.5 620.9,1178.5 622.9,1178.5 623.1,1178.5" fill="none" stroke="#000000" stroke-width="1"/>
<polyline points="108.9,1141.5 110.9,1145.5 111.2,1145.5 112.9,1145.5 114.9,1146.5 115.5,1146.5 116.9,1146.5 118.9,1146.5 119.1,1146.5 120.8,1150.5 120.9,1151.5 122.9,1152.5 124.3,1154.5 124.9,1154.5 126.9,1154.5 128.9,1154.5 130.9,1154.5 131.4,1153.5 132.9,1153.5 134.9,1153.5 136.9,1152.5 138.4,1152.5 138.9,1151.5 140.9,1148.5 142.8,1145.5 142.9,1145.5 144.9,1145.5 146.9,1144.5 147.2,1144.5 148.9,1145.5 150.9,1146.5 152.5,1146.5 152.9,1146.5 154.9,1147.5 156.9,1148.5 157.7,1148.5 158.9,1148.5 160.9,1148.5 162.9,1148.5 164.9,1148.5 166.5,1148.5 166.9,1148.5 168.9,1149.5 170.9,1150.5 172.9,1150.5 174.9,1151.5 175.3,1152.5 176.9,1150.5 178.9,1149.5 180.6,1148.5 180.9,1148.5 182.9,1148.5 184.9,1149.5 186.9,1149.5 188.9,1150.5 189.4,1150.5 190.9,1148.5 192.9,1146.5 194.6,1144.5 194.9,1144.5 196.9,1144.5 198.9,1144.5 200.9,1145.5 202.9,1145.5 203.4,1145.5 204.9,1143.5 206.9,1141.5 207.8,1140.5 208.9,1141.5 210.9,1144.5 212.2,1145.5 212.9,1146.5 214.9,1147.5 216.9,1149.5 217.5,1149.5 218.9,1155.5 220.9,1162.5 221,1162.5 222.9,1169.5 224.5,1175.5 224.9,1175.5 226.9,1175.5 228.9,1175.5 230.9,1176.5 231.6,1176.5 232.9,1174.5 234.9,1173.5 236.9,1172.5 238.6,1171.5 238.9,1171.5 240.9,1172.5 242.9,1172.5 244.9,1172.5 246.9,1172.5 248.9,1171.5 250.9,1171.5 252.9,1171.5 254.4,1171.5 254.9,1171.5 256.9,1171.5 258.9,1172.5 260.9,1173.5 262.9,1174.5 264.9,1176.5 266.9,1177.5 268.5,1177.5 268.9,1177.5 270.9,1175.5 272.9,1172.5 274.9,1170.5 276.9,1169.5 277.3,1168.5 278.9,1168.5 280.9,1168.5 282.9,1169.5 284.9,1171.5 285,1171.5 286.9,1170.5 288.9,1169.5 290.9,1168.5 292.3,1166.5 292.9,1167.5 294.9,1169.5 296.9,1172.5 297.6,1173.5 298.9,1172.5 300.9,1173.5 302.9,1173.5 304.9,1174.5 306.4,1174.5 306.9,1173.5 308.9,1172.5 310.9,1171.5 312.5,1170.5 312.9,1170.5 314.9,1172.5 316.9,1172.5 318.9,1174.5 319.6,1174.5 320.9,1174.5 322.9,1174.5 324.9,1174.5 326.9,1173.5 327.5,1173.5 328.9,1172.5 330.9,1171.5 332.9,1169.5 334.5,1167.5 334.9,1168.5 336.9,1168.5 338.9,1168.5 340.9,1168.5 342.9,1167.5 344.9,1167.5 345,1167.5 346.9,1169.5 348.9,1172.5 350.9,1174.5 352.1,1176.5 352.9,1176.5 354.9,1176.5 356.9,1177.5 358.9,1177.5 360.9,1178.5 362.9,1177.5 364.9,1177.5 366.9,1176.5 368.9,1175.5 370.9,1175.5 372.9,1174.5 374.9,1174.5 376.9,1175.5 378.9,1176.5 380.9,1176.5 382.9,1177.5 384.9,1178.5 385.5,1178.5 386.9,1178.5 388.9,1177.5 390.9,1177.5 392.9,1176.5 394.9,1176.5 396.9,1176.5 398.9,1176.5 400.9,1177.5 402.9,1177.5 403,1177.5 404.9,1177.5 406.9,1176.5 408.9,1176.5 410.9,1175.5 412.9,1174.5 414.9,1174.5 416.9,1174.5 418.9,1174.5 420.9,1173.5 422.9,1173.5 424.1,1173.5 424.9,1173.5 426.9,1173.5 428.9,1172.5 430.9,1172.5 432.9,1171.5 434.7,1171.5 434.9,1172.5 436.9,1173.5 438.9,1175.5 440.9,1177.5 442.9,1178.5 444.9,1180.5 445.2,1180.5 446.9,1180.5 448.9,1180.5 450.9,1180.5 452.9,1180.5 454.9,1181.5 456.9,1182.5 458.9,1182.5 460,1182.5 460.9,1182.5 462.9,1182.5 464.9,1181.5 466.9,1181.5 468.9,1181.5 470.9,1181.5 472.9,1180.5 474.9,1179.5 476.9,1178.5 478.9,1177.5 479.9,1176.5 480.9,1176.5 482.9,1175.5 484.9,1174.5 486.9,1174.5 488.7,1173.5 488.9,1174.5 490.9,1174.5 492.9,1175.5 494.9,1176.5 496.9,1176.5 498.9,1177.5 500.9,1177.5 501,1177.5 502.9,1177.5 504.9,1178.5 506.9,1178.5 508.9,1178.5 510.9,1178.5 511.5,1177.5 512.9,1177.5 514.9,1176.5 516.9,1176.5 518.9,1175.5 520.9,1174.5 522.1,1174.5 522.9,1174.5 524.9,1174.5 526.9,1174.5 528.9,1174.5 530.9,1175.5 532.6,1175.5 532.9,1175.5 534.9,1176.5 536.9,1177.5 538.9,1178.5 540.9,1179.5 541.4,1179.5 542.9,1179.5 544.9,1179.5 546.9,1178.5 548.9,1178.5 550.9,1179.5 552.9,1179.5 553.7,1178.5 554.9,1178.5 556.9,1178.5 558.9,1177.5 560.9,1177.5 562.9,1176.5 564.9,1176.5 566.9,1176.5 568.9,1176.5 569.5,1176.5 570.9,1174.5 572.9,1170.5 573.9,1169.5 574.9,1170.5 576.9,1174.5 578.3,1177.5 578.9,1177.5 580.9,1177.5 582.9,1178.5 584.9,1179.5 586.9,1179.5 588.9,1179.5 590.9,1179.5 592.9,1180.5 594.9,1180.5 595.9,1180.5 596.9,1179.5 598.9,1179.5 600.9,1178.5 602.9,1176.5 604.9,1174.5 606.9,1173.5 608.9,1172.5 610.9,1171.5 611.7,1170.5 612.9,1172.5 614.9,1174.5 616.1,1176.5 616.9,1176.5 618.9,1177.5 620.9,1178.5 622.9,1178.5 623.1,1178.5" fill="none" stroke="#000000" stroke-width="1"/>
<polyline points="108.9,1142.5 110.9,1145.5 112,1147.5 112.9,1147.5 114.9,1148.5 116.9,1150.5 118.9,1151.5 119.1,1151.5 120.9,1156.5 121.7,1158.5 122.9,1158.5 124.3,1158.5 124.9,1158.5 126.9,1158.5 128.9,1157.5 130.9,1157.5 132.9,1157.5 133.1,1157.5 134.9,1157.5 136.9,1157.5 138.9,1157.5 139.3,1157.5 140.9,1152.5 142.8,1146.5 142.9,1147.5 144.9,1146.5 146.9,1146.5 148.9,1146.5 149,1146.5 150.9,1146.5 152.9,1147.5 154.9,1147.5 156.9,1147.5 157.7,1148.5 158.9,1148.5 160.9,1148.5 162.9,1149.5 164.9,1149.5 166.9,1149.5 168.9,1150.5 170.9,1151.5 172.9,1151.5 174.4,1152.5 174.9,1151.5 176.9,1150.5 178.9,1149.5 180.6,1148.5 180.9,1148.5 182.9,1148.5 184.9,1149.5 186.9,1149.5 188.9,1149.5 189.4,1149.5 190.9,1149.5 192.9,1149.5 194.9,1148.5 196.9,1147.5 198.9,1147.5 200.9,1147.5 202.9,1147.5 204.9,1147.5 205.2,1147.5 206.9,1146.5 208.9,1146.5 210.5,1147.5 210.9,1147.5 212.9,1149.5 214.9,1150.5 216.9,1152.5 217.5,1153.5 218.9,1159.5 220.9,1169.5 221.9,1174.5 222.9,1174.5 224.9,1174.5 226.9,1175.5 228.9,1176.5 230.9,1176.5 231.6,1176.5 232.9,1175.5 234.9,1173.5 236.9,1172.5 238.6,1171.5 238.9,1171.5 240.9,1171.5 242.9,1171.5 244.9,1172.5 246.9,1171.5 248.9,1171.5 250.9,1172.5 252.9,1172.5 254.4,1172.5 254.9,1172.5 256.9,1172.5 258.9,1172.5 260.9,1173.5 262.9,1173.5 264.9,1174.5 266.9,1174.5 268.5,1175.5 268.9,1175.5 270.9,1174.5 272.9,1174.5 274.9,1174.5 276.9,1174.5 278.9,1174.5 280.9,1173.5 282.9,1173.5 284.9,1173.5 285,1173.5 286.9,1171.5 288.9,1169.5 290.9,1167.5 292.3,1166.5 292.9,1167.5 294.9,1169.5 296.9,1171.5 297.6,1171.5 298.9,1172.5 300.9,1172.5 302.9,1172.5 304.6,1173.5 304.9,1173.5 306.9,1172.5 308.9,1171.5 310.9,1170.5 312.5,1169.5 312.9,1170.5 314.9,1171.5 316.9,1172.5 318.7,1173.5 318.9,1174.5 320.9,1173.5 322.9,1172.5 324.9,1172.5 326.9,1172.5 327.5,1172.5 328.9,1171.5 330.9,1169.5 332.9,1168.5 334.5,1166.5 334.9,1166.5 336.9,1167.5 338.9,1167.5 340.9,1167.5 342.9,1167.5 344.9,1167.5 345,1166.5 346.9,1168.5 348.9,1170.5 350.9,1172.5 352.1,1174.5 352.9,1174.5 354.9,1174.5 356.9,1174.5 358.9,1175.5 360.9,1175.5 362.9,1175.5 364.9,1175.5 366.9,1175.5 367.9,1175.5 368.9,1175.5 370.9,1175.5 372.9,1174.5 374.9,1174.5 376.7,1173.5 376.9,1174.5 378.9,1174.5 380.9,1174.5 382.9,1174.5 384.9,1174.5 386.9,1174.5 387.2,1174.5 388.9,1173.5 390.9,1172.5 392.9,1170.5 394.3,1169.5 394.9,1168.5 396.9,1168.5 398.9,1169.5 400.9,1169.5 402.9,1169.5 404.9,1169.5 406.9,1169.5 408.9,1169.5 410.9,1169.5 412.9,1169.5 414.9,1169.5 416.9,1169.5 418.9,1170.5 420.9,1170.5 422.9,1170.5 424.1,1170.5 424.9,1170.5 426.9,1169.5 428.9,1169.5 430.9,1167.5 432.9,1167.5 434.9,1166.5 436.4,1165.5 436.9,1166.5 438.9,1168.5 440.9,1170.5 442.9,1173.5 444.4,1175.5 444.9,1175.5 446.9,1174.5 448.9,1172.5 450.9,1172.5 452.9,1171.5 454,1171.5 454.9,1171.5 456.9,1171.5 458.9,1172.5 460,1172.5 460.9,1172.5 462.9,1172.5 464.9,1172.5 466.9,1173.5 468.9,1173.5 470.9,1173.5 472.9,1173.5 474.9,1171.5 476.4,1170.5 476.9,1169.5 478.9,1169.5 480.9,1168.5 482.9,1168.5 484.9,1168.5 486.9,1168.5 488.9,1168.5 490.9,1169.5 492.9,1169.5 494.9,1169.5 496.9,1170.5 498.9,1171.5 499.2,1171.5 500.9,1171.5 502.9,1171.5 504.9,1171.5 506.9,1171.5 508.9,1171.5 510.9,1171.5 511.5,1170.5 512.9,1170.5 514.9,1170.5 516.9,1169.5 518.9,1168.5 520.9,1167.5 522.1,1167.5 522.9,1167.5 524.9,1168.5 526.9,1169.5 528.9,1169.5 530.9,1170.5 532.6,1170.5 532.9,1171.5 534.9,1171.5 536.9,1172.5 538.9,1172.5 540.9,1173.5 542.9,1173.5 544.9,1174.5 546.9,1174.5 548.9,1173.5 550.9,1172.5 552,1172.5 552.9,1172.5 554.9,1172.5 556.9,1173.5 557.2,1174.5 558.9,1172.5 560.9,1171.5 562.5,1170.5 562.9,1170.5 564.9,1172.5 566.9,1173.5 568.9,1174.5 569.5,1174.5 570.9,1172.5 572.9,1168.5 573.9,1166.5 574.9,1167.5 576.9,1169.5 578.3,1171.5 578.9,1171.5 580.9,1171.5 582.9,1172.5 584.9,1172.5 586.9,1172.5 588.9,1172.5 590.6,1172.5 590.9,1172.5 592.9,1171.5 594.9,1170.5 596.9,1169.5 598.9,1168.5 600.9,1168.5 602.9,1167.5 604.9,1166.5 606.9,1166.5 608.9,1166.5 610.9,1166.5 611.7,1165.5 612.9,1167.5 614.9,1170.5 616.1,1172.5 616.9,1172.5 618.9,1171.5 620.9,1171.5 622.9,1170.5 623.1,1170.5" fill="none" stroke="#b90000" stroke-width="1"/>
<polyline points="108.9,1144.5 110.9,1147.5 112,1148.5 112.9,1149.5 114.9,1149.5 116.9,1150.5 118.9,1151.5 119.1,1151.5 120.9,1156.5 121.7,1158.5 122.9,1158.5 124.3,1158.5 124.9,1158.5 126.9,1158.5 128.9,1157.5 130.9,1156.5 132.9,1155.5 133.1,1156.5 134.9,1155.5 136.9,1156.5 138.9,1156.5 139.3,1155.5 140.9,1151.5 142.8,1145.5 142.9,1145.5 144.9,1146.5 146.9,1146.5 148.9,1146.5 149,1146.5 150.9,1147.5 152.9,1147.5 154.9,1147.5 156.9,1148.5 157.7,1148.5 158.9,1148.5 160.9,1149.5 162.9,1149.5 164.9,1150.5 166.9,1150.5 168.9,1151.5 170.9,1151.5 172.9,1151.5 174.4,1150.5 174.9,1150.5 176.9,1149.5 178.9,1147.5 180.6,1147.5 180.9,1147.5 182.9,1147.5 184.9,1148.5 186.9,1148.5 188.9,1148.5 189.4,1149.5 190.9,1148.5 192.9,1148.5 194.9,1148.5 196.9,1147.5 198.9,1147.5 200.9,1147.5 202.9,1147.5 204.9,1146.5 205.2,1146.5 206.9,1146.5 208.9,1146.5 210.5,1145.5 210.9,1146.5 212.9,1148.5 214.9,1149.5 216.9,1151.5 217.5,1151.5 218.9,1158.5 220.9,1168.5 221.9,1172.5 222.9,1173.5 224.9,1174.5 226.9,1174.5 228.9,1175.5 230.9,1176.5 231.6,1176.5 232.9,1176.5 234.9,1174.5 236.9,1172.5 238.6,1170.5 238.9,1170.5 240.9,1171.5 242.9,1171.5 244.9,1171.5 246.9,1171.5 248.9,1171.5 250.9,1171.5 252.9,1171.5 254.4,1171.5 254.9,1171.5 256.9,1171.5 258.9,1172.5 260.9,1173.5 262.9,1173.5 264.9,1174.5 266.9,1175.5 268.5,1176.5 268.9,1176.5 270.9,1176.5 272.9,1175.5 274.9,1175.5 276.9,1174.5 278.9,1173.5 280.9,1173.5 282.9,1173.5 284.9,1173.5 285,1173.5 286.9,1172.5 288.9,1169.5 290.9,1168.5 292.3,1167.5 292.9,1167.5 294.9,1170.5 296.9,1172.5 297.6,1173.5 298.9,1172.5 300.9,1172.5 302.9,1172.5 304.6,1172.5 304.9,1172.5 306.9,1171.5 308.9,1170.5 310.9,1169.5 312.5,1168.5 312.9,1168.5 314.9,1170.5 316.9,1171.5 318.7,1173.5 318.9,1173.5 320.9,1172.5 322.9,1172.5 324.9,1172.5 326.9,1171.5 327.5,1171.5 328.9,1170.5 330.9,1169.5 332.9,1168.5 334.5,1167.5 334.9,1167.5 336.9,1167.5 338.9,1166.5 340.9,1166.5 342.9,1166.5 344.9,1166.5 345,1166.5 346.9,1168.5 348.9,1170.5 350.9,1171.5 352.1,1172.5 352.9,1172.5 354.9,1172.5 356.9,1172.5 358.9,1173.5 360.9,1173.5 362.9,1173.5 364.9,1173.5 366.9,1174.5 367.9,1174.5 368.9,1174.5 370.9,1174.5 372.9,1174.5 374.9,1174.5 376.7,1174.5 376.9,1174.5 378.9,1174.5 380.9,1175.5 382.9,1174.5 384.9,1174.5 386.9,1174.5 387.2,1174.5 388.9,1173.5 390.9,1171.5 392.9,1169.5 394.3,1168.5 394.9,1168.5 396.9,1168.5 398.9,1168.5 400.9,1168.5 402.9,1168.5 404.9,1168.5 406.9,1168.5 408.9,1168.5 410.9,1168.5 412.9,1168.5 414.9,1169.5 416.9,1169.5 418.9,1169.5 420.9,1169.5 422.9,1169.5 424.1,1169.5 424.9,1169.5 426.9,1168.5 428.9,1167.5 430.9,1167.5 432.9,1166.5 434.9,1165.5 436.4,1164.5 436.9,1165.5 438.9,1167.5 440.9,1170.5 442.9,1172.5 444.4,1173.5 444.9,1173.5 446.9,1173.5 448.9,1173.5 450.9,1172.5 452.9,1172.5 454,1172.5 454.9,1172.5 456.9,1172.5 458.9,1172.5 460,1172.5 460.9,1172.5 462.9,1172.5 464.9,1172.5 466.9,1172.5 468.9,1173.5 470.9,1173.5 472.9,1174.5 474.9,1171.5 476.4,1169.5 476.9,1169.5 478.9,1169.5 480.9,1168.5 482.9,1168.5 484.9,1167.5 486.9,1167.5 488.9,1167.5 490.9,1167.5 492.9,1168.5 494.9,1168.5 496.9,1169.5 498.9,1170.5 499.2,1170.5 500.9,1170.5 502.9,1170.5 504.9,1170.5 506.9,1170.5 508.9,1170.5 510.9,1170.5 511.5,1171.5 512.9,1170.5 514.9,1169.5 516.9,1168.5 518.9,1168.5 520.9,1167.5 522.1,1166.5 522.9,1167.5 524.9,1167.5 526.9,1168.5 528.9,1169.5 530.9,1169.5 532.6,1170.5 532.9,1170.5 534.9,1170.5 536.9,1171.5 538.9,1172.5 540.9,1172.5 542.9,1173.5 544.9,1173.5 546.9,1172.5 548.9,1171.5 550.9,1171.5 552,1171.5 552.9,1171.5 554.9,1172.5 556.9,1173.5 557.2,1173.5 558.9,1172.5 560.9,1170.5 562.5,1169.5 562.9,1169.5 564.9,1170.5 566.9,1172.5 568.9,1173.5 569.5,1173.5 570.9,1170.5 572.9,1166.5 573.9,1164.5 574.9,1165.5 576.9,1168.5 578.3,1170.5 578.9,1170.5 580.9,1170.5 582.9,1170.5 584.9,1170.5 586.9,1170.5 588.9,1170.5 590.6,1171.5 590.9,1171.5 592.9,1170.5 594.9,1169.5 596.9,1168.5 598.9,1168.5 600.9,1167.5 602.9,1166.5 604.9,1166.5 606.9,1166.5 608.9,1165.5 610.9,1166.5 611.7,1165.5 612.9,1167.5 614.9,1170.5 616.1,1172.5 616.9,1172.5 618.9,1171.5 620.9,1170.5 622.9,1169.5 623.1,1169.5" fill="none" stroke="#b90000" stroke-width="1"/>
<polyline points="108.5,1246.5 110.3,1253.5 110.5,1253.5 112.5,1253.5 114.5,1252.5 115.5,1252.5 116.5,1252.5 118.5,1252.5 120.5,1252.5 122.5,1252.5 124.5,1251.5 126.1,1251.5 126.5,1251.5 128.5,1251.5 130.5,1252.5 132.5,1252.5 134.5,1252.5 136.5,1253.5 138.5,1253.5 140.2,1254.5 140.5,1254.5 142.5,1253.5 144.5,1253.5 146.5,1252.5 148.5,1252.5 150.5,1251.5 152.5,1250.5 154.5,1250.5 156,1250.5 156.5,1250.5 158.5,1251.5 160.5,1252.5 162.5,1253.5 164.5,1253.5 164.8,1253.5 166.5,1254.5 168.5,1255.5 170.5,1256.5 172.5,1256.5 174.5,1258.5 175.3,1258.5 176.5,1258.5 178.5,1257.5 180.5,1257.5 182.5,1257.5 184.5,1257.5 186.5,1257.5 187.6,1257.5 188.5,1257.5 190.5,1257.5 192.5,1258.5 194.5,1259.5 196.5,1259.5 198.2,1260.5 198.5,1259.5 200.5,1259.5 202.5,1258.5 204.5,1258.5 206.5,1257.5 208.5,1257.5 210.5,1256.5 212.5,1255.5 214.5,1255.5 216.5,1255.5 217.5,1255.5 218.5,1255.5 220.5,1256.5 222.5,1257.5 224.5,1258.5 226.5,1257.5 228.5,1256.5 230.5,1256.5 231.6,1255.5 232.5,1252.5 234.5,1245.5 236.5,1239.5 238.5,1232.5 238.6,1232.5 240.5,1233.5 242.5,1233.5 244.5,1234.5 245.6,1235.5 246.5,1235.5 248.5,1236.5 250.5,1236.5 252.5,1236.5 254.5,1237.5 256.2,1237.5 256.5,1237.5 258.5,1238.5 260.5,1239.5 262.5,1240.5 263.2,1240.5 264.5,1239.5 266.5,1238.5 268.5,1237.5 270.2,1236.5 270.5,1236.5 272.5,1238.5 274.5,1240.5 276.5,1241.5 277.3,1242.5 278.5,1241.5 280.5,1239.5 282.5,1238.5 284.5,1236.5 285,1236.5 286.5,1235.5 288.5,1233.5 288.8,1232.5 290.5,1235.5 292.5,1238.5 294.5,1240.5 296.5,1243.5 297.6,1245.5 298.5,1244.5 300.5,1242.5 302.5,1240.5 304.5,1238.5 306.5,1236.5 308.1,1235.5 308.5,1235.5 310.5,1236.5 312.5,1238.5 314.5,1239.5 316.5,1240.5 318.5,1242.5 318.7,1242.5 320.5,1241.5 322.5,1240.5 324.5,1238.5 326.5,1237.5 328.5,1236.5 329.2,1235.5 330.5,1235.5 332.5,1236.5 334.5,1236.5 336.5,1237.5 338,1237.5 338.5,1237.5 340.5,1237.5 342.5,1236.5 343.3,1236.5 344.5,1238.5 346.5,1242.5 346.8,1242.5 348.5,1243.5 350.5,1243.5 352.5,1244.5 354.5,1244.5 355.6,1244.5 356.5,1245.5 358.5,1245.5 360.5,1245.5 362.5,1245.5 364.5,1245.5 366.5,1245.5 368.5,1245.5 370.5,1245.5 372.5,1245.5 374.5,1245.5 374.9,1245.5 376.5,1245.5 378.5,1245.5 380.5,1245.5 382.5,1245.5 384.5,1245.5 386.5,1246.5 388.5,1246.5 390.5,1246.5 392.5,1246.5 394.5,1245.5 396.5,1245.5 398.5,1245.5 400.5,1244.5 402.5,1244.5 403,1244.5 404.5,1242.5 406.5,1240.5 408.5,1238.5 410,1236.5 410.5,1237.5 412.5,1238.5 414.5,1240.5 416.5,1242.5 417.1,1242.5 418.5,1242.5 420.5,1240.5 422.5,1240.5 424.5,1239.5 426.5,1238.5 428.5,1237.5 430.5,1236.5 432.5,1236.5 432.9,1236.5 434.5,1237.5 436.5,1237.5 438.5,1238.5 440.5,1238.5 442.5,1239.5 444.5,1239.5 445.2,1240.5 446.5,1239.5 448.5,1240.5 450.5,1240.5 452.5,1240.5 454.5,1240.5 456.5,1240.5 458.5,1240.5 460,1240.5 460.5,1240.5 462.5,1240.5 464.1,1240.5 464.5,1240.5 466.5,1241.5 467.6,1242.5 468.5,1242.5 470.5,1242.5 472.5,1242.5 474.5,1241.5 474.6,1242.5 476.5,1240.5 478.5,1238.5 480.5,1237.5 481.6,1237.5 482.5,1237.5 484.5,1237.5 486.5,1237.5 486.9,1237.5 488.5,1239.5 490.5,1242.5 492.2,1244.5 492.5,1243.5 494.5,1243.5 496.5,1242.5 497.5,1242.5 498.5,1242.5 500.5,1242.5 502.5,1242.5 504.5,1243.5 506.5,1242.5 508.5,1241.5 510.5,1240.5 512.5,1238.5 514.5,1237.5 516.5,1236.5 518.5,1235.5 520.3,1234.5 520.5,1234.5 522.5,1234.5 524.5,1234.5 526.5,1234.5 528.5,1235.5 529.1,1235.5 530.5,1235.5 532.5,1236.5 534.5,1237.5 536.5,1239.5 538.5,1239.5 540.5,1240.5 542.5,1241.5 543.2,1242.5 544.5,1242.5 546.5,1241.5 548.5,1241.5 550.5,1240.5 552.5,1240.5 554.5,1239.5 555.5,1239.5 556.5,1239.5 558.5,1239.5 560.5,1238.5 562.5,1238.5 564.5,1237.5 566.5,1237.5 568.5,1237.5 570.5,1237.5 571.3,1237.5 572.5,1237.5 574.5,1240.5 576.5,1242.5 578.5,1243.5 580.1,1245.5 580.5,1245.5 582.5,1245.5 584.5,1245.5 586.5,1244.5 588.5,1244.5 590.5,1244.5 592.5,1244.5 594.1,1244.5 594.5,1243.5 596.5,1242.5 598.5,1241.5 600.5,1239.5 602.5,1237.5 602.9,1237.5 604.5,1237.5 606.5,1236.5 608.2,1236.5 608.5,1237.5 610.5,1239.5 612.5,1242.5 613.5,1243.5 614.5,1243.5 616.5,1242.5 618.5,1241.5 618.7,1241.5 620.5,1235.5 621.4,1232.5 622.5,1232.5 623.1,1231.5" fill="none" stroke="#000000" stroke-width="1"/>
<polyline points="108.5,1248.5 110.3,1254.5 110.5,1254.5 112.5,1254.5 114.5,1253.5 115.5,1254.5 116.5,1253.5 118.5,1253.5 120.5,1253.5 122.5,1252.5 124.5,1252.5 126.1,1252.5 126.5,1252.5 128.5,1252.5 130.5,1253.5 132.5,1253.5 134.5,1254.5 136.5,1254.5 138.5,1254.5 140.2,1255.5 140.5,1255.5 142.5,1254.5 144.5,1254.5 146.5,1254.5 148.5,1253.5 150.5,1253.5 152.5,1253.5 154.5,1252.5 156,1251.5 156.5,1251.5 158.5,1252.5 160.5,1253.5 162.5,1253.5 164.5,1254.5 164.8,1254.5 166.5,1254.5 168.5,1254.5 170.5,1255.5 172.5,1255.5 174.5,1255.5 175.3,1256.5 176.5,1256.5 178.5,1256.5 180.5,1256.5 182.5,1256.5 184.5,1256.5 186.5,1256.5 187.6,1256.5 188.5,1256.5 190.5,1257.5 192.5,1258.5 194.5,1258.5 196.5,1258.5 198.2,1259.5 198.5,1259.5 200.5,1257.5 202.5,1257.5 204.5,1256.5 206.5,1256.5 208.5,1256.5 210.5,1255.5 212.5,1255.5 214.5,1254.5 216.5,1254.5 217.5,1253.5 218.5,1254.5 220.5,1254.5 222.5,1255.5 224.5,1256.5 226.5,1256.5 228.5,1255.5 230.5,1254.5 231.6,1254.5 232.5,1251.5 234.5,1244.5 236.5,1237.5 238.5,1230.5 238.6,1229.5 240.5,1230.5 242.5,1231.5 244.5,1233.5 245.6,1233.5 246.5,1233.5 248.5,1234.5 250.5,1234.5 252.5,1235.5 254.5,1235.5 256.2,1235.5 256.5,1236.5 258.5,1237.5 260.5,1238.5 262.5,1239.5 263.2,1239.5 264.5,1238.5 266.5,1238.5 268.5,1237.5 270.2,1236.5 270.5,1236.5 272.5,1238.5 274.5,1240.5 276.5,1242.5 277.3,1243.5 278.5,1242.5 280.5,1241.5 282.5,1239.5 284.5,1237.5 285,1237.5 286.5,1235.5 288.5,1233.5 288.8,1233.5 290.5,1235.5 292.5,1238.5 294.5,1241.5 296.5,1244.5 297.6,1245.5 298.5,1244.5 300.5,1242.5 302.5,1240.5 304.5,1239.5 306.5,1237.5 308.1,1236.5 308.5,1237.5 310.5,1238.5 312.5,1239.5 314.5,1240.5 316.5,1241.5 318.5,1242.5 318.7,1242.5 320.5,1241.5 322.5,1240.5 324.5,1239.5 326.5,1238.5 328.5,1237.5 329.2,1237.5 330.5,1237.5 332.5,1237.5 334.5,1237.5 336.5,1237.5 338,1238.5 338.5,1238.5 340.5,1236.5 342.5,1236.5 343.3,1236.5 344.5,1238.5 346.5,1241.5 346.8,1242.5 348.5,1243.5 350.5,1243.5 352.5,1243.5 354.5,1244.5 355.6,1244.5 356.5,1244.5 358.5,1244.5 360.5,1245.5 362.5,1245.5 364.5,1245.5 366.5,1246.5 368.5,1246.5 370.5,1246.5 372.5,1247.5 374.5,1247.5 374.9,1247.5 376.5,1247.5 378.5,1247.5 380.5,1246.5 382.5,1246.5 384.5,1245.5 386.5,1245.5 388.5,1245.5 390.5,1244.5 392.5,1245.5 394.5,1244.5 396.5,1245.5 398.5,1245.5 400.5,1245.5 402.5,1245.5 403,1245.5 404.5,1243.5 406.5,1242.5 408.5,1239.5 410,1236.5 410.5,1237.5 412.5,1238.5 414.5,1239.5 416.5,1240.5 417.1,1241.5 418.5,1241.5 420.5,1240.5 422.5,1239.5 424.5,1238.5 426.5,1238.5 428.5,1237.5 430.5,1237.5 432.5,1236.5 432.9,1236.5 434.5,1237.5 436.5,1237.5 438.5,1238.5 440.5,1238.5 442.5,1239.5 444.5,1240.5 445.2,1240.5 446.5,1240.5 448.5,1240.5 450.5,1240.5 452.5,1240.5 454.5,1240.5 456.5,1240.5 458.5,1240.5 460,1240.5 460.5,1240.5 462.5,1240.5 464.1,1239.5 464.5,1239.5 466.5,1241.5 467.6,1241.5 468.5,1241.5 470.5,1241.5 472.5,1241.5 474.5,1240.5 474.6,1240.5 476.5,1240.5 478.5,1239.5 480.5,1238.5 481.6,1237.5 482.5,1237.5 484.5,1237.5 486.5,1237.5 486.9,1237.5 488.5,1240.5 490.5,1243.5 492.2,1245.5 492.5,1245.5 494.5,1244.5 496.5,1244.5 497.5,1243.5 498.5,1243.5 500.5,1243.5 502.5,1243.5 504.5,1243.5 506.5,1242.5 508.5,1241.5 510.5,1240.5 512.5,1239.5 514.5,1238.5 516.5,1238.5 518.5,1237.5 520.3,1236.5 520.5,1236.5 522.5,1236.5 524.5,1236.5 526.5,1235.5 528.5,1235.5 529.1,1234.5 530.5,1235.5 532.5,1236.5 534.5,1238.5 536.5,1240.5 538.5,1241.5 540.5,1243.5 542.5,1244.5 543.2,1245.5 544.5,1244.5 546.5,1244.5 548.5,1243.5 550.5,1242.5 552.5,1241.5 554.5,1240.5 555.5,1239.5 556.5,1239.5 558.5,1238.5 560.5,1237.5 562.5,1236.5 564.5,1236.5 566.5,1235.5 568.5,1235.5 570.5,1235.5 571.3,1235.5 572.5,1236.5 574.5,1239.5 576.5,1241.5 578.5,1243.5 580.1,1245.5 580.5,1245.5 582.5,1245.5 584.5,1245.5 586.5,1245.5 588.5,1244.5 590.5,1244.5 592.5,1243.5 594.1,1243.5 594.5,1243.5 596.5,1242.5 598.5,1240.5 600.5,1240.5 602.5,1239.5 602.9,1239.5 604.5,1239.5 606.5,1239.5 608.2,1239.5 608.5,1239.5 610.5,1241.5 612.5,1243.5 613.5,1244.5 614.5,1243.5 616.5,1242.5 618.5,1241.5 618.7,1241.5 620.5,1235.5 621.4,1232.5 622.5,1232.5 623.1,1232.5" fill="none" stroke="#000000" stroke-width="1"/>
<polyline points="108.5,1251.5 110.5,1252.5 112,1254.5 112.5,1254.5 114.5,1254.5 116.5,1254.5 118.5,1253.5 120.5,1253.5 122.5,1253.5 122.6,1253.5 124.5,1252.5 126.5,1253.5 128.5,1252.5 130.5,1253.5 132.5,1253.5 134.5,1252.5 136.5,1253.5 138.5,1252.5 140.5,1252.5 142.5,1252.5 144.5,1253.5 146.5,1253.5 148.5,1252.5 150.5,1253.5 152.5,1252.5 154.5,1252.5 156.5,1253.5 157.7,1253.5 158.5,1253.5 160.5,1253.5 162.5,1253.5 164.5,1254.5 166.5,1255.5 168.5,1255.5 170.5,1255.5 171.8,1256.5 172.5,1256.5 174.5,1256.5 176.5,1256.5 178.5,1256.5 180.5,1256.5 182.5,1256.5 184.5,1256.5 186.5,1256.5 188.5,1256.5 190.5,1255.5 192.5,1255.5 194.5,1255.5 196.5,1255.5 198.5,1255.5 200.5,1255.5 202.5,1255.5 204.5,1254.5 206.5,1254.5 208.5,1254.5 210.5,1254.5 212.5,1254.5 214.5,1255.5 216.5,1255.5 218.5,1255.5 220.5,1255.5 222.5,1255.5 224.5,1255.5 226.5,1255.5 228.5,1255.5 230.5,1255.5 231.6,1255.5 232.5,1253.5 234.5,1249.5 236.5,1245.5 238.5,1240.5 238.6,1240.5 240.5,1240.5 242.5,1241.5 244.5,1241.5 246.5,1241.5 248.5,1241.5 250.5,1241.5 252.5,1242.5 254.4,1242.5 254.5,1242.5 256.5,1242.5 258.5,1243.5 260.5,1243.5 262.5,1244.5 263.2,1244.5 264.5,1244.5 266.5,1243.5 268.5,1242.5 270.2,1242.5 270.5,1242.5 272.5,1243.5 274.5,1244.5 276.5,1245.5 277.3,1245.5 278.5,1245.5 280.5,1244.5 282.5,1244.5 284.5,1243.5 285,1243.5 286.5,1240.5 288.5,1236.5 288.8,1235.5 290.5,1238.5 292.5,1241.5 294.5,1244.5 296.5,1247.5 297.6,1248.5 298.5,1247.5 300.5,1245.5 302.5,1244.5 304.5,1242.5 306.5,1241.5 308.1,1240.5 308.5,1240.5 310.5,1241.5 312.5,1242.5 314.5,1244.5 316.5,1245.5 318.5,1246.5 318.7,1246.5 320.5,1245.5 322.5,1243.5 324.5,1242.5 326.5,1241.5 328.5,1240.5 329.2,1240.5 330.5,1240.5 332.5,1240.5 334.5,1241.5 336.5,1241.5 338.5,1241.5 340.5,1242.5 342.5,1242.5 344.5,1242.5 346.5,1243.5 346.8,1243.5 348.5,1245.5 350.5,1246.5 352.5,1248.5 353.8,1249.5 354.5,1249.5 356.5,1249.5 358.5,1249.5 360.5,1249.5 362.5,1249.5 364.5,1249.5 366.5,1249.5 368.5,1249.5 370.5,1249.5 372.5,1249.5 374.5,1249.5 376.5,1249.5 378.5,1249.5 380.5,1249.5 382.5,1249.5 384.5,1249.5 385.5,1249.5 386.5,1249.5 388.5,1249.5 390.5,1248.5 392.5,1248.5 394.5,1247.5 396.5,1247.5 398.5,1247.5 400.5,1247.5 402.5,1246.5 404.5,1246.5 406.5,1246.5 406.6,1246.5 408.5,1245.5 410.5,1245.5 412.5,1244.5 414.5,1244.5 416.5,1244.5 418.5,1243.5 420.5,1243.5 422.5,1243.5 424.5,1242.5 426.5,1242.5 428.5,1242.5 430.5,1242.5 431.2,1241.5 432.5,1241.5 434.5,1241.5 436.5,1241.5 438.5,1242.5 440.5,1242.5 442.5,1242.5 444.5,1242.5 446.5,1242.5 448.5,1242.5 450.5,1243.5 452.5,1243.5 454.5,1243.5 456.5,1243.5 458.5,1243.5 460,1243.5 460.5,1243.5 462.5,1244.5 464.5,1245.5 465.8,1246.5 466.5,1245.5 468.5,1244.5 470.5,1244.5 472.5,1243.5 474.5,1242.5 476.5,1242.5 478.5,1241.5 480.5,1241.5 481.6,1241.5 482.5,1241.5 484.5,1242.5 486.5,1243.5 488.5,1244.5 490.5,1245.5 492.2,1246.5 492.5,1246.5 494.5,1246.5 496.5,1247.5 498.5,1247.5 500.5,1247.5 502.5,1247.5 504.5,1247.5 506.5,1246.5 508.5,1245.5 510.5,1244.5 512.5,1243.5 514.5,1241.5 516.5,1240.5 518.5,1239.5 520.5,1238.5 522.1,1237.5 522.5,1237.5 524.5,1238.5 526.5,1238.5 528.5,1239.5 530.5,1240.5 532.5,1240.5 534.5,1240.5 536.5,1241.5 538.5,1242.5 540.5,1242.5 541.4,1243.5 542.5,1243.5 544.5,1243.5 546.5,1243.5 548.5,1243.5 550.5,1243.5 552.5,1243.5 554.5,1243.5 555.5,1243.5 556.5,1243.5 558.5,1243.5 560.5,1243.5 562.5,1242.5 564.5,1242.5 566.5,1242.5 568.5,1241.5 570.5,1241.5 572.5,1241.5 573,1241.5 574.5,1242.5 576.5,1244.5 578.5,1245.5 580.1,1247.5 580.5,1247.5 582.5,1246.5 584.5,1246.5 586.5,1246.5 588.5,1246.5 590.5,1246.5 592.5,1246.5 594.1,1246.5 594.5,1246.5 596.5,1246.5 598.5,1245.5 600.5,1244.5 602.5,1243.5 604.5,1242.5 606.5,1241.5 608.2,1241.5 608.5,1241.5 610.5,1242.5 612.5,1243.5 614.5,1244.5 616.5,1245.5 617,1245.5 618.5,1244.5 620.5,1241.5 622.5,1239.5 623.1,1238.5" fill="none" stroke="#b90000" stroke-width="1"/>
<polyline points="108.5,1250.5 110.5,1252.5 112,1254.5 112.5,1254.5 114.5,1253.5 116.5,1254.5 118.5,1253.5 120.5,1253.5 122.5,1253.5 122.6,1253.5 124.5,1253.5 126.5,1253.5 128.5,1253.5 130.5,1253.5 132.5,1253.5 134.5,1253.5 136.5,1253.5 138.5,1254.5 140.5,1254.5 142.5,1254.5 144.5,1254.5 146.5,1254.5 148.5,1254.5 150.5,1254.5 152.5,1254.5 154.5,1253.5 156.5,1252.5 157.7,1253.5 158.5,1253.5 160.5,1253.5 162.5,1253.5 164.5,1253.5 166.5,1253.5 168.5,1255.5 170.5,1256.5 171.8,1256.5 172.5,1257.5 174.5,1257.5 176.5,1257.5 178.5,1256.5 180.5,1256.5 182.5,1256.5 184.5,1256.5 186.5,1255.5 188.5,1256.5 190.5,1255.5 192.5,1255.5 194.5,1256.5 196.5,1256.5 198.5,1256.5 200.5,1255.5 202.5,1255.5 204.5,1255.5 206.5,1255.5 208.5,1255.5 210.5,1255.5 212.5,1255.5 214.5,1255.5 216.5,1256.5 218.5,1256.5 220.5,1256.5 222.5,1255.5 224.5,1255.5 226.5,1255.5 228.5,1255.5 230.5,1255.5 231.6,1255.5 232.5,1253.5 234.5,1249.5 236.5,1246.5 238.5,1241.5 238.6,1241.5 240.5,1241.5 242.5,1242.5 244.5,1242.5 246.5,1242.5 248.5,1242.5 250.5,1242.5 252.5,1242.5 254.4,1242.5 254.5,1243.5 256.5,1242.5 258.5,1243.5 260.5,1243.5 262.5,1243.5 263.2,1244.5 264.5,1243.5 266.5,1243.5 268.5,1243.5 270.2,1243.5 270.5,1243.5 272.5,1244.5 274.5,1245.5 276.5,1246.5 277.3,1246.5 278.5,1246.5 280.5,1245.5 282.5,1243.5 284.5,1242.5 285,1242.5 286.5,1239.5 288.5,1235.5 288.8,1235.5 290.5,1237.5 292.5,1241.5 294.5,1245.5 296.5,1248.5 297.6,1250.5 298.5,1249.5 300.5,1247.5 302.5,1245.5 304.5,1243.5 306.5,1241.5 308.1,1240.5 308.5,1240.5 310.5,1241.5 312.5,1242.5 314.5,1244.5 316.5,1244.5 318.5,1246.5 318.7,1246.5 320.5,1244.5 322.5,1243.5 324.5,1241.5 326.5,1240.5 328.5,1239.5 329.2,1238.5 330.5,1239.5 332.5,1240.5 334.5,1240.5 336.5,1240.5 338.5,1241.5 340.5,1241.5 342.5,1242.5 344.5,1243.5 346.5,1243.5 346.8,1243.5 348.5,1244.5 350.5,1246.5 352.5,1247.5 353.8,1248.5 354.5,1248.5 356.5,1248.5 358.5,1248.5 360.5,1248.5 362.5,1248.5 364.5,1248.5 366.5,1247.5 368.5,1248.5 370.5,1248.5 372.5,1249.5 374.5,1249.5 376.5,1249.5 378.5,1249.5 380.5,1249.5 382.5,1249.5 384.5,1248.5 385.5,1248.5 386.5,1248.5 388.5,1248.5 390.5,1247.5 392.5,1247.5 394.5,1247.5 396.5,1247.5 398.5,1246.5 400.5,1246.5 402.5,1246.5 404.5,1246.5 406.5,1246.5 406.6,1245.5 408.5,1245.5 410.5,1244.5 412.5,1244.5 414.5,1243.5 416.5,1243.5 418.5,1243.5 420.5,1243.5 422.5,1242.5 424.5,1242.5 426.5,1241.5 428.5,1241.5 430.5,1241.5 431.2,1241.5 432.5,1241.5 434.5,1241.5 436.5,1241.5 438.5,1241.5 440.5,1241.5 442.5,1241.5 444.5,1241.5 446.5,1241.5 448.5,1242.5 450.5,1242.5 452.5,1242.5 454.5,1243.5 456.5,1243.5 458.5,1244.5 460,1244.5 460.5,1244.5 462.5,1245.5 464.5,1246.5 465.8,1246.5 466.5,1246.5 468.5,1245.5 470.5,1244.5 472.5,1243.5 474.5,1242.5 476.5,1241.5 478.5,1240.5 480.5,1240.5 481.6,1239.5 482.5,1239.5 484.5,1241.5 486.5,1242.5 488.5,1243.5 490.5,1244.5 492.2,1244.5 492.5,1244.5 494.5,1245.5 496.5,1246.5 498.5,1247.5 500.5,1247.5 502.5,1248.5 504.5,1248.5 506.5,1247.5 508.5,1245.5 510.5,1243.5 512.5,1242.5 514.5,1242.5 516.5,1241.5 518.5,1240.5 520.5,1238.5 522.1,1237.5 522.5,1238.5 524.5,1239.5 526.5,1239.5 528.5,1240.5 530.5,1240.5 532.5,1240.5 534.5,1240.5 536.5,1241.5 538.5,1241.5 540.5,1242.5 541.4,1242.5 542.5,1241.5 544.5,1241.5 546.5,1242.5 548.5,1242.5 550.5,1242.5 552.5,1243.5 554.5,1244.5 555.5,1244.5 556.5,1244.5 558.5,1244.5 560.5,1243.5 562.5,1243.5 564.5,1243.5 566.5,1243.5 568.5,1242.5 570.5,1242.5 572.5,1242.5 573,1242.5 574.5,1243.5 576.5,1244.5 578.5,1246.5 580.1,1247.5 580.5,1247.5 582.5,1247.5 584.5,1247.5 586.5,1247.5 588.5,1246.5 590.5,1246.5 592.5,1246.5 594.1,1246.5 594.5,1246.5 596.5,1245.5 598.5,1244.5 600.5,1244.5 602.5,1243.5 604.5,1243.5 606.5,1242.5 608.2,1242.5 608.5,1241.5 610.5,1242.5 612.5,1243.5 614.5,1244.5 616.5,1245.5 617,1245.5 618.5,1243.5 620.5,1241.5 622.5,1238.5 623.1,1237.5" fill="none" stroke="#b90000" stroke-width="1"/>
<polyline points="759,1168.5 761,1168.5 763,1168.5 765,1167.5 765.2,1168.5 767,1167.5 769,1168.5 771,1168.5 773,1168.5 775,1168.5 777,1168.5 777.9,1168.5 779,1168.5 781,1167.5 782.9,1166.5 783,1166.5 785,1166.5 786.7,1166.5 787,1166.5 789,1168.5 790.5,1169.5 791,1169.5 793,1170.5 795,1170.5 797,1171.5 799,1171.5 799.4,1171.5 801,1171.5 803,1170.5 805,1169.5 805.8,1169.5 807,1169.5 809,1168.5 809.6,1168.5 811,1168.5 813,1169.5 814.7,1170.5 815,1170.5 817,1169.5 819,1168.5 821,1168.5 823,1169.5 825,1170.5 827,1171.5 827.4,1171.5 829,1170.5 831,1168.5 833,1167.5 833.7,1166.5 835,1166.5 837,1166.5 838.8,1165.5 839,1166.5 841,1167.5 843,1167.5 845,1168.5 846.4,1168.5 847,1169.5 849,1170.5 851,1171.5 852.8,1172.5 853,1172.5 855,1173.5 857,1172.5 859,1172.5 859.1,1172.5 861,1171.5 863,1169.5 864.2,1168.5 865,1168.5 867,1167.5 869,1167.5 869.3,1166.5 871,1166.5 873,1166.5 875,1166.5 877,1166.5 879,1166.5 881,1166.5 883,1165.5 885,1165.5 887,1166.5 889,1166.5 891,1167.5 892.7,1168.5 893,1168.5 895,1169.5 897,1171.5 897.8,1171.5 899,1171.5 901,1171.5 903,1171.5 905,1171.5 906.7,1171.5 907,1171.5 909,1170.5 911,1168.5 913,1167.5 915,1166.5 917,1165.5 918.1,1164.5 919,1164.5 921,1164.5 923,1164.5 925,1164.5 925.7,1164.5 927,1165.5 929,1166.5 931,1167.5 933,1168.5 933.3,1168.5 935,1167.5 937,1167.5 939,1166.5 941,1166.5 943,1166.5 943.5,1166.5 945,1166.5 947,1166.5 949,1166.5 951,1166.5 951.1,1166.5 953,1166.5 955,1167.5 957,1168.5 959,1168.5 961,1169.5 963,1169.5 965,1170.5 966.3,1170.5 967,1170.5 969,1168.5 971,1167.5 973,1166.5 973.9,1165.5 975,1165.5 977,1165.5 979,1164.5 980.3,1164.5 981,1164.5 983,1164.5 985,1164.5 987,1165.5 989,1165.5 991,1165.5 993,1165.5 995,1165.5 996.8,1165.5 997,1165.5 999,1169.5 1000.6,1171.5 1001,1171.5 1003,1171.5 1003.8,1172.5" fill="none" stroke="#b90000" stroke-width="1"/>
<polyline points="759,1168.5 761,1168.5 763,1168.5 765,1167.5 765.2,1167.5 767,1167.5 769,1167.5 771,1168.5 773,1168.5 775,1168.5 777,1169.5 777.9,1169.5 779,1169.5 781,1168.5 782.9,1168.5 783,1168.5 785,1168.5 786.7,1168.5 787,1168.5 789,1169.5 790.5,1170.5 791,1170.5 793,1170.5 795,1171.5 797,1171.5 799,1172.5 799.4,1172.5 801,1171.5 803,1170.5 805,1169.5 805.8,1169.5 807,1168.5 809,1167.5 809.6,1167.5 811,1167.5 813,1168.5 814.7,1169.5 815,1169.5 817,1169.5 819,1169.5 821,1168.5 823,1169.5 825,1171.5 827,1172.5 827.4,1172.5 829,1171.5 831,1169.5 833,1168.5 833.7,1167.5 835,1166.5 837,1166.5 838.8,1165.5 839,1165.5 841,1166.5 843,1167.5 845,1168.5 846.4,1168.5 847,1168.5 849,1170.5 851,1171.5 852.8,1172.5 853,1172.5 855,1172.5 857,1173.5 859,1173.5 859.1,1173.5 861,1171.5 863,1170.5 864.2,1169.5 865,1169.5 867,1169.5 869,1168.5 869.3,1168.5 871,1168.5 873,1167.5 875,1167.5 877,1166.5 879,1165.5 881,1165.5 883,1165.5 885,1164.5 887,1165.5 889,1166.5 891,1167.5 892.7,1167.5 893,1168.5 895,1169.5 897,1171.5 897.8,1172.5 899,1172.5 901,1171.5 903,1171.5 905,1171.5 906.7,1171.5 907,1171.5 909,1169.5 911,1168.5 913,1166.5 915,1166.5 917,1165.5 918.1,1164.5 919,1164.5 921,1164.5 923,1164.5 925,1164.5 925.7,1164.5 927,1165.5 929,1165.5 931,1166.5 933,1167.5 933.3,1167.5 935,1166.5 937,1166.5 939,1166.5 941,1165.5 943,1165.5 943.5,1165.5 945,1165.5 947,1165.5 949,1165.5 951,1166.5 951.1,1166.5 953,1166.5 955,1167.5 957,1168.5 959,1168.5 961,1169.5 963,1170.5 965,1170.5 966.3,1170.5 967,1170.5 969,1168.5 971,1167.5 973,1166.5 973.9,1165.5 975,1165.5 977,1164.5 979,1163.5 980.3,1163.5 981,1163.5 983,1163.5 985,1163.5 987,1164.5 989,1165.5 991,1165.5 993,1165.5 995,1166.5 996.8,1166.5 997,1166.5 999,1169.5 1000.6,1171.5 1001,1171.5 1003,1172.5 1003.8,1172.5" fill="none" stroke="#b90000" stroke-width="1"/>
<polyline points="759,1175.5 761,1174.5 763,1174.5 765,1174.5 765.2,1173.5 767,1174.5 769,1174.5 771,1175.5 771.5,1175.5 773,1175.5 775,1175.5 777,1175.5 779,1174.5 780.4,1174.5 781,1174.5 783,1174.5 785,1174.5 786.7,1174.5 787,1174.5 789,1174.5 791,1175.5 793,1175.5 795,1176.5 796.9,1176.5 797,1176.5 799,1177.5 801,1178.5 803,1178.5 803.2,1178.5 805,1177.5 807,1176.5 809,1176.5 809.6,1175.5 811,1175.5 813,1174.5 815,1174.5 817,1174.5 818.5,1174.5 819,1174.5 821,1175.5 823,1176.5 825,1176.5 827,1177.5 828.6,1177.5 829,1177.5 831,1176.5 833,1174.5 835,1173.5 836.2,1172.5 837,1172.5 839,1172.5 841,1172.5 841.3,1172.5 843,1173.5 845,1174.5 847,1175.5 848.9,1176.5 849,1177.5 851,1178.5 853,1179.5 855,1181.5 855.3,1181.5 857,1180.5 859,1179.5 860.4,1179.5 861,1178.5 863,1176.5 864.2,1175.5 865,1174.5 867,1174.5 869,1172.5 871,1171.5 871.8,1171.5 873,1171.5 875,1172.5 876.9,1173.5 877,1172.5 879,1171.5 881,1171.5 883,1170.5 885,1170.5 887,1170.5 889,1171.5 891,1172.5 893,1173.5 894,1173.5 895,1175.5 896.5,1177.5 897,1177.5 899,1177.5 901,1178.5 903,1178.5 905,1177.5 905.4,1177.5 907,1177.5 909,1176.5 911,1175.5 913,1173.5 915,1172.5 915.5,1172.5 917,1171.5 919,1170.5 921,1169.5 921.9,1168.5 923,1169.5 925,1169.5 927,1170.5 928.2,1170.5 929,1170.5 931,1172.5 933,1173.5 934.6,1173.5 935,1173.5 937,1173.5 939,1172.5 941,1172.5 943,1172.5 945,1171.5 946,1170.5 947,1171.5 949,1171.5 951,1172.5 953,1173.5 955,1173.5 956.2,1174.5 957,1174.5 959,1175.5 961,1176.5 963,1176.5 963.8,1177.5 965,1176.5 967,1175.5 969,1174.5 971,1173.5 973,1172.5 973.9,1172.5 975,1171.5 977,1171.5 979,1171.5 981,1171.5 983,1170.5 985,1170.5 987,1170.5 987.9,1170.5 989,1170.5 991,1169.5 993,1170.5 994.3,1169.5 995,1170.5 997,1172.5 999,1174.5 1000.6,1176.5 1001,1175.5 1003,1176.5 1003.8,1176.5" fill="none" stroke="#000000" stroke-width="1"/>
<polyline points="759,1178.5 761,1178.5 763,1178.5 765,1178.5 767,1178.5 769,1178.5 771,1178.5 773,1178.5 775,1178.5 777,1178.5 779,1178.5 780.4,1178.5 781,1178.5 783,1178.5 785,1179.5 787,1179.5 789,1179.5 791,1179.5 793,1180.5 795,1180.5 797,1180.5 799,1180.5 801,1181.5 803,1181.5 804.5,1181.5 805,1181.5 807,1181.5 809,1180.5 811,1179.5 813,1179.5 815,1179.5 816,1179.5 817,1178.5 819,1178.5 821,1178.5 823,1178.5 825,1178.5 827,1178.5 828.6,1178.5 829,1178.5 831,1178.5 833,1177.5 835,1177.5 837,1177.5 838.8,1176.5 839,1176.5 841,1176.5 843,1177.5 845,1178.5 846.4,1178.5 847,1178.5 849,1179.5 851,1179.5 853,1180.5 855,1182.5 855.3,1182.5 857,1181.5 859,1180.5 861,1178.5 863,1177.5 865,1176.5 866.7,1174.5 867,1174.5 869,1174.5 871,1174.5 873,1174.5 875,1173.5 877,1173.5 879,1173.5 881,1172.5 883,1172.5 885,1172.5 887,1173.5 889,1173.5 891,1174.5 893,1175.5 895,1176.5 896.5,1177.5 897,1177.5 899,1176.5 901,1176.5 903,1176.5 905,1176.5 905.4,1177.5 907,1176.5 909,1175.5 911,1175.5 913,1174.5 915,1174.5 915.5,1173.5 917,1172.5 919,1171.5 921,1170.5 921.9,1170.5 923,1171.5 925,1172.5 927,1172.5 929,1173.5 931,1174.5 933,1174.5 934.6,1175.5 935,1175.5 937,1174.5 939,1173.5 941,1173.5 943,1172.5 945,1172.5 946,1172.5 947,1172.5 949,1173.5 951,1173.5 953,1174.5 955,1175.5 957,1175.5 959,1176.5 961,1177.5 963,1178.5 963.8,1178.5 965,1178.5 967,1177.5 969,1176.5 971,1174.5 973,1173.5 973.9,1172.5 975,1172.5 977,1173.5 979,1174.5 981,1174.5 982.8,1174.5 983,1173.5 985,1172.5 987,1171.5 987.9,1171.5 989,1171.5 991,1171.5 993,1171.5 994.3,1171.5 995,1171.5 997,1173.5 999,1175.5 1000.6,1177.5 1001,1177.5 1003,1177.5 1003.8,1177.5" fill="none" stroke="#000000" stroke-width="1"/>
<polyline points="758.2,1235.5 760.2,1235.5 762.2,1236.5 764.2,1237.5 766.2,1237.5 767.7,1238.5 768.2,1238.5 770.2,1237.5 772.2,1237.5 774.2,1236.5 776.2,1236.5 778.2,1235.5 780.2,1235.5 780.4,1235.5 782.2,1235.5 784.2,1235.5 785.5,1235.5 786.2,1235.5 788.2,1236.5 790.2,1237.5 792.2,1238.5 793.1,1238.5 794.2,1240.5 796.2,1243.5 798.2,1246.5 800.2,1244.5 802.2,1241.5 803.2,1240.5 804.2,1240.5 806.2,1240.5 808.2,1240.5 810.2,1240.5 812.2,1240.5 814.2,1240.5 816,1240.5 816.2,1240.5 818.2,1238.5 818.5,1238.5 820.2,1240.5 822.2,1241.5 824.2,1243.5 824.8,1244.5 826.2,1244.5 828.2,1243.5 830.2,1242.5 832.2,1241.5 834.2,1239.5 836.2,1238.5 838.2,1238.5 840.2,1238.5 841.3,1239.5 842.2,1240.5 844.2,1242.5 846.2,1244.5 847.7,1246.5 848.2,1246.5 850.2,1245.5 852.2,1245.5 854.2,1245.5 856.2,1245.5 856.6,1245.5 858.2,1244.5 860.2,1243.5 862.2,1243.5 864.2,1242.5 866.2,1241.5 868.2,1240.5 869.3,1240.5 870.2,1240.5 872.2,1239.5 874.2,1238.5 876.2,1237.5 878.2,1237.5 880.2,1236.5 882,1235.5 882.2,1235.5 884.2,1235.5 886.2,1235.5 887.6,1235.5 888.2,1235.5 890.2,1237.5 892.2,1239.5 894.2,1241.5 895.2,1242.5 896.2,1242.5 898.2,1241.5 899,1240.5 900.2,1241.5 902.2,1241.5 904.2,1242.5 906.2,1242.5 908.2,1243.5 909.2,1243.5 910.2,1242.5 912.2,1241.5 914.2,1239.5 915.5,1237.5 916.2,1237.5 918.2,1237.5 920.2,1237.5 922.2,1237.5 923.2,1237.5 924.2,1236.5 925.7,1235.5 926.2,1235.5 928.2,1235.5 930.2,1235.5 932.2,1235.5 934.2,1235.5 935.9,1236.5 936.2,1236.5 938.2,1236.5 940.2,1236.5 942.2,1235.5 943.5,1235.5 944.2,1235.5 946.2,1237.5 948.2,1238.5 950.2,1240.5 951.1,1241.5 952.2,1241.5 954.2,1239.5 956.2,1238.5 957.4,1237.5 958.2,1238.5 960.2,1239.5 962.2,1239.5 964.2,1240.5 966.2,1240.5 966.3,1240.5 968.2,1239.5 970.2,1238.5 972.2,1236.5 974.2,1235.5 975.2,1234.5 976.2,1234.5 978.2,1234.5 980.2,1234.5 982.2,1234.5 984.2,1234.5 986.2,1234.5 988.2,1234.5 990.2,1234.5 991.7,1234.5 992.2,1235.5 994.2,1237.5 996.2,1239.5 996.8,1240.5 998.2,1242.5 1000.2,1244.5 1001.9,1245.5 1002.2,1245.5 1003.8,1245.5" fill="none" stroke="#000000" stroke-width="1"/>
<polyline points="758.2,1235.5 760.2,1235.5 762.2,1235.5 764.2,1235.5 766.2,1236.5 767.7,1236.5 768.2,1236.5 770.2,1235.5 772.2,1235.5 774.2,1234.5 776.2,1234.5 778.2,1233.5 780.2,1233.5 780.4,1233.5 782.2,1233.5 784.2,1233.5 785.5,1233.5 786.2,1234.5 788.2,1235.5 790.2,1237.5 792.2,1238.5 793.1,1239.5 794.2,1241.5 796.2,1243.5 798.2,1246.5 800.2,1243.5 802.2,1241.5 803.2,1239.5 804.2,1239.5 806.2,1239.5 808.2,1240.5 810.2,1240.5 812.2,1239.5 814.2,1239.5 816,1239.5 816.2,1239.5 818.2,1237.5 818.5,1237.5 820.2,1239.5 822.2,1241.5 824.2,1243.5 824.8,1243.5 826.2,1242.5 828.2,1241.5 830.2,1239.5 832.2,1238.5 834.2,1237.5 836.2,1236.5 838.2,1238.5 840.2,1238.5 841.3,1239.5 842.2,1240.5 844.2,1243.5 846.2,1246.5 847.7,1247.5 848.2,1247.5 850.2,1247.5 852.2,1247.5 854.2,1247.5 856.2,1246.5 856.6,1246.5 858.2,1245.5 860.2,1244.5 862.2,1243.5 864.2,1241.5 866.2,1240.5 868.2,1239.5 869.3,1239.5 870.2,1238.5 872.2,1238.5 874.2,1238.5 876.2,1238.5 878.2,1237.5 880.2,1237.5 882,1237.5 882.2,1236.5 884.2,1236.5 886.2,1236.5 887.6,1236.5 888.2,1236.5 890.2,1238.5 892.2,1240.5 894.2,1241.5 895.2,1242.5 896.2,1242.5 898.2,1240.5 899,1240.5 900.2,1240.5 902.2,1241.5 904.2,1241.5 906.2,1242.5 908.2,1242.5 909.2,1243.5 910.2,1242.5 912.2,1240.5 914.2,1238.5 915.5,1236.5 916.2,1236.5 918.2,1236.5 920.2,1237.5 922.2,1237.5 923.2,1237.5 924.2,1236.5 925.7,1235.5 926.2,1235.5 928.2,1235.5 930.2,1235.5 932.2,1236.5 934.2,1236.5 935.9,1236.5 936.2,1236.5 938.2,1236.5 940.2,1236.5 942.2,1235.5 943.5,1235.5 944.2,1236.5 946.2,1238.5 948.2,1239.5 950.2,1241.5 951.1,1242.5 952.2,1241.5 954.2,1240.5 956.2,1239.5 957.4,1238.5 958.2,1238.5 960.2,1239.5 962.2,1239.5 964.2,1240.5 966.2,1241.5 966.3,1240.5 968.2,1239.5 970.2,1238.5 972.2,1237.5 974.2,1237.5 975.2,1236.5 976.2,1235.5 978.2,1236.5 980.2,1236.5 982.2,1235.5 984.2,1235.5 986.2,1235.5 988.2,1234.5 990.2,1234.5 991.7,1234.5 992.2,1234.5 994.2,1236.5 996.2,1239.5 996.8,1239.5 998.2,1241.5 1000.2,1243.5 1001.9,1245.5 1002.2,1245.5 1003.8,1244.5" fill="none" stroke="#000000" stroke-width="1"/>
<polyline points="758.2,1239.5 760.2,1239.5 762.2,1240.5 764.2,1240.5 766.2,1241.5 767.7,1241.5 768.2,1241.5 770.2,1241.5 772.2,1241.5 774.2,1241.5 776.2,1241.5 778.2,1241.5 780.2,1241.5 782.2,1241.5 784.2,1241.5 786.2,1241.5 786.7,1241.5 788.2,1242.5 790.2,1242.5 792.2,1242.5 793.1,1243.5 794.2,1244.5 796.2,1247.5 798.2,1250.5 800.2,1249.5 802.2,1247.5 804.2,1245.5 805.8,1243.5 806.2,1243.5 808.2,1243.5 810.2,1243.5 812.2,1244.5 814.2,1244.5 816,1243.5 816.2,1244.5 818.2,1245.5 820.2,1246.5 822.2,1247.5 824.2,1247.5 824.8,1248.5 826.2,1247.5 828.2,1246.5 830.2,1244.5 832.2,1243.5 833.7,1242.5 834.2,1242.5 836.2,1242.5 838.2,1242.5 840.2,1242.5 841.3,1242.5 842.2,1243.5 844.2,1244.5 846.2,1245.5 847.7,1246.5 848.2,1246.5 850.2,1247.5 852.2,1247.5 854.2,1247.5 856.2,1248.5 856.6,1248.5 858.2,1248.5 860.2,1247.5 862.2,1247.5 864.2,1246.5 866.2,1245.5 868.2,1245.5 869.3,1244.5 870.2,1244.5 872.2,1244.5 874.2,1243.5 876.2,1243.5 878.2,1242.5 880.2,1242.5 882.2,1241.5 884.2,1241.5 885,1241.5 886.2,1240.5 887.6,1240.5 888.2,1241.5 890.2,1241.5 892.2,1243.5 894.2,1244.5 895.2,1244.5 896.2,1244.5 898.2,1244.5 900.2,1244.5 902.2,1244.5 904.2,1244.5 905.4,1244.5 906.2,1244.5 908.2,1243.5 910.2,1243.5 912.2,1242.5 914.2,1242.5 915.5,1241.5 916.2,1241.5 918.2,1241.5 920.2,1241.5 922.2,1241.5 923.2,1242.5 924.2,1240.5 925.7,1238.5 926.2,1238.5 928.2,1238.5 930.2,1238.5 932.2,1239.5 934.2,1239.5 936.2,1239.5 938.2,1239.5 940.2,1240.5 942.2,1240.5 943.5,1240.5 944.2,1240.5 946.2,1241.5 948.2,1243.5 950.2,1244.5 951.1,1244.5 952.2,1244.5 954.2,1244.5 956.2,1244.5 958.2,1243.5 960.2,1244.5 962.2,1244.5 964.2,1243.5 966.2,1243.5 966.3,1243.5 968.2,1242.5 970.2,1242.5 972.2,1241.5 974.2,1240.5 976.2,1239.5 978.2,1238.5 979,1238.5 980.2,1239.5 982.2,1239.5 984.2,1239.5 986.2,1239.5 988.2,1239.5 990.2,1239.5 991.7,1239.5 992.2,1239.5 994.2,1240.5 996.2,1241.5 996.8,1241.5 998.2,1243.5 1000.2,1245.5 1001.9,1248.5 1002.2,1248.5 1003.8,1248.5" fill="none" stroke="#b90000" stroke-width="1"/>
<polyline points="758.2,1239.5 760.2,1239.5 762.2,1240.5 764.2,1240.5 766.2,1241.5 767.7,1241.5 768.2,1241.5 770.2,1241.5 772.2,1241.5 774.2,1240.5 776.2,1241.5 778.2,1241.5 780.2,1241.5 782.2,1240.5 784.2,1240.5 786.2,1240.5 786.7,1240.5 788.2,1241.5 790.2,1242.5 792.2,1243.5 793.1,1243.5 794.2,1245.5 796.2,1248.5 798.2,1251.5 800.2,1249.5 802.2,1247.5 804.2,1244.5 805.8,1243.5 806.2,1243.5 808.2,1243.5 810.2,1243.5 812.2,1243.5 814.2,1243.5 816,1244.5 816.2,1244.5 818.2,1245.5 820.2,1246.5 822.2,1247.5 824.2,1248.5 824.8,1248.5 826.2,1247.5 828.2,1246.5 830.2,1245.5 832.2,1243.5 833.7,1242.5 834.2,1242.5 836.2,1242.5 838.2,1242.5 840.2,1241.5 841.3,1241.5 842.2,1242.5 844.2,1243.5 846.2,1245.5 847.7,1246.5 848.2,1246.5 850.2,1247.5 852.2,1247.5 854.2,1248.5 856.2,1249.5 856.6,1249.5 858.2,1248.5 860.2,1248.5 862.2,1247.5 864.2,1246.5 866.2,1245.5 868.2,1244.5 869.3,1243.5 870.2,1243.5 872.2,1244.5 874.2,1243.5 876.2,1243.5 878.2,1242.5 880.2,1241.5 882.2,1241.5 884.2,1240.5 885,1240.5 886.2,1240.5 887.6,1240.5 888.2,1240.5 890.2,1241.5 892.2,1243.5 894.2,1244.5 895.2,1245.5 896.2,1245.5 898.2,1245.5 900.2,1245.5 902.2,1245.5 904.2,1245.5 905.4,1244.5 906.2,1244.5 908.2,1244.5 910.2,1243.5 912.2,1243.5 914.2,1242.5 915.5,1242.5 916.2,1242.5 918.2,1242.5 920.2,1241.5 922.2,1241.5 923.2,1241.5 924.2,1240.5 925.7,1238.5 926.2,1238.5 928.2,1238.5 930.2,1238.5 932.2,1238.5 934.2,1238.5 936.2,1238.5 938.2,1238.5 940.2,1238.5 942.2,1238.5 943.5,1239.5 944.2,1239.5 946.2,1240.5 948.2,1242.5 950.2,1243.5 951.1,1244.5 952.2,1244.5 954.2,1244.5 956.2,1245.5 958.2,1245.5 960.2,1244.5 962.2,1244.5 964.2,1243.5 966.2,1243.5 966.3,1243.5 968.2,1242.5 970.2,1242.5 972.2,1241.5 974.2,1241.5 976.2,1240.5 978.2,1240.5 979,1239.5 980.2,1240.5 982.2,1240.5 984.2,1240.5 986.2,1240.5 988.2,1240.5 990.2,1239.5 991.7,1240.5 992.2,1240.5 994.2,1240.5 996.2,1240.5 996.8,1241.5 998.2,1243.5 1000.2,1245.5 1001.9,1247.5 1002.2,1247.5 1003.8,1247.5" fill="none" stroke="#b90000" stroke-width="1"/>
<polyline points="20,1141.5 22,1140.5 24,1140.5 26,1139.5 27,1139.5 28,1139.5 30,1139.5 32,1138.5 34,1138.5 36,1137.5 38,1138.5 40,1139.5 42,1141.5 44,1143.5 45,1144.5" fill="none" stroke="#000000" stroke-width="1"/>
<polyline points="20,1142.5 22,1141.5 24,1141.5 26,1141.5 27,1140.5 28,1140.5 30,1140.5 32,1139.5 34,1138.5 36,1138.5 38,1139.5 40,1139.5 42,1142.5 44,1143.5 45,1144.5" fill="none" stroke="#000000" stroke-width="1"/>
<polyline points="20,1143.5 22,1142.5 24,1142.5 26,1141.5 27,1140.5 28,1140.5 30,1139.5 32,1138.5 34,1138.5 35,1137.5 36,1138.5 38,1140.5 40,1142.5 42,1145.5 44,1147.5 45,1148.5" fill="none" stroke="#b90000" stroke-width="1"/>
<polyline points="20,1144.5 22,1143.5 24,1143.5 26,1142.5 28,1141.5 30,1140.5 32,1139.5 34,1138.5 35,1138.5 36,1139.5 38,1141.5 40,1144.5 42,1146.5 44,1146.5 45,1146.5" fill="none" stroke="#b90000" stroke-width="1"/>
<polyline points="20,1252.5 22,1252.5 24,1252.5 26,1252.5 28,1252.5 30,1252.5 32,1251.5 34,1250.5 35,1250.5 36,1250.5 38,1251.5 40,1252.5 42,1251.5 44,1250.5 45,1249.5" fill="none" stroke="#000000" stroke-width="1"/>
<polyline points="20,1252.5 22,1252.5 24,1252.5 26,1252.5 28,1252.5 30,1252.5 32,1252.5 34,1252.5 35,1252.5 36,1253.5 38,1254.5 40,1253.5 42,1252.5 44,1251.5 45,1250.5" fill="none" stroke="#b90000" stroke-width="1"/>
<polyline points="679,1165.5 681,1166.5 683,1168.5" fill="none" stroke="#b90000" stroke-width="1"/>
<polyline points="679,1170.5 681,1172.5 683,1174.5" fill="none" stroke="#000000" stroke-width="1"/>
<polyline points="679,1233.5 683,1235.5" fill="none" stroke="#000000" stroke-width="1"/>
<polyline points="679,1237.5 683,1239.5" fill="none" stroke="#b90000" stroke-width="1"/>
<line x1="20" y1="1403.5" x2="46" y2="1403.5" stroke="#986464" stroke-width="1"/>
<line x1="20" y1="1410.5" x2="46" y2="1410.5" stroke="#986464" stroke-width="1"/>
<line x1="109" y1="1403.5" x2="623" y2="1403.5" stroke="#986464" stroke-width="1"/>
<line x1="109" y1="1410.5" x2="623" y2="1410.5" stroke="#986464" stroke-width="1"/>
<line x1="679" y1="1403.5" x2="683" y2="1403.5" stroke="#986464" stroke-width="1"/>
<line x1="679" y1="1410.5" x2="683" y2="1410.5" stroke="#986464" stroke-width="1"/>
<line x1="759" y1="1403.5" x2="1004" y2="1403.5" stroke="#986464" stroke-width="1"/>
<line x1="759" y1="1410.5" x2="1004" y2="1410.5" stroke="#986464" stroke-width="1"/>
<line x1="20" y1="1480.5" x2="45" y2="1480.5" stroke="#986464" stroke-width="1"/>
<line x1="20" y1="1487.5" x2="45" y2="1487.5" stroke="#986464" stroke-width="1"/>
<line x1="109" y1="1480.5" x2="623" y2="1480.5" stroke="#986464" stroke-width="1"/>
<line x1="109" y1="1487.5" x2="623" y2="1487.5" stroke="#986464" stroke-width="1"/>
<line x1="679" y1="1480.5" x2="683" y2="1480.5" stroke="#986464" stroke-width="1"/>
<line x1="679" y1="1487.5" x2="683" y2="1487.5" stroke="#986464" stroke-width="1"/>
<line x1="759" y1="1480.5" x2="1004" y2="1480.5" stroke="#986464" stroke-width="1"/>
<line x1="759" y1="1487.5" x2="1004" y2="1487.5" stroke="#986464" stroke-width="1"/>
<polyline points="108.9,1398.5 110.9,1398.5 112.9,1398.5 114.9,1398.5 116.9,1398.5 118.9,1399.5 119.1,1399.5 120.9,1403.5 122.6,1407.5 122.9,1406.5 124.9,1407.5 126.9,1407.5 128.9,1407.5 130.9,1407.5 131.4,1407.5 132.9,1410.5 134.9,1412.5 136.9,1413.5 138.9,1414.5 139.3,1414.5 140.9,1410.5 141.9,1408.5 142.9,1408.5 144.9,1407.5 146.9,1406.5 147.2,1406.5 148.9,1406.5 150.9,1406.5 152.9,1406.5 154.9,1406.5 156.9,1406.5 158.9,1406.5 160.9,1406.5 162.9,1407.5 164.9,1407.5 166.5,1407.5 166.9,1407.5 168.9,1407.5 170.9,1407.5 172.9,1408.5 174.9,1408.5 175.3,1408.5 176.9,1408.5 178.9,1408.5 180.9,1408.5 182.9,1408.5 184.9,1408.5 186.9,1408.5 188.9,1407.5 190.9,1407.5 192.9,1407.5 194.9,1407.5 196.9,1407.5 198.9,1407.5 200.9,1406.5 202.9,1406.5 204.9,1406.5 206.9,1406.5 207,1406.5 208.9,1407.5 210.9,1408.5 212.9,1409.5 214,1409.5 214.9,1410.5 216.9,1411.5 218.9,1412.5 220.9,1414.5 221,1414.5 222.9,1414.5 224.9,1415.5 226.9,1416.5 228,1416.5 228.9,1416.5 230.9,1416.5 232.9,1416.5 234.9,1416.5 236.9,1415.5 238.6,1416.5 238.9,1416.5 240.9,1415.5 242.9,1414.5 244.9,1413.5 245.6,1413.5 246.9,1414.5 248.9,1415.5 250.9,1415.5 252.9,1416.5 254.4,1416.5 254.9,1417.5 256.9,1417.5 258.9,1418.5 259.7,1418.5 260.9,1418.5 262.9,1418.5 264.9,1418.5 266.9,1418.5 268.9,1418.5 270.2,1417.5 270.9,1417.5 272.9,1416.5 274.9,1414.5 276.9,1413.5 277.3,1413.5 278.9,1413.5 280.9,1413.5 282.9,1413.5 284.9,1412.5 285,1412.5 286.9,1411.5 288.8,1410.5 288.9,1410.5 290.9,1411.5 292.9,1411.5 294.9,1411.5 296.9,1411.5 297.6,1411.5 298.9,1412.5 300.9,1412.5 302.9,1411.5 304.9,1411.5 306.9,1411.5 308.9,1411.5 310.9,1411.5 312.9,1411.5 314.9,1412.5 316.9,1411.5 318.9,1411.5 320.9,1411.5 322.9,1411.5 324.9,1411.5 326.9,1411.5 328.9,1411.5 330.9,1411.5 332.7,1411.5 332.9,1411.5 334.9,1411.5 336.9,1411.5 338.9,1411.5 340.9,1411.5 342.9,1411.5 343.3,1411.5 344.9,1412.5 346.9,1414.5 348.9,1416.5 350.9,1417.5 352.1,1418.5 352.9,1418.5 354.9,1419.5 356.9,1420.5 358.9,1420.5 360.9,1422.5 362.9,1423.5 364.4,1424.5 364.9,1423.5 366.9,1423.5 368.9,1423.5 370.9,1423.5 372.9,1424.5 374.9,1423.5 376.9,1423.5 378.9,1422.5 380.9,1422.5 382.9,1421.5 384.9,1420.5 385.5,1420.5 386.9,1422.5 388.9,1424.5 390.7,1425.5 390.9,1426.5 392.9,1426.5 394.9,1426.5 396.9,1426.5 398.9,1426.5 400.9,1426.5 402.9,1426.5 404.9,1426.5 406.9,1426.5 408.9,1426.5 410.9,1426.5 411.8,1426.5 412.9,1426.5 414.9,1425.5 416.9,1425.5 418.9,1424.5 420.6,1423.5 420.9,1423.5 422.9,1422.5 424.9,1421.5 426.9,1421.5 428.9,1420.5 430.9,1419.5 432.9,1418.5 434.9,1418.5 436.9,1417.5 438.2,1417.5 438.9,1418.5 440.9,1423.5 441.7,1426.5 442.9,1426.5 444.9,1426.5 446.9,1425.5 448.9,1425.5 450.9,1425.5 452.9,1425.5 454.9,1425.5 456.9,1424.5 458.9,1424.5 460,1424.5 460.9,1424.5 462.9,1424.5 464.9,1423.5 466.9,1423.5 468.9,1423.5 470.9,1423.5 472.9,1423.5 474.6,1422.5 474.9,1422.5 476.9,1422.5 478.9,1422.5 480.9,1422.5 482.9,1421.5 484.9,1421.5 485.2,1421.5 486.9,1421.5 488.9,1421.5 490.9,1421.5 492.9,1421.5 494.9,1421.5 496.9,1421.5 498.9,1421.5 500.9,1421.5 502.7,1422.5 502.9,1422.5 504.9,1423.5 506.9,1425.5 508,1425.5 508.9,1425.5 510.9,1425.5 512.9,1425.5 513.3,1425.5 514.9,1423.5 516.8,1420.5 516.9,1420.5 518.9,1420.5 520.9,1419.5 522.9,1419.5 524.9,1419.5 525.6,1419.5 526.9,1420.5 528.9,1421.5 530.9,1422.5 532.6,1422.5 532.9,1423.5 534.9,1424.5 536.9,1425.5 538.9,1426.5 540.9,1427.5 542.9,1428.5 544.9,1429.5 546.9,1429.5 548.9,1428.5 550.9,1427.5 552.9,1427.5 554.9,1426.5 555.5,1426.5 556.9,1426.5 558.9,1425.5 560.9,1424.5 562.9,1424.5 564.9,1424.5 566.9,1423.5 568.9,1423.5 570.9,1423.5 572.9,1422.5 573,1422.5 574.9,1423.5 576.9,1424.5 578.9,1426.5 580.1,1426.5 580.9,1426.5 582.9,1426.5 584.9,1426.5 586.9,1426.5 588.9,1426.5 590.9,1426.5 592.9,1425.5 594.9,1425.5 596.9,1425.5 598.9,1425.5 600.9,1425.5 602.9,1425.5 604.9,1424.5 606.9,1424.5 608.2,1424.5 608.9,1424.5 610.9,1424.5 612.9,1424.5 614.9,1423.5 616.9,1422.5 618.9,1422.5 620.9,1422.5 622.9,1422.5 623.1,1421.5" fill="none" stroke="#c4d400" stroke-width="1"/>
<polyline points="108.9,1399.5 110.9,1399.5 112.9,1399.5 114.9,1399.5 116.9,1399.5 118.9,1399.5 119.1,1399.5 120.9,1402.5 122.6,1405.5 122.9,1405.5 124.9,1406.5 126.9,1406.5 128.9,1406.5 130.9,1407.5 131.4,1407.5 132.9,1407.5 134.9,1407.5 136.9,1407.5 138.9,1407.5 140.9,1408.5 141.9,1407.5 142.9,1407.5 144.9,1407.5 146.9,1408.5 148.9,1408.5 150.9,1408.5 152.9,1408.5 154.9,1408.5 156.9,1408.5 158.9,1408.5 160.9,1408.5 162.9,1408.5 164.9,1408.5 166.5,1408.5 166.9,1408.5 168.9,1407.5 170.9,1407.5 172.9,1407.5 174.9,1407.5 176.9,1407.5 178.9,1407.5 180.9,1407.5 182.9,1408.5 184.9,1407.5 186.9,1407.5 188.9,1407.5 190.9,1407.5 192.9,1407.5 194.9,1407.5 196.9,1407.5 198.9,1406.5 200.9,1406.5 202.9,1407.5 204.9,1406.5 206.9,1407.5 207,1407.5 208.9,1407.5 210.9,1408.5 212.9,1408.5 214,1408.5 214.9,1408.5 216.9,1409.5 218.9,1410.5 220.9,1411.5 221,1410.5 222.9,1411.5 224.9,1411.5 226.9,1411.5 228.9,1411.5 230.9,1411.5 232.9,1411.5 234.9,1411.5 236.9,1411.5 238.6,1411.5 238.9,1411.5 240.9,1411.5 242.9,1411.5 244.9,1411.5 246.9,1411.5 248.9,1411.5 250.9,1411.5 252.9,1411.5 254.4,1411.5 254.9,1411.5 256.9,1411.5 258.9,1412.5 260.9,1412.5 262.9,1412.5 264.9,1413.5 266.9,1413.5 268.9,1413.5 270.2,1414.5 270.9,1414.5 272.9,1413.5 274.9,1412.5 276.9,1411.5 277.3,1411.5 278.9,1412.5 280.9,1412.5 282.9,1412.5 284.9,1412.5 285,1412.5 286.9,1412.5 288.9,1412.5 290.9,1412.5 292.9,1412.5 294.9,1412.5 296.9,1412.5 297.6,1412.5 298.9,1412.5 300.9,1413.5 302.9,1412.5 304.9,1412.5 306.9,1412.5 308.9,1412.5 310.9,1412.5 312.9,1412.5 314.9,1412.5 316.9,1412.5 318.9,1412.5 320.9,1412.5 322.9,1412.5 324.9,1412.5 326.9,1412.5 328.9,1411.5 330.9,1411.5 332.9,1411.5 334.9,1411.5 336.9,1412.5 338.9,1412.5 340.9,1411.5 342.9,1412.5 343.3,1411.5 344.9,1413.5 346.9,1414.5 348.9,1416.5 350.9,1417.5 352.9,1418.5 353.8,1419.5 354.9,1419.5 356.9,1420.5 358.9,1421.5 360.9,1422.5 362.9,1423.5 364.9,1423.5 366,1424.5 366.9,1424.5 368.9,1424.5 370.9,1424.5 372.9,1423.5 374.9,1423.5 376.9,1422.5 378.9,1422.5 380.9,1422.5 382.9,1421.5 384.9,1421.5 385.5,1421.5 386.9,1423.5 388.9,1425.5 390.7,1427.5 390.9,1427.5 392.9,1427.5 394.9,1427.5 396.9,1427.5 398.9,1427.5 400.9,1427.5 402.9,1427.5 404.9,1427.5 406.9,1427.5 408.9,1427.5 410.9,1427.5 411.8,1427.5 412.9,1426.5 414.9,1426.5 416.9,1425.5 418.9,1424.5 420.6,1424.5 420.9,1424.5 422.9,1423.5 424.9,1423.5 426.9,1422.5 428.9,1421.5 430.9,1420.5 432.9,1420.5 434.9,1419.5 436.9,1419.5 438.2,1418.5 438.9,1419.5 440.9,1424.5 441.7,1426.5 442.9,1426.5 444.9,1426.5 446.9,1426.5 448.9,1426.5 450.9,1426.5 452.9,1425.5 454.9,1425.5 456.9,1426.5 458.9,1425.5 460,1425.5 460.9,1425.5 462.9,1424.5 464.9,1423.5 466.9,1422.5 468.9,1422.5 470.9,1421.5 472.9,1420.5 474.9,1419.5 476.4,1418.5 476.9,1418.5 478.9,1418.5 480.9,1418.5 482.9,1418.5 484.9,1418.5 486.9,1418.5 488.9,1418.5 490.9,1418.5 492.9,1418.5 494.9,1418.5 496.9,1418.5 498.9,1418.5 499.2,1418.5 500.9,1419.5 502.9,1420.5 504.9,1421.5 506.2,1422.5 506.9,1423.5 508.9,1426.5 510.9,1430.5 511.5,1431.5 512.9,1431.5 514.9,1431.5 515,1431.5 516.9,1424.5 518,1420.5 518.9,1421.5 520.9,1420.5 522.9,1420.5 524.9,1420.5 525.6,1420.5 526.9,1421.5 528.9,1421.5 530.9,1422.5 532.6,1423.5 532.9,1423.5 534.9,1424.5 536.9,1425.5 538.9,1427.5 540.9,1428.5 542.9,1429.5 544.9,1430.5 546.9,1430.5 548.9,1429.5 550.9,1428.5 552.9,1427.5 554.9,1427.5 555.5,1426.5 556.9,1426.5 558.9,1425.5 560.9,1425.5 562.9,1424.5 564.9,1424.5 566.9,1424.5 568.9,1423.5 570.9,1423.5 572.9,1422.5 573,1422.5 574.9,1423.5 576.9,1425.5 578.9,1426.5 580.1,1427.5 580.9,1427.5 582.9,1426.5 584.9,1426.5 586.9,1426.5 588.9,1426.5 590.9,1426.5 592.9,1426.5 594.9,1426.5 596.9,1426.5 598.9,1426.5 600.9,1425.5 602.9,1425.5 604.9,1425.5 606.9,1424.5 608.2,1424.5 608.9,1424.5 610.9,1424.5 612.9,1424.5 614.9,1423.5 616.9,1423.5 618.9,1423.5 620.9,1422.5 622.9,1422.5 623.1,1422.5" fill="none" stroke="#c4d400" stroke-width="1"/>
<polyline points="108.9,1400.5 110.9,1401.5 112,1402.5 112.9,1402.5 114.9,1402.5 116.9,1402.5 118.9,1402.5 120.8,1402.5 120.9,1402.5 122.9,1402.5 124.9,1403.5 126.9,1403.5 128.9,1403.5 130.9,1404.5 131.4,1404.5 132.9,1405.5 134.9,1406.5 136.6,1408.5 136.9,1407.5 138.9,1407.5 140.9,1406.5 142.9,1405.5 143.7,1405.5 144.9,1405.5 146.9,1406.5 148.9,1406.5 150.9,1406.5 152.9,1406.5 154.9,1406.5 156.9,1406.5 158.9,1406.5 160.9,1406.5 162.9,1406.5 164.9,1406.5 166.9,1406.5 168.9,1406.5 170.9,1406.5 171.8,1407.5 172.9,1408.5 174.9,1409.5 175.3,1410.5 176.9,1409.5 178.9,1408.5 180.9,1407.5 182.3,1406.5 182.9,1406.5 184.9,1407.5 186.9,1407.5 187.6,1408.5 188.9,1410.5 189.4,1411.5 190.9,1410.5 192.9,1407.5 194.6,1405.5 194.9,1405.5 196.9,1405.5 198.9,1405.5 200.9,1405.5 202.9,1405.5 204.9,1404.5 206.9,1404.5 207,1404.5 208.9,1405.5 210.9,1405.5 212.9,1406.5 214.9,1407.5 216.9,1407.5 217.5,1407.5 218.9,1410.5 220.9,1413.5 222.8,1416.5 222.9,1417.5 224.5,1423.5 224.9,1423.5 226.9,1423.5 228.9,1423.5 229.8,1423.5 230.9,1422.5 232.9,1420.5 234.9,1419.5 235.1,1419.5 236.9,1414.5 238.9,1410.5 240.3,1406.5 240.9,1406.5 242.9,1406.5 244.9,1406.5 246.9,1405.5 248.9,1405.5 250.9,1405.5 252.9,1407.5 254.9,1409.5 256.2,1410.5 256.9,1410.5 258.9,1412.5 260.9,1413.5 262.9,1414.5 263.2,1415.5 264.9,1416.5 266.9,1418.5 268.9,1419.5 270.9,1420.5 271.1,1421.5 272.9,1417.5 274.9,1413.5 276.9,1408.5 277.3,1407.5 278.9,1407.5 280.9,1407.5 282.9,1407.5 284.9,1407.5 285,1407.5 286.9,1406.5 288.8,1405.5 288.9,1405.5 290.9,1406.5 292.9,1408.5 294.9,1409.5 295.8,1410.5 296.9,1410.5 298.9,1410.5 300.9,1410.5 302.9,1410.5 304.9,1410.5 306.9,1410.5 308.1,1411.5 308.9,1409.5 309.9,1407.5 310.9,1407.5 312.9,1406.5 314.9,1405.5 315.2,1405.5 316.9,1405.5 318.9,1404.5 320.9,1404.5 322.9,1403.5 323.9,1403.5 324.9,1403.5 326.9,1403.5 328.9,1402.5 330.9,1402.5 332.7,1402.5 332.9,1402.5 334.9,1402.5 336.9,1401.5 338.9,1401.5 340.9,1400.5 341.5,1400.5 342.9,1401.5 344.9,1402.5 346.8,1402.5 346.9,1403.5 348.9,1407.5 350.3,1411.5 350.9,1411.5 352.9,1413.5 354.9,1414.5 356.9,1414.5 357.3,1415.5 358.9,1415.5 360.9,1416.5 362.9,1418.5 364.9,1419.5 366.1,1419.5 366.9,1419.5 368.9,1419.5 370.9,1419.5 372.9,1419.5 374.9,1419.5 376.9,1418.5 378.9,1417.5 380.9,1416.5 382.9,1416.5 384.9,1415.5 385.5,1414.5 386.9,1416.5 388.9,1419.5 390.7,1421.5 390.9,1421.5 392.9,1421.5 394.9,1420.5 396.9,1420.5 398.9,1419.5 400.9,1419.5 402.9,1419.5 403,1419.5 404.9,1419.5 406.9,1419.5 408.9,1418.5 410,1418.5 410.9,1417.5 412.9,1416.5 414.9,1415.5 416.9,1414.5 417.1,1414.5 418.9,1414.5 420.9,1414.5 422.9,1414.5 424.9,1413.5 426.9,1413.5 428.9,1414.5 429.4,1413.5 430.9,1414.5 432.9,1414.5 434.9,1414.5 436.9,1414.5 438.2,1415.5 438.9,1419.5 440.8,1430.5 440.9,1430.5 442.9,1436.5 443.5,1438.5 444.9,1435.5 446.9,1430.5 447,1430.5 448.9,1424.5 450.5,1420.5 450.9,1419.5 452.9,1418.5 454.9,1416.5 455.3,1415.5 456.9,1415.5 458.9,1416.5 460.5,1417.5 460.9,1417.5 462.9,1417.5 464.9,1417.5 466.9,1416.5 468.9,1416.5 470.9,1416.5 472.9,1416.5 474.6,1415.5 474.9,1415.5 476.9,1414.5 478.9,1413.5 480.9,1412.5 481.6,1412.5 482.9,1412.5 484.9,1412.5 486.9,1412.5 488.9,1412.5 490.9,1412.5 492.9,1412.5 494.9,1413.5 496.9,1412.5 498.9,1412.5 500.9,1413.5 502.7,1412.5 502.9,1412.5 504.9,1413.5 506.9,1414.5 508.9,1414.5 510.9,1415.5 512.9,1416.5 513.3,1416.5 514.9,1415.5 516.9,1414.5 518.9,1412.5 520.3,1411.5 520.9,1411.5 522.9,1411.5 524.9,1411.5 526.9,1411.5 528.9,1411.5 530,1411.5 530.9,1411.5 532.9,1412.5 534.9,1414.5 536.9,1415.5 537.9,1416.5 538.9,1416.5 540.9,1416.5 542.9,1416.5 544.9,1417.5 546.9,1417.5 548.4,1417.5 548.9,1417.5 550.9,1417.5 552.9,1416.5 554.9,1416.5 556.9,1416.5 558.9,1416.5 559,1416.5 560.9,1416.5 562.9,1415.5 564.9,1415.5 566.9,1414.5 568.9,1414.5 570.9,1413.5 572.9,1413.5 573,1413.5 574.9,1414.5 576.9,1416.5 578.9,1418.5 580.1,1419.5 580.9,1419.5 582.9,1419.5 584.9,1419.5 586.9,1419.5 588.9,1419.5 590.6,1419.5 590.9,1419.5 592.9,1417.5 594.9,1416.5 596.9,1415.5 598.9,1413.5 599.4,1413.5 600.9,1413.5 602.9,1412.5 604.9,1412.5 606.9,1412.5 608.9,1412.5 610.9,1412.5 611.7,1412.5 612.9,1413.5 614.9,1415.5 616.1,1416.5 616.9,1416.5 618.9,1416.5 620.9,1416.5 622.9,1416.5 623.1,1416.5" fill="none" stroke="#000000" stroke-width="1"/>
<polyline points="108.9,1402.5 110.9,1405.5 112,1407.5 112.9,1407.5 114.9,1407.5 116.9,1407.5 118.9,1407.5 120.8,1407.5 120.9,1407.5 122.9,1407.5 124.9,1406.5 126.9,1406.5 128.9,1406.5 130.9,1405.5 131.4,1406.5 132.9,1406.5 134.9,1406.5 136.9,1406.5 138.9,1406.5 140.9,1406.5 142.9,1406.5 143.7,1406.5 144.9,1406.5 146.9,1406.5 148.9,1406.5 150.9,1406.5 152.9,1406.5 154.9,1406.5 156.9,1407.5 158.9,1407.5 160.9,1407.5 162.9,1407.5 164.9,1407.5 166.9,1407.5 168.9,1407.5 170.9,1407.5 171.8,1408.5 172.9,1407.5 174.9,1407.5 176.9,1407.5 178.9,1407.5 180.9,1406.5 182.9,1407.5 184.9,1406.5 186.9,1406.5 188.9,1406.5 190.9,1406.5 192.9,1406.5 194.9,1406.5 196.9,1406.5 198.9,1406.5 200.9,1406.5 202.9,1405.5 204.9,1405.5 206.9,1405.5 207,1405.5 208.9,1405.5 210.9,1406.5 212.9,1406.5 214.9,1407.5 216.9,1408.5 217.5,1408.5 218.9,1408.5 220.9,1409.5 222.9,1409.5 224.5,1410.5 224.9,1410.5 226.9,1410.5 228.9,1410.5 230.9,1410.5 232.9,1410.5 234.9,1410.5 236.8,1410.5 236.9,1410.5 238.9,1410.5 240.9,1409.5 242.9,1409.5 244.9,1409.5 246.9,1408.5 248.9,1408.5 250.9,1407.5 252.9,1407.5 254.9,1407.5 256.2,1406.5 256.9,1408.5 258.9,1411.5 259.7,1412.5 260.9,1412.5 262.9,1412.5 264.9,1411.5 266.9,1411.5 268.9,1411.5 270.2,1411.5 270.9,1411.5 272.9,1410.5 274.9,1409.5 276.9,1408.5 277.3,1408.5 278.9,1408.5 280.9,1408.5 282.9,1408.5 284.9,1407.5 285,1408.5 286.9,1408.5 288.9,1409.5 290.9,1409.5 292.9,1410.5 294.9,1410.5 295.8,1411.5 296.9,1411.5 298.9,1411.5 300.9,1411.5 302.9,1411.5 304.9,1411.5 306.9,1412.5 308.1,1412.5 308.9,1412.5 310.9,1411.5 312.9,1410.5 314.9,1410.5 316.9,1409.5 318.9,1408.5 320.9,1408.5 322.2,1407.5 322.9,1407.5 324.9,1407.5 326.9,1407.5 328.9,1408.5 330.9,1408.5 332.9,1408.5 334.9,1408.5 336.9,1408.5 338.9,1408.5 340.9,1408.5 341.5,1408.5 342.9,1408.5 344.9,1407.5 346.8,1407.5 346.9,1407.5 348.9,1410.5 350.3,1411.5 350.9,1412.5 352.9,1413.5 354.9,1414.5 356.9,1415.5 358.9,1416.5 360.9,1417.5 362.9,1418.5 364.9,1420.5 366.1,1420.5 366.9,1420.5 368.9,1419.5 370.9,1419.5 372.9,1419.5 374.9,1418.5 376.9,1418.5 378.9,1417.5 380.9,1417.5 382.9,1416.5 384.9,1415.5 385.5,1415.5 386.9,1417.5 388.9,1421.5 390.9,1423.5 392.5,1426.5 392.9,1426.5 394.9,1426.5 396.9,1426.5 398.9,1425.5 400.9,1426.5 402.9,1426.5 404.9,1425.5 406.9,1425.5 408.9,1425.5 410.9,1425.5 412.9,1425.5 413.6,1425.5 414.9,1423.5 416.9,1421.5 418.9,1418.5 420.6,1416.5 420.9,1416.5 422.9,1416.5 424.9,1415.5 426.9,1414.5 428.9,1414.5 430.9,1413.5 431.2,1413.5 432.9,1413.5 434.9,1413.5 436.9,1413.5 438.2,1414.5 438.9,1415.5 440.9,1420.5 441.7,1422.5 442.9,1422.5 444.9,1423.5 446.9,1424.5 448.9,1426.5 450,1426.5 450.9,1425.5 452.9,1424.5 454.9,1422.5 455.8,1421.5 456.9,1421.5 458.9,1421.5 460.9,1420.5 462.9,1420.5 464.9,1420.5 466.9,1420.5 467.6,1420.5 468.9,1419.5 470.9,1418.5 472.9,1417.5 474.9,1416.5 476.9,1414.5 478.1,1413.5 478.9,1413.5 480.9,1413.5 482.9,1413.5 484.9,1413.5 486.9,1413.5 488.9,1414.5 490.9,1414.5 492.9,1413.5 494.9,1413.5 496.9,1413.5 498.9,1414.5 500.9,1414.5 502.7,1414.5 502.9,1414.5 504.9,1413.5 506.9,1413.5 508.9,1413.5 510.9,1413.5 512.9,1413.5 514.9,1413.5 516.8,1413.5 516.9,1413.5 518.9,1412.5 520.9,1412.5 522.9,1412.5 524.9,1412.5 526.9,1411.5 528,1411.5 528.9,1415.5 530.9,1422.5 532.9,1422.5 534.9,1422.5 536.9,1422.5 538.9,1422.5 540.9,1422.5 542.9,1422.5 544.9,1422.5 546.9,1422.5 548.9,1421.5 550.9,1421.5 552.9,1420.5 554.9,1420.5 555.5,1420.5 556.9,1421.5 558.9,1422.5 560.9,1424.5 562.5,1426.5 562.9,1426.5 564.9,1425.5 566.9,1424.5 568.9,1423.5 570.9,1422.5 572.9,1421.5 573,1421.5 574.9,1422.5 576.9,1424.5 578.9,1426.5 580.1,1427.5 580.9,1427.5 582.9,1428.5 584.9,1429.5 586.9,1431.5 587.1,1431.5 588.9,1432.5 590.9,1432.5 592.9,1432.5 594.1,1433.5 594.9,1427.5 595.9,1420.5 596.9,1418.5 598.9,1416.5 600.9,1414.5 601.2,1414.5 602.9,1414.5 604.9,1413.5 606.9,1414.5 608.9,1414.5 610.9,1414.5 612.9,1414.5 614.9,1414.5 616.9,1414.5 618.9,1414.5 620.9,1414.5 622.9,1414.5 623.1,1414.5" fill="none" stroke="#000000" stroke-width="1"/>
<polyline points="108.9,1488.5 110.9,1488.5 112.9,1488.5 114.9,1488.5 116.9,1489.5 118.9,1489.5 120.9,1489.5 122.9,1489.5 124.9,1489.5 126.9,1489.5 128.9,1490.5 130.9,1490.5 131.4,1490.5 132.9,1490.5 134.9,1490.5 136.9,1490.5 138.9,1490.5 140.9,1490.5 142.9,1490.5 144.9,1490.5 146.9,1490.5 148.9,1490.5 150.9,1490.5 152.9,1490.5 154.9,1490.5 156,1490.5 156.9,1491.5 158.9,1493.5 160.9,1495.5 162.9,1497.5 163,1497.5 164.9,1497.5 166.9,1498.5 168.9,1498.5 170.9,1498.5 172.9,1498.5 174.9,1498.5 175.3,1498.5 176.9,1498.5 178.9,1498.5 180.9,1498.5 182.9,1498.5 184.9,1498.5 186.9,1498.5 188.9,1498.5 190.9,1498.5 192.9,1498.5 194.9,1498.5 196.9,1498.5 198.9,1499.5 200.9,1499.5 202.9,1499.5 204.9,1499.5 206.9,1499.5 208.9,1499.5 210.5,1499.5 210.9,1499.5 212.9,1499.5 214.9,1498.5 216.9,1498.5 218.9,1497.5 220.9,1497.5 222.9,1497.5 224.9,1497.5 226.9,1496.5 228,1496.5 228.9,1495.5 230.9,1494.5 232.9,1492.5 234.9,1490.5 235.1,1490.5 236.9,1488.5 238.6,1486.5 238.9,1486.5 240.9,1486.5 242.9,1486.5 244.9,1486.5 246.9,1486.5 248.9,1486.5 250.9,1486.5 252.9,1486.5 254.9,1486.5 256.9,1486.5 258.9,1486.5 260.9,1486.5 262.9,1486.5 263.2,1486.5 264.9,1486.5 266.9,1486.5 268.9,1486.5 270.9,1486.5 272.9,1486.5 274.9,1486.5 276.9,1486.5 278.9,1486.5 280.8,1486.5 280.9,1486.5 282.9,1485.5 284.9,1485.5 285,1485.5 286.9,1484.5 287,1484.5 288.9,1485.5 290.9,1485.5 292.9,1486.5 294.9,1487.5 296.9,1487.5 297.6,1488.5 298.9,1487.5 300.9,1487.5 302.9,1486.5 304.9,1486.5 306.9,1486.5 308.1,1485.5 308.9,1486.5 310.9,1486.5 312.9,1487.5 314.9,1488.5 316.9,1488.5 318.7,1488.5 318.9,1488.5 320.9,1488.5 322.9,1487.5 324.9,1486.5 326.9,1486.5 328.9,1485.5 329.2,1485.5 330.9,1484.5 332.9,1485.5 334.9,1485.5 336.9,1485.5 338.9,1484.5 340.9,1484.5 341.5,1484.5 342.9,1487.5 344.9,1490.5 345.9,1491.5 346.9,1492.5 348.9,1493.5 350.9,1495.5 352.9,1496.5 354.9,1497.5 356.9,1499.5 357.3,1499.5 358.9,1498.5 360.9,1497.5 362.9,1496.5 364.4,1495.5 364.9,1495.5 366.9,1495.5 368.9,1495.5 370.9,1494.5 372.9,1494.5 374.9,1494.5 376.9,1494.5 378.9,1493.5 380.9,1493.5 382,1493.5 382.9,1493.5 384.9,1494.5 386.9,1495.5 388.9,1495.5 390.9,1497.5 392.5,1497.5 392.9,1497.5 394.9,1496.5 396.9,1495.5 398.9,1494.5 400.9,1493.5 402.9,1492.5 403,1492.5 404.9,1491.5 406.9,1491.5 408.9,1491.5 410.9,1491.5 412.9,1491.5 414.9,1491.5 416.9,1490.5 418.9,1490.5 420.6,1490.5 420.9,1490.5 422.9,1490.5 424.9,1490.5 426.9,1490.5 428.9,1490.5 430.9,1489.5 432.9,1489.5 434.9,1489.5 436.9,1489.5 438.9,1489.5 440.9,1490.5 442.9,1489.5 444.9,1490.5 446.9,1489.5 448.9,1490.5 450,1490.5 450.9,1490.5 452.9,1490.5 454.9,1490.5 456.9,1490.5 458.9,1490.5 460.9,1490.5 462.9,1490.5 464.9,1489.5 466.9,1489.5 468.9,1489.5 470.9,1489.5 472.9,1489.5 474.9,1489.5 476.4,1489.5 476.9,1489.5 478.9,1488.5 480.9,1488.5 482.9,1487.5 484.9,1487.5 485.2,1486.5 486.9,1487.5 488.9,1487.5 490.9,1488.5 492.9,1489.5 494.9,1489.5 495.7,1489.5 496.9,1489.5 498.9,1489.5 500.9,1489.5 502.9,1489.5 504.9,1488.5 506.9,1488.5 508,1488.5 508.9,1488.5 510.9,1487.5 512.9,1485.5 514.9,1484.5 516.9,1484.5 518.9,1483.5 520.3,1482.5 520.9,1482.5 522.9,1482.5 524.9,1482.5 526.9,1482.5 527.3,1482.5 528.9,1483.5 530.9,1484.5 532.9,1485.5 534.9,1486.5 536.9,1487.5 537.9,1487.5 538.9,1488.5 540.9,1488.5 542.9,1489.5 544.9,1489.5 546.9,1490.5 548.4,1490.5 548.9,1490.5 550.9,1490.5 552.9,1490.5 554.9,1490.5 556.9,1490.5 558.9,1490.5 560.9,1490.5 562.9,1490.5 564.9,1490.5 566.9,1490.5 568.9,1490.5 570.9,1490.5 572.9,1490.5 573,1490.5 574.9,1491.5 576.9,1492.5 578.9,1494.5 580.1,1495.5 580.9,1495.5 582.9,1495.5 584.9,1495.5 586.9,1495.5 588.9,1496.5 590.6,1495.5 590.9,1495.5 592.9,1495.5 594.9,1495.5 596.9,1494.5 598.9,1494.5 600.9,1494.5 602.9,1493.5 604.9,1493.5 606.9,1492.5 608.2,1492.5 608.9,1492.5 610.9,1492.5 612.9,1492.5 614.9,1493.5 616.9,1493.5 618.7,1493.5 618.9,1492.5 620.9,1489.5 622.9,1485.5 623.1,1485.5" fill="none" stroke="#c4d400" stroke-width="1"/>
<polyline points="108.9,1489.5 110.9,1489.5 112.9,1490.5 114.9,1490.5 116.9,1490.5 118.9,1491.5 120.9,1491.5 122.9,1491.5 124.9,1492.5 126.9,1492.5 128.9,1492.5 130.9,1493.5 131.4,1493.5 132.9,1492.5 134.9,1492.5 136.9,1493.5 138.9,1492.5 140.2,1492.5 140.9,1492.5 142.9,1492.5 144.9,1492.5 146.9,1491.5 148.9,1491.5 150.9,1491.5 152.9,1490.5 154.9,1491.5 156,1490.5 156.9,1491.5 158.9,1494.5 160.9,1496.5 162.9,1498.5 163,1498.5 164.9,1498.5 166.9,1498.5 168.9,1498.5 170.9,1498.5 172.9,1499.5 174.9,1498.5 175.3,1498.5 176.9,1499.5 178.9,1499.5 180.9,1499.5 182.9,1499.5 184.9,1499.5 186.9,1499.5 188.9,1499.5 190.9,1499.5 192.9,1499.5 194.9,1500.5 196.9,1500.5 198.9,1500.5 200.9,1500.5 202.9,1500.5 204.9,1500.5 206.9,1500.5 208.9,1500.5 210.5,1500.5 210.9,1500.5 212.9,1501.5 214.9,1502.5 216.9,1503.5 218.9,1503.5 220.9,1504.5 222.8,1504.5 222.9,1504.5 224.9,1503.5 226.9,1502.5 228.9,1502.5 230.9,1501.5 231.6,1501.5 232.9,1498.5 234.9,1494.5 235.1,1494.5 236.9,1490.5 238.6,1487.5 238.9,1487.5 240.9,1487.5 242.9,1487.5 244.9,1487.5 246.9,1487.5 248.9,1487.5 250.9,1487.5 252.9,1487.5 254.9,1487.5 256.9,1487.5 258.9,1487.5 260.9,1487.5 262.9,1487.5 263.2,1487.5 264.9,1487.5 266.9,1487.5 268.9,1487.5 270.9,1487.5 272.9,1487.5 274.9,1486.5 276.9,1486.5 278.9,1486.5 280.9,1486.5 282.9,1486.5 284.9,1486.5 285,1486.5 286.9,1486.5 288.9,1487.5 290.9,1487.5 292.9,1487.5 294.9,1488.5 296.9,1488.5 297.6,1488.5 298.9,1488.5 300.9,1488.5 302.9,1488.5 304.9,1488.5 306.9,1488.5 308.9,1488.5 310.9,1489.5 312.9,1489.5 314.9,1489.5 316.9,1489.5 318.7,1489.5 318.9,1489.5 320.9,1488.5 322.9,1488.5 324.9,1487.5 326.9,1486.5 328.9,1485.5 329.2,1485.5 330.9,1485.5 332.9,1485.5 334.9,1485.5 336.9,1485.5 338.9,1485.5 340.9,1485.5 341.5,1486.5 342.9,1488.5 344.9,1491.5 345.9,1493.5 346.9,1493.5 348.9,1494.5 350.9,1495.5 352.9,1496.5 354.9,1498.5 356.9,1499.5 357.3,1499.5 358.9,1499.5 360.9,1499.5 362.9,1498.5 364.9,1497.5 366.9,1497.5 368.9,1497.5 370.9,1496.5 372.9,1496.5 374.9,1495.5 376.9,1495.5 378.9,1494.5 380.9,1494.5 382,1494.5 382.9,1494.5 384.9,1495.5 386.9,1496.5 388.9,1496.5 390.9,1497.5 392.5,1498.5 392.9,1497.5 394.9,1496.5 396.9,1495.5 398.9,1494.5 400.9,1493.5 402.9,1492.5 403,1493.5 404.9,1493.5 406.9,1492.5 408.9,1492.5 410.9,1492.5 412.9,1492.5 414.9,1492.5 416.9,1491.5 418.9,1491.5 420.9,1491.5 422.9,1491.5 424.9,1491.5 426.9,1490.5 428.9,1490.5 430.9,1490.5 432.9,1490.5 434.9,1489.5 436.9,1489.5 438.9,1489.5 440.9,1489.5 442.9,1489.5 444.9,1489.5 446.9,1488.5 448.9,1488.5 450.9,1488.5 452.9,1488.5 454.9,1488.5 456.9,1488.5 458.9,1487.5 460.9,1487.5 462.9,1487.5 464.9,1487.5 466.9,1487.5 468.9,1486.5 470.9,1486.5 471.1,1486.5 472.9,1486.5 474.9,1486.5 476.9,1486.5 478.9,1486.5 480.9,1486.5 482.9,1486.5 484.9,1486.5 485.2,1486.5 486.9,1486.5 488.9,1486.5 490.9,1487.5 492.9,1487.5 494.9,1486.5 496.9,1487.5 498.9,1487.5 500.9,1487.5 502.9,1487.5 504.9,1487.5 506.9,1487.5 508,1487.5 508.9,1487.5 510.9,1486.5 512.9,1486.5 514.9,1485.5 516.9,1485.5 518.9,1484.5 520.3,1483.5 520.9,1483.5 522.9,1484.5 524.9,1485.5 526.9,1485.5 528.9,1486.5 530.9,1486.5 532.9,1486.5 534.9,1487.5 536.9,1488.5 537.9,1488.5 538.9,1488.5 540.9,1488.5 542.9,1488.5 544.9,1488.5 546.9,1488.5 548.9,1489.5 550.9,1489.5 552.9,1489.5 554.9,1489.5 556.9,1489.5 558.9,1490.5 560.9,1490.5 562.9,1490.5 564.9,1490.5 566.9,1490.5 568.9,1491.5 570.9,1491.5 572.9,1491.5 573,1491.5 574.9,1491.5 576.9,1492.5 578.9,1492.5 580.1,1492.5 580.9,1494.5 582.9,1496.5 583.6,1497.5 584.9,1497.5 586.9,1496.5 588.9,1496.5 590.9,1496.5 592.9,1496.5 594.9,1495.5 596.9,1495.5 598.9,1495.5 600.9,1494.5 602.9,1494.5 604.9,1494.5 606.9,1493.5 608.2,1493.5 608.9,1493.5 610.9,1493.5 612.9,1494.5 614.9,1494.5 616.9,1494.5 618.7,1494.5 618.9,1494.5 620.9,1490.5 622.9,1486.5 623.1,1486.5" fill="none" stroke="#c4d400" stroke-width="1"/>
<polyline points="108.5,1484.5 110.5,1490.5 111.2,1492.5 112.5,1492.5 114.5,1492.5 116.5,1492.5 118.5,1492.5 120.5,1492.5 122.5,1492.5 122.6,1493.5 124.5,1494.5 126.5,1495.5 127.9,1496.5 128.5,1496.5 130.5,1497.5 132.5,1497.5 134.5,1498.5 136.5,1498.5 136.6,1498.5 138.5,1498.5 140.5,1497.5 142.5,1496.5 144.5,1496.5 146.5,1496.5 148.5,1496.5 150.5,1495.5 150.7,1495.5 152.5,1495.5 154.5,1495.5 156.5,1495.5 157.7,1495.5 158.5,1495.5 160.5,1497.5 162.5,1498.5 164.5,1499.5 164.8,1499.5 166.5,1499.5 168.5,1500.5 170.5,1500.5 172.5,1501.5 174.5,1501.5 175.3,1501.5 176.5,1502.5 178.5,1502.5 180.5,1502.5 182.5,1502.5 184.5,1502.5 186.5,1502.5 188.5,1502.5 190.5,1502.5 192.5,1502.5 192.9,1502.5 194.5,1504.5 196.5,1506.5 198.2,1508.5 198.5,1508.5 200.5,1508.5 202.5,1508.5 204.5,1508.5 205.2,1508.5 206.5,1505.5 208.5,1501.5 210.5,1497.5 212.5,1497.5 214.5,1497.5 216.5,1497.5 218.5,1496.5 219.3,1496.5 220.5,1499.5 222.5,1504.5 224.5,1509.5 226.5,1508.5 228.5,1507.5 230.5,1506.5 231.6,1506.5 232.5,1499.5 234.5,1484.5 235.1,1480.5 236.5,1479.5 238.5,1478.5 240.5,1478.5 242.5,1477.5 243.9,1476.5 244.5,1476.5 246.5,1476.5 248.5,1476.5 250.5,1476.5 252.5,1476.5 254.4,1476.5 254.5,1476.5 256.5,1476.5 258.5,1477.5 260.5,1477.5 262.5,1477.5 264.5,1477.5 266.5,1477.5 268.5,1477.5 270.5,1477.5 272,1478.5 272.5,1478.5 274.5,1479.5 276.5,1480.5 277.3,1480.5 278.5,1480.5 280.5,1478.5 282.5,1477.5 284.5,1475.5 285,1475.5 286.5,1474.5 288.5,1473.5 288.8,1472.5 290.5,1472.5 292.3,1472.5 292.5,1472.5 294.5,1476.5 296.5,1479.5 297.6,1481.5 298.5,1480.5 300.5,1479.5 302.5,1478.5 304.5,1477.5 306.5,1475.5 308.1,1475.5 308.5,1475.5 310.5,1476.5 312.5,1478.5 314.5,1479.5 315.2,1479.5 316.5,1479.5 318.5,1478.5 320.5,1477.5 322.2,1477.5 322.5,1477.5 324.5,1475.5 326.5,1473.5 328.5,1471.5 329.2,1470.5 330.5,1471.5 332.5,1472.5 334.5,1472.5 336.2,1473.5 336.5,1473.5 338.5,1473.5 340.5,1474.5 342.5,1475.5 344.5,1476.5 345,1477.5 346.5,1478.5 348.5,1480.5 350.5,1482.5 352.5,1483.5 353.8,1484.5 354.5,1485.5 356.5,1485.5 358.5,1485.5 360.5,1485.5 362.5,1485.5 362.6,1485.5 364.5,1485.5 366.5,1486.5 368.5,1486.5 370.5,1486.5 372.5,1486.5 374.5,1487.5 376.5,1487.5 378.5,1487.5 380.5,1487.5 382.5,1488.5 384.5,1488.5 385.5,1488.5 386.5,1488.5 388.5,1488.5 390.5,1487.5 392.5,1487.5 394.5,1486.5 396.5,1485.5 398.5,1485.5 399.5,1484.5 400.5,1484.5 402.5,1484.5 404.5,1483.5 406.5,1483.5 408.5,1482.5 410.5,1481.5 412.5,1481.5 413.6,1480.5 414.5,1480.5 416.5,1479.5 418.5,1479.5 420.5,1478.5 422.5,1477.5 424.5,1477.5 426.5,1476.5 428.5,1476.5 430.5,1475.5 432.5,1474.5 432.9,1474.5 434.5,1474.5 436.5,1475.5 438.5,1475.5 440.5,1474.5 442.5,1475.5 444.5,1475.5 446.5,1475.5 448.5,1475.5 450.5,1475.5 452.5,1475.5 454.5,1476.5 456.5,1476.5 458.5,1476.5 460,1476.5 460.5,1476.5 462.5,1476.5 464.1,1476.5 464.5,1476.5 466.5,1478.5 467.6,1479.5 468.5,1479.5 470.5,1478.5 472.5,1477.5 474.5,1477.5 476.5,1476.5 478.5,1476.5 480.5,1475.5 481.6,1474.5 482.5,1474.5 484.5,1474.5 486.5,1474.5 488.5,1475.5 488.7,1475.5 490.5,1478.5 492.2,1480.5 492.5,1480.5 494.5,1480.5 496.5,1480.5 498.5,1480.5 500.5,1479.5 502.5,1478.5 504.5,1478.5 506.2,1478.5 506.5,1478.5 508.5,1477.5 510.5,1476.5 512.5,1475.5 514.5,1474.5 516.5,1473.5 518.5,1471.5 520.3,1471.5 520.5,1471.5 522.5,1471.5 524.5,1471.5 526.5,1472.5 528.5,1472.5 530.5,1473.5 532.5,1473.5 534.5,1473.5 536.5,1474.5 537.9,1474.5 538.5,1474.5 540.5,1475.5 542.5,1476.5 544.5,1477.5 544.9,1478.5 546.5,1477.5 548.5,1477.5 550.5,1477.5 552.5,1476.5 554.5,1476.5 555.5,1476.5 556.5,1476.5 558.5,1476.5 560.5,1476.5 562.5,1476.5 564.5,1475.5 566.5,1475.5 568.5,1475.5 570.5,1475.5 572.5,1475.5 573,1475.5 574.5,1476.5 576.5,1477.5 578.5,1478.5 580.1,1480.5 580.5,1479.5 582.5,1480.5 584.5,1480.5 586.5,1480.5 588.5,1480.5 590.5,1479.5 592.5,1479.5 594.1,1479.5 594.5,1479.5 596.5,1478.5 598.5,1478.5 600.5,1478.5 602.5,1477.5 604.5,1477.5 606.5,1476.5 608.2,1476.5 608.5,1476.5 610.5,1477.5 612.5,1477.5 614.5,1478.5 616.5,1479.5 618.5,1479.5 618.7,1479.5 620.5,1476.5 622.5,1471.5 623.1,1470.5" fill="none" stroke="#000000" stroke-width="1"/>
<polyline points="108.5,1485.5 110.5,1494.5 111.2,1497.5 112.5,1497.5 114.5,1497.5 116.5,1498.5 118.5,1498.5 120.5,1498.5 122.5,1499.5 124.3,1499.5 124.5,1499.5 126.5,1498.5 128.5,1498.5 130.5,1498.5 132.5,1497.5 134.5,1497.5 136.5,1497.5 138.5,1497.5 140,1496.5 140.5,1496.5 142.5,1496.5 144.5,1497.5 146.5,1496.5 148.5,1496.5 150.5,1496.5 152.5,1496.5 154.5,1496.5 156.5,1496.5 157.7,1496.5 158.5,1496.5 160.5,1497.5 162.5,1497.5 164.5,1498.5 166.5,1499.5 168.5,1500.5 170.5,1500.5 172.5,1501.5 174.5,1502.5 175.3,1502.5 176.5,1502.5 178.5,1502.5 180.5,1502.5 182.5,1501.5 184.5,1501.5 186.5,1501.5 188.5,1501.5 190.5,1501.5 192.5,1500.5 192.9,1500.5 194.5,1500.5 196.5,1501.5 198.2,1501.5 198.5,1501.5 200.5,1500.5 202.5,1500.5 204.5,1499.5 206.5,1498.5 208.5,1498.5 210.5,1497.5 212.5,1498.5 214.5,1499.5 216.5,1499.5 218.5,1499.5 220.5,1500.5 222.5,1501.5 222.8,1501.5 224.5,1500.5 226.5,1499.5 228.5,1498.5 230.5,1498.5 231.6,1497.5 232.5,1494.5 234.5,1489.5 235.1,1487.5 236.5,1483.5 238.5,1478.5 238.6,1477.5 240.5,1477.5 242.5,1477.5 244.5,1478.5 246.5,1478.5 248.5,1477.5 250.5,1478.5 252.5,1478.5 254.5,1477.5 256.5,1478.5 258.5,1478.5 260.5,1477.5 262.5,1478.5 264.5,1478.5 266.5,1477.5 268.5,1478.5 270.2,1477.5 270.5,1477.5 272.5,1478.5 274.5,1479.5 276.5,1480.5 277.3,1481.5 278.5,1480.5 280.5,1479.5 282.5,1478.5 284.5,1477.5 285,1476.5 286.5,1476.5 288.5,1475.5 290.5,1475.5 292.3,1474.5 292.5,1474.5 294.5,1477.5 296.5,1479.5 297.6,1481.5 298.5,1480.5 300.5,1479.5 302.5,1478.5 304.5,1478.5 306.5,1477.5 308.1,1476.5 308.5,1476.5 310.5,1477.5 312.5,1478.5 314.5,1479.5 315.2,1480.5 316.5,1480.5 318.5,1478.5 320.5,1478.5 322.5,1476.5 324.5,1476.5 326.5,1475.5 328.5,1474.5 329.2,1473.5 330.5,1474.5 332.5,1475.5 334.5,1476.5 336.5,1477.5 338.5,1477.5 340.5,1478.5 342.5,1479.5 344.5,1479.5 346.5,1480.5 346.8,1480.5 348.5,1480.5 350.5,1481.5 352.5,1481.5 354.5,1481.5 356.5,1482.5 358.5,1482.5 360.5,1482.5 360.9,1482.5 362.5,1482.5 364.5,1482.5 366.5,1482.5 368.5,1482.5 370.5,1482.5 372.5,1482.5 374.5,1481.5 376.5,1481.5 378.5,1481.5 380.5,1481.5 382.5,1482.5 384.5,1481.5 385.5,1481.5 386.5,1481.5 388.5,1481.5 390.5,1481.5 392.5,1481.5 394.5,1481.5 396.5,1481.5 398.5,1480.5 400.5,1480.5 402.5,1480.5 404.5,1480.5 406.5,1480.5 408.5,1479.5 410.5,1479.5 411.8,1479.5 412.5,1479.5 414.5,1479.5 416.5,1478.5 418.5,1479.5 420.5,1479.5 422.5,1478.5 424.5,1478.5 426.5,1478.5 428.5,1478.5 430.5,1478.5 432.5,1478.5 432.9,1478.5 434.5,1478.5 436.5,1478.5 438.5,1479.5 440.5,1479.5 442.5,1479.5 444.5,1479.5 446.5,1480.5 448.5,1480.5 450.5,1480.5 452.5,1481.5 454.5,1481.5 456.5,1481.5 458.5,1481.5 460,1481.5 460.5,1481.5 462.5,1481.5 464.5,1481.5 466.5,1481.5 467.6,1481.5 468.5,1481.5 470.5,1480.5 472.5,1480.5 474.5,1480.5 476.5,1480.5 478.5,1480.5 480.5,1479.5 482.5,1479.5 484.5,1479.5 486.5,1479.5 488.5,1479.5 488.7,1479.5 490.5,1479.5 492.5,1479.5 494.5,1479.5 496.5,1479.5 498.5,1479.5 500.5,1480.5 502.5,1480.5 504.5,1480.5 506.2,1480.5 506.5,1479.5 508.5,1479.5 510.5,1478.5 512.5,1478.5 514.5,1477.5 516.5,1477.5 518.5,1476.5 520.3,1476.5 520.5,1476.5 522.5,1476.5 524.5,1476.5 526.5,1476.5 528.5,1476.5 530.5,1476.5 532.5,1476.5 534.5,1476.5 536.5,1477.5 537.9,1477.5 538.5,1476.5 540.5,1477.5 542.5,1477.5 544.5,1477.5 546.5,1477.5 548.5,1477.5 550.5,1478.5 552.5,1478.5 554.5,1478.5 555.5,1479.5 556.5,1479.5 558.5,1479.5 560.5,1479.5 562.5,1479.5 564.5,1479.5 566.5,1479.5 568.5,1479.5 570.5,1480.5 572.5,1480.5 573,1480.5 574.5,1481.5 576.5,1482.5 578.5,1484.5 580.1,1485.5 580.5,1485.5 582.5,1485.5 584.5,1485.5 586.5,1485.5 588.5,1485.5 590.5,1485.5 592.5,1485.5 594.5,1485.5 596.5,1485.5 598.5,1485.5 600.5,1484.5 602.5,1484.5 604.5,1484.5 606.5,1485.5 608.2,1485.5 608.5,1485.5 610.5,1485.5 612.5,1485.5 614.5,1485.5 616.5,1486.5 618.5,1486.5 618.7,1486.5 620.5,1482.5 622.5,1479.5 623.1,1478.5" fill="none" stroke="#000000" stroke-width="1"/>
<polyline points="759,1413.5 761,1413.5 763,1412.5 765,1411.5 765.2,1411.5 767,1411.5 769,1411.5 771,1411.5 772.8,1411.5 773,1411.5 775,1412.5 776.6,1413.5 777,1412.5 779,1412.5 780.4,1412.5 781,1412.5 783,1412.5 785,1413.5 787,1413.5 789,1413.5 791,1413.5 791.8,1414.5 793,1414.5 795,1414.5 797,1415.5 799,1415.5 800.7,1416.5 801,1415.5 803,1414.5 805,1414.5 805.8,1413.5 807,1414.5 809,1414.5 810.9,1414.5 811,1414.5 813,1415.5 814.7,1416.5 815,1416.5 817,1416.5 819,1416.5 821,1417.5 823,1417.5 825,1417.5 826.1,1417.5 827,1416.5 829,1415.5 831,1414.5 831.2,1414.5 833,1414.5 835,1414.5 837,1414.5 839,1414.5 840.1,1415.5 841,1415.5 843,1415.5 845,1416.5 847,1416.5 848.9,1417.5 849,1417.5 851,1418.5 853,1419.5 854,1419.5 855,1418.5 857,1417.5 857.8,1417.5 859,1416.5 861,1413.5 862.9,1411.5 863,1411.5 865,1411.5 867,1411.5 868,1411.5 869,1410.5 871,1410.5 873,1409.5 875,1409.5 876.9,1409.5 877,1409.5 879,1409.5 881,1409.5 883,1409.5 885,1409.5 887,1409.5 887.6,1409.5 889,1411.5 890.2,1411.5 891,1412.5 893,1414.5 895,1416.5 896.5,1417.5 897,1417.5 899,1418.5 901,1418.5 901.6,1418.5 903,1418.5 905,1418.5 907,1418.5 909,1418.5 909.2,1418.5 911,1417.5 913,1416.5 914.3,1415.5 915,1414.5 917,1411.5 918.1,1410.5 919,1410.5 920.6,1409.5 921,1409.5 923,1409.5 925,1409.5 927,1409.5 929,1408.5 930.8,1409.5 931,1409.5 933,1409.5 935,1409.5 937,1409.5 938.4,1409.5 939,1409.5 941,1410.5 943,1410.5 945,1410.5 947,1410.5 948.6,1411.5 949,1411.5 951,1411.5 953,1412.5 955,1413.5 956.2,1413.5 957,1413.5 959,1413.5 961,1414.5 963,1415.5 965,1415.5 966.3,1415.5 967,1415.5 969,1414.5 971,1413.5 971.4,1413.5 973,1412.5 975,1410.5 977,1409.5 977.8,1409.5 979,1409.5 981,1409.5 983,1409.5 985,1409.5 987,1409.5 989,1409.5 990.4,1409.5 991,1410.5 993,1410.5 995,1411.5 995.5,1411.5 997,1413.5 999,1416.5 999.3,1416.5 1001,1417.5 1003,1417.5 1003.8,1418.5" fill="none" stroke="#000000" stroke-width="1"/>
<polyline points="759,1414.5 761,1413.5 763,1414.5 765,1413.5 767,1413.5 769,1413.5 771,1413.5 771.5,1413.5 773,1414.5 775,1416.5 777,1418.5 779,1419.5 779.1,1419.5 781,1418.5 783,1418.5 785,1417.5 785.5,1417.5 787,1417.5 789,1417.5 791,1417.5 793,1417.5 795,1417.5 797,1418.5 798.2,1417.5 799,1418.5 801,1417.5 803,1417.5 805,1416.5 805.8,1416.5 807,1416.5 809,1417.5 811,1417.5 813,1418.5 813.4,1418.5 815,1418.5 817,1419.5 819,1419.5 821,1419.5 823,1420.5 825,1420.5 826.1,1420.5 827,1419.5 829,1419.5 831,1418.5 831.2,1418.5 833,1418.5 835,1418.5 837,1418.5 839,1418.5 841,1418.5 843,1418.5 845,1418.5 846.4,1418.5 847,1418.5 849,1419.5 851,1420.5 853,1421.5 854,1422.5 855,1421.5 857,1420.5 859,1418.5 860.4,1417.5 861,1416.5 863,1415.5 864.2,1414.5 865,1414.5 867,1414.5 869,1414.5 871,1414.5 873,1414.5 873.1,1414.5 875,1413.5 877,1412.5 879,1411.5 879.4,1411.5 881,1411.5 883,1411.5 885,1411.5 887,1411.5 889,1411.5 890.2,1411.5 891,1413.5 893,1415.5 895,1417.5 896.5,1419.5 897,1420.5 899,1419.5 901,1419.5 903,1419.5 905,1419.5 907,1419.5 909,1419.5 911,1418.5 912,1418.5 913,1417.5 915,1414.5 917,1412.5 918,1411.5 919,1411.5 921,1410.5 923,1411.5 925,1410.5 927,1411.5 929,1411.5 931,1411.5 933,1411.5 935,1411.5 937,1411.5 939,1411.5 941,1411.5 943,1411.5 945,1411.5 947,1411.5 948,1411.5 949,1411.5 951,1411.5 953,1412.5 955,1412.5 957,1412.5 959,1412.5 961,1413.5 963,1413.5 965,1413.5 966.3,1414.5 967,1413.5 969,1413.5 971,1412.5 971.4,1412.5 973,1412.5 975,1412.5 977,1412.5 979,1412.5 981,1412.5 983,1412.5 985,1412.5 987,1412.5 989,1412.5 991,1412.5 993,1412.5 994.3,1412.5 995,1413.5 997,1414.5 999,1415.5 999.3,1415.5 1001,1416.5 1003,1417.5 1003.8,1418.5" fill="none" stroke="#000000" stroke-width="1"/>
<polyline points="759,1423.5 761,1423.5 763,1422.5 765,1422.5 767,1422.5 767.7,1422.5 769,1422.5 771,1422.5 773,1423.5 775,1423.5 777,1423.5 777.9,1423.5 779,1423.5 781,1424.5 783,1424.5 785,1424.5 787,1424.5 789,1425.5 790.5,1425.5 791,1425.5 793,1426.5 795,1426.5 797,1426.5 799,1426.5 801,1426.5 803,1425.5 803.2,1426.5 805,1425.5 807,1424.5 809,1423.5 809.6,1422.5 811,1422.5 813,1422.5 815,1422.5 815.9,1422.5 817,1423.5 819,1423.5 821,1423.5 823,1424.5 824.8,1425.5 825,1425.5 827,1425.5 829,1425.5 831,1425.5 833,1425.5 833.7,1426.5 835,1427.5 836.2,1428.5 837,1428.5 839,1428.5 841,1428.5 843,1428.5 845,1428.5 847,1427.5 849,1427.5 851,1427.5 853,1428.5 855,1428.5 856.6,1428.5 857,1427.5 859,1425.5 861,1422.5 863,1420.5 864.2,1419.5 865,1419.5 867,1419.5 869,1419.5 871,1419.5 873,1418.5 875,1418.5 876.9,1418.5 877,1418.5 879,1419.5 881,1419.5 883,1419.5 885,1420.5 887,1420.5 887.6,1421.5 889,1421.5 891,1422.5 893,1423.5 895,1424.5 897,1424.5 897.8,1425.5 899,1425.5 901,1426.5 903,1426.5 905,1427.5 905.4,1427.5 907,1427.5 909,1427.5 911,1427.5 913,1427.5 915,1423.5 917,1419.5 918.1,1417.5 919,1416.5 921,1416.5 923,1416.5 923.2,1416.5 925,1417.5 927,1418.5 929,1419.5 931,1421.5 933,1422.5 933.3,1422.5 935,1421.5 937,1421.5 939,1421.5 941,1421.5 943,1421.5 943.5,1421.5 945,1421.5 947,1421.5 949,1421.5 951,1421.5 951.1,1421.5 953,1421.5 955,1422.5 956.2,1423.5 957,1423.5 959,1425.5 961,1426.5 961.3,1427.5 963,1427.5 965,1426.5 967,1426.5 969,1426.5 971,1426.5 973,1427.5 973.9,1427.5 975,1424.5 976.5,1421.5 977,1421.5 979,1420.5 981,1419.5 981.6,1419.5 983,1419.5 985,1419.5 987,1419.5 989,1419.5 991,1419.5 993,1419.5 994.3,1419.5 995,1419.5 997,1422.5 999,1424.5 999.3,1424.5 1001,1425.5 1003,1426.5 1003.8,1426.5" fill="none" stroke="#c4d400" stroke-width="1"/>
<polyline points="759,1424.5 761,1424.5 763,1424.5 765,1424.5 767,1424.5 769,1424.5 771,1424.5 773,1424.5 775,1424.5 777,1424.5 779,1424.5 781,1424.5 783,1424.5 785,1424.5 787,1424.5 789,1424.5 791,1424.5 793,1425.5 795,1425.5 797,1425.5 799,1425.5 801,1425.5 803,1425.5 805,1425.5 805.8,1425.5 807,1425.5 809,1425.5 811,1425.5 813,1425.5 815,1425.5 817,1425.5 819,1425.5 821,1425.5 823,1426.5 825,1427.5 826.1,1428.5 827,1427.5 829,1427.5 831,1428.5 833,1428.5 835,1428.5 837,1428.5 839,1428.5 841,1428.5 843,1428.5 845,1428.5 847,1428.5 849,1428.5 851,1428.5 853,1428.5 855,1428.5 856.6,1428.5 857,1427.5 859,1425.5 861,1423.5 863,1421.5 864.2,1420.5 865,1420.5 867,1420.5 869,1420.5 871,1420.5 873,1419.5 875,1419.5 876.9,1419.5 877,1419.5 879,1420.5 881,1420.5 883,1420.5 885,1420.5 887,1421.5 889,1422.5 891,1423.5 893,1424.5 895,1425.5 897,1426.5 897.8,1426.5 899,1426.5 901,1426.5 903,1426.5 905,1427.5 907,1427.5 909,1427.5 911,1427.5 913,1428.5 915,1424.5 917,1420.5 918.1,1418.5 919,1418.5 921,1417.5 923,1417.5 923.2,1417.5 925,1418.5 927,1419.5 929,1420.5 931,1421.5 933,1422.5 933.3,1422.5 935,1422.5 937,1422.5 939,1422.5 941,1422.5 943,1422.5 945,1422.5 947,1422.5 949,1422.5 951,1422.5 951.1,1422.5 953,1423.5 955,1424.5 957,1425.5 959,1426.5 961,1427.5 961.3,1427.5 963,1427.5 965,1427.5 967,1427.5 969,1427.5 971,1427.5 973,1427.5 973.9,1427.5 975,1426.5 976.5,1425.5 977,1426.5 979,1425.5 981,1425.5 983,1426.5 985,1426.5 986.6,1426.5 987,1426.5 989,1424.5 991,1422.5 991.7,1421.5 993,1421.5 995,1421.5 996,1421.5 997,1422.5 999,1425.5 999.3,1425.5 1001,1426.5 1003,1426.5 1003.8,1427.5" fill="none" stroke="#c4d400" stroke-width="1"/>
<polyline points="758.2,1474.5 760.2,1474.5 762.2,1475.5 762.6,1475.5 764.2,1475.5 766.2,1475.5 768.2,1475.5 770.2,1475.5 772.2,1475.5 772.8,1475.5 774.2,1475.5 776.2,1474.5 778.2,1473.5 780.2,1473.5 780.4,1473.5 782.2,1473.5 784.2,1473.5 785.5,1473.5 786.2,1473.5 788.2,1473.5 790.2,1474.5 792.2,1474.5 793.1,1475.5 794.2,1476.5 796.2,1479.5 796.9,1479.5 798.2,1479.5 800.2,1479.5 802.2,1480.5 803.2,1479.5 804.2,1479.5 806.2,1478.5 808.2,1477.5 810.2,1476.5 810.9,1476.5 812.2,1476.5 814.2,1476.5 816.2,1476.5 818.2,1476.5 818.5,1476.5 820.2,1477.5 822.2,1479.5 822.3,1479.5 824.2,1479.5 826.2,1477.5 828.2,1477.5 829.9,1476.5 830.2,1476.5 832.2,1475.5 834.2,1475.5 836.2,1475.5 838.2,1475.5 838.8,1475.5 840.2,1476.5 842.2,1477.5 844.2,1479.5 846.2,1480.5 848.2,1481.5 848.9,1482.5 850.2,1482.5 852.2,1481.5 854.2,1481.5 856.2,1481.5 856.6,1481.5 858.2,1480.5 860.2,1480.5 862.2,1479.5 864.2,1478.5 866.2,1478.5 868.2,1478.5 870.2,1477.5 872.2,1477.5 874.2,1477.5 874.3,1477.5 876.2,1476.5 878.2,1475.5 880.2,1474.5 880.7,1474.5 882.2,1474.5 884.2,1473.5 886.2,1473.5 887.6,1473.5 888.2,1473.5 890.2,1475.5 892.2,1476.5 894.2,1477.5 895.2,1478.5 896.2,1477.5 898.2,1476.5 899,1475.5 900.2,1475.5 902.2,1476.5 904.2,1477.5 906.2,1477.5 908.2,1478.5 910.2,1478.5 910.5,1478.5 912.2,1478.5 914.2,1476.5 916.2,1476.5 918.1,1474.5 918.2,1474.5 920.2,1473.5 922.2,1472.5 924.2,1471.5 924.4,1471.5 926.2,1472.5 928.2,1472.5 930.2,1472.5 932.2,1472.5 933.3,1472.5 934.2,1472.5 936.2,1472.5 938.2,1472.5 940.2,1473.5 942.2,1473.5 943.5,1473.5 944.2,1474.5 946.2,1475.5 948.2,1477.5 950.2,1479.5 951.1,1479.5 952.2,1479.5 954.2,1477.5 956.2,1476.5 957.4,1475.5 958.2,1475.5 960.2,1476.5 962.2,1477.5 964.2,1478.5 966.2,1478.5 966.3,1479.5 968.2,1478.5 970.2,1477.5 972.2,1476.5 974.2,1475.5 976.2,1474.5 977.8,1474.5 978.2,1474.5 980.2,1474.5 982.2,1473.5 984.2,1473.5 986.2,1473.5 988.2,1473.5 990.2,1473.5 991.7,1472.5 992.2,1473.5 994.2,1476.5 996.2,1480.5 998.2,1484.5 999.3,1486.5 1000.2,1486.5 1002.2,1486.5 1003.8,1486.5" fill="none" stroke="#000000" stroke-width="1"/>
<polyline points="758.2,1478.5 760.2,1479.5 762.2,1481.5 762.6,1481.5 764.2,1481.5 766.2,1481.5 768.2,1481.5 769,1481.5 770.2,1481.5 772.2,1480.5 774.2,1480.5 776.2,1479.5 778.2,1478.5 780.2,1478.5 780.4,1478.5 782.2,1478.5 784.2,1479.5 786.2,1479.5 788,1480.5 788.2,1480.5 790.2,1482.5 792.2,1483.5 794.2,1485.5 796.2,1486.5 796.9,1486.5 798.2,1486.5 800.2,1485.5 802.2,1484.5 804.2,1483.5 805.8,1483.5 806.2,1483.5 808.2,1483.5 810.2,1483.5 812.2,1483.5 814.2,1483.5 816.2,1483.5 818.2,1483.5 818.5,1483.5 820.2,1484.5 821,1484.5 822.2,1484.5 824.2,1483.5 826.1,1483.5 826.2,1483.5 828.2,1483.5 830.2,1483.5 832.2,1483.5 834.2,1483.5 836.2,1483.5 837.5,1483.5 838.2,1483.5 840.2,1484.5 842.2,1485.5 843.9,1486.5 844.2,1486.5 846.2,1486.5 848.2,1486.5 850.2,1486.5 852.2,1486.5 854.2,1486.5 856.2,1486.5 858.2,1486.5 860.2,1486.5 862.2,1486.5 864.2,1486.5 866.2,1486.5 868.2,1486.5 870.2,1486.5 872.2,1486.5 874.2,1486.5 875.6,1486.5 876.2,1485.5 878.2,1481.5 879.4,1479.5 880.2,1479.5 882.2,1478.5 884.2,1478.5 886.2,1478.5 888.2,1477.5 890.2,1477.5 892.2,1478.5 894.2,1478.5 896.2,1479.5 898.2,1479.5 900.2,1479.5 902.2,1480.5 904.2,1481.5 905.4,1481.5 906.2,1481.5 908.2,1481.5 910.2,1481.5 912.2,1481.5 913,1481.5 914.2,1481.5 916.2,1480.5 918.2,1479.5 920.2,1478.5 922.2,1477.5 924.2,1476.5 925.7,1476.5 926.2,1476.5 928.2,1476.5 930.2,1476.5 932.2,1476.5 934.2,1476.5 936.2,1476.5 938.2,1476.5 940.2,1477.5 942.2,1476.5 943.5,1477.5 944.2,1477.5 946.2,1479.5 948.2,1481.5 950.2,1483.5 951.1,1483.5 952.2,1483.5 954.2,1483.5 956.2,1483.5 958.2,1482.5 958.7,1482.5 960.2,1482.5 962.2,1482.5 964.2,1482.5 966.2,1481.5 968.2,1482.5 968.9,1481.5 970.2,1481.5 972.2,1480.5 974.2,1479.5 976.2,1478.5 976.5,1478.5 978.2,1478.5 980.2,1477.5 982.2,1477.5 984.2,1477.5 986.2,1477.5 988.2,1477.5 990.2,1477.5 991.7,1477.5 992.2,1477.5 994.2,1479.5 996.2,1480.5 996.8,1481.5 998.2,1481.5 1000.2,1481.5 1002.2,1482.5 1003.8,1482.5" fill="none" stroke="#000000" stroke-width="1"/>
<polyline points="758.2,1491.5 760.2,1491.5 762.2,1490.5 764.2,1490.5 766.2,1490.5 767.7,1490.5 768.2,1490.5 770.2,1490.5 772.2,1489.5 774.2,1489.5 776.2,1489.5 778.2,1489.5 780.2,1489.5 780.4,1489.5 782.2,1489.5 784.2,1489.5 786.2,1489.5 788.2,1489.5 790.2,1489.5 790.5,1489.5 792.2,1490.5 794.2,1491.5 796.2,1492.5 798.2,1493.5 799.4,1494.5 800.2,1494.5 802.2,1494.5 804.2,1493.5 806.2,1493.5 808.2,1493.5 810.2,1493.5 812.2,1493.5 814.2,1493.5 816.2,1492.5 818.2,1492.5 818.5,1492.5 820.2,1492.5 822.2,1492.5 824.2,1493.5 826.2,1493.5 828.2,1493.5 828.6,1493.5 830.2,1493.5 832.2,1492.5 834.2,1491.5 836.2,1490.5 837.5,1490.5 838.2,1490.5 840.2,1491.5 842.2,1492.5 844.2,1492.5 846.2,1493.5 848.2,1493.5 850.2,1494.5 852.2,1494.5 854.2,1494.5 856.2,1494.5 858.2,1494.5 860.2,1494.5 861.6,1494.5 862.2,1493.5 864.2,1493.5 866.2,1493.5 868.2,1493.5 869.3,1492.5 870.2,1492.5 872.2,1491.5 874.2,1490.5 876.2,1489.5 878.2,1488.5 880.2,1487.5 882,1486.5 882.2,1486.5 884.2,1487.5 885,1487.5 886.2,1487.5 888.2,1487.5 890.2,1486.5 892.2,1486.5 892.7,1486.5 894.2,1487.5 896.2,1487.5 898.2,1488.5 900.2,1488.5 900.3,1488.5 902.2,1488.5 904.2,1488.5 906.2,1488.5 908.2,1488.5 910.2,1488.5 910.5,1488.5 912.2,1487.5 914.2,1486.5 916.2,1485.5 916.8,1485.5 918.2,1484.5 920.2,1484.5 922.2,1484.5 924.2,1483.5 925.7,1484.5 926.2,1484.5 928.2,1484.5 930.2,1484.5 932.2,1484.5 934.2,1484.5 936.2,1485.5 938.2,1485.5 940.2,1485.5 942.2,1485.5 943.5,1485.5 944.2,1486.5 946.2,1488.5 948.2,1489.5 948.6,1489.5 950.2,1490.5 952.2,1490.5 954.2,1490.5 956.2,1490.5 958.2,1490.5 960.2,1491.5 962.2,1491.5 964.2,1491.5 966.2,1491.5 966.3,1491.5 968.2,1490.5 970.2,1490.5 972.2,1489.5 973.9,1488.5 974.2,1488.5 976.2,1488.5 978.2,1488.5 980.2,1488.5 982.2,1488.5 984.2,1488.5 986.2,1488.5 988.2,1488.5 990.2,1488.5 990.4,1488.5 992.2,1489.5 994.2,1489.5 996.2,1490.5 996.8,1490.5 998.2,1491.5 1000.2,1493.5 1002.2,1494.5 1003.8,1496.5" fill="none" stroke="#c4d400" stroke-width="1"/>
<polyline points="758.2,1491.5 760.2,1491.5 762.2,1491.5 764.2,1490.5 766.2,1490.5 768.2,1490.5 770.2,1490.5 772.2,1490.5 774.2,1490.5 776.2,1490.5 778.2,1490.5 780.2,1490.5 782.2,1490.5 784.2,1490.5 786.2,1490.5 788.2,1490.5 790.2,1490.5 790.5,1490.5 792.2,1491.5 794.2,1492.5 796.2,1493.5 798.2,1494.5 799.4,1494.5 800.2,1494.5 802.2,1494.5 804.2,1494.5 806.2,1494.5 808.2,1493.5 810.2,1493.5 812.2,1493.5 814.2,1493.5 816.2,1493.5 818.2,1493.5 818.5,1493.5 820.2,1493.5 822.2,1493.5 824.2,1492.5 826.2,1492.5 828.2,1492.5 830.2,1492.5 832.2,1491.5 834.2,1491.5 836.2,1491.5 837.5,1491.5 838.2,1491.5 840.2,1491.5 842.2,1491.5 843.9,1492.5 844.2,1492.5 846.2,1492.5 848.2,1492.5 850.2,1492.5 852.2,1492.5 854.2,1492.5 856.2,1492.5 858.2,1492.5 860.2,1492.5 861.6,1493.5 862.2,1492.5 864.2,1492.5 866.2,1491.5 868.2,1490.5 870.2,1489.5 872.2,1488.5 874.2,1488.5 874.3,1488.5 876.2,1488.5 878.2,1487.5 880.2,1487.5 882.2,1487.5 884.2,1487.5 885,1487.5 886.2,1487.5 888.2,1488.5 890.2,1488.5 892.2,1488.5 894.2,1488.5 896.2,1489.5 898.2,1489.5 900.2,1489.5 900.3,1489.5 902.2,1489.5 904.2,1489.5 906.2,1489.5 908.2,1489.5 910.2,1489.5 910.5,1489.5 912.2,1488.5 914.2,1487.5 916.2,1486.5 916.8,1486.5 918.2,1486.5 920.2,1486.5 922.2,1486.5 924.2,1486.5 926.2,1486.5 928.2,1486.5 930.2,1486.5 932.2,1486.5 934.2,1486.5 936.2,1486.5 938.2,1486.5 940.2,1486.5 942.2,1486.5 943.5,1486.5 944.2,1486.5 946.2,1488.5 948.2,1490.5 948.6,1490.5 950.2,1490.5 952.2,1491.5 954.2,1491.5 956.2,1491.5 958.2,1491.5 960.2,1491.5 962.2,1491.5 964.2,1492.5 966.2,1492.5 966.3,1492.5 968.2,1492.5 970.2,1491.5 972.2,1490.5 973.9,1489.5 974.2,1489.5 976.2,1489.5 978.2,1489.5 980.2,1489.5 982.2,1489.5 984.2,1489.5 986.2,1489.5 988.2,1489.5 990.2,1488.5 990.4,1488.5 992.2,1489.5 994.2,1490.5 996.2,1491.5 996.8,1491.5 998.2,1493.5 1000.2,1494.5 1002.2,1495.5 1003.8,1497.5" fill="none" stroke="#c4d400" stroke-width="1"/>
<polyline points="20,1394.5 22,1394.5 24,1394.5 25,1393.5 26,1393.5 28,1392.5 29,1392.5 30,1392.5 32,1392.5 34,1392.5 36,1392.5 38,1392.5 40,1392.5 42,1395.5 43,1396.5 44,1397.5 46,1400.5" fill="none" stroke="#c4d400" stroke-width="1"/>
<polyline points="20,1394.5 22,1394.5 24,1393.5 26,1393.5 28,1393.5 29,1393.5 30,1393.5 32,1393.5 34,1393.5 36,1393.5 38,1393.5 40,1393.5 42,1395.5 44,1397.5 45,1398.5" fill="none" stroke="#c4d400" stroke-width="1"/>
<polyline points="20,1409.5 22,1409.5 24,1409.5 25,1408.5 26,1408.5 28,1407.5 30,1406.5 32,1406.5 34,1406.5 36,1405.5 38,1405.5 40,1405.5 42,1405.5 44,1405.5 46,1405.5" fill="none" stroke="#000000" stroke-width="1"/>
<polyline points="20,1412.5 22,1412.5 24,1412.5 26,1410.5 28,1409.5 30,1408.5 32,1407.5 34,1407.5 36,1406.5 38,1407.5 39,1408.5 40,1409.5 42,1412.5 44,1412.5 46,1412.5" fill="none" stroke="#000000" stroke-width="1"/>
<polyline points="20,1485.5 22,1485.5 24,1485.5 26,1486.5 27,1486.5 28,1486.5 30,1486.5 32,1487.5 33,1487.5 34,1487.5 36,1487.5 38,1487.5 40,1487.5 42,1487.5 44,1487.5" fill="none" stroke="#c4d400" stroke-width="1"/>
<polyline points="20,1489.5 22,1488.5 24,1488.5 26,1487.5 27,1487.5 28,1487.5 30,1488.5 32,1489.5 33,1489.5 34,1489.5 36,1489.5 38,1489.5 40,1489.5 42,1489.5 44,1489.5" fill="none" stroke="#c4d400" stroke-width="1"/>
<polyline points="20,1486.5 22,1486.5 24,1486.5 26,1486.5 27,1485.5 28,1486.5 30,1486.5 32,1486.5 33,1486.5 34,1486.5 36,1486.5 38,1486.5 40,1487.5 42,1485.5 44,1483.5" fill="none" stroke="#000000" stroke-width="1"/>
<polyline points="20,1494.5 22,1493.5 24,1492.5 26,1491.5 28,1491.5 30,1490.5 32,1491.5 34,1491.5 36,1492.5 38,1493.5 40,1494.5 42,1492.5 44,1490.5" fill="none" stroke="#000000" stroke-width="1"/>
<polyline points="679,1409.5 683,1409.5" fill="none" stroke="#000000" stroke-width="1"/>
<polyline points="679,1419.5 681,1420.5 683,1420.5" fill="none" stroke="#c4d400" stroke-width="1"/>
<polyline points="679,1474.5 683,1474.5" fill="none" stroke="#000000" stroke-width="1"/>
<polyline points="679,1485.5 683,1485.5" fill="none" stroke="#c4d400" stroke-width="1"/>
<polyline points="679,1486.5 683,1486.5" fill="none" stroke="#c4d400" stroke-width="1"/>
</svg></body></html>
